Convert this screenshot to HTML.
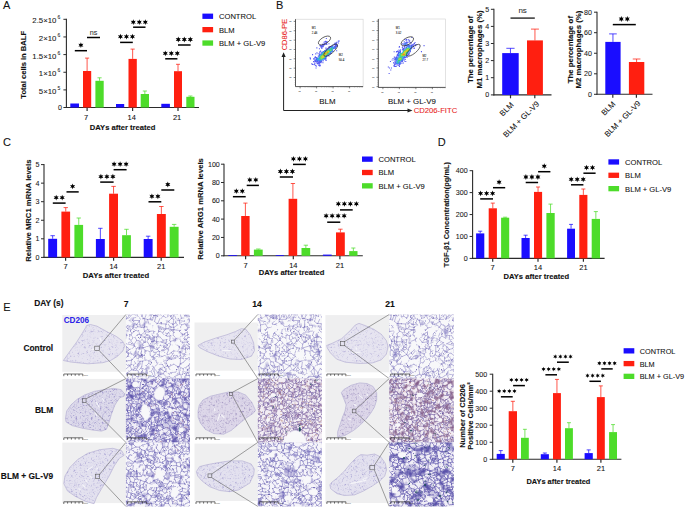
<!DOCTYPE html><html><head><meta charset="utf-8"><style>html,body{margin:0;padding:0;background:#fff;overflow:hidden}svg{display:block}</style></head><body>
<svg width="685" height="508" viewBox="0 0 685 508" font-family='"Liberation Sans", sans-serif'>
<defs><filter id="soft" x="-50%" y="-50%" width="200%" height="200%"><feGaussianBlur stdDeviation="0.5"/></filter><clipPath id="c1"><rect x="62.30" y="314.50" width="63.60" height="64.10"/></clipPath><clipPath id="c2"><rect x="125.90" y="314.50" width="64.10" height="64.10"/></clipPath><clipPath id="c3"><rect x="194.50" y="314.50" width="63.30" height="64.10"/></clipPath><clipPath id="c4"><rect x="257.80" y="314.50" width="64.20" height="64.10"/></clipPath><clipPath id="c5"><rect x="325.40" y="314.50" width="63.80" height="64.10"/></clipPath><clipPath id="c6"><rect x="389.20" y="314.50" width="64.60" height="64.10"/></clipPath><clipPath id="c7"><rect x="62.30" y="378.60" width="63.60" height="63.80"/></clipPath><clipPath id="c8"><rect x="125.90" y="378.60" width="64.10" height="63.80"/></clipPath><clipPath id="c9"><rect x="194.50" y="378.60" width="63.30" height="63.80"/></clipPath><clipPath id="c10"><rect x="257.80" y="378.60" width="64.20" height="63.80"/></clipPath><clipPath id="c11"><rect x="325.40" y="378.60" width="63.80" height="63.80"/></clipPath><clipPath id="c12"><rect x="389.20" y="378.60" width="64.60" height="63.80"/></clipPath><clipPath id="c13"><rect x="62.30" y="442.40" width="63.60" height="64.00"/></clipPath><clipPath id="c14"><rect x="125.90" y="442.40" width="64.10" height="64.00"/></clipPath><clipPath id="c15"><rect x="194.50" y="442.40" width="63.30" height="64.00"/></clipPath><clipPath id="c16"><rect x="257.80" y="442.40" width="64.20" height="64.00"/></clipPath><clipPath id="c17"><rect x="325.40" y="442.40" width="63.80" height="64.00"/></clipPath><clipPath id="c18"><rect x="389.20" y="442.40" width="64.60" height="64.00"/></clipPath><pattern id="vc" patternUnits="userSpaceOnUse" width="80" height="80"><rect width="80" height="80" fill="#f8f8fa"/><path d="M169 240l21 2M167 231l20-13M187 218l7 14M212 220l-24-5M212 220l-4 14M188 215l-1 3M177 165l2-11M177 165l29-4M179 154l14-10M193 144l15 15M206 161l2-2M172 172l27 11M204 178l-4 5M204 178l2-17M173 170l4-5M199 183l1 0M222 173l-7 8M222 173l-4-7M215 181l-11-3M208 159l2-1M204 133l-10 0M204 133l12 9M194 133l-1 11M210 158l8-11M270-2l8 23M270-2l11-1M281-3l9 3M306 13l-8-8M291 23l-13-2M-12 168l13-13M-12 168l11-26M1 155l4-10M9 146l-4-1M10 162l-1 1M306 13l5 1M298 5l7-23M311 14l0 0M311 14l9-20M169 240l-1 1M190 242l0 5M168 241l0 2M237 112l-9-1M251 97l-2 14M251 97l-18-17M228 111l-10-6M248 111l1 0M218 105l-1-3M233 80l-6 1M227 81l-11 17M217 102l-1-4M245 130l-7 9M245 130l3-19M231 139l6-27M187 95l30 7M187 95l18-10M205 85l11 13M234 151l-13-5M221 146l-3 1M232 163l8 3M240 166l3-1M231 139l-10 7M216 142l12-31M231 178l9-12M313 28l6 17M308 55l11-10M313 27l26 13M312 22l31 14M291 23l-3 9M295 48l1 0M313 28l0-1M330 50l-11-5M342 16l-31-2M10 162l15 12M9 163l-9 13M0 176l10 2M12 160l19 2M31 162l-5 11M194 133l-7-5M179 154l-4-14M187 128l0 0M187 128l-1 0M175 140l11-12M118 263l-11-8M118 263l0 15M101 271l6 4M101 271l5-15M106 256l1-1M118 278l-11-3M85 257l0 0M85 257l3 15M85 257l21-1M94 273l7-2M88 272l3 2M108 251l13-9M118 263l4-1M121 242l1 20M40 26l-8 9M40 26l-12-15M22 16l2 19M24 35l8 0M56 39l-1-9M56 39l0 0M56 39l-8 1M48 40l-16-5M55 30l-15-4M33 7l19 10M55 30l-3-13M290 0l6-17M317 140l-14-4M317 140l1-14M304 130l10-6M318 126l-4-2M270-2l-11-3M212 73l-8-15M212 73l-8 8M204 81l-7-5M197 76l2-13M199 63l5-5M221 71l-9 2M221 71l6 10M199 63l-14-3M185 60l-2 13M111 32l-4 5M111 32l14-4M139 49l-1 2M136 53l2-2M-7 178l7-2M223 293l6 5M223 293l0-7M229 285l-6 1M229 285l6 4M229 298l-1 2M216 297l6 4M228 300l7 10M303 136l-7 4M304 130l-9-1M231 181l-13 11M233 183l-9 20M218 192l-4 8M224 203l-9-3M214 200l1 0M215 181l3 11M207 199l-7-16M207 199l7 1M187 213l20-14M187 213l1 2M212 220l4-3M208 234l6 3M216 217l12 10M228 227l-14 10M317 140l-21 12M296 140l-3 8M293 148l3 4M124 167l9 1M124 167l-5 9M139 184l-6-16M139 184l-12-2M119 176l8 6M124 167l-7-12M99 163l-6 7M99 163l9-8M108 155l9 0M119 176l-4 5M209 270l-9-7M209 270l-6-14M200 263l3-7M201 253l14-8M215 245l9 11M223 258l1-2M201 253l-7-2M198 264l-4-13M190 247l3 3M214 237l1 8M193 250l1 1M238 139l1 1M234 151l5-3M239 140l0 8M251 97l5-8M233 80l10-12M256 89l-13-21M223 63l15-6M238 57l6 3M243 68l1-8M309 117l-12-1M309 117l0 1M309 118l5 6M295 129l-5-8M280 126l1 15M281 141l12 7M290 121l-6 1M251 112l28-9M251 112l9 9M260 121l20 5M284 122l-5-19M251 112l-2-1M256 89l4-3M260 86l4 0M270 88l-6-2M270 88l9 14M279 102l0 1M311 67l9 1M311 67l-3-12M277 33l2 13M277 33l-8-5M269 28l0 0M269 28l3 10M272 38l5 9M277 47l2-1M290 44l-11 2M259-5l-1 32M258 27l11 1M258 27l-3 3M255 30l3 15M258 45l14-7M55 146l13-4M73 124l6-14M79 110l21 7M78 127l2 2M103 130l-6 6M103 130l-1-13M80 129l17 7M102 117l-2 0M79 42l-23-3M52 60l4-21M52 60l12 13M67 72l-3 1M131 68l4-13M131 68l27 13M158 81l1-8M135 55l1-2M138 51l16 15M154 66l5 7M175 91l-2 0M158 82l15 9M183 73l-16-9M159 73l8-9M106 78l6-9M106 78l3 7M112 69l17 2M129 71l-1 9M128 80l-2 3M158 82l-11 11M109 87l0 5M109 87l-20 4M189 108l9 10M198 118l12-4M215 107l-5 7M187 108l0 20M187 108l2 0M187 128l11-10M178 99l9 9M218 105l-3 2M173 91l-21 15M147 93l-3 8M152 106l-8-5M121 242l2-1M119 278l10-14M119 278l-1 0M85 257l-2-17M108 251l-16-13M92 238l-6 0M74 186l0 2M74 186l2 0M76 186l16 9M94 199l-3 18M74 188l5 29M79 217l6 4M91 217l-6 4M55 303l-8 11M55 303l9 13M47 314l8 3M58 295l11 2M58 295l-3 8M53 337l2-20M63 331l8-12M68 317l3 2M45 157l10-11M45 157l22-4M68 142l2 6M67 153l3-5M45 157l0 0M76 186l5-10M67 184l-12-7M92 195l23-13M93 170l-12 5M115 181l0 1M81 176l0-1M60 208l5-6M63 224l8-4M37 226l11 7M38 217l4-6M42 211l18-3M48 233l12-2M60 231l3-7M79 217l-8 3M83 240l-8 0M86 238l-1-17M73 124l-5 1M80 129l2 12M70 148l2 0M82 141l-10 7M81 175l1-22M48 40l-14 10M43 61l-9-10M24 35l-1 1M-8 22l31 14M-7 27l26 13M19 40l4-4M-9 14l31 2M23 36l0 0M33 7l13-13M53 17l-1 0M53 17l2-20M204 58l3-6M238 57l-3-10M235 47l-10-6M210 52l12-10M112 69l-4-7M108 62l2-4M110 58l0-10M90 59l7 0M90 59l-9-18M97 59l3-6M81 41l1-1M107 37l-9 2M110 48l-10 5M103 62l-6-3M-11 118l13-13M0 102l2 3M104 301l0 0M104 301l-7 10M86 294l-6 1M80 295l6 18M86 313l11-2M94 273l7 26M107 275l-3 26M110 301l13-17M105 302l-1-1M88 272l-16 3M73 294l-1-19M73 294l7 1M71 319l5 2M69 297l4-3M76 321l10-8M216 297l-6-1M210 296l-3-6M207 290l5-7M198 264l-3 7M187 271l3 2M187 271l6-21M195 271l-5 2M209 270l2 2M195 271l16 1M229 285l0-12M221 266l-9 7M212 283l0-10M221 266l2-8M171 259l-1 2M170 261l6 7M231 205l13-13M228 227l3 0M231 205l3 7M249 205l-1-11M249 205l-5 8M244 192l0 0M234 212l10 1M333 215l-11 2M313 224l1-2M313 224l29 12M314 222l8-5M252 164l1 0M252 164l-2 1M250 165l-3 21M248 151l-5-3M243 165l7 0M239 148l4 0M244 192l3-6M264 196l-16-2M264 196l2-4M265 183l-4-3M260 161l7-1M260 161l-2-20M261 137l-3 4M271 163l21-5M296 152l0 3M296 155l-4 3M260 121l1 16M229 273l10 0M236 289l3-16M249 205l13 12M244 213l13 7M141 165l25 13M139 184l2 4M141 188l8-1M149 187l8-4M166 178l-9 5M172 172l-3 5M173 170l-16-20M141 165l3-10M118 193l13 12M131 205l9-16M130 187l10 2M109 199l2-1M111 198l7-5M115 182l3 10M118 209l13-4M127 182l3 5M150 200l-1-13M150 200l-11 8M133 207l-2-2M133 207l6 1M244 142l-1 2M244 142l4-2M243 144l7 2M248 140l3 2M251 142l-1 4M239 140l5 2M243 148l0-4M245 130l3 10M248 151l2-5M258 141l-7 1M297 97l10-7M297 97l1-12M307 90l1-3M308 87l-2-2M298 85l8 0M246 30l9 0M246 30l-3-2M243 28l-6-23M237 5l1-3M298 103l-3 5M295 108l-13-7M287 93l-5 8M309 117l1-16M297 116l-2-8M297 97l-1 2M307 90l1 9M89 90l-12-16M89 90l9-12M98 78l-2-4M106 78l-8 0M103 62l-7 12M90 59l-3 9M79 42l2-1M79 106l-15-8M61 79l3 8M61 79l3-6M89 95l-1 1M126 83l-3 15M123 98l3 4M143 102l1-1M104 114l-4-8M104 114l1 0M105 114l11-17M100 106l10-12M110 94l6 3M123 98l-7-1M117 114l9-12M117 114l-12 0M109 92l1 2M123 241l0 0M123 241l-2-5M48 256l20-4M68 252l4 8M75 240l-7 12M85 257l-13 3M72 275l-2-2M46 314l-3-9M46 314l-13 13M32 304l-5 10M58 295l-1-1M57 294l-14 10M43 304l0 1M28 294l4 10M24 199l-6-9M35 191l0-4M18 190l13-6M18 190l0 0M35 187l-4-3M8 199l10 7M18 206l5-1M23 205l1-6M42 202l-7-11M38 217l-15-12M55 177l-20 10M10 178l8 12M26 173l5 11M1 194l7 5M8 199l0 0M31 162l8-8M45 157l-6-3M83 152l8 1M91 153l2-8M82 141l3 5M82 153l1-1M97 142l0-6M97 142l-4 3M108 155l-11-13M43 61l-3 3M40 64l-12 1M28 65l-2-3M34 51l-5 4M26 62l3-7M19 40l-6 8M29 55l-16-7M-1 45l-6-17M-1 45l11 5M308 87l21 0M311 67l-3 3M320 68l12 13M308 70l-2 15M238 2l-27 0M212-3l-1 4M211 2l0-1M55 30l15-10M53 17l10-6M70 20l-7-9M82 40l1-19M83 21l0 0M68-3l3 2M63 11l8-12M86-7l-10 8M71-1l5 2M158 6l-17 11M158 6l-2-7M149-5l-20 18M129 13l1 4M130 17l8 1M138 18l3-1M165 16l17 12M182 28l10-6M192 22l2-2M194 19l0 1M158 6l7 9M141 17l18 11M159 28l6-12M156-1l2-1M185 60l-2-4M207 52l-5-6M110 15l10-9M115 3l2 1M103 18l-3-3M111 32l-8-14M83 21l17-6M105-18l10 21M117 4l5-15M2 105l8 9M10 114l-2 8M8 122l-10 4M9 146l18-8M-1 142l-2-2M27 138l-14-13M13 125l-5-3M-9 14l9-20M341 239l-27 2M338 243l-20 3M318 246l-4-5M305 231l8-7M305 231l0 4M305 235l9 6M76 321l1 1M105 302l10 21M119 305l-9-4M122 309l-5 15M224 309l-12 8M212 317l1-7M330 178l-10-2M320 176l9-13M321 194l-9 17M310 177l-14 11M312 211l-17-19M295 192l1-4M328 199l-7-5M314 222l-2-11M320 176l-7 2M305 231l-4-3M301 228l-6-35M295 193l0-1M287 167l-5 11M287 167l-14 0M282 178l-7-5M296 155l11 14M307 169l3 8M287 184l9 4M265 183l10-10M268 291l-10 24M268 291l-3-5M265 286l-14-4M251 282l-3 20M258 315l-4-1M248 302l6 12M238 290l11-9M238 290l10 12M249 281l2 1M235 310l8 7M236 289l2 1M269 209l-2 6M284 205l12 21M296 226l-21 1M264 196l5 13M295 193l-11 12M272 241l-2 1M272 241l3-14M249 233l21 9M301 228l-5-2M239 273l4-1M247 273l-4-1M232 253l9 13M110 211l4 1M110 211l-5 2M114 212l4 11M118 223l-14-2M105 213l-2 6M103 219l1 2M109 199l1 12M94 199l11 14M133 207l-5 9M102 230l2-9M121 236l-2-13M91 217l12 2M155 204l2-1M155 204l-3 10M157 203l20-2M155 219l-3-5M155 219l23-14M177 202l0-1M150 200l5 4M157 183l0 20M169 177l8 24M167 231l-9-4M158 227l-3-5M155 222l0-3M199 183l-22 19M258 45l1 3M277 47l-1 1M259 48l17 0M244 60l0 0M244 60l14-11M259 48l-1 1M286 81l11-13M286 81l1 3M293 85l6-17M293 85l-5 0M288 85l-1-1M264 86l16-14M280 72l6 9M287 93l1-8M295 48l-5 14M290 62l7 6M225 32l-12-7M225 32l5-5M230 27l-3-9M213 25l2-4M215 21l12-3M227 18l0 0M243 28l-13-1M237 5l-10 13M212 3l15 15M211 2l1 1M28 114l-5-4M28 114l-15 11M15 109l8 1M61 79l-19 7M42 99l-2-4M40 95l2-9M40 64l-1 19M42 86l-3-3M39 154l-1-1M61 124l-23 29M140 139l-4 5M140 139l4-12M132 123l-8 3M124 126l-4 9M143 125l1 2M136 144l-14 1M120 135l2 10M157 150l0-3M157 147l-17-8M144 155l-8-11M117 114l7 12M143 102l0 23M152 106l7 7M154 127l5-14M154 127l-10 0M157 147l5-10M154 127l1 1M155 128l7 9M162 137l3 0M168 243l-15 4M170 261l-14 2M156 263l-5-12M151 251l2-4M168 241l-15-2M153 247l0-8M158 227l-6 10M152 237l1 2M57 294l0-13M57 294l-16-5M41 289l8-11M57 294l0 0M69 273l-12 8M33 287l-4-11M29 276l4-10M44 261l-9 2M33 266l1-2M10 53l9 9M0 68l12 13M12 81l0 0M26 62l-7 0M28 79l-1 0M27 79l-15 2M330 114l-8-9M320 102l2 3M318 126l10-4M309 118l13-13M198 24l4 19M198 24l14 1M202 43l9-10M212 25l-1 8M194 45l-2-23M202 46l0-3M222 42l-11-9M77 2l2 7M77 2l23 4M100 6l0 0M83 21l-4-12M76 1l1 1M101 7l-1-1M159 31l-8 6M145 46l6-9M154 66l6-14M169 38l-3 15M166 53l3 3M169 56l1 0M159 31l10 7M188 46l-8-9M259 315l11 3M281 317l-11 1M281 317l0-2M268 291l8-2M276 289l5 13M319 271l0 0M319 271l34-5M318 246l8 13M149 269l-14-3M135 266l-2-2M137 253l-4 11M123 241l9-1M132 240l6 8M156 263l-4 5M138 248l13 3M129 285l7 4M150 269l-14 20M190 273l0 7M176 268l-5 14M171 282l8 6M179 288l11-8M207 290l-8 0M191 312l7-20M195 313l15-17M198 292l1-2M188 312l-6-16M179 288l1 7M319 142l-11 26M325 145l-4 10M308 168l13-13M317 140l2 2M232 253l3-3M241 266l8-9M249 257l-14-7M231 227l10 8M235 250l6-15M241 235l7-1M276 61l-10-1M276 61l4 5M280 66l-1 2M279 68l-17 3M266 60l-5 9M262 71l-1-2M258 49l8 11M280 72l-1-4M260 86l2-15M244 60l17 9M15 109l0-1M15 108l-7-18M-12 87l21 0M8 90l1-3M25 92l-15-7M22 98l-13-11M22 98l7 0M29 98l1-1M10 85l-1 2M27 79l-2 13M15 108l7-10M9 87l0 0M23 110l6-12M28 114l4 2M42 99l-10 17M57 120l0 0M57 120l-26 22M34 120l-7 18M27 138l4 4M32 116l2 4M38 153l-7-11M27 138l0 0M169 111l12 15M169 111l0 0M181 126l-10-1M165 137l6-12M178 99l-9 12M140 236l-6 2M140 236l13-14M134 238l1-8M135 230l5-8M132 240l2-2M152 237l-12-1M128 216l7 14M133 207l7 15M1 194l-9 17M2 217l-8 5M2 217l11-2M13 215l15 15M-7 224l29 12M28 230l-6 6M18 206l-5 9M37 226l-9 4M33 266l-34 5M-1 271l0 0M6 259l3-1M5 281l-5-2M28 294l-9 2M5 281l14 15M27 314l-12-10M15 304l4-8M294 276l10-16M297 250l7 10M287 253l-5 7M281 285l13-9M281 285l-3-21M319 271l-15-11M272 241l15 12M320 279l5 2M280 287l7 5M280 287l1-2M307 285l-2 3M305 288l-18 4M276 289l4-2M281 302l7-7M287 292l1 3M281 315l7-19M288 296l0-1M320 279l-2 2M327 308l-9-27M307 285l10-4M318 281l-1 0M317 281l-3 25M212 317l-1 4M184 317l1-2M188 312l-3 3M238 322l-27 0M212 323l-1-1M211 321l0 1M162 285l-1 0M152 268l8 16M161 285l-1-1M160 284l-22 8M119 305l19-13M122 309l6 2M128 311l11-18M139 293l-1-1M138 292l0 0M172 297l4-1M185 315l-11-7M176 296l-2 12M251 261l0-4M251 261l11 9M251 257l6-3M257 254l3 0M268 266l-3 4M249 257l2 0M248 234l9 20M270 242l-10 12M265 286l0-16M18 243l-20 3M18 243l3-3M21 240l0-1M21 239l-27 2M-6 241l4 5M6 259l-8-13M35 263l-14-23M-16 260l15 11M-1 45l-11 10M0 68l-9-1M303 300l-7 3M303 300l2 2M305 302l-7 23M296 303l-6 17M305 288l-2 12M288 296l8 7M314 306l-9-4M281 317l9 3M320 314l-9 20M270 318l8 23M184 317l-26 1M158 326l-2-7M158 318l-2 1M0 279l-2 2M15 304l-8 4M-2 281l9 27M159 296l-1 1M158 297l1 19M167 302l0 5M167 307l-8 9M161 285l-2 11M139 293l6 8M172 297l-5 5M158 318l1-2M149 315l-2-3M149 315l-20 18M147 312l-16 2M145 301l2 11M0 314l-9 20M259 315l-1 32" transform="scale(0.25)" stroke="#8078bf" stroke-width="2.0" fill="none" stroke-linecap="round"/><path d="M60.3 17.1h0.9v0.9h-0.9zM47.0 35.7h0.9v0.9h-0.9zM2.3 63.4h0.9v0.9h-0.9zM27.2 49.6h0.9v0.9h-0.9zM64.9 73.6h0.9v0.9h-0.9zM41.7 35.5h0.9v0.9h-0.9zM0.8 8.9h0.9v0.9h-0.9zM57.4 14.5h0.9v0.9h-0.9zM41.7 13.2h0.9v0.9h-0.9zM62.8 16.6h0.9v0.9h-0.9zM61.0 35.2h0.9v0.9h-0.9zM59.3 28.4h0.9v0.9h-0.9zM76.3 39.8h0.9v0.9h-0.9zM32.1 32.8h0.9v0.9h-0.9zM24.1 53.2h0.9v0.9h-0.9zM13.7 12.2h0.9v0.9h-0.9zM76.2 16.6h0.9v0.9h-0.9zM64.1 6.6h0.9v0.9h-0.9zM47.0 8.3h0.9v0.9h-0.9zM28.5 26.4h0.9v0.9h-0.9zM48.5 0.3h0.9v0.9h-0.9zM21.9 60.2h0.9v0.9h-0.9zM60.0 62.5h0.9v0.9h-0.9zM45.6 59.7h0.9v0.9h-0.9zM34.4 24.9h0.9v0.9h-0.9zM64.2 31.4h0.9v0.9h-0.9zM10.5 75.6h0.9v0.9h-0.9zM10.2 60.7h0.9v0.9h-0.9zM16.5 67.9h0.9v0.9h-0.9zM49.4 74.7h0.9v0.9h-0.9zM47.7 66.6h0.9v0.9h-0.9zM39.2 70.4h0.9v0.9h-0.9zM32.3 73.4h0.9v0.9h-0.9zM51.1 72.8h0.9v0.9h-0.9zM3.4 28.9h0.9v0.9h-0.9zM71.3 21.2h0.9v0.9h-0.9zM43.0 33.2h0.9v0.9h-0.9zM0.8 3.3h0.9v0.9h-0.9zM38.8 29.9h0.9v0.9h-0.9zM70.2 25.9h0.9v0.9h-0.9zM12.5 9.5h0.9v0.9h-0.9zM32.5 77.9h0.9v0.9h-0.9zM71.0 42.3h0.9v0.9h-0.9zM41.1 49.1h0.9v0.9h-0.9zM58.8 4.4h0.9v0.9h-0.9zM74.2 69.2h0.9v0.9h-0.9zM36.9 26.7h0.9v0.9h-0.9zM42.0 39.9h0.9v0.9h-0.9zM25.1 9.9h0.9v0.9h-0.9zM57.4 70.4h0.9v0.9h-0.9zM51.4 23.0h0.9v0.9h-0.9zM34.5 14.9h0.9v0.9h-0.9zM74.1 19.8h0.9v0.9h-0.9zM27.9 51.3h0.9v0.9h-0.9zM58.3 35.7h0.9v0.9h-0.9zM10.9 32.4h0.9v0.9h-0.9zM64.6 22.1h0.9v0.9h-0.9zM32.3 21.6h0.9v0.9h-0.9zM29.2 26.5h0.9v0.9h-0.9zM37.8 65.6h0.9v0.9h-0.9zM64.6 13.7h0.9v0.9h-0.9zM18.7 27.2h0.9v0.9h-0.9zM53.8 58.2h0.9v0.9h-0.9zM58.2 17.1h0.9v0.9h-0.9zM17.6 78.1h0.9v0.9h-0.9zM46.5 60.3h0.9v0.9h-0.9zM16.1 49.0h0.9v0.9h-0.9zM23.2 38.4h0.9v0.9h-0.9zM35.1 68.0h0.9v0.9h-0.9zM28.5 58.4h0.9v0.9h-0.9zM24.4 47.9h0.9v0.9h-0.9zM67.7 18.5h0.9v0.9h-0.9zM33.1 77.3h0.9v0.9h-0.9zM65.4 69.9h0.9v0.9h-0.9zM47.6 29.6h0.9v0.9h-0.9zM11.2 68.5h0.9v0.9h-0.9zM9.1 73.8h0.9v0.9h-0.9zM73.5 75.1h0.9v0.9h-0.9zM61.7 52.3h0.9v0.9h-0.9zM30.7 65.8h0.9v0.9h-0.9zM45.9 40.5h0.9v0.9h-0.9zM10.7 9.4h0.9v0.9h-0.9zM53.3 11.0h0.9v0.9h-0.9zM55.5 34.4h0.9v0.9h-0.9zM10.2 44.4h0.9v0.9h-0.9zM62.5 78.3h0.9v0.9h-0.9zM19.6 31.0h0.9v0.9h-0.9zM38.3 38.5h0.9v0.9h-0.9zM18.6 26.1h0.9v0.9h-0.9zM7.1 45.3h0.9v0.9h-0.9z" fill="#4d43a0" opacity="0.8"/></pattern><pattern id="vg" patternUnits="userSpaceOnUse" width="80" height="80"><rect width="80" height="80" fill="#f6f5fa"/><path d="M219 232l10-12M207 221l13-12M229 220l-1-10M228 210l-8-1M219 243l23-14M242 229l-4-4M238 225l-9-5M200 219l-8 14M192 233l-19-20M173 213l24-3M200 219l7 2M204 198l16 11M197 210l3-11M215 249l-23-15M212 253l-29-2M218 247l-3 2M218 247l1-4M192 233l0 1M169 242l4 3M173 245l4 0M173 213l-5-2M148 109l-7 11M148 109l9 7M141 120l17-3M157 116l1 1M165 102l-8 14M165 102l-2 0M148 101l0 8M171 110l-9 14M165 102l2 0M162 124l-4-7M171 107l-4-5M157 135l6-5M157 135l-12 4M163 130l-1-6M145 139l-14-7M141 120l-9 11M132 131l-1 1M163 130l7 0M171 110l2 2M170 130l3-18M166 209l6-9M166 209l2 2M197 196l-20-2M184 132l2-2M173 112l14 13M239 332l4-11M243 321l-4 0M239 321l-14 10M241 263l0-19M241 263l14-5M255 258l-3-12M252 246l-7-4M245 242l-4 2M237 265l4-2M218 247l3 1M245 230l-3-1M245 230l0 12M224 188l-17 7M224 188l14 1M207 195l-3 3M228 210l12-16M238 189l2 5M148 101l-4-4M132 131l-4-30M128 101l16-4M127 63l-10-6M138 53l-2-3M136 50l-21-2M115 48l2 9M147 54l-9-1M129 75l6 1M129 75l-2-12M106 74l0 0M106 74l12 10M117 57l0 1M224 188l-10-10M207 195l0-15M207 180l-8-5M177 194l1-15M195 188l-17-9M157 135l10 11M184 132l1 8M167 146l18-6M172 249l-15 13M168 272l-14-2M157 262l-3 8M172 200l-10-25M178 179l0-2M178 177l-10-2M162 175l6 0M144 69l9 4M136 77l9 1M145 78l8-5M105 19l-6-3M106 8l14 0M114 21l6-13M106 8l-3-10M121 8l-1 0M155 54l-6 0M155 54l2-16M157 38l-5-6M147 54l2 0M131 34l5 16M131 34l9-5M147 32l-7-3M187 86l-6 0M192 101l-21-7M181 86l-9 5M171 94l1-3M187 68l14 4M187 68l-2 0M201 72l-14 14M176 73l5 13M191 105l2 11M193 102l20-9M193 116l26 4M219 120l-6-27M171 107l20-2M167 102l4-8M186 130l22 4M219 120l-11 14M219 120l0 0M38 4l-19-11M99 16l0 0M90-2l9 17M99 16l0-1M215 9l10 2M215 9l5-12M229-4l10 5M225 11l14-10M215 9l-2 1M213 10l2 16M215 26l3 2M225 11l3 8M225 24l3-5M239 12l4-11M239 1l4 0M187 68l3-19M185 68l-10-18M190 49l-15 1M198-11l4 18M202 7l11 3M246 306l-18 0M243 321l0 0M239 321l-10-5M228 306l1 10M215 329l5-12M220 317l9-1M202 327l-4-18M187 332l-2-10M185 322l11-14M175 311l-4 9M182 303l9 3M185 322l-14-2M196 308l-5-2M175 311l-12-5M163 306l5-14M181 301l-13-9M172 251l11 25M168 272l5 6M173 278l10-2M236 290l3 3M239 293l12-13M248 278l3 2M237 271l-9 8M228 279l-1 2M227 281l9 9M240 298l7 5M240 298l-1-5M255 281l-4-1M255 281l-4 19M237 265l0 6M261 278l3-8M255 258l10 6M265 264l-1 6M295 293l-11-10M290 304l-13 0M277 304l-6-5M269 285l2 14M261 278l8 7M264 270l20 7M284 277l0 6M259 301l5 24M259 301l12-2M264 325l13-21M251 300l8 1M243 321l15 6M90 69l-4 0M90 69l2 4M92 73l-10 2M86 69l-6 4M82 75l-2-2M204 168l10 2M204 168l1-11M205 157l23 2M199 175l-1-2M178 177l1-2M179 175l19-2M214 178l0-8M204 168l-6 5M198 173l0 0M159 307l-7-12M168 292l-1-2M167 290l-3 0M152 295l12-5M154 270l-6 2M164 290l-16-18M152 295l-6 0M148 272l-9 0M139 272l0 0M138 279l1-7M131 132l-5 2M128 101l-5-3M126 134l-16-25M110 109l13-11M118 84l0 4M145 92l-9-15M118 88l5 10M151 163l0 2M151 165l20-5M151 160l16-8M167 152l7 5M174 157l-3 3M154 174l-3-9M154 174l8 1M145 139l6 21M167 146l0 6M147 187l7-13M147 187l-11-3M151 163l-19 1M132 164l4 20M91 32l-14-10M99 15l-22 0M77 22l0-7M78 3l6-9M76 14l1 1M19-7l-10 15M8 8l-18-11M176 73l-3-1M175 50l-3-1M173 72l-1-23M155 54l2 1M157 38l10-1M172 49l0-2M157 55l15-6M153 73l1 1M154 74l7-2M131 34l-9 0M140 29l0-6M140 23l-11-12M134-4l3 7M137 3l-8 7M122 34l-2 0M120 34l-6-13M129 10l0 1M208 139l16 10M185 140l1 4M20 93l-8-10M20 93l-6 15M12 83l-7 5M5 88l2 17M7 105l7 3M3 88l-12 15M7 105l-13 2M75 76l5-3M66 65l8-5M218 42l3-3M221 39l5 2M226 41l1 9M210 54l8 2M218 56l9-6M243 1l0 0M205 56l5-2M206 39l-2 15M205 56l-4 16M201 72l0 0M204 54l-11-7M229 300l-1 5M228 305l-17 2M216 299l-6 7M210 306l1 1M228 306l0-1M227 281l-2 2M225 283l1 14M220 317l-9-10M225 283l-8 2M217 285l-1 14M198 309l5-3M203 306l7 0M183 276l3 0M186 276l2 3M183 251l9 15M298 321l0 2M328 328l-18-11M310 317l-12 4M246 198l6 3M246 198l-4 21M242 219l7-1M238 225l4-6M240 194l6 4M245 230l6-3M251 227l-2-9M236 166l18-8M236 166l-7-7M229 159l-1-8M252 141l2 17M252 141l-22 7M228 159l1 0M204 156l1 1M224 149l4 2M230 123l-11-3M170 321l12 11M156 317l3-10M180 157l4-5M180 157l1 10M181 167l13-2M184 152l10 7M194 159l0 6M186 144l-2 8M174 157l6 0M179 175l2-8M198 173l-4-8M204 156l-10 3M166 209l-13-2M147 187l2 13M153 207l-4-7M110 234l-3 1M97 217l-1 3M97 217l7-3M104 214l7 5M79 223l-5-5M79 223l3-2M82 221l7-11M74 218l10-10M84 208l5 2M89 210l0 0M89 210l8 7M96 220l-14 1M61 213l2-1M61 213l-3 13M80 226l-22 0M80 226l-1-3M74 218l-10-6M64 212l-1 0M37 273l0 0M37 273l-4 0M33 273l-7 16M38 291l-2 1M37 273l4 10M26 289l2 4M61 320l4 11M61 320l-4-2M36 292l7 12M28 293l-12 13M16 306l3 7M19 313l19 11M12 82l4-5M12 82l-4-4M16 77l-5-13M8 78l-4-6M11 64l-7 8M65 11l-13 2M52 13l4 9M44 5l8 8M61 0l-4-2M61 0l4 11M76 14l-1 0M35 12l4-7M35 12l-5 4M39 5l-1-1M9 8l1 2M30 16l-16-2M14 14l-2-1M12 13l-2-3M165 74l2 12M162 73l-7 14M173 72l-8 2M161 72l1 1M172 91l-5-5M163 102l-5-14M148 80l4-3M148 80l2 8M150 88l2-1M145 78l3 2M145 92l5-4M137 3l4 0M148 16l-7-13M141 3l10-6M44 5l-5 0M74 42l10 6M74 42l-8 0M66 42l9 16M75 58l5-1M86 69l0-10M86 59l-6-2M90 69l7-8M86 59l4 0M90 59l7 2M106 74l-8 4M106 74l-8-13M97 61l1 0M117 58l-18 2M99 60l-1 1M31 77l-11 16M33 79l2 5M35 84l-1 10M20 93l14 1M26 74l4 3M26 74l-10 3M20 93l0 0M30 77l1 0M51 88l-3-4M51 88l-1 7M42 106l-8-12M48 84l0-6M39 77l9 1M59 83l-8 5M59 83l-8-11M48 78l3-6M201 72l10 8M213 93l1-3M243 96l-17-5M214 90l12 1M259-19l5 24M277-16l-13 21M191 306l3-22M203 306l2-17M194 284l11 5M188 279l4 3M217 285l-7-1M205 289l5-5M284 277l2-6M286 271l2 0M288 271l15 6M326 276l-12-7M314 269l16-16M306 290l16 15M302 289l4 1M310 317l12-12M315 126l10 5M239 185l33-13M254 158l13 4M272 172l-5-10M103 247l-11 2M103 247l6 10M109 257l-13 3M91 259l1-10M130 218l-9-10M121 208l-10 11M120 230l5-3M118 88l-16 7M82 75l5 9M84 208l-5-5M64 212l10-8M38 291l20 0M41 283l12-5M53 278l5 13M59 300l22-2M59 300l0-8M68 286l-9 6M43 304l16-2M59 300l0 2M58 291l1 1M10 253l0-2M10 251l11-13M21 238l8 22M15 263l8 2M23 265l6-5M-6 269l16-16M0 249l-9 3M0 249l10 2M26 271l-4 11M26 289l-3-5M22 282l1 2M26 271l-3-6M15 263l-7 12M22 282l-14-7M-6 269l12 7M8 275l-2 1M-14 290l16 15M4 284l2 4M6 288l5 16M6 276l-2 8M16 306l-5-2M2 305l-12 12M11 58l-14-3M11 58l0 1M11 59l-9 9M-4 63l6 5M4 72l-2-1M2 68l0 3M7 8l-20 5M7 8l-11 14M10 10l-8 17M-3 27l1 0M2 27l-4 0M148 16l6-1M152 32l9-7M154 15l7 10M167 37l-1-11M161 25l5 1M172 47l10-15M182 32l-14-7M166 26l2-1M193 31l-2-1M191 30l3-14M194 16l20 11M214 27l-10 5M193 47l0-16M182 32l5-2M187 30l4 0M202 7l-8 8M194 15l0 1M218 28l3 11M28 164l-13-15M28 164l3 5M7 170l2-9M7 170l2 2M31 169l-22 3M7 170l-13-1M-11 137l14 6M3 143l-9 10M30 77l11-12M39 77l8-8M41 65l6 4M51 72l1-2M67 84l-8-1M67 84l0-1M52 70l4-4M66 65l-9-1M56 66l1-2M66 42l-4-3M53 48l4 16M53 48l1-3M54 45l8-6M77 22l-15 16M56 22l0 6M90 45l2 2M90 45l0-11M92 47l11 3M91 33l-1 1M91 33l13 3M103 50l9-6M112 44l1-3M84 48l6-3M74 42l16-8M62 38l0 1M120 34l-7 7M115 48l-3-4M14 108l2 3M42 106l0 2M42 108l-17 9M16 111l9 6M15 149l0-7M3 143l11-2M28 164l5-16M31 169l3 2M110 109l-12 0M102 95l-7 8M98 109l-3-6M65 127l-4-11M76 119l-14-5M284 128l-2-6M284 128l1-1M285 127l11-9M282 122l7-15M296 118l-4-9M308 124l-23 3M308 124l0-3M308 121l-12-3M275 111l-10 3M275 111l6 11M281 122l-13-2M268 120l-3-6M281 122l1 0M283 132l-19-6M268 120l-4 6M275 111l1-10M276 101l-15 10M233 122l17 6M250 128l9-18M269 143l-14-7M282 134l-24-4M255 136l-1-4M254 132l4-2M252 141l3-5M269 157l-2 5M269 157l0-14M283 134l0-2M250 128l4 4M259 110l2 1M233 39l6-3M233 39l3 14M239 36l6 14M245 50l-9 3M227 50l6 5M236 53l-3 2M218 56l7 8M233 55l0 2M233 57l-1 4M232 61l-7 3M211 80l11-9M225 64l-3 7M226 91l9-16M222 71l13 4M243 95l-8-21M235 74l0 1M239 12l2 11M231 18l9 9M241 23l-1 4M225 24l15 7M240 27l0 4M239 36l2-4M298 1l12-4M243 1l15 6M264 5l-1 2M263 7l-5 0M241 23l14-8M258 7l-3 8M241 32l11-1M255 15l-3 16M263 7l5 4M253 32l13-12M253 32l-1-1M210 282l-7-6M210 282l3-18M203 276l-1-12M202 264l8-6M213 264l-3-6M192 282l11-6M210 284l0-2M192 266l10-2M212 253l-2 5M252 246l15-9M267 237l-6-8M252 227l9 2M265 264l3-3M282 264l4 7M282 264l-6-2M268 261l8 1M267 237l2 1M269 238l1 14M268 261l2-9M270 252l12-3M282 253l0-4M323 143l-9 10M146 295l-2 4M138 279l-12 9M126 288l-3 9M123 297l0 8M144 299l-19 6M123 305l2 0M81 267l2-2M81 267l7 11M96 260l7 13M91 259l-8 6M88 278l15-5M117 262l-8-5M139 272l-21-8M126 288l-14-7M111 272l1 9M111 289l-1-5M110 284l2-3M111 289l-3 7M110 284l-12 4M88 278l-1 5M87 283l9 5M98 288l-2 0M59 302l0 1M84 307l-25-4M57 318l3-9M60 309l-1-6M80 248l-15 4M64 249l1 3M85 241l-1-6M84 235l-2-1M83 265l-3-17M92 249l-7-8M56 231l-2 3M54 234l1 8M55 242l9 7M103 247l4-12M80 226l2 8M56 231l2-5M140 245l4 2M139 244l-1-11M144 247l4-1M148 246l7-4M155 242l-9-22M146 220l-8 13M139 272l5-25M118 261l-1 1M133 248l7-3M120 230l2 3M125 227l13 6M122 233l12 9M134 242l5 2M169 242l-14 0M147 215l-1 5M147 215l-17 3M79 203l7-10M92 199l-6-6M81 267l-12-2M65 252l2 10M69 265l-2-3M82 290l5-7M68 286l-3-14M69 265l-4 7M-10 317l18 11M19 313l-10 15M2 71l-11 5M3 88l-16-5M8 78l-17-2M6 25l-4 2M6 25l9 0M12 13l-6 12M2 27l0 0M14 14l1 11M30 16l-6 15M24 31l-3-1M0 43l-1-15M0 43l9 0M-1 28l11 11M9 43l1-4M-2 27l1 1M-3 46l3-3M18 53l-9-10M13 34l-3 5M187 30l-10-13M168 25l3-6M162 3l4 0M171 19l-5-16M40 63l0-11M40 63l-14 3M22 52l4-3M53 48l-13 4M41 65l-1-2M26 74l0-8M18 53l4-1M24 31l4 7M28 38l-2 11M38 35l8 4M38 35l3-9M46 39l-1-12M41 26l4 1M28 38l10-3M54 45l-8-6M56 28l-11-1M-5 126l10 5M4 119l2 0M-7 112l11 7M14 141l-9-10M16 111l-10 8M15 142l3-2M18 140l6-18M44 133l-14 10M44 133l5-1M49 132l3 1M47 146l5-12M47 146l-17-2M30 144l0-1M42 108l0 0M42 108l7 24M42 108l18 3M60 111l2 3M61 116l-9 17M33 148l-3-4M50 164l-1 1M50 164l-3-18M62 137l3-10M70 155l-1-14M59 153l3-15M62 138l4 0M69 141l-3-3M72 164l3-6M75 158l-5-3M52 169l-3-3M50 164l9-11M80 156l1-7M80 156l-5 2M76 119l0 0M86 127l-20 11M86 127l-6-5M76 119l4 3M308 125l0-1M308 125l7 1M324 119l-11-7M308 121l1-3M313 112l-4 6M292 109l5 1M309 118l-12-8M289 107l-3-13M301 91l-15 3M301 91l7 10M297 110l11-9M276 101l2-4M286 94l-1-1M278 97l7-4M245 50l0 0M233 57l18 4M245 50l6 11M253 32l9 7M245 50l17-11M266 20l-2 19M262 39l2 0M298 1l0 2M268 11l12 3M298 3l-18 11M301 91l6-8M307 83l-10-11M285 93l-5-11M280 82l5-15M297 72l-12-5M260 74l-2-10M260 74l7 6M267 80l13 2M272 54l-14 10M272 54l12 9M285 67l-1-4M313 112l1-5M327 105l-13 2M308 101l3 2M311 103l12-15M307 83l16 5M269 238l0 0M269 238l10-2M282 249l3-8M279 236l6 5M290 192l-19 9M290 192l-4-5M286 187l-12-6M274 181l-6 18M268 199l3 2M281 169l-9 3M293 172l3 5M296 177l-10 10M272 172l2 9M252 201l6 1M272 172l0 0M258 202l10-3M314 169l-8-10M293 172l12-13M306 159l-1 0M305 159l0 0M309 156l0-19M309 156l-2 2M307 158l-7-19M300 139l7-4M307 135l2 2M323 143l-14-6M327 170l-13-1M306 159l1-1M288 140l12-1M288 140l0 0M305 159l-17-19M308 125l-1 10M283 134l5 6M84 307l1 2M60 309l24 5M84 314l1-5M108 296l0 6M100 302l8 0M123 305l-7 4M108 302l8 7M141 323l10-6M137 323l-3-7M156 317l-5 0M144 299l1 7M116 309l-13 9M106 328l-3-10M116 309l0 0M122 237l3 6M122 237l-3 13M125 243l0 2M125 245l-6 6M119 250l0 1M122 233l0 4M134 242l-9 1M110 234l9 16M133 248l-8-3M118 261l1-10M94 203l6 0M92 199l11-11M149 200l-24 1M121 208l0-4M125 201l-4 3M105 207l15-3M103 205l9-12M112 193l8 11M121 204l-1 0M73 199l-7-8M63 212l-3-24M74 204l-1-5M60 188l6 3M83 159l3 7M72 164l2 4M86 166l-12 2M85 188l2-4M85 188l-4 0M81 188l-15-8M87 184l-2-7M85 177l-10-2M66 180l9-5M86 193l-1-5M100 185l3 3M100 185l-13-1M103 188l0 0M58 182l1 4M58 182l8-2M60 188l-1-2M104 165l1 0M104 165l-16 4M105 165l-5 20M88 169l-2-3M74 168l1 7M58 181l0 1M58 181l-6-12M58 181l-9 5M34 171l-3 15M31 186l2 2M9 172l2 17M31 186l-12 3M19 189l-8 0M10 190l1-1M53 277l1-1M53 277l-3-3M42 265l0-2M53 278l0-1M37 273l13 1M67 262l-16 1M37 273l5-8M32 245l13 3M32 245l5 14M45 248l-6 12M37 259l2 1M54 234l-5-1M23 234l0-2M23 234l9 11M49 233l-26-1M54 244l-9 4M23 234l-2 4M42 263l-3-3M-15 191l14 19M-2 214l1-4M9 191l-10 19M-1 210l0 0M-2 214l24 13M23 231l-1-4M0 249l-5-16M23 232l0-1M49 186l-8 12M59 186l-12 14M41 198l6 2M187 12l-5 0M187 12l-2-10M182 12l-12-11M185 2l-14-2M194 15l-7-3M196-12l-11 14M175-9l-4 9M94 128l-1 1M93 129l-2 13M91 142l9 12M125 135l-3 8M122 143l-17 15M98 109l-4 19M95 103l-8-3M80 122l7-22M126 134l-1 1M81 149l10-7M83 159l17-5M132 164l-3-1M104 165l1-7M111 168l18-5M86 99l-9 1M86 99l1-14M79 85l8 0M77 100l-7-2M70 98l-1-2M68 86l1 10M87 100l-1-1M87 84l0 1M75 76l4 9M67 84l1 2M60 111l10-13M50 95l19 1M238 66l14-3M252 63l1 0M253 63l-9 14M236 74l8 3M232 61l6 5M251 61l1 2M272 54l-1-10M258 64l-5-1M271 44l-7-5M260 74l-12 14M248 88l-4-11M243 95l5-4M248 91l0-3M262 90l16 7M263 100l15-3M248 91l12 0M267 80l-5 10M278 97l0 0M271 44l9-8M283 31l-3 5M310-3l18 11M291 55l11-8M294 43l-3 0M294 43l8 2M302 45l0 2M287 60l4-5M280 36l11 7M298 30l-15 1M298 30l-4 13M316 54l1-8M316 54l-1 0M306 37l11 9M306 37l-4 8M305 51l10 3M263 222l-3-12M263 222l9-1M272 221l1-1M273 220l-13-12M260 210l0-2M252 227l8-17M261 229l2-7M269 238l3-17M276 219l9 5M276 219l-3 1M258 202l2 6M271 201l5 4M276 219l0-14M285 164l-4-13M285 164l6-7M291 157l-4-11M269 157l12-6M281 169l4-5M305 159l-14-2M288 140l-1 6M99 335l-9-17M78 323l6-9M84 314l0 0M107 189l5 3M112 192l14-8M115 175l8 4M123 179l3 5M111 168l4 7M128 185l-2-1M43 218l8-3M43 218l-9-3M34 215l17-8M51 207l7 5M58 212l-7 3M45 222l6-7M61 213l-3-1M47 200l4 7M33 215l2-14M33 215l-10 9M23 224l-5-18M26 201l-8 5M18 206l0 0M37 198l-2 3M34 215l-1 0M22 227l1-3M-1 210l19-4M19 189l7 12M10 190l8 16M330 39l-11-11M319 28l-1-1M318 27l4 0M329 43l-9 0M320 43l-1-15M316 22l1 5M316 22l-9-9M317 27l-11 7M307 13l-7-6M327 8l-11 14M318 27l-1 0M327 8l-20 5M306 37l0-3M317 46l3-3M298 30l2 0M322 71l-11 5M328 78l-17-2M307 83l4-7M317 55l14 3M317 55l-1 8M316 63l6 5M322 68l9-9M311 69l5-6M311 69l0 7M322 71l0-3M306 61l-3-5M306 61l-1 4M305 65l-7-5M305 65l0 0M305 51l-2 5M315 54l-9 7M311 69l-6-4M297 72l8-7M287 60l11 0M305 184l1 5M288 271l10-9M303 277l4-7M298 262l9 8M282 264l13-8M298 262l-3-6M282 253l13 0M295 256l0-3M314 269l-4 0M310 269l-3 1M315 233l5 16M330 251l-10-2M311 252l9-3M276 205l14 2M285 224l2-1M329 191l-10 19M319 210l19-4M315 233l-3-1M312 232l-7 17M318 214l24 13M295 253l1-5M305 249l-9-1M285 241l4 1M289 242l7 6M296 248l0 0M319 210l-1 4M319 210l-14-19M318 214l-17-5M296 204l4 4M296 204l2-7M301 209l-1-1M319 210l0 0M318 214l0 0M306 189l-1 2M287 223l5 2M290 207l6-3M292 225l8-17M306 228l-7 13M299 241l-4-10M301 226l-4 1M295 231l2-4M310 229l-4-1M301 209l0 17M292 225l5 2" transform="scale(0.25)" stroke="#766eba" stroke-width="2.2" fill="none" stroke-linecap="round"/><path d="M65.2 26.2h0.9v0.9h-0.9zM11.9 59.2h0.9v0.9h-0.9zM1.0 38.6h0.9v0.9h-0.9zM6.1 7.2h0.9v0.9h-0.9zM11.1 65.1h0.9v0.9h-0.9zM70.9 75.9h0.9v0.9h-0.9zM12.8 1.6h0.9v0.9h-0.9zM75.2 11.7h0.9v0.9h-0.9zM43.8 8.1h0.9v0.9h-0.9zM47.6 21.4h0.9v0.9h-0.9zM6.9 14.7h0.9v0.9h-0.9zM56.5 58.4h0.9v0.9h-0.9zM37.3 14.9h0.9v0.9h-0.9zM48.4 70.6h0.9v0.9h-0.9zM57.1 73.4h0.9v0.9h-0.9zM78.1 10.8h0.9v0.9h-0.9zM34.6 72.4h0.9v0.9h-0.9zM43.6 19.5h0.9v0.9h-0.9zM42.9 49.2h0.9v0.9h-0.9zM66.1 72.3h0.9v0.9h-0.9zM51.9 43.6h0.9v0.9h-0.9zM17.4 22.9h0.9v0.9h-0.9zM68.8 18.8h0.9v0.9h-0.9zM45.9 49.8h0.9v0.9h-0.9zM61.7 39.7h0.9v0.9h-0.9zM3.9 6.7h0.9v0.9h-0.9zM65.5 65.6h0.9v0.9h-0.9zM6.8 35.7h0.9v0.9h-0.9zM8.1 34.2h0.9v0.9h-0.9zM35.1 28.0h0.9v0.9h-0.9zM35.9 63.3h0.9v0.9h-0.9zM1.6 66.9h0.9v0.9h-0.9zM43.1 15.2h0.9v0.9h-0.9zM39.4 48.5h0.9v0.9h-0.9zM41.3 46.6h0.9v0.9h-0.9zM42.4 25.7h0.9v0.9h-0.9zM42.3 49.9h0.9v0.9h-0.9zM50.7 14.3h0.9v0.9h-0.9zM14.8 5.9h0.9v0.9h-0.9zM29.5 49.3h0.9v0.9h-0.9zM72.4 57.1h0.9v0.9h-0.9zM33.0 66.1h0.9v0.9h-0.9zM0.2 57.4h0.9v0.9h-0.9zM60.0 17.9h0.9v0.9h-0.9zM43.3 77.1h0.9v0.9h-0.9zM0.4 3.6h0.9v0.9h-0.9zM55.6 76.7h0.9v0.9h-0.9zM67.9 27.9h0.9v0.9h-0.9zM49.4 37.8h0.9v0.9h-0.9zM63.4 35.1h0.9v0.9h-0.9zM50.4 63.5h0.9v0.9h-0.9zM67.0 38.4h0.9v0.9h-0.9zM7.3 47.6h0.9v0.9h-0.9zM74.1 52.2h0.9v0.9h-0.9zM2.1 58.9h0.9v0.9h-0.9zM70.5 14.7h0.9v0.9h-0.9zM47.6 28.2h0.9v0.9h-0.9zM67.1 2.9h0.9v0.9h-0.9zM42.3 22.9h0.9v0.9h-0.9zM79.1 1.3h0.9v0.9h-0.9zM19.9 39.1h0.9v0.9h-0.9zM9.7 33.9h0.9v0.9h-0.9zM11.0 58.7h0.9v0.9h-0.9zM73.4 7.1h0.9v0.9h-0.9zM70.7 60.2h0.9v0.9h-0.9zM25.4 58.7h0.9v0.9h-0.9zM74.4 70.7h0.9v0.9h-0.9zM34.5 43.8h0.9v0.9h-0.9zM29.0 13.9h0.9v0.9h-0.9zM33.2 33.5h0.9v0.9h-0.9zM22.3 42.6h0.9v0.9h-0.9zM59.6 19.1h0.9v0.9h-0.9zM30.8 65.6h0.9v0.9h-0.9zM61.7 59.9h0.9v0.9h-0.9zM22.2 71.2h0.9v0.9h-0.9zM24.3 29.2h0.9v0.9h-0.9zM75.3 68.7h0.9v0.9h-0.9zM47.3 61.0h0.9v0.9h-0.9zM5.6 77.9h0.9v0.9h-0.9zM19.7 5.7h0.9v0.9h-0.9zM60.8 57.6h0.9v0.9h-0.9zM10.5 37.4h0.9v0.9h-0.9zM23.6 68.0h0.9v0.9h-0.9zM49.0 28.8h0.9v0.9h-0.9zM42.4 55.6h0.9v0.9h-0.9zM0.5 70.1h0.9v0.9h-0.9zM71.9 74.8h0.9v0.9h-0.9zM3.2 24.6h0.9v0.9h-0.9zM7.6 63.3h0.9v0.9h-0.9zM10.6 18.0h0.9v0.9h-0.9zM78.3 51.9h0.9v0.9h-0.9zM6.8 69.2h0.9v0.9h-0.9zM20.2 20.5h0.9v0.9h-0.9zM29.0 5.3h0.9v0.9h-0.9zM77.0 44.5h0.9v0.9h-0.9zM51.9 15.2h0.9v0.9h-0.9zM0.6 14.5h0.9v0.9h-0.9zM23.1 23.7h0.9v0.9h-0.9zM23.2 43.1h0.9v0.9h-0.9zM4.6 60.6h0.9v0.9h-0.9zM26.0 38.4h0.9v0.9h-0.9zM63.2 15.8h0.9v0.9h-0.9zM19.1 52.7h0.9v0.9h-0.9zM26.4 1.8h0.9v0.9h-0.9zM52.7 29.7h0.9v0.9h-0.9zM9.2 11.2h0.9v0.9h-0.9zM62.7 45.7h0.9v0.9h-0.9zM47.9 30.0h0.9v0.9h-0.9zM76.9 74.6h0.9v0.9h-0.9zM71.8 14.7h0.9v0.9h-0.9z" fill="#4d43a0" opacity="0.8"/><path d="M14.8 45.9h0.9v0.9h-0.9zM62.9 40.2h0.9v0.9h-0.9zM16.9 50.1h0.9v0.9h-0.9zM48.0 27.6h0.9v0.9h-0.9zM9.7 27.5h0.9v0.9h-0.9zM13.7 21.4h0.9v0.9h-0.9zM35.6 17.9h0.9v0.9h-0.9zM18.0 42.7h0.9v0.9h-0.9zM23.0 58.8h0.9v0.9h-0.9zM71.4 49.5h0.9v0.9h-0.9zM56.8 49.4h0.9v0.9h-0.9zM34.9 35.5h0.9v0.9h-0.9zM32.8 22.8h0.9v0.9h-0.9zM14.5 47.2h0.9v0.9h-0.9zM27.8 16.3h0.9v0.9h-0.9zM50.7 35.9h0.9v0.9h-0.9zM51.2 32.0h0.9v0.9h-0.9zM74.9 73.5h0.9v0.9h-0.9zM7.1 12.2h0.9v0.9h-0.9zM38.6 50.9h0.9v0.9h-0.9z" fill="#a0708e" opacity="0.7"/></pattern><pattern id="vg2" patternUnits="userSpaceOnUse" width="80" height="80"><rect width="80" height="80" fill="#f0eef6"/><path d="M118 164l10-13M118 164l4 4M122 168l11-13M128 151l5 4M70 95l-10-3M70 95l-2 9M64 105l4-1M64 105l-8-9M56 96l4-4M48 13l17-12M48 13l16 9M73 0l-8 1M73 0l8 12M116 144l10 0M126 144l4-3M129 131l-21 0M107 132l1-1M130 141l1-4M126 144l2 7M145 156l-1 1M145 156l-2-4M144 157l-11-2M130 141l13 11M144 157l2 6M124 170l5 1M124 170l-2-2M129 171l17-8M176 291l-13-1M176 291l9-9M185 282l-25-10M163 290l-3-18M157 298l6-8M157 298l-2 0M152 268l-4 24M152 268l2-1M160 270l-6-3M160 270l0 2M155 298l-7-6M152 268l-7 2M145 270l-5 9M140 279l1 10M148 292l-7-3M120 283l17 8M120 283l20-4M137 291l4-2M81 332l-8-12M73 320l-8 1M48 333l17-12M316 88l-2 4M316 88l-13-16M314 92l-8 0M303 72l3 20M232 219l-3-20M236 219l6-13M231 199l11 1M231 199l-2 0M242 200l0 6M254 216l-4 6M254 216l-12-10M252 232l22 0M254 216l12-10M274 232l0 0M274 232l-8-26M231 199l10-20M242 200l20-13M262 187l-21-8M68 164l-7-11M68 164l-7-1M61 163l0-10M75 154l-16-6M75 154l-2 9M73 163l-3 2M59 148l0 0M68 164l2 1M102 190l18 25M120 215l-20 7M100 222l-2-3M98 219l2-29M100 190l0 0M98 219l-1 0M86 203l14-13M86 203l2 12M88 215l9 4M49 52l7 3M49 52l-2-7M56 55l2-12M47 45l11-2M42 32l5 13M42 32l17 7M59 39l0 4M59 43l-1 0M40 58l9-6M40 58l-1 0M39 58l-4 0M35 58l-1-1M34 57l3-33M40 13l-3 5M40 13l8 0M37 18l0 6M64 22l9 10M59 39l14-7M37 24l0 0M76 76l7 7M76 76l-3-1M73 75l-8 1M65 76l7 18M83 83l-6 9M72 94l5-2M95 78l-11-15M95 78l-1 5M84 63l-8 13M94 83l-11 0M154 64l0-13M154 64l-8 5M146 69l-4 1M154 51l-9-1M145 50l-4 2M128 41l13 11M128 41l-12 9M117 60l18 0M117 60l0 0M117 60l-1-10M128 41l3-8M145 50l-6-22M139 28l-8 5M84 63l0-2M71 52l2 23M84 61l-10-11M59 43l9 10M73 32l5 4M78 36l0 6M71 52l-3 1M74 50l4-8M226 224l6-5M229 199l-13-5M213 200l3-6M226 175l-4 0M226 175l9 0M222 175l-7 14M241 179l-6-4M216 194l-1-5M200 185l-15 9M200 185l3 1M189 207l14-21M184 205l1-11M129 131l2-9M110 120l-2 11M110 120l17-7M127 113l2 1M131 122l-2-8M131 137l7 0M143 152l2-9M145 143l-7-6M117 187l1 1M117 187l7-17M129 171l6 10M280 286l12-5M280 286l9 13M289 299l1-1M157 298l6 8M163 306l13-2M176 291l2 3M178 294l-2 10M189 317l-2 0M189 317l0 0M176 304l13 13M164 314l23 3M189 317l2 8M187 317l-24 13M171 235l-14 3M171 235l4 7M152 245l5-7M152 245l1 6M153 251l20-1M175 242l-2 8M226 224l0 2M213 200l-14 15M199 215l23 13M222 228l4-2M154 267l-2-12M152 255l-21-3M125 254l4 10M120 283l-1-2M120 283l0 0M171 235l0-1M157 238l-8-14M162 216l9 18M164 170l-11 20M164 170l-15-4M149 166l-6 18M153 190l-10-6M135 181l3 4M143 184l-5 1M143 225l6-1M143 225l-13-5M149 224l-3-17M130 220l16-13M74 319l-1 1M74 319l1-13M65 321l-1-15M64 306l11 0M310 205l11 10M290 212l1 2M291 214l6 7M297 221l24-6M274 232l1 2M274 232l17-18M275 234l22-6M297 221l0 7M222 175l-5-13M217 162l-7-2M200 185l-4-6M210 160l-14 19M266 206l6-18M262 187l8 0M270 187l2 1M290 212l-16-24M272 188l2 0M217 162l17-21M204 131l-1 24M226 129l2 1M203 155l7 5M228 130l6 11M117 187l-15 3M118 164l-5-2M100 190l-2-3M98 187l15-25M116 144l-5 16M111 160l2 2M88 156l3 7M91 163l8-3M82 150l-7 4M82 150l6 6M73 163l15 8M100 144l-5 5M100 144l6 14M106 158l-7 2M88 171l1 10M106 158l5 2M98 187l-9-6M107 132l0 1M99 140l8-7M64 105l-10 9M56 96l-7 3M41 104l8-5M41 104l0 0M41 104l13 10M68 104l9 10M77 114l-3 2M74 116l-17 4M54 114l3 6M61 137l9-2M61 137l-5-6M74 116l-4 19M57 120l-1 11M41 104l-1 0M56 131l-16 0M40 104l0 27M42 151l5 4M42 151l-14 10M47 155l0 5M47 160l-8 9M28 161l11 8M61 163l-6 5M55 168l-8-8M59 148l-12 7M70 165l-6 16M89 181l-24 6M65 187l-1-6M55 168l2 5M57 173l-20 3M57 173l7 8M26 191l13-6M26 191l2 6M28 197l18-6M46 191l-7-6M20 160l-2 8M20 160l8 1M21 173l-3-5M21 173l16 4M37 177l0-1M88 215l-15 4M73 219l7 11M100 222l0 8M100 230l-18 9M80 230l2 9M89 306l9-10M89 306l-8-5M98 296l-5-17M93 279l-1 0M92 279l-11 22M90 314l-1-8M90 314l-16 5M75 306l4-5M40 58l9 12M56 55l2 2M58 57l-9 13M68 53l-7 4M58 57l3 0M65 76l-1 0M61 57l3 19M25 50l0-10M25 50l-8 6M25 40l-11 3M14 43l-2 12M17 56l-5-1M34 57l-9-7M37 24l-12 16M19 61l12 1M19 61l-2-5M35 58l-4 4M-2 65l7-9M19 61l-4 19M5 56l7-1M4 31l-11-7M4 31l-1 3M3 34l-6 5M37 18l-23 2M14 20l-10 11M14 43l-11-9M5 56l-8-17M-2 65l-18 3M73 0l1-1M65 1l-1-15M74-1l1-13M40 13l-6-22M137 80l5-10M137 80l10 9M147 89l3-3M146 69l8 10M154 79l-4 7M154 64l8 6M162 70l1 4M154 79l9-5M93 16l2 6M78 36l15-11M95 22l-2 3M74-1l16-5M93 16l1-7M94 9l-4-15M114-2l0-3M114-2l-20 11M163 45l11 1M163 45l-7-12M175 25l-1 21M170 18l-14 15M163 45l-9 6M139 28l4-4M156 33l-13-9M175 25l12-2M187 22l0 1M187 22l2-14M170 18l0-1M189 8l-19 9M211 50l-10 5M211 50l1 10M201 55l-1 4M208 66l-8-5M208 66l4-1M212 65l1-2M213 63l-1-3M200 61l0-2M199 215l-6-4M199 215l-4 11M193 211l-16 11M195 226l-17 1M189 207l4 4M199 215l0 0M222 230l0-2M222 230l-16 7M196 234l10 3M196 234l-1-8M184 205l-13 2M171 207l6 15M175 242l16 2M196 234l-5 10M171 234l7-7M166 207l-4 9M166 207l2-1M168 206l3 1M149 154l17 2M149 154l3-4M152 150l14 6M200 128l-11 8M189 136l-10-3M189 110l-10 23M110 120l-10-13M127 113l-2-4M100 107l20-4M125 109l-5-6M152 122l-14-11M152 122l9 2M138 111l20-1M161 124l3-4M164 120l-6-10M131 122l8 3M129 114l7-3M136 111l2 0M139 125l13-3M148 95l5 3M153 98l5 12M186 109l-18-16M186 109l-22 11M153 98l15-5M78 95l13 15M78 95l0 19M78 114l1 0M79 114l10-2M89 112l2-2M78 94l21 9M78 94l0 1M99 103l-1 3M98 106l-7 4M70 95l2-1M77 92l1 2M77 114l1 0M93 125l14 8M93 125l-4-13M100 107l-2-1M140 127l-2 10M140 127l6 6M146 133l-8 4M139 125l1 2M138 137l0 0M118 188l7 5M125 193l-4 22M280 286l-7-7M289 299l-3 8M268 310l4-31M268 310l1 1M269 311l17-4M273 279l-1 0M308 265l-12 4M308 265l14 14M302 278l-4-4M302 278l19 3M298 274l-2-5M321 281l1-2M290 298l7-3M297 295l5-17M292 281l6-7M289 264l7 5M289 264l-15 8M273 279l1-7M321 283l17 6M160 270l13-7M153 251l-1 4M173 250l1 11M173 263l1-2M185 282l3-1M173 263l15 18M191 244l2 6M193 250l-2 9M174 261l17-2M206 237l3 11M193 250l8 1M201 251l8-3M128 242l2-3M128 242l-7-12M130 239l0-5M124 226l-3 4M125 219l-1 7M140 236l-10-2M140 236l3-11M125 219l-3-3M100 230l10 15M110 245l0 0M110 245l11-15M147 243l-7-6M147 243l-13 5M140 237l-4 5M134 248l2-6M152 245l-5-2M149 224l0 0M140 236l0 1M131 252l3-4M130 239l6 3M125 254l-2-1M123 253l5-11M166 207l-11-7M155 200l-3 1M146 207l0 0M146 207l6-6M140 323l7-9M140 323l-5-10M135 313l11-8M147 314l0-9M147 305l-1 0M137 292l-18 7M135 301l-11 5M124 306l-2 0M119 299l3 7M155 298l-8 7M137 291l0 1M146 305l-11-4M120 283l-2 13M118 296l1 3M135 313l-11-7M139 330l-21-17M118 313l4-7M114 318l0-3M114 318l-20 11M114 315l-8-3M106 312l-16 2M94 329l-4-15M118 313l-4 2M115 327l-1-9M118 296l-18 1M100 297l6 15M90 314l0 0M98 296l2 1M13 272l4 2M13 272l6-22M38 263l-3-17M19 250l16-4M17 274l13 3M321 283l-1 7M297 295l18 4M315 299l4-3M320 290l19 2M309 110l5-2M309 110l-8-3M294 101l5 4M301 107l-2-2M282 73l3 17M259 76l-5 17M257 96l-3-3M257 96l10 5M285 90l-18 11M309 124l9 5M309 124l-11 10M298 134l1 5M299 139l6 3M322 133l-7 7M315 140l-10 2M309 110l0 14M314 108l11 0M318 129l9-17M310 205l-2-5M274 188l1-1M308 200l-33-13M317 39l-7 1M317 39l8 17M310 40l-8 6M302 46l-12 17M318 65l7-9M318 65l-18 3M300 68l-10-4M290 64l0-1M323 34l-6 5M303 72l-3-4M282 73l8-9M294 101l-6-3M300 23l5 6M300 23l-7 2M305 29l5 11M302 46l-9-19M293 25l0 2M285 56l0-22M293 27l-8 7M268 43l4-18M268 43l17 13M285 34l-13-9M268 43l-10 0M258 43l-10-10M248 33l23-13M271 20l1 5M234 38l-4 5M234 38l12-6M248 33l-2-1M246 32l0 0M230 43l23 11M259 76l-6-4M253 72l0-18M235 175l10-20M270 187l-13-24M257 163l-12-8M226 175l15-30M245 155l-4-10M234 141l7 3M241 145l0-1M257 96l4 11M254 93l-6 5M244 104l4-6M244 104l7 9M226 129l3-19M228 130l26-11M244 104l-15 6M251 113l3 6M81 127l-5 9M81 127l8 1M89 128l-2 12M76 136l7 6M83 142l4-2M70 135l6 1M79 114l2 13M93 125l-4 3M99 140l-12 0M61 137l-2 11M82 150l1-8M15 80l3 6M31 62l-1 17M30 79l-9 7M21 86l-3 0M18 86l0 0M-6 108l11 0M18 86l-13 22M40 131l-5 4M42 151l-9-10M33 141l2-6M35 103l-14 17M35 135l-14-15M35 103l-14-17M7 112l11 8M18 120l3 0M64 203l-5-5M44 210l11-11M44 210l3 28M59 198l-4 1M73 219l-20 20M47 238l6 1M86 203l-22 0M65 187l-6 11M73 219l0 0M38 263l9 4M65 249l-12-10M38 242l-3 4M38 242l9-4M60 258l-13 9M38 179l1 4M38 179l-19 4M39 183l-20 1M19 183l0 1M46 191l9 8M39 185l0-2M37 177l1 2M108 252l-11 26M97 278l15 0M112 278l1-28M113 250l-2-1M93 279l4-1M119 281l-7-3M123 253l-10-3M80 244l-7 7M80 244l3 1M83 245l16 10M73 251l0 0M73 251l23 6M96 257l3-2M65 249l8 2M82 239l-2 5M110 245l-27 0M108 252l-9 3M82 275l6 1M82 275l-9-24M88 276l8-19M88 276l4 3M82 275l-2 1M79 301l-4-4M80 276l-5 21M60 258l0 23M80 276l-20 5M51 85l-6 0M51 85l7-6M58 79l-9-6M49 73l-9 3M45 85l-8-7M41 104l4-19M49 99l2-14M60 92l-2-13M64 76l-6 3M49 70l0 3M39 58l1 18M14 20l-1-1M-7 17l13-3M13 19l-7-5M13 19l-3-23M-2 129l9-17M-2 156l-12-12M-2 156l3-1M-2 157l0-1M2 133l-7 7M167 87l-13-1M167 87l-2-8M165 79l-11 7M148 95l-1-6M168 88l-1-1M150 86l4 0M111 21l-8-2M111 21l9 4M112 34l-16-12M112 34l9-7M121 27l-1-2M115 7l7 5M115 7l-12 12M122 12l1 1M123 13l-3 12M115 7l-1-9M95 22l1 0M115 49l-14-4M115 49l-3-12M112 37l-13 2M101 45l-1-2M99 39l1 4M116 50l-1-1M131 33l-10-6M112 34l0 3M93 25l6 14M78 42l6 2M97 50l0 10M90 48l2 12M84 44l6 4M117 60l-15 3M102 63l-5-3M84 61l8-1M95 78l7-15M143 24l1-7M170 17l-7-7M163 10l-1 0M162 10l-18 7M187 22l10 1M187 23l3 9M190 32l4 0M194 32l2-2M197 23l-1 7M220 29l-10 0M220 29l8 16M216 45l11 2M210 38l0-9M227 47l1-2M200 39l10-1M200 39l-7 9M193 48l8 7M211 50l5-5M213 63l16-2M229 61l-2-14M229 61l4 9M230 43l-2 2M233 70l20 2M207 76l-10 0M207 76l1-10M200 61l-3 3M197 64l0 12M188 109l-2 0M168 88l16-9M194 101l-3-17M184 79l7 5M115 93l-2 3M115 93l-1-7M113 96l-13 2M112 82l2 4M112 82l-14 4M122 93l0 0M122 93l-7 0M122 93l-2 10M120 103l-7-7M122 93l-8-7M99 103l1-5M120 103l0 0M94 83l4 3M119 75l-7 7M123 92l7 3M123 92l1-14M135 80l-4 14M131 94l-1 1M122 93l1-1M125 109l5-14M119 75l5 3M137 80l-2 0M142 99l-11-5M155 195l-2-5M155 195l0 5M138 185l-1 3M152 201l-12-5M137 188l3 8M125 193l5 0M137 188l-7 5M268 310l-14-3M254 307l-9 15M245 322l7 9M254 307l-3-8M251 299l0-1M251 298l13-15M251 299l-22 9M245 322l-10 1M231 322l-4-6M229 308l-2 8M178 294l14 9M189 317l0-1M192 303l-3 13M212 316l-8 15M212 316l-10-4M202 312l-13 4M162 318l0 2M162 318l-14-4M162 320l-11 0M148 314l3 6M164 314l-2 4M162 330l0-10M139 332l12-12M319 296l28 13M191 259l2 4M188 281l0 0M193 263l-5 18M252 232l-2 4M276 239l-1-5M276 239l-10 11M266 250l-14-4M252 246l-2-10M226 226l16 10M132 205l1-6M132 205l7 0M139 205l-1-7M133 199l5-1M122 216l10-11M130 193l3 6M146 207l-7-2M140 196l-2 2M40 333l-6-22M13 339l-3-23M27 309l-17 7M27 309l4 0M31 309l3 2M315 306l2 8M315 306l-13 7M317 314l-8 10M302 315l0-2M302 315l7 10M315 299l0 7M322 316l-5-2M286 307l1 2M287 309l15 4M288 98l-3 4M285 102l-18 0M322 133l4 1M318 156l-12-12M318 156l0 1M318 157l-8 5M306 144l-2 17M304 161l6 1M305 142l1 2M321 155l-3 1M326 173l-8-16M292 149l7-10M298 161l6 0M299 233l-2-5M299 233l15-6M314 227l8-11M321 215l1 0M322 215l0 1M302-5l7 10M309 5l-5 5M304 10l-7-3M297 7l0-1M247 27l5-16M252 11l17 4M271 20l0 0M269 15l2 5M293 25l-6-7M271 20l16-2M185 194l-4-6M168 206l5-20M181 188l-8-2M155 195l17-12M172 183l1 3M210 77l1 21M210 77l6-2M211 98l8 1M219 99l9-15M230 75l-2 9M194 101l17-3M207 76l3 1M191 84l6-8M212 65l4 10M233 70l-3 5M188 109l1 1M204 131l-4-3M257 163l5-8M244 143l-3 1M244 143l5-1M262 155l-13-13M262 155l3-3M255 140l-6 2M255 140l9 9M264 149l1 3M275 187l0 0M275 187l3-32M265 152l13 3M298 161l-15 22M290 149l-12 5M278 155l0-1M301 107l-2 4M299 105l-14 17M299 111l-12 12M287 123l-2-1M278 114l7-12M278 114l4 7M282 121l3 1M262 128l4 0M262 128l-7-8M266 128l9-13M255 120l0-1M255 119l10-6M265 113l5 0M270 113l5 2M278 114l-3 1M275 135l7-14M244 143l11-23M254 119l1 0M261 107l4 6M267 102l3 11M11 132l15 12M8 152l9 3M17 155l9-11M2 133l4 1M18 120l-7 12M33 141l-7 3M20 160l-3-5M18 168l-12 5M-2 157l8 16M0 290l1-7M0 290l19 2M1 283l17 6M27 309l-28-13M29 302l2 7M29 302l-10-10M17 274l1 15M30 277l0 1M29 302l1-24M-11 4l16 8M5 12l-3-16M6 14l-1-2M16 189l-2 1M14 190l-4-5M5 175l5 10M13 247l1 0M13 247l-18-3M14 247l-5-18M14 247l5 3M38 242l-19-19M9 229l0-7M9 222l10 1M-6 227l8-11M-23 221l24-6M2 216l0-1M1 215l1 0M9 222l-7-6M-10 205l11 10M187-3l-24 13M162 10l0-10M162-2l0 2M165 79l0-4M184 79l-2-3M182 76l-17-1M163 74l1 0M165 75l-1-1M191 63l-10 6M191 63l-12-16M174 55l3 9M174 55l0-9M177 64l4 5M179 47l-4-1M197 64l-6-1M193 48l-14-1M162 70l12-15M164 74l13-10M174 46l0 0M200 39l-6-7M190 32l-15 14M305 29l8-5M313 24l11 7M301 23l11-2M301 23l3-13M304 10l9 7M312 21l1-4M300 23l1 0M313 24l-1-3M304 10l0 0M297 7l-9 10M287 18l1-1M309 5l0-1M309 4l16 8M326 14l-13 3M288 317l-4 8M288 317l9 9M287 309l1 8M276 239l15 11M289 264l2-14M274 272l-1-2M266 250l0 5M273 270l-7-15M201 251l4 8M209 248l9 4M193 263l10 2M205 259l-2 6M202 312l5-7M207 305l11 8M227 316l-9-3M328 273l-8-11M333 247l-12 9M320 262l1-6M308 265l3-4M320 262l-9-1M55 283l3 0M55 283l-2 1M53 284l-12 21M58 283l7 14M41 305l22-2M63 303l2-6M60 281l-2 2M30 278l23 6M34 311l7-6M75 297l-10 0M64 306l-1-3M318 177l1 8M318 177l-8-2M305 180l7 11M305 180l5-5M319 185l-2 5M317 190l-5 1M330 185l-11 0M325 175l-7 2M310 162l0 13M308 200l4-9M283 183l22-3M330 198l-13-8M330 201l-8 14M329 222l-7-6M288 17l-4-12M270 11l14-6M297 6l-9-9M284 5l4-8M203 155l-2 0M196 179l-4-2M201 155l-9 22M181 188l9-12M189 136l-4 5M179 133l-3 2M185 141l-9-6M201 155l-13 1M185 141l-1 3M163 147l9-5M161 127l-4 5M169 135l3 7M157 136l0-3M157 132l0 1M153 150l10-1M153 150l4-14M163 149l0-2M161 124l0 3M176 135l-7 0M146 133l11-1M174 145l-2-3M174 145l10-1M153 150l-1 0M273 141l-2 1M273 141l1-2M274 139l-15-5M271 142l-15-3M256 139l3-5M264 149l7-7M278 154l-5-13M290 149l-10-12M280 137l-5 0M275 137l-1 2M275 135l0 2M262 128l-3 6M255 140l1-1M298 134l-17 3M298 134l-5-6M281 137l7-13M293 128l-5-4M298 134l0 0M280 137l1 0M299 111l-6 17M287 123l1 1M-1 185l-1-8M-1 185l-2 5M-2 177l-8-2M5 175l-7 2M10 185l-11 0M14 190l-4 8M10 198l-13-8M10 198l0 3M10 201l-8 14M1 281l1-2M8 273l-6 6M38 210l-9-5M38 210l-15 10M23 220l-2-16M29 205l-8-1M28 197l1 8M44 210l-6 0M19 223l4-3M10 201l11 3M309 4l8-10M234 38l-6-13M220 29l4-7M228 25l-4-3M246 32l-11-12M228 25l7-5M247 27l-11-14M252 11l-7-9M245 2l-10 1M236 13l-1-10M245 2l9-15M227-4l4 6M235 3l-4-1M206 15l2 12M206 15l0-1M206 14l15-2M210 29l14-8M210 29l-2-2M196 30l12-3M224 22l0-1M231 2l-10 10M204 11l8-15M204 11l-13-6M191 5l-2-8M206 14l-2-3M189 8l2-3M217 300l-1 1M217 300l-17-11M216 301l-9 2M207 303l-7-11M200 289l0 3M207 305l0-2M218 313l-2-12M192 303l8-11M200 287l-12-6M200 287l0 2M314 250l-4 5M314 250l1-6M312 241l2 1M312 241l-13 0M310 255l-17-6M314 242l1 2M299 241l-6 8M321 256l-7-6M311 261l-1-6M333 247l-18-3M314 227l-2 14M299 233l0 8M291 250l2-1M273 270l-13-3M266 255l-12 5M254 260l6 7M252 246l-5 7M247 253l0 4M254 260l-7-3M264 283l-18-9M260 267l-14 7M246 274l-6-1M239 289l1-16M229 308l-2-15M239 289l-12 4M247 257l-8 15M240 273l-1-1M217 300l9-7M227 293l-1 0M242 236l-9 9M247 253l-9-3M233 245l5 5M222 230l2 13M233 245l-9-2M218 252l0 0M224 243l-6 9M185 158l-4 11M181 169l-12 3M172 151l-6 5M165 170l4 2M165 170l1-14M166 156l0 0M188 156l-3 2M190 176l-9-7M174 145l-2 6M172 183l-3-11M163 149l3 7M164 170l1 0M166 156l0 0M2 316l-5-2M2 316l3 16M-1 296l-4 3M-9 261l9 1M-6 250l7 6M1 256l-1 6M-12 265l14 14M8 273l-8-11M13 247l-12 9M148-6l3 6M147-6l-7 9M151 0l-12 12M140 3l-1 7M139 10l0 2M139 12l0 0M162 0l-11 0M135-7l5 10M144 17l-5-5M118-7l21 17M123 13l16-1M211 280l8 6M219 286l19-15M213 274l9-10M222 264l4 1M238 271l-12-6M200 287l11-7M203 265l10 9M226 293l-7-7M239 272l-1-1M218 252l4 12M238 250l-12 15M1 281l-19-3" transform="scale(0.25)" stroke="#6e66b6" stroke-width="3.0" fill="none" stroke-linecap="round"/><path d="M69.6 52.1h0.9v0.9h-0.9zM76.2 66.8h0.9v0.9h-0.9zM41.3 32.4h0.9v0.9h-0.9zM53.1 31.7h0.9v0.9h-0.9zM40.9 18.0h0.9v0.9h-0.9zM44.4 42.3h0.9v0.9h-0.9zM69.6 59.4h0.9v0.9h-0.9zM13.2 62.4h0.9v0.9h-0.9zM15.9 24.7h0.9v0.9h-0.9zM71.9 47.8h0.9v0.9h-0.9zM55.3 8.7h0.9v0.9h-0.9zM77.1 9.3h0.9v0.9h-0.9zM52.3 0.3h0.9v0.9h-0.9zM21.5 39.4h0.9v0.9h-0.9zM14.0 50.1h0.9v0.9h-0.9zM61.4 66.1h0.9v0.9h-0.9zM78.8 39.9h0.9v0.9h-0.9zM20.5 31.7h0.9v0.9h-0.9zM18.7 59.6h0.9v0.9h-0.9zM1.9 71.3h0.9v0.9h-0.9zM50.5 56.4h0.9v0.9h-0.9zM34.9 34.6h0.9v0.9h-0.9zM5.4 49.9h0.9v0.9h-0.9zM25.4 27.4h0.9v0.9h-0.9zM19.5 15.2h0.9v0.9h-0.9zM31.5 21.6h0.9v0.9h-0.9zM76.6 66.0h0.9v0.9h-0.9zM29.7 13.9h0.9v0.9h-0.9zM9.6 7.7h0.9v0.9h-0.9zM51.8 20.7h0.9v0.9h-0.9zM14.7 35.8h0.9v0.9h-0.9zM47.7 18.9h0.9v0.9h-0.9zM45.3 69.1h0.9v0.9h-0.9zM79.0 59.1h0.9v0.9h-0.9zM33.4 23.1h0.9v0.9h-0.9zM10.7 34.4h0.9v0.9h-0.9zM78.8 30.8h0.9v0.9h-0.9zM73.4 57.2h0.9v0.9h-0.9zM71.1 43.7h0.9v0.9h-0.9zM6.9 26.7h0.9v0.9h-0.9zM47.3 17.9h0.9v0.9h-0.9zM43.6 34.6h0.9v0.9h-0.9zM53.6 66.2h0.9v0.9h-0.9zM32.5 9.9h0.9v0.9h-0.9zM27.8 23.2h0.9v0.9h-0.9zM7.6 38.2h0.9v0.9h-0.9zM78.8 21.8h0.9v0.9h-0.9zM79.1 58.9h0.9v0.9h-0.9zM2.2 76.0h0.9v0.9h-0.9zM32.6 14.4h0.9v0.9h-0.9zM24.7 13.1h0.9v0.9h-0.9zM8.8 38.0h0.9v0.9h-0.9zM67.4 36.0h0.9v0.9h-0.9zM37.8 60.0h0.9v0.9h-0.9zM18.5 67.6h0.9v0.9h-0.9zM25.0 42.4h0.9v0.9h-0.9zM55.4 40.2h0.9v0.9h-0.9zM55.2 13.3h0.9v0.9h-0.9zM60.5 30.3h0.9v0.9h-0.9zM78.3 69.2h0.9v0.9h-0.9zM54.0 33.2h0.9v0.9h-0.9zM16.6 42.8h0.9v0.9h-0.9zM10.5 38.7h0.9v0.9h-0.9zM5.2 14.5h0.9v0.9h-0.9zM20.9 13.3h0.9v0.9h-0.9zM46.2 63.4h0.9v0.9h-0.9zM40.2 58.7h0.9v0.9h-0.9zM36.2 39.9h0.9v0.9h-0.9zM28.5 11.0h0.9v0.9h-0.9zM53.6 13.1h0.9v0.9h-0.9zM69.5 10.0h0.9v0.9h-0.9zM36.7 25.0h0.9v0.9h-0.9zM4.7 63.6h0.9v0.9h-0.9zM17.7 30.9h0.9v0.9h-0.9zM72.5 11.0h0.9v0.9h-0.9zM20.7 15.7h0.9v0.9h-0.9zM60.3 69.1h0.9v0.9h-0.9zM52.7 68.2h0.9v0.9h-0.9zM30.3 23.8h0.9v0.9h-0.9zM40.6 24.1h0.9v0.9h-0.9zM35.4 63.9h0.9v0.9h-0.9zM76.2 53.7h0.9v0.9h-0.9zM56.4 18.0h0.9v0.9h-0.9zM15.1 4.4h0.9v0.9h-0.9zM43.2 6.4h0.9v0.9h-0.9zM17.0 1.4h0.9v0.9h-0.9zM46.4 31.3h0.9v0.9h-0.9zM19.2 68.8h0.9v0.9h-0.9zM71.1 32.3h0.9v0.9h-0.9zM45.3 16.2h0.9v0.9h-0.9zM78.9 1.1h0.9v0.9h-0.9zM36.0 71.8h0.9v0.9h-0.9zM42.7 73.2h0.9v0.9h-0.9zM59.7 35.1h0.9v0.9h-0.9zM70.8 42.4h0.9v0.9h-0.9zM4.8 55.8h0.9v0.9h-0.9zM13.0 53.1h0.9v0.9h-0.9zM34.1 6.3h0.9v0.9h-0.9zM63.5 61.5h0.9v0.9h-0.9zM32.4 49.1h0.9v0.9h-0.9zM59.0 34.6h0.9v0.9h-0.9zM60.3 28.8h0.9v0.9h-0.9zM8.1 55.9h0.9v0.9h-0.9zM0.9 50.2h0.9v0.9h-0.9zM16.5 49.7h0.9v0.9h-0.9zM41.0 45.7h0.9v0.9h-0.9zM9.5 36.5h0.9v0.9h-0.9zM70.6 40.2h0.9v0.9h-0.9zM59.9 35.8h0.9v0.9h-0.9zM18.6 9.7h0.9v0.9h-0.9zM28.4 31.9h0.9v0.9h-0.9zM35.2 57.8h0.9v0.9h-0.9zM51.7 31.7h0.9v0.9h-0.9zM49.0 18.4h0.9v0.9h-0.9zM55.0 48.8h0.9v0.9h-0.9zM36.8 68.9h0.9v0.9h-0.9zM78.2 10.3h0.9v0.9h-0.9zM35.1 51.2h0.9v0.9h-0.9zM31.1 34.6h0.9v0.9h-0.9zM58.5 61.5h0.9v0.9h-0.9z" fill="#4d43a0" opacity="0.8"/><path d="M28.0 60.2h1.3v1.3h-1.3zM32.8 24.6h1.3v1.3h-1.3zM48.8 47.5h1.3v1.3h-1.3zM42.5 34.3h1.3v1.3h-1.3zM45.7 66.4h1.3v1.3h-1.3zM2.3 32.6h1.3v1.3h-1.3zM20.3 11.9h1.3v1.3h-1.3zM60.4 25.8h1.3v1.3h-1.3zM28.1 73.8h1.3v1.3h-1.3zM75.2 10.5h1.3v1.3h-1.3zM64.0 62.1h1.3v1.3h-1.3zM24.1 64.8h1.3v1.3h-1.3zM63.3 77.2h1.3v1.3h-1.3zM53.7 75.0h1.3v1.3h-1.3zM63.0 22.3h1.3v1.3h-1.3zM52.4 21.5h1.3v1.3h-1.3zM46.9 21.0h1.3v1.3h-1.3zM8.0 68.6h1.3v1.3h-1.3zM45.3 50.9h1.3v1.3h-1.3zM23.8 74.9h1.3v1.3h-1.3zM1.3 72.3h1.3v1.3h-1.3zM25.3 47.1h1.3v1.3h-1.3zM8.7 3.1h1.3v1.3h-1.3zM16.3 11.9h1.3v1.3h-1.3zM18.2 12.2h1.3v1.3h-1.3zM77.0 42.6h1.3v1.3h-1.3zM58.0 15.5h1.3v1.3h-1.3zM69.3 34.8h1.3v1.3h-1.3zM8.5 47.9h1.3v1.3h-1.3zM43.1 38.0h1.3v1.3h-1.3zM25.4 40.4h1.3v1.3h-1.3zM41.4 25.2h1.3v1.3h-1.3zM47.1 10.7h1.3v1.3h-1.3zM46.0 11.6h1.3v1.3h-1.3zM14.9 42.3h1.3v1.3h-1.3zM16.2 10.5h1.3v1.3h-1.3zM29.1 45.4h1.3v1.3h-1.3zM18.4 24.9h1.3v1.3h-1.3zM62.6 36.4h1.3v1.3h-1.3zM34.9 39.6h1.3v1.3h-1.3zM78.0 42.1h1.3v1.3h-1.3zM24.5 0.4h1.3v1.3h-1.3zM27.5 29.0h1.3v1.3h-1.3zM14.5 55.0h1.3v1.3h-1.3zM32.3 4.5h1.3v1.3h-1.3z" fill="#1d4d58" opacity="0.9"/></pattern><pattern id="vb" patternUnits="userSpaceOnUse" width="80" height="80"><rect width="80" height="80" fill="#f0eef7"/><path d="M65 176l5-26M65 176l-1-1M58 156l11-6M69 150l1 0M257 305l-12-12M257 305l8-10M265 295l-20-2M67 294l-8 2M67 294l6 2M59 301l0-5M59 301l8 14M67 315l4-3M213 90l10 0M230 91l-3 6M230 91l-7-1M322 2l-17 12M322 2l6-1M313 22l-8-8M209 85l4 5M223 90l-5-9M69 178l2-3M71 175l7-22M71 175l20-14M91 161l0-7M91 154l-4-1M151 130l4 1M151 130l-10-9M156 113l-1 17M155 131l0-1M151 130l-11 4M140 134l-10-8M141 121l-11-2M130 126l0-7M134 141l-6-9M52 172l-3-8M52 172l12 3M49 164l6-9M89 260l-3 12M89 260l-3-7M86 253l-3-1M72 275l-3-5M72 275l8 3M69 270l2-9M69 270l-17-1M60 253l-12 5M48 258l0 5M48 263l3 5M52 269l-1-1M59 301l-11 11M59 296l-1 0M48 312l-1-1M149 257l-1 8M149 257l9 0M158 257l-1 3M148 265l-6-3M148 265l0 0M141 254l1 8M141 254l8 3M180 228l-13 11M180 228l-14-8M167 239l-4-5M163 234l3-14M45 253l3 5M60 253l-1-6M59 247l-8-4M47 200l9-3M47 200l-3-1M45 189l12 5M64 182l-21 4M61 189l-4 5M34 210l2-7M36 203l-4-11M32 192l-18 8M21 210l-7-10M14 200l0 0M43 222l-9-12M43 222l9-1M44 199l-8 4M52 221l1-2M42 185l1 1M16 180l13 2M29 182l4 4M13 189l1 11M14 200l0 0M61 253l8-7M59 247l2-7M61 240l8 6M80 250l3 2M90 244l-11-12M90 244l-1-8M89 236l-10-8M79 232l-1-2M78 230l1-2M92 248l-6 5M92 248l-2-4M80 250l-1-18M73 233l-3 2M73 233l5-3M70 235l3 11M239 314l17 11M239 314l0-1M239 313l18-6M257 307l8 11M265 318l-8 7M236 297l-12 10M236 297l3-1M239 296l0 17M224 307l12 9M236 316l3-2M281 267l-8 1M285 269l-12 18M273 287l0-19M259 264l3-3M259 264l6 11M265 275l1-2M264 259l-2 2M264 259l7 9M266 273l5-5M274 250l-8 2M266 252l-2 7M273 268l-2 0M251 273l-10 3M251 273l12 9M264 283l-20 9M241 276l-3 8M238 284l3 8M241 292l3 0M254 266l-3 7M243 251l-4 22M239 273l2 3M254 266l5-2M265 275l-2 7M273 287l-1 2M272 289l-8-6M272 289l0 1M272 289l0 0M245 293l-1-1M265 318l0 0M265 318l10 14M117 306l-1 1M123 324l-9-9M116 307l-2 8M174 298l9 0M181 291l2 7M181 291l-13-10M163 289l5-8M171 318l13-19M174 298l-12 3M167 317l-2-2M162 301l3 14M269-5l14 4M283-1l5-7M289 5l11-6M289 5l9 12M300-1l4 15M298 17l3-1M290 19l-10-7M290 19l4 1M280 12l4-8M284 4l5 1M206 252l-1 1M206 252l-3-4M188 255l5 5M188 255l3-8M203 248l-12-1M191 223l-4 20M191 223l2 0M201 227l-7-3M201 227l2 21M191 247l-4-4M193 223l1 1M243 251l-2-10M266 252l-17-13M249 239l-2 0M241 241l6-2M185 106l6 6M185 106l6-5M192 101l3 9M192 101l-1 0M195 110l-4 2M177 107l8-1M177 108l11 7M188 115l1 0M189 115l2-3M183 95l-6 6M183 95l8 6M177 101l0 6M181 125l-3 3M181 125l3-8M178 128l-6-6M184 117l-12-1M172 116l0 6M188 115l-4 2M190 121l-9 4M172 114l-1 0M172 114l5-6M171 114l1 2M274 231l7-9M280 245l7 1M287 246l4-3M291 243l1-6M274 250l6-5M269 230l-20 9M269 230l5 1M269 210l-5 7M269 230l-5-13M275 211l8 5M283 216l-2 6M296 213l4 5M296 213l-2 0M300 218l3 4M294 213l-11 3M303 222l-11 15M280 12l-2 1M279 23l-1-10M283-1l1 5M265-2l10 14M278 13l-3-1M244 59l2 5M244 59l17-4M267 64l-14 7M267 64l0-2M246 64l7 7M267 62l-1-2M185 82l14 8M185 82l-2 5M183 92l0-5M199 90l-1 6M198 96l0 0M192 101l6-5M209 85l-1 0M211 108l1-2M211 108l-13-12M300-1l1-5M322 2l-9-5M305 14l-1 0M27 91l13 10M27 91l10-12M37 79l8 7M45 86l4 8M91 131l-4 1M91 131l11 13M99 149l3-5M87 153l-4-14M87 132l-4 7M152 67l-10-16M152 67l-2 4M142 51l-4-2M138 49l-12 16M126 65l7 9M150 71l-17 3M91 131l3-6M111 138l-1-5M110 133l-16-8M110 133l3-12M95 115l7 0M113 121l-11-6M49 164l-11-4M37 158l1-3M38 155l12-5M10 119l-15 4M17 135l-15 11M2 146l-5-8M13 108l-3 11M13 108l-3-7M4 100l-13 1M92 248l2-1M94 247l2-17M89 236l1-3M90 233l6-3M154 232l-16-4M154 232l-9 14M145 246l-7 2M138 248l-2-19M138 248l0 0M121 248l7 3M121 248l1-20M122 228l2-2M73 296l7-2M71 312l6-1M77 311l9-8M80 294l6 9M67 294l0-10M72 275l-5 9M80 278l4 8M80 294l4-8M101 275l-5 12M84 286l12 1M89 260l6 3M101 275l1-1M95 263l7 11M50 291l2 0M50 291l-2-1M48 290l4-19M52 291l6-8M58 281l-6-10M48 299l1 5M48 299l2-8M38 283l6 7M44 290l4 0M67 284l-9-1M128 251l1 19M142 262l-9 10M133 272l-4-2M172 176l13 12M172 176l-4 2M168 178l-2 3M166 181l4 11M170 192l15-4M195 173l2 6M186 188l11-9M186 188l-1 0M175 171l1-1M175 171l-3 5M158 169l10 9M151 169l-5 13M152 185l-6-3M152 185l14-4M163 234l-8-2M166 220l-1-4M165 216l-11 2M-3 211l8 5M-2 222l8-1M5 216l1 5M6 209l-9-1M6 209l8-9M14 225l-8-4M14 225l7-15M15 231l0-3M15 231l9 5M15 228l24-1M24 236l12-1M39 227l0 3M39 230l-1 4M38 234l-2 1M12 236l-9 7M12 236l3-5M14 225l1 3M3 243l-11-11M27 249l-15-13M27 249l3-6M30 243l-6-7M43 222l-4 5M30 243l6-8M45 253l-18-2M27 251l0-2M32 142l-9-2M32 142l4 4M23 140l1 10M37 158l-10 0M32 175l13 2M33 173l5-4M38 169l8 6M46 175l-1 2M29 182l3-7M42 185l3-8M16 180l9-15M25 165l8 8M52 172l-6 3M38 160l0 9M67 178l-3 4M59 215l-2-15M57 200l11 0M70 211l1-8M70 211l0 2M71 203l-3-3M53 219l4-2M57 217l2-2M56 197l1 3M61 189l7 11M82 202l-12 9M69 178l10 7M79 185l-4 12M60 238l1-3M60 238l-9 4M61 235l-7-9M54 226l-3 14M51 240l0 2M61 240l-1-2M70 235l-9 0M51 243l0-1M52 221l2 5M57 217l16 16M39 230l12 10M195 323l12-3M195 323l-3-14M192 309l0-1M192 308l18 2M207 320l4-6M211 314l-1-4M236 297l-14 1M224 307l-5-3M219 304l3-6M219 284l19 0M219 284l0 0M222 298l-3-14M230 337l4-18M230 337l-18-22M212 315l22 4M236 316l-2 3M212 333l-5-13M211 314l1 1M287 287l1-1M297 296l-6-8M297 296l-2 1M295 297l-7 3M288 286l3 2M312 257l-11-13M301 244l-10-1M287 246l5 12M272 289l15-2M287 269l5 4M276 299l-7 16M283 303l5 9M269 315l14 4M288 312l-5 7M272 290l4 9M288 300l-5 3M265 318l4-3M297 312l-9 0M297 312l-2-15M284 324l-1-5M67 315l-17 0M50 315l-1 7M48 312l2 3M209 252l0 1M209 252l-3 0M200 266l5-13M200 266l4 3M209 253l1 15M210 268l-6 1M180 228l10-5M167 239l1 3M190 223l1 0M187 243l-11 3M168 242l8 4M155 232l-1 0M145 246l16 4M168 242l-7 8M161 250l0 4M200 266l-3 1M193 260l0 2M197 267l-4-5M195 278l-2-1M195 278l8-5M197 267l-4 10M158 327l6-6M164 321l3 22M77 311l12 8M89 319l-1 9M168 279l-13 2M150 273l-3 4M148 265l2 8M158 267l-1-7M158 267l-2 4M140 279l-7-7M140 279l5-1M145 278l2-1M163 289l-3 2M162 301l0 0M162 301l-2-10M145 278l10 13M155 281l3 10M155 291l3 0M168 279l0 2M168 279l0 0M160 291l-2 0M165 315l-5-1M150 314l10 0M137 325l1-16M162 301l-13 1M126 309l12-1M256 5l1 0M256 5l-17-11M257 5l8-7M99-9l9 9M108 0l6-5M114-5l9 9M89-1l-12-8M89-1l6-10M68 3l-13 10M55 13l-6-11M50-5l-1 7M88 8l1-9M40-10l-18 12M36 7l-13-4M22 2l1 1M186 188l0 0M197 179l3 1M200 180l-4 14M186 188l10 6M280 194l5-4M273 191l0-7M273 184l10-3M285 190l0-5M285 185l-2-4M264 217l-8 3M247 239l1-9M269 210l-6-10M263 200l-13 6M256 220l-6-14M244 190l2 15M244 190l13-1M257 189l6 10M250 206l-4-1M228 193l7-10M228 193l2 6M235 183l9 7M246 205l-5 3M230 199l11 9M212 194l16-1M212 194l-2 4M210 198l12 14M230 199l-8 13M230 91l2-1M227 97l3 9M232 90l7 17M230 106l9 1M195 110l14 3M197 127l12-14M211 108l0 4M230 106l-10 14M211 112l9 8M211 112l-2 1M239 107l5 4M244 111l0 2M244 113l-21 11M220 120l3 4M237 157l-4-12M237 157l-17-2M220 155l4-10M155 131l1 6M138 143l2 6M151 147l-11 2M151 147l2-4M174 138l4-1M174 138l-17-8M157 130l0 0M157 130l21 6M178 136l0 1M156 113l15 1M155 130l2 0M178 128l1 6M187 154l4 0M187 154l-9-7M188 135l-9-1M192 153l-1 1M186 155l-8 13M186 155l-10 2M176 157l2 11M195 173l1-8M176 170l2-2M187 154l-1 1M151 162l2-12M151 162l12-1M153 150l13 7M163 161l3-3M166 158l0-1M158 169l5-8M151 169l-2-4M149 165l2-3M175 171l-9-13M168 155l8 2M134 141l-11 2M140 149l-3 5M137 154l-13-8M123 143l1 3M290 199l-10-4M290 199l2 7M292 206l-12-6M280 195l0 5M292 193l-2 6M292 193l-7-3M280 194l0 1M294 213l-2-7M275 211l5-11M263 199l10-8M320 264l3 3M318 281l6-7M313 285l4-4M313 285l4 8M318 281l3 3M277 153l12-15M300 124l7-2M312 123l-5-1M312 123l-5 12M302 136l-2-1M292 139l8-4M292 139l4 12M296 151l9-10M317 138l-10-3M317 138l-2-15M312 123l2 0M315 123l-1 0M218 68l-5-6M220 56l16 1M220 56l-6 4M224 70l10-6M213 62l1-2M234 64l2-7M232 84l-14-3M232 84l-8-14M208 85l-6-10M209 61l4 1M209 61l-4 3M205 64l-3 11M318 49l-4 10M318 49l-1-13M314 59l-22-20M316 35l-10 0M306 35l-14 4M338 62l-24 3M314 65l0-6M325 48l-7 1M298 63l-8-25M305 68l9-3M290 38l2 1M313 22l3 13M301 16l5 19M290 38l0 0M268 18l2 5M259 16l-7 9M270 28l0-5M270 28l-17 0M279 23l0 1M279 24l-9-1M275 12l-7 6M257 5l2 11M231 18l21 7M231 18l25-13M231 18l-1 0M230 18l-1 0M229 18l5 14M253 30l-1 3M253 30l0-2M252 33l-11 8M241 41l-7-9M249 103l-1-9M232 84l2 2M238 71l-4-7M240 78l-6 8M234 86l0 1M259 88l4-1M259 88l4 18M263 106l2 1M263 87l2 1M265 88l4 18M284 72l-4 1M280 73l8 14M298 72l5-3M303 69l-2 20M301 89l-13-1M288 87l0 1M287 52l-8 8M287 52l3 8M279 60l8 1M290 60l-3 1M284 72l3-11M267 64l3 5M270 69l5 3M280 73l-5-1M303 69l2-1M298 63l-8-3M288 39l-1 1M288 39l-3-2M287 40l-14 10M273 50l-6-12M271 33l-4 4M267 37l0 1M290 38l-2 1M287 52l0-12M279 24l6 13M266 60l7-10M270 28l1 5M261 55l-4-6M257 49l0-3M257 46l10-8M253 30l14 7M194 62l-20-1M194 62l2 1M174 61l8 16M182 77l2 2M184 79l3-1M205 64l-9-1M202 75l-15 3M185 82l-1-3M229 18l-3 5M228 44l6-12M228 44l-1 0M226 23l1 21M14 200l-13-2M-13 168l15-16M-9 147l11 0M2 147l0 5M2 146l0 1M13 108l24 5M18 135l20-13M18 135l-1 0M37 113l1 9M27 91l-4 0M10 101l8-7M23 91l-5 3M40 101l-2 9M37 113l1-3M150 100l12-1M162 99l6-3M166 85l-14-7M168 96l1-4M172 114l-10-15M153 109l-3-9M177 101l-9-5M183 87l-14 5M182 77l-16 8M130 119l-2-2M128 117l6-8M134 109l13-11M52 144l-8-15M52 144l-2 3M50 147l-7-5M43 142l0-11M43 131l1-2M36 146l7-4M50 150l0-3M32 142l11-11M18 135l5 5M38 122l6 6M44 128l0 1M23 91l0-14M18 94l-4-13M14 81l9-4M8 101l-3-24M5 77l5 1M14 81l-4-3M102 274l8-1M110 273l-6-12M104 261l0 0M104 261l-3-15M114 273l1-18M104 261l11-6M112 234l1 14M112 234l5-5M122 228l-5 1M113 248l4 1M114 273l2 2M129 270l-13 5M117 249l-2 6M109 235l-4 11M109 235l-6-8M103 227l-1-1M103 246l2 0M112 234l-3 1M117 229l-14-2M101 246l2 0M108 294l-12 15M108 294l-10-5M98 289l-7 16M91 305l4 4M95 309l1 0M86 303l5 2M89 319l6-10M48 263l-21 8M27 271l3 8M38 283l-8-4M30 279l0 0M3 267l1 7M17 271l-5 8M12 279l-3 0M4 274l5 5M97 174l-6-13M79 185l1 0M96 180l-16 5M82 202l5 1M87 203l0-4M80 185l7 14M165 215l20 2M180 203l5 14M169 201l-3 2M190 223l-5-6M185 198l1-10M185 198l-5 5M152 185l3 15M155 200l11 3M3 243l0 1M3 244l-9 12M25 162l1-2M25 162l-16 3M26 160l-15-6M9 165l-5-12M4 153l7 1M25 165l0-3M27 158l-1 2M16 180l-7-6M9 174l0-9M24 150l-13 4M2 152l2 1M214 306l-4-20M214 306l-3 3M208 305l3 4M208 305l0-19M219 304l-5 2M219 284l-5-1M214 283l-4 3M210 310l1-1M196 294l-9 6M196 294l12 11M187 300l5 8M196 294l5-7M201 287l7-1M201 287l-6-9M214 283l-1-4M213 279l-10-6M304 294l-7 2M304 294l2-8M306 286l-1-1M291 288l7-4M298 284l7 1M306 286l7-1M308 275l-4 5M305 285l-1-5M307 271l-9 5M307 271l-2-5M305 266l-12 7M298 276l-4-2M293 273l1 1M308 275l-1-4M304 280l-6-4M312 257l2-1M320 264l-1-2M308 260l-3 6M319 262l-5-6M292 273l1 0M298 284l-4-10M289 325l11-6M304 334l-4-15M224 264l-13 5M224 264l2 1M224 269l2-4M224 269l-12 3M212 272l-1-3M226 265l0 0M209 253l15 11M210 268l1 1M209 252l0 0M234 247l-8 18M219 284l5-15M239 273l-13-8M213 279l-1-7M241 241l0 0M188 255l0 0M176 246l2 7M188 255l-10-2M181 291l7-14M168 279l1-1M169 278l19-1M193 262l-9 5M184 267l4 10M187 300l-3-1M188 277l0 0M195 323l-15-1M175 322l5 0M192 309l-12 13M108 320l-9-9M108 320l-2 11M99 311l1 20M116 307l-17 4M114 315l-6 5M99 311l0 0M138 49l-5-5M123 63l-4-21M119 42l1 0M230 17l-18-22M230 17l4-18M234-1l-22-4M230 18l-1 0M230 17l-1 1M234-1l2-3M99-9l1 20M108 0l-2 11M106 11l-6 0M71 28l20 0M71 28l6-17M88 8l5 3M93 11l-2 17M93 11l7 0M71 28l-1 2M83 45l-13-15M83 45l16-8M91 28l8 9M123 4l1 3M106 11l6 5M124 7l-12 9M99 37l11 3M110 40l0 0M110 40l3-23M113 17l-1-1M120 42l10-20M113 17l17 5M15-3l7 5M15-3l-7 4M-7-3l9 5M8 1l-6 1M323 244l-9 12M319 262l9-2M201 163l5-13M201 163l18 0M206 150l13 6M200 180l6 2M196 165l5-2M206 182l13-16M219 166l0-3M222 212l0 4M241 208l-1 1M222 216l18-7M248 230l-7-15M241 215l-1-6M191 200l6-5M197 195l11 4M200 206l8-6M208 199l0 1M185 198l6 2M196 194l1 1M193 223l7-17M212 194l-4-10M210 198l-2 1M206 182l2 2M194 224l15-14M209 210l0-2M209 208l-1-8M209 208l12 11M280 127l1 1M280 127l-8 2M272 129l-5 12M275 155l-8-7M275 155l2-2M267 141l0 7M213 247l-2-21M220 225l-3 0M211 226l6-1M209 252l4-5M241 241l-14-9M201 227l10-1M241 215l-18 13M221 219l-1 6M209 210l8 15M296 213l8-10M300 218l17-8M317 208l0 2M317 208l-1-4M304 203l12 1M254 136l-1 0M254 136l13-11M267 125l-6-4M249 103l14 3M250 120l-6-7M265 107l-4 14M250 120l-5 7M245 140l8-4M245 140l0 0M245 140l0-13M267 141l-13-5M210 136l-13-8M210 136l-8 11M201 147l-8-14M193 133l4-5M197 127l0 1M220 133l-10 3M220 133l3-8M223 125l0-1M220 133l4 12M220 155l-1 1M206 150l-4-3M192 153l9-6M188 135l5-2M164 147l1-6M170 152l-3-11M167 141l-2 0M156 137l9 4M153 143l11 4M168 155l0-1M151 147l2 3M178 147l-8 5M174 138l-7 3M317 138l5 8M315 123l15-4M294 107l-4 13M294 107l5-4M299 103l7-1M295 121l-5-1M295 121l9-11M304 110l2-8M300 124l-5-3M307 122l-3-12M311 101l-2-1M309 100l-3 2M281 124l6-3M281 124l-8-18M273 106l6-5M280 127l1-3M292 139l-3-1M290 120l-3 1M269 106l4 0M294 107l-11-3M325 77l-10-8M324 100l-10-24M314 76l1-7M314 65l1 4M311 101l13-1M308 96l1 4M308 96l6-20M301 89l7 7M236 49l0 7M250 49l-10-4M228 44l8 5M241 41l-1 4M220 56l3-11M236 57l0-1M223 45l4-1M244 59l-2-1M257 49l-7 0M252 73l-6 3M252 73l7 15M246 76l8 14M259 88l-5 2M253 71l-1 2M240 78l6-2M270 69l-7 18M259 88l0 0M248 94l6-4M286 93l0-3M286 93l-7 6M286 90l-9-5M279 99l-10-10M269 89l8-4M288 88l-2 2M299 103l-13-10M279 101l0-2M275 72l2 13M265 88l4 1M209 61l-6-10M194 62l-1-11M203 51l-10 0M214 60l-1-18M203 51l0-3M213 42l-10 6M223 45l-7-6M226 23l-10 8M216 31l-1 3M216 39l-1-5M-3 193l2-6M-1 187l-2-10M13 189l-14-2M1 198l-4-5M9 174l-12 3M69 150l-2-10M62 139l5 1M83 139l-14-2M128 117l-2-1M111 138l2 1M113 121l5-3M118 118l7-1M126 116l-1 1M134 109l-7-10M122 98l5 1M122 98l-2 2M126 116l-6-16M109 105l7 8M109 105l1-5M116 113l-2-10M110 100l4 1M114 101l0 2M118 118l-2-5M125 117l-11-14M97 59l5-1M97 59l-15-13M82 46l1-1M110 40l-8 17M102 58l0-1M4 100l-10-24M5 77l-10-8M149 165l-12-5M137 154l-1 3M137 160l-1-3M136 157l-16 1M97 174l18-10M99 149l16 14M115 164l0-1M113 139l6 20M115 163l4-4M119 159l1-1M146 182l-4 0M155 200l-4 4M151 204l-11-9M140 195l1-12M142 182l-1 1M137 160l-1 2M142 182l-6-20M133 200l5-3M133 200l1 3M138 197l3 10M48 299l-8 8M47 311l-7-1M40 307l0 3M23 323l-1-1M40 310l-18 12M4 287l-7 7M4 287l2 3M6 290l-9 8M140 279l-4 11M155 291l-15 9M136 290l1 2M137 292l3 8M149 302l-9-2M140 300l0 0M117 306l-3-8M138 308l2-7M114 298l26 3M140 301l0-1M116 275l0 3M116 278l12 9M96 180l9 9M87 199l19-6M105 189l1 4M115 164l7 11M122 175l1 0M123 224l2-15M115 217l1-7M116 210l9-1M123 224l1 2M129 209l3 3M129 209l-4-1M130 216l2-4M125 209l0-1M0 264l-1-2M-1 262l-5-6M8 260l8-5M8 260l14 8M16 255l7 2M23 257l1 11M24 268l-2 0M-1 262l9-2M0 264l3 3M27 251l-4 6M27 271l-3-3M305 334l17-12M322 322l6-1M181 265l0 1M181 266l-11 8M176 260l-8 1M167 266l3 8M188 255l-7 10M178 253l-2 7M184 267l-3-1M169 278l1-4M161 254l7 7M158 267l9-1M82 46l-2 4M80 50l7 15M75 80l-10-1M75 80l6-13M65 79l9-14M74 65l7 2M91 79l-5-12M80 85l-5-5M81 67l5 0M91 79l1 1M92 80l13-11M105 69l-3-11M15 43l10 8M25 51l7-5M13 36l6-2M19 34l13 2M32 46l0-10M24 17l-4 3M24 17l10 11M20 20l-1 14M67 62l-6 15M67 62l-18-1M49 62l0-1M49 62l5 10M54 72l7 5M64 80l1-1M64 80l-3-3M71 61l3 4M71 61l-4 1M49 94l11 0M60 94l4-14M36 74l4-6M36 74l-11-1M40 68l-17-14M25 73l-4-4M21 69l-3-7M18 62l3-5M21 57l2-3M49 62l-9 6M23 77l2-4M25 51l-2 3M48 52l1 9M10 78l11-9M-6 65l24-3M-6 59l4-10M-2 49l7-1M5 48l16 9M15 43l-10 5M150 5l-10 2M138-11l-1 16M140 7l-3-2M158 7l-2 17M155 25l1-1M155 25l-11-1M140 7l4 17M158 7l6-6M23 3l1 14M8 1l-4 16M20 20l-10 6M4 17l6 9M10 26l-2 6M-2 49l-1-13M2 2l-17 12M317 208l9 1M317 211l8 5M334 200l-13-2M270 180l-13 6M268 173l-14 5M257 186l-3-8M257 189l0-3M285 173l-1 6M269 168l-1 5M219 166l8 5M237 157l2 2M239 159l-12 12M235 183l0-2M254 178l-7-6M247 172l-12 9M208 184l26-5M235 181l-1-2M284 179l13 3M297 182l-2 5M292 193l4-3M304 203l1-8M305 195l-9-5M296 190l-1-3M285 173l2-1M274 164l2-8M287 172l6-15M297 182l6-8M287 172l16 2M225 126l12 8M237 134l5-7M245 127l-3 0M326 290l-9 8M324 287l-7 7M317 298l0-4M317 299l1 2M317 299l0-1M304 294l2 2M317 293l0 1M306 296l11 3M203 48l-2-6M201 42l1-5M142 51l14-14M133 44l11-20M155 25l1 6M144 24l0 0M156 37l0-6M164 1l3 22M175 2l2 11M177 13l-10 10M156 24l11 0M229 18l-17-5M212 13l-5-13M207 0l4-6M79 95l-5 3M79 95l13 4M74 98l10 17M92 99l1 2M93 101l0 12M97 86l-5-6M97 86l-5 13M109 99l-16 2M109 99l2-14M109 99l1 1M95 115l-2-2M62 139l-1-2M52 127l9 10M150 71l2 7M147 98l-13-5M134 93l-5-15M112 78l-3-5M112 78l8-14M109 73l7-10M120 64l-4-1M111 85l3-3M114 82l-2-4M105 69l4 4M123 63l-3 1M114 82l4 1M129 78l-11 5M102 57l14 6M150 216l-9 7M141 223l-2-4M139 219l-2-7M148 208l-7 0M141 208l-4 4M154 218l-4-2M138 228l3-5M124 226l0 0M130 216l9 3M140 195l-2 2M141 207l0 1M129 209l5-6M29 294l-2 3M29 294l12-1M27 297l12 8M41 293l-2 12M30 279l-10 7M30 279l-1 15M20 286l3 13M44 290l-3 3M40 307l-1-2M23 299l-9 9M22 322l-7-5M15 317l-2-7M14 308l-1 2M1 284l-3-3M3 284l1 2M4 286l0 1M4 274l-6 7M12 299l-4-8M12 299l4-14M8 291l5-6M13 285l1-1M16 285l-2-1M6 290l2 1M14 308l-2-9M20 286l-4-1M4 286l9-1M12 279l2 5M15 317l-7 4M8 321l-4 16M2 322l-17 12M2 322l-9-5M8 321l-6 1M113 289l12-1M125 288l-8 8M111 294l3 3M114 297l3-1M116 278l-3 11M128 287l-3 1M137 292l-20 4M114 298l0-1M123 199l-9-2M123 199l4-2M114 197l15-16M127 197l6-14M133 183l-4-2M116 210l-8-13M125 208l-2-9M108 197l0 0M108 197l6 0M106 193l2 4M141 183l-8 0M96 230l1-3M102 226l0 0M115 217l-4 1M111 218l-9 7M102 226l0-1M89 209l4 0M89 209l-11 8M93 209l1 6M78 217l2 6M80 223l4 1M84 224l6 0M87 203l2 6M70 213l8 4M97 227l-7-3M101 220l-7-5M90 233l-6-9M313 317l0-11M313 317l-12-3M304 310l-3 4M301 314l0 0M322 322l-9-5M300 319l1-5M306 296l-2 14M297 312l4 2M64 48l16 2M64 48l7 12M71 60l9-10M71 61l0-1M58 42l-10 10M58 42l6 6M80 50l0 0M36 7l7 7M34 28l3 0M37 28l6-14M55 13l0 1M63 31l-3 4M63 31l-8-16M60 35l-23-7M70 30l-7 1M55 14l0 1M37 28l0 0M128 8l3 14M128 8l3-1M131 7l5 16M131 22l5 1M124 7l4 1M130 22l1 0M137 5l-6 2M326 221l-8 1M323 243l-11-11M318 222l-8 5M312 232l-2-5M317 211l1 11M301 244l11-12M303 222l7 5M251 163l-1 0M251 163l9-12M250 163l-5-4M245 159l-1-16M260 151l-15-9M244 143l1-1M269 168l-18-5M247 172l3-9M275 155l1 1M267 148l-7 3M233 145l11-2M317 193l2-6M307 193l1-20M319 187l-2-10M321 198l-4-5M333 189l-14-2M303 174l4-2M307 172l1 1M307 168l-11-12M307 168l15-16M311 147l-14 6M311 147l11 0M297 153l-1 3M322 147l0 5M307 172l0-4M293 157l3-1M296 151l1 2M305 141l6 6M322 146l0 1M317 177l12-3M177 13l9 5M186 18l-8 10M167 24l5 6M172 30l6-2M180 2l15 1M180 2l12-13M192-11l3 14M195 3l0 0M175 2l5 0M207 0l-12 3M60 94l1 2M61 96l8 3M74 98l-3 1M71 99l-2 0M38 110l12 2M50 112l8 9M50 112l8-4M132 93l-10-2M132 93l2 0M134 93l-15-7M122 91l-3-5M122 98l0-7M127 99l5-6M134 93l0 0M104 209l-3 9M104 209l-1-4M101 218l-7-10M103 205l-9 3M111 218l-7-9M101 220l0-2M93 209l1-1M212 13l-7 3M195 3l0 7M195 10l10 6M186 18l2 1M195 10l-7 9M216 31l-4-3M212 28l-7-10M193 51l0 0M201 42l-12 0M193 51l-4-9M174 61l0 0M193 51l-19 10M171 38l-8 6M171 38l2-2M173 36l7 6M163 44l4 16M167 60l6 0M156 37l7 7M156 31l15 7M172 30l1 6M189 35l-2 5M187 40l-7 2M189 42l-2-2M67 112l7 1M67 112l-4 6M63 120l0 0M63 118l0 2M75 124l-2 1M75 124l4-6M71 99l3 14M69 99l-2 13M58 108l5 10M61 137l2-17M58 121l5-1M69 137l4-12M87 132l-12-8M84 115l-5 3M192 25l9-2M192 25l-1 7M191 32l7 2M198 34l5-6M201 23l2 4M203 28l0-1M188 19l4 6M205 18l-4 5M189 35l2-3M202 37l-4-3M206 35l-3-7M212 28l-9-1" transform="scale(0.25)" stroke="#756dbb" stroke-width="2.6" fill="none" stroke-linecap="round"/><path d="M19.3 21.9h0.9v0.9h-0.9zM28.8 38.2h0.9v0.9h-0.9zM73.0 45.2h0.9v0.9h-0.9zM41.6 73.2h0.9v0.9h-0.9zM47.2 35.7h0.9v0.9h-0.9zM22.0 11.9h0.9v0.9h-0.9zM17.2 40.6h0.9v0.9h-0.9zM40.5 14.5h0.9v0.9h-0.9zM30.6 65.8h0.9v0.9h-0.9zM66.1 61.4h0.9v0.9h-0.9zM9.4 49.8h0.9v0.9h-0.9zM69.4 71.6h0.9v0.9h-0.9zM34.8 68.2h0.9v0.9h-0.9zM22.5 24.0h0.9v0.9h-0.9zM43.7 69.3h0.9v0.9h-0.9zM62.3 25.6h0.9v0.9h-0.9zM41.8 73.0h0.9v0.9h-0.9zM37.6 11.9h0.9v0.9h-0.9zM10.8 49.9h0.9v0.9h-0.9zM39.4 46.8h0.9v0.9h-0.9zM26.0 30.6h0.9v0.9h-0.9zM37.5 68.1h0.9v0.9h-0.9zM4.5 40.2h0.9v0.9h-0.9zM55.0 69.1h0.9v0.9h-0.9zM28.9 13.3h0.9v0.9h-0.9zM59.8 74.2h0.9v0.9h-0.9zM47.8 16.5h0.9v0.9h-0.9zM78.6 61.6h0.9v0.9h-0.9zM71.1 39.2h0.9v0.9h-0.9zM64.3 56.9h0.9v0.9h-0.9zM33.8 25.2h0.9v0.9h-0.9zM26.5 29.3h0.9v0.9h-0.9zM59.1 23.8h0.9v0.9h-0.9zM56.0 48.6h0.9v0.9h-0.9zM63.0 64.0h0.9v0.9h-0.9zM13.5 12.4h0.9v0.9h-0.9zM10.0 27.0h0.9v0.9h-0.9zM41.8 14.4h0.9v0.9h-0.9zM4.4 63.9h0.9v0.9h-0.9zM27.9 54.6h0.9v0.9h-0.9zM52.7 23.7h0.9v0.9h-0.9zM20.6 37.9h0.9v0.9h-0.9zM1.0 24.2h0.9v0.9h-0.9zM30.6 38.8h0.9v0.9h-0.9zM7.3 57.9h0.9v0.9h-0.9zM70.7 78.5h0.9v0.9h-0.9zM42.6 14.0h0.9v0.9h-0.9zM60.8 31.9h0.9v0.9h-0.9zM58.2 12.2h0.9v0.9h-0.9zM50.7 11.9h0.9v0.9h-0.9zM61.5 58.2h0.9v0.9h-0.9zM23.1 53.0h0.9v0.9h-0.9zM67.7 5.2h0.9v0.9h-0.9zM44.7 45.2h0.9v0.9h-0.9zM78.1 35.4h0.9v0.9h-0.9zM10.6 71.1h0.9v0.9h-0.9zM26.4 47.5h0.9v0.9h-0.9zM74.0 25.7h0.9v0.9h-0.9zM63.3 64.3h0.9v0.9h-0.9zM72.7 11.9h0.9v0.9h-0.9zM54.0 22.6h0.9v0.9h-0.9zM52.7 66.3h0.9v0.9h-0.9zM28.4 0.6h0.9v0.9h-0.9zM15.9 26.0h0.9v0.9h-0.9zM74.0 23.8h0.9v0.9h-0.9zM28.9 14.8h0.9v0.9h-0.9zM61.9 67.5h0.9v0.9h-0.9zM29.5 35.1h0.9v0.9h-0.9zM23.6 36.7h0.9v0.9h-0.9zM21.7 3.4h0.9v0.9h-0.9zM46.4 22.4h0.9v0.9h-0.9zM13.9 44.2h0.9v0.9h-0.9zM26.4 3.5h0.9v0.9h-0.9zM67.0 48.9h0.9v0.9h-0.9zM30.3 41.0h0.9v0.9h-0.9zM10.2 62.6h0.9v0.9h-0.9zM21.9 4.8h0.9v0.9h-0.9zM8.5 20.5h0.9v0.9h-0.9zM1.0 63.1h0.9v0.9h-0.9zM7.0 11.9h0.9v0.9h-0.9zM57.0 56.0h0.9v0.9h-0.9zM50.1 56.1h0.9v0.9h-0.9zM54.2 68.4h0.9v0.9h-0.9zM52.6 24.1h0.9v0.9h-0.9zM24.9 4.0h0.9v0.9h-0.9zM32.7 20.2h0.9v0.9h-0.9zM39.1 43.1h0.9v0.9h-0.9zM2.0 24.6h0.9v0.9h-0.9zM59.1 53.1h0.9v0.9h-0.9zM14.9 63.9h0.9v0.9h-0.9zM75.6 30.3h0.9v0.9h-0.9zM15.4 32.6h0.9v0.9h-0.9zM7.9 78.7h0.9v0.9h-0.9zM53.0 30.9h0.9v0.9h-0.9zM60.6 61.0h0.9v0.9h-0.9zM48.9 68.5h0.9v0.9h-0.9zM47.3 36.4h0.9v0.9h-0.9zM67.3 14.3h0.9v0.9h-0.9zM63.9 43.7h0.9v0.9h-0.9zM62.3 4.8h0.9v0.9h-0.9zM16.0 37.5h0.9v0.9h-0.9zM29.5 23.8h0.9v0.9h-0.9zM56.0 50.6h0.9v0.9h-0.9zM3.3 27.3h0.9v0.9h-0.9zM48.1 72.1h0.9v0.9h-0.9zM15.4 24.4h0.9v0.9h-0.9zM67.4 44.8h0.9v0.9h-0.9zM53.1 58.4h0.9v0.9h-0.9zM62.9 31.2h0.9v0.9h-0.9zM41.4 25.2h0.9v0.9h-0.9zM2.0 54.3h0.9v0.9h-0.9zM19.2 59.1h0.9v0.9h-0.9zM49.9 31.1h0.9v0.9h-0.9zM16.0 8.6h0.9v0.9h-0.9zM15.0 3.3h0.9v0.9h-0.9zM47.3 57.7h0.9v0.9h-0.9zM72.1 75.9h0.9v0.9h-0.9zM47.0 11.1h0.9v0.9h-0.9zM67.5 40.6h0.9v0.9h-0.9zM30.9 48.0h0.9v0.9h-0.9z" fill="#4d43a0" opacity="0.8"/><path d="M56.0 33.5h1.0v1.0h-1.0zM74.8 4.6h1.0v1.0h-1.0zM62.7 71.0h1.0v1.0h-1.0zM63.9 16.9h1.0v1.0h-1.0zM11.9 76.8h1.0v1.0h-1.0zM50.7 4.5h1.0v1.0h-1.0zM3.7 46.4h1.0v1.0h-1.0zM28.2 29.6h1.0v1.0h-1.0zM18.1 14.9h1.0v1.0h-1.0zM45.1 76.5h1.0v1.0h-1.0zM8.7 44.6h1.0v1.0h-1.0zM23.1 75.7h1.0v1.0h-1.0zM76.2 77.8h1.0v1.0h-1.0zM12.6 19.8h1.0v1.0h-1.0zM25.8 27.4h1.0v1.0h-1.0zM40.4 55.8h1.0v1.0h-1.0zM43.5 70.1h1.0v1.0h-1.0zM55.7 28.0h1.0v1.0h-1.0zM32.8 76.1h1.0v1.0h-1.0zM76.2 63.3h1.0v1.0h-1.0zM39.4 11.5h1.0v1.0h-1.0zM60.0 53.8h1.0v1.0h-1.0zM8.7 62.7h1.0v1.0h-1.0zM65.2 13.8h1.0v1.0h-1.0zM77.0 61.2h1.0v1.0h-1.0zM38.6 7.7h1.0v1.0h-1.0zM43.4 33.4h1.0v1.0h-1.0zM29.3 70.2h1.0v1.0h-1.0zM60.8 14.4h1.0v1.0h-1.0zM7.1 27.2h1.0v1.0h-1.0zM63.2 4.7h1.0v1.0h-1.0zM16.4 13.6h1.0v1.0h-1.0zM52.4 20.8h1.0v1.0h-1.0zM39.2 24.5h1.0v1.0h-1.0zM23.4 37.0h1.0v1.0h-1.0zM10.8 72.8h1.0v1.0h-1.0zM27.5 41.9h1.0v1.0h-1.0zM19.6 22.9h1.0v1.0h-1.0zM12.7 17.7h1.0v1.0h-1.0zM32.4 70.9h1.0v1.0h-1.0zM21.2 5.5h1.0v1.0h-1.0zM6.4 45.6h1.0v1.0h-1.0zM44.4 75.8h1.0v1.0h-1.0zM24.7 75.1h1.0v1.0h-1.0zM11.4 75.0h1.0v1.0h-1.0zM15.5 8.4h1.0v1.0h-1.0zM71.4 63.4h1.0v1.0h-1.0zM44.2 5.8h1.0v1.0h-1.0zM21.4 63.9h1.0v1.0h-1.0zM11.8 74.0h1.0v1.0h-1.0zM18.0 1.5h1.0v1.0h-1.0zM0.2 68.7h1.0v1.0h-1.0zM75.1 32.9h1.0v1.0h-1.0zM9.5 18.2h1.0v1.0h-1.0zM73.2 59.7h1.0v1.0h-1.0zM40.5 63.0h1.0v1.0h-1.0zM9.1 3.6h1.0v1.0h-1.0zM34.8 72.0h1.0v1.0h-1.0zM56.2 53.1h1.0v1.0h-1.0zM27.2 50.5h1.0v1.0h-1.0zM12.0 37.6h1.0v1.0h-1.0zM0.1 40.7h1.0v1.0h-1.0zM25.1 26.8h1.0v1.0h-1.0zM31.5 7.7h1.0v1.0h-1.0zM66.3 44.7h1.0v1.0h-1.0zM66.1 2.2h1.0v1.0h-1.0zM32.4 51.1h1.0v1.0h-1.0zM67.4 5.7h1.0v1.0h-1.0zM2.9 50.6h1.0v1.0h-1.0zM18.4 35.6h1.0v1.0h-1.0zM56.8 73.1h1.0v1.0h-1.0zM71.0 5.8h1.0v1.0h-1.0zM38.8 6.5h1.0v1.0h-1.0zM36.1 38.2h1.0v1.0h-1.0zM26.0 14.8h1.0v1.0h-1.0zM37.1 13.8h1.0v1.0h-1.0zM38.6 58.0h1.0v1.0h-1.0zM76.7 18.5h1.0v1.0h-1.0zM17.8 33.8h1.0v1.0h-1.0zM13.0 12.0h1.0v1.0h-1.0zM23.1 62.2h1.0v1.0h-1.0zM21.8 19.7h1.0v1.0h-1.0zM78.8 68.6h1.0v1.0h-1.0zM50.7 53.4h1.0v1.0h-1.0zM43.3 38.7h1.0v1.0h-1.0zM23.7 21.6h1.0v1.0h-1.0zM77.9 70.7h1.0v1.0h-1.0zM77.3 14.1h1.0v1.0h-1.0zM59.8 0.6h1.0v1.0h-1.0zM18.2 65.4h1.0v1.0h-1.0z" fill="#9a6a90" opacity="0.8"/></pattern><pattern id="vm2" patternUnits="userSpaceOnUse" width="80" height="80"><rect width="80" height="80" fill="#f3eef4"/><path d="M281 253l3 14M281 253l10 3M291 256l1 7M284 267l8-4M142 102l9-2M142 102l-2 15M151 100l4 18M140 117l14 4M155 118l-1 3M151 100l7-4M155 118l9-9M158 96l6 13M154 121l4 7M158 128l6 1M164 129l4-18M164 109l4 2M304 286l-2-1M304 286l-11 11M302 285l-9 5M297 278l5 7M297 278l-8 4M293 290l-4-8M164 129l7 3M175 111l-7 0M171 132l8-17M140 117l-4 3M158 128l-7 9M151 137l-15-17M63 19l3-14M49 1l-5 9M66 5l-1-4M54 24l-10-14M63 0l2 1M24 75l4 4M24 75l3-11M33 66l-6-2M33 66l2 12M35 78l-7 1M36 67l6 11M42 78l-7 0M27 60l-7-2M27 60l0 4M24 75l-9 1M284 267l-5 7M294 267l-2-4M294 267l-14 9M280 276l-1-2M210 50l-4-3M210 50l-2 5M206 47l-10 1M193 52l3-4M208 55l-8 8M202-10l3 10M205 0l8 7M222-12l-1 13M213 7l3 0M194 3l-8-5M296 20l6 0M296 20l-4 21M302 20l0 19M302 39l-10 2M317 104l8 9M317 104l-7-6M310 98l-7 19M303 117l15 6M325 113l-7 10M296 20l-9-7M287 13l-2 1M290 44l2-3M281 42l-4 3M276 26l-3 0M273 26l-9 7M270 43l-6-10M261 55l12 2M261 55l0 9M273 57l1 3M257 50l14-6M257 50l4 5M277 45l-4 12M257 97l-9-11M257 97l-3 7M254 104l-3 1M248 74l-2 3M248 74l9-1M269 92l1-4M269 92l-12 5M257 73l11 5M246 77l0 7M270 88l-2-10M246 84l2 2M216 8l19 14M216 8l0 17M235 22l-11 4M216 25l8 1M205 320l8 7M205 320l-3-10M221 321l1-13M194 323l-8-5M202 310l-2-2M186 318l14-10M208 290l-8 16M208 290l19 7M200 308l0-2M65 321l-2-1M65 321l1 4M49 321l-5 9M63 19l3 4M54 24l-3 3M66 23l1 19M53 39l-2-12M150 137l-8 3M150 137l7 11M157 148l-10 4M142 140l5 12M134 121l-1 2M134 121l-7-11M127 110l-11 5M114 122l2-7M150 137l1 0M136 120l-2 1M134 140l8 0M134 140l-1-17M142 102l-8-5M134 97l-9 4M77 36l-3-11M77 36l8-1M85 35l0-10M74 25l11 0M66 23l8 2M67 42l3 1M70 43l7-7M82 12l-16-7M87 22l-2 3M93 5l2 16M93 5l-1 0M82 12l10-7M87 22l7 0M95 21l-1 1M158 96l3-4M134 94l5-7M161 92l-6-8M139 87l16-3M93 5l6 0M97 18l3-13M95 21l1 0M99 5l1 0M97 18l7-11M100 5l4 2M92 5l-6-11M65 1l11-5M101-4l-2 9M175 111l2-12M171 89l-10 3M171 89l2 2M177 99l-4-8M193 109l-7 7M193 109l-4-7M177 99l12 3M190 66l-11-2M190 67l-2 14M188 81l-2 1M28 80l0-1M28 80l-5 11M23 91l-9-2M15 76l-5 5M14 89l-4-8M23 91l1 2M16 104l-3-6M16 104l2 0M14 89l-1 9M24 93l-6 11M24 93l7 2M18 104l7 0M25 104l7-6M32 98l-1-3M28 80l5 11M33 91l-2 4M48 97l2-9M48 97l-10 5M38 102l-6-4M77 181l7-6M77 181l-6-1M80 163l-2-3M64 164l0 9M64 173l7 7M77 184l9 11M77 184l-6 13M86 195l-7 10M71 197l8 8M77 181l0 3M71 180l-12 8M71 197l-7 3M64 200l-5-12M50 214l2-14M50 214l11-11M61 203l-9-3M64 173l-10 1M54 174l3 14M59 188l-2 0M25 104l8 11M33 115l-1 1M32 116l-16-11M221 321l16 4M232 295l10 10M232 295l-5 2M242 305l-2 13M240 318l-3 7M283 313l-9 1M283 313l5-11M288 302l-13-6M275 296l-6 6M274 314l-5-12M288 325l-5-12M274 314l-4 11M287 235l1-4M287 235l-9 15M273 247l5 3M173 30l-10 15M173 30l6 4M179 34l-6 16M173 50l-1 1M163 45l9 6M172 25l-12 1M172 25l1 5M163 45l-2 0M180 48l13 4M196 48l-3-9M188 40l5-1M179 34l4-2M188 40l-5-8M169-3l10 2M169-3l9 19M179-1l6 14M178 16l7-3M213 7l-12 8M194 3l3 12M201 15l-4 0M216 7l0 1M216 25l0 0M216 25l-11-2M201 15l4 8M283-7l5 12M287 13l0-1M274-6l-4 11M288 5l-1 7M324 5l-14-10M324 5l-13 6M311 11l-4-11M307 0l0-5M309 20l2-9M309 20l15 2M287 12l20-12M309 96l-10-4M309 96l6-4M299 91l9-18M313 74l5 13M315 92l3-5M317 104l14-7M310 98l-1-2M331 97l-16-5M270 88l24-2M294 86l5 5M273 98l16 4M254 104l4 4M258 108l13 1M273 98l-2 11M300 119l3-2M292 120l-5-2M289 102l-2 16M310 56l-9 4M310 56l3 1M301 60l7 13M314 73l-1-16M318 87l10-5M314 73l6-2M328 82l-8-11M313 57l8 1M321 58l1 3M320 71l2-10M309 20l2 12M322 38l-4 0M318 38l-7-6M302 39l1 0M49 1l-4-2M45-1l-5-8M63 0l-1-21M264 21l5-16M264 21l-4-1M258 18l8-14M258 18l2 2M266 4l3 1M270 5l-1 0M273 26l-9-5M290 44l6 15M296 59l0 1M274 60l0 1M274 61l22-1M239 22l1 2M233 41l6-9M233 41l-7 1M240 24l-1 8M224 43l-5-1M224 43l2 11M219 42l-7 7M212 49l11 9M223 58l3-4M233 41l11 14M226 42l-2 1M243 58l-17-4M223 60l19 4M223 60l0-2M243 58l0 6M243 64l-1 0M217 38l-3-5M217 38l-13 3M214 33l-12 1M204 41l-2-7M216 25l-2 8M219 42l-2-4M210 50l2-1M206 47l-2-6M200 34l0 0M200 34l2 0M205 23l-5 11M138 288l3-6M138 288l13 10M151 287l0 12M151 299l0-1M132 291l-1 4M132 291l6-3M131 295l0 1M151 298l-20-2M73 246l19-8M73 246l-3 13M70 259l10 2M80 261l14-13M92 238l2 5M94 248l0-5M188 263l-17-1M188 263l3 11M171 262l-2 5M169 267l10 9M191 274l9 5M192 288l8-8M192 288l-19-2M179 276l-6 10M253 281l6 24M253 281l3 1M256 282l11 20M259 305l8-3M269 282l6 2M275 284l0 12M269 302l-2 0M191 301l-3 1M191 301l-1-10M190 291l-2 1M182 301l6 1M186 318l-2 0M200 306l-9-5M168 301l2-6M168 301l14 0M169 317l10 2M179 319l5-1M164 316l-1-7M178 192l-10-2M178 192l1-1M179 191l0-16M179 175l-7-2M168 190l4-17M287 176l0-14M287 176l17-3M287 162l9-2M304 173l-8-13M269 148l5-10M271 151l11 3M274 138l22 2M282 154l15-4M297 150l2-4M299 146l1-4M296 140l4 2M292 120l4 20M282 120l5-2M282 120l-8 18M287 162l-5-8M296 160l1-10M306 173l6-14M306 173l-2 0M312 159l-13-13M309 137l6-1M309 137l-9 5M315 136l2 21M312 159l5-2M300 119l9 18M164 191l0-24M172 173l-3-3M169 170l-5-3M191 138l-2 22M191 138l-16-1M172 142l3-5M173 154l14 6M189 160l-2 0M158 148l3 18M158 148l14-6M161 166l2 0M163 166l10-12M171 132l4 5M157 148l1 0M169 170l18-10M179 191l11-4M179 175l7-2M182 207l18-7M200 200l0-11M190 187l10 2M243 104l-2 0M236 96l0 0M241 104l-5-8M241 104l-5 6M236 110l-16-4M218 103l-1 0M220 106l-3-3M186 116l8 17M191 138l2-1M193 109l14 1M194 133l14-11M203 146l-4-5M203 146l7 4M210 150l4-12M232 295l2-6M242 305l14 2M256 307l3-2M253 281l-1 0M200 279l11-12M234 289l-6-22M211 267l17 0M162 267l-9 4M162 267l-6-15M156 252l-6 11M153 271l-3-4M150 267l0-4M171 262l2-14M168 246l-13-3M155 243l1 9M169 267l-3 1M166 268l-4-1M151 241l-12 9M151 241l2 0M139 250l11 13M137 252l2-2M137 252l7 13M144 265l6 2M125 255l-4-7M125 255l-1 2M121 248l-27-5M94 248l3 6M124 257l-2 2M122 259l-5 1M142 277l10-3M152 274l2 4M151 287l3-3M154 302l2 2M156 304l2-18M154 284l4 2M90 308l-1 2M89 310l-3 4M76 316l4-18M76 316l10-2M81 298l-1 0M65 321l11-5M63 298l17 0M63 298l-1 1M62 299l1 21M92 325l-6-11M33 330l9-10M42 320l-17 4M49 321l-4-2M45 319l-3 1M45 319l-5-8M22 323l6-13M40 311l-12-1M22 323l-11-5M4 325l7-7M14 304l-4 13M14 304l13 4M28 310l-1-2M10 317l1 1M38 23l-14 16M42 26l-5 13M37 39l-5 5M24 39l8 5M51 27l-9-1M37 21l1-5M37 21l1 2M53 39l-16 0M127 169l-11 4M116 173l-2-2M126 159l-18-8M108 151l6 20M126 159l5-9M131 143l0 7M108 151l-1-2M107 149l2-6M109 143l4-4M104 151l3-2M104 151l-3 0M101 151l-7-12M94 139l8 0M109 143l-7-4M134 140l-3 3M114 122l-3 2M113 139l-2-15M56 46l0 1M32 44l3 7M56 47l-21 4M27 60l8-9M20 58l-8-7M12 51l10-12M22 39l2 0M35 51l0 0M103 84l-2 2M101 86l-17-8M99 65l-13 6M80 84l0-2M80 84l-9 9M71 93l-5-8M66 85l5-9M80 82l-9-6M118 82l3-1M116 82l-3-8M113 74l7-12M121 81l3-4M124 77l-4-15M134 94l-13-13M139 87l-1-14M124 77l14-4M104 7l2 1M102-5l8 7M106 8l4-6M110 2l6-5M163 4l0-6M163 4l-6 15M157 19l-18-2M137 11l2 6M137 11l8-8M163 4l10 17M178 16l-5 5M223 60l-1 1M227 69l-5-8M208 55l9 8M227 69l-1 3M217 63l-3 8M196 91l-1-2M196 91l-5 6M195 89l-12 3M191 97l-8-5M205 98l-9-7M189 102l2-5M173 91l10 1M33 115l1 0M38 102l-1 9M37 111l-3 4M80 84l15 17M84 78l-4 4M95 101l4-6M103 84l13-2M118 82l-1 15M99 95l18 2M117 97l3 4M116 115l1-10M117 105l3-4M89 196l-3-1M89 196l6 0M84 175l2 0M97 181l-2 15M97 181l-3-2M80 163l15-7M95 156l-1 10M86 175l8-9M53 148l2 4M53 148l23-1M55 152l23 3M78 155l3-7M81 148l-5-1M64 164l-9-11M55 153l0-1M95 156l1-3M82 147l-1 1M109 181l-5 0M109 181l-7 20M104 181l-3 20M102 201l-1 0M97 181l7 0M95 196l6 5M45 204l7-4M45 204l-11-6M52 200l-3-6M49 194l-15 4M11 97l2 1M11 97l-14 7M16 105l-5 7M-3 104l8 9M11 112l-6 1M32 117l-5 4M32 117l6 7M27 121l7 7M38 124l0 4M34 128l4 0M32 116l0 1M24 123l3-2M24 123l-6-4M18 119l-7-7M34 115l16 9M50 124l-12 0M35 144l-11-4M35 144l-1-16M23 135l1 5M65 209l-2-6M65 209l-13 9M50 214l-1 1M63 203l-2 0M52 218l-3-3M45 204l2 11M52 200l0 0M49 215l-2 0M64 263l-7-20M64 263l6-4M57 243l4-4M42 0l-17 4M42 0l-9 10M33 10l-8-6M45-1l-3 1M22 3l3 1M22 3l0 0M22 3l6-13M-7 57l8 1M1 58l1 3M2 61l-2 10M0 71l-6 2M-2 38l4 0M8 52l-7 6M12 69l-10-8M12 51l-4 1M8 82l2-1M8 82l-8-11M22 3l-3 15M37 21l-15 1M169 317l9 19M164 316l-1 2M163 324l0-6M179 319l6 14M248 320l2 10M248 320l9-5M250 330l10-9M240 318l8 2M266 324l-6-3M307 299l0 15M307 299l-14-1M288 302l5-4M288 302l8 11M296 313l11 1M289 282l-10-2M288 302l0 0M279 280l-4 4M311 331l-4-11M324 325l-14-10M307 320l0-5M307 315l3 0M330 317l-10-6M287 332l20-12M307 314l0 1M279 280l1-4M279 274l-5-12M269 282l-4-16M274 262l-9 4M281 253l-2-1M274 262l1-2M320 311l0-14M307 299l4-4M320 297l-9-2M304 286l6 3M311 295l-1-6M200 34l-5 3M193 39l0 0M70 43l2 2M85 35l5 5M72 45l12 3M84 48l5-6M89 42l1-2M96 21l3 0M109 15l1-1M173 23l12 6M173 23l9-2M182 21l4 6M186 27l-1 1M185 29l0-1M172 25l1-2M160 26l-2-2M158 24l-1-5M173 21l0 2M183 32l2-3M185 13l1 0M186 13l-4 8M186 27l0 0M186 27l9 10M193 39l-8-11M184-2l-5 1M193 16l3 0M193 16l-5 10M196 16l1 14M188 26l9 4M186 13l7 3M197 15l-1 1M186 27l2-1M200 34l-3-4M266 4l-6-3M279 118l-7-8M279 118l-18 3M272 110l-11 8M261 121l0-3M271 109l1 1M282 120l-3-2M259 124l15 14M259 124l2-3M258 108l3 10M249 125l10-1M328 52l-7 6M311 51l-6-10M311 51l5-10M316 41l-11 0M310 56l1-5M296 59l5 1M303 39l2 2M318 38l-2 3M272 74l19 4M272 74l1-2M273 72l21-7M291 78l3-13M268 78l4-4M294 86l-3-8M257 73l4-9M296 60l-2 5M264 33l-2 0M260 20l-4 7M256 27l6 6M270 43l-12-5M262 33l-4 5M188 263l1-5M173 248l1 0M182 207l-1 3M162 192l2-1M162 192l9 22M171 214l3 1M181 210l-7 5M115 180l12 12M126 193l-9 2M109 181l5-3M109 181l3 18M117 195l-5 4M102 201l8-1M102 201l0 0M110 200l2-1M148 193l-13-8M148 193l3 0M153 192l0-23M153 192l-2 1M135 185l-2-13M133 172l11-4M144 168l6 0M153 169l-3-1M162 192l-9 0M161 166l-8 3M127 169l6 3M127 192l8-7M147 153l3 15M152 201l-4 5M152 201l1 2M153 203l-4 12M148 206l1 9M171 214l-10-1M161 213l-8-10M151 193l1 8M155 219l6-6M155 219l-6-1M149 218l-7 0M141 211l1 7M305 195l-10 19M305 195l-22-4M295 214l-15-8M283 191l-3 15M278 227l-6-15M289 231l-1 0M289 231l6-7M295 214l1 2M272 212l1-1M273 211l1-2M296 216l-1 8M280 206l-6 3M328 141l-12-5M316 136l3-8M324 157l-7 0M315 136l1 0M203 146l-2 9M189 160l1 1M190 161l11-6M190 161l2 6M207 181l-8-11M192 167l7 3M272 157l-12 18M272 157l-1-6M269 148l-15 1M254 149l-6 14M260 175l-3 0M257 175l-4-2M253 173l-5-10M223 90l-3-6M223 90l7-1M230 89l2-8M220 83l0 1M220 83l8-4M232 81l-4-2M218 103l5-13M211 104l6-1M211 104l2-20M213 84l7 0M236 96l-6-7M246 77l-14 4M226 72l2 7M219 72l1 11M248 74l-5-10M305 195l1 0M306 195l10 5M320 216l-1 1M304 229l15-12M304 229l-9-5M319 217l0 0M304 230l5 6M309 236l5-6M316 223l-2 7M304 229l0 1M319 234l-5-4M319 234l6-5M322 217l-2-1M291 256l1-1M287 235l8 11M279 252l-1-2M292 255l3-9M298 239l-2 6M298 239l-9-8M295 246l1-1M211 267l-5-16M228 267l1-2M229 265l-5-21M189 258l13-10M183 244l-6 4M183 244l18 3M202 248l-1-1M270 232l-3 0M272 212l-12 6M260 218l7 14M125 255l12-3M121 248l0-6M151 241l-6-6M153 241l2-2M140 221l2 9M92 235l1-4M93 231l-19-14M66 225l0 6M66 225l8-8M74 217l0 0M92 238l0-3M107 225l14 17M107 225l-7 0M100 225l-7 6M65 237l1-6M61 239l-8-6M65 209l9 8M52 218l4 4M56 222l0 0M79 205l1 4M64 200l-1 3M80 209l-6 8M99 209l1 15M99 209l-10-2M102 201l-3 8M113 221l-6 4M113 221l2-16M100 225l0-1M89 196l0 11M80 209l3 0M138 274l-1-2M138 274l-5 4M133 278l-4 0M137 272l-12-12M144 265l-7 7M142 277l-4-3M152 274l1-3M132 291l-3-3M129 288l4-10M124 257l1 3M80 261l7 8M97 257l-10 12M63 298l3-10M72 280l9 1M81 281l2 4M81 298l2-7M83 291l0-6M160 286l1-6M160 286l10 5M170 291l1-3M171 288l-6-9M165 279l-4 1M154 278l7 2M158 286l2 0M170 295l0-4M173 286l-2 2M166 268l-1 11M89 310l12 6M101 316l-2 9M64 263l0 1M64 264l8 16M81 281l7-5M87 269l2 5M88 276l1-2M114 311l3-6M114 311l-5-4M109 307l2-10M117 305l-4-8M113 297l-2 0M101 306l4-13M101 306l3 4M104 310l5-3M105 293l6 4M43 301l-2 6M43 301l-13-5M30 296l-1 5M51 295l-8 6M51 295l11 4M40 311l1-4M27 308l2-7M16 280l8 8M16 280l-6-7M10 273l-1-2M42 279l-16 9M42 279l2-8M26 288l-2 0M44 271l0-4M44 267l-4-5M5 298l8 3M5 298l11-18M1 297l4 1M1 297l9-24M51 295l-9-16M30 296l-4-8M14 304l-1-3M64 264l-20 3M57 243l-14 3M39 256l4-10M0 311l0-14M0 297l-9-2M4 325l-14-10M10 317l-10-6M1 297l-1 0M7 269l-10 4M7 269l2 2M132 150l9 3M132 150l9 10M131 150l1 0M147 153l-6 0M144 168l-3-8M102 139l-7-8M111 124l-14-6M95 131l2-13M94 139l-3-1M95 131l-4 7M96 153l5-2M82 147l1-5M91 138l-8 4M65 137l11 10M65 137l14-3M79 134l4 8M48 68l3-6M48 68l-7-6M41 62l-4-8M56 47l1 9M57 56l-6 6M35 51l2 3M36 67l5-5M69 73l-2-5M67 68l-19 8M60 82l-10 3M50 85l-3-6M47 79l1-3M66 85l-6-3M71 76l-2-3M57 56l11 8M68 64l-1 4M48 68l0 8M71 93l-2 4M69 97l-19-9M50 87l0-2M42 78l5 1M70 63l3 0M70 63l2-17M86 71l-3-3M83 68l-10-5M68 64l2-1M72 45l0 1M84 53l-6 5M84 53l2 1M86 54l-3 14M84 48l0 5M145 71l-5-1M152 55l2 8M152 55l-14 2M140 70l-4-11M138 57l-2 2M128-10l-5 8M123-2l-7-1M137 11l-10-2M127 9l-4-11M137-8l8 11M127 9l-2 2M125 11l-5 4M120 15l-10-1M207 73l1 0M208 73l2 8M210 81l-4 3M198 78l-4 7M194 85l1 2M200 63l7 10M214 71l-6 2M190 67l8 11M213 84l-3-3M205 98l1-14M211 104l0 0M195 89l0-2M188 81l6 4M171 89l2-4M186 82l-13 3M48 97l3 6M37 111l7 0M104 157l7 13M103 166l1 2M111 170l-7-2M104 151l0 6M114 171l-3-1M94 166l9 0M94 179l10-11M4 157l1 2M5 159l14 4M14 147l6 11M19 162l0 1M-5 177l13-8M-3 157l7 0M8 169l-3-10M35 154l3-8M35 154l-15 4M38 146l-3-2M33 214l11 2M33 214l-2-12M44 216l3-1M33 198l-2 4M17 210l-3-13M33 214l-5 7M28 221l-1 0M21 216l6 5M28 202l3 0M9 212l8-1M9 212l3-16M14 197l-2-1M-4 200l14-8M-5 177l15 11M10 188l0 3M5 113l-7 10M-2 123l-15-6M17 227l-9-5M17 227l3 0M8 222l13-6M27 221l-2 2M20 227l5-4M7 269l0-13M26 249l-18 5M7 256l1-2M28 221l8 10M25 223l4 11M36 231l-7 3M-10-5l14 10M4 5l7-7M4 5l0 0M11-2l-1-1M-9 11l13-6M22 3l-11-5M19 18l-11 0M8 18l-4-13M-11 20l15 2M8 18l-4 4M5 27l15 5M21 36l-1-4M2 38l2-2M22 39l-1-3M4 22l1 5M22 22l-2 10M275 260l-15-4M265 266l-2 0M263 266l-3-10M325 298l-4-1M321 297l9-24M320 297l1 0M327 269l-10 4M145 71l8 8M154 63l4 2M158 65l1 2M159 67l-6 12M155 84l-1-4M140 70l-2 3M153 79l1 1M173 76l5-12M173 76l-8-4M165 72l-1-1M164 71l8-16M178 64l-6-10M172 54l0 1M173 85l0-9M179 64l-1 0M154 80l11-8M172 51l0 3M161 45l-2 0M159 45l-7 10M86 54l14 7M89 42l5 7M94 49l6 12M99 65l2-3M100 61l1 1M113 74l-9-12M104 62l-3 0M101 62l0 0M104 62l13-4M117 58l-11-13M101 62l2-15M106 45l-3 2M94 49l6-4M103 47l-3-2M90 40l6-2M100 45l-4-7M94 22l3 14M97 36l-1 2M106 29l-4 6M106 29l3 0M109 29l7 1M102 35l2 2M104 37l11-2M99 21l7 8M97 36l5-1M109 15l0 14M120 28l-4 2M120 28l0-13M106 45l2-2M108 43l-4-6M248 12l2-2M248 12l-6 2M250 10l-2-10M242 14l-5-9M237 5l3-7M240-2l8 2M258 18l-10-6M260 1l-10 9M239 22l3-8M240 24l12 4M256 27l-4 1M257-5l-9 5M221 1l16 4M242-15l-2 13M316 200l14-8M308 176l7 1M308 176l-2 19M315 177l15 11M315 177l13-8M244 36l9 1M244 36l5 15M253 37l3 3M256 40l-2 9M254 49l-5 2M239 32l5 4M252 28l1 9M244 55l5-4M258 38l-2 2M257 50l-3-1M128 309l0 1M128 309l1-7M129 302l1-2M130 300l15 4M145 304l-8 8M116 317l-2-6M116 317l7 1M123 318l5-8M117 305l11 4M114 297l-1 0M114 297l15 5M145 323l-8-11M123 318l4 11M131 295l-13-2M131 296l-1 4M118 293l-4 4M174 221l0 0M174 221l1 6M174 221l15 9M175 227l3 8M178 235l6-1M184 234l5-4M155 239l19-18M174 215l0 6M168 246l7-19M174 248l4-13M185 241l-1-7M185 241l-2 3M210 150l3 3M201 155l6 4M213 153l-6 6M207 159l0 3M214 184l-7-3M214 184l5-1M219 183l5-14M207 181l5-7M212 174l12-5M272 157l4 13M260 175l16-5M287 176l-3 2M283 191l-2-6M281 185l3-7M284 178l-8-8M229 164l-14-12M229 164l2-14M231 150l-15 1M215 152l1-1M208 122l8 6M208 122l17-6M216 128l7-3M223 125l2-2M226 122l-1-5M225 116l0 1M208 122l0 0M214 138l4-2M218 136l-2-8M220 106l5 10M236 112l-11 5M236 112l2 9M238 121l-12 1M236 110l0 2M231 150l0-1M231 149l-11-5M218 136l1 1M223 125l10 12M213 153l0 0M213 153l2-1M220 144l-1-7M185 241l9-6M189 230l3 0M194 235l-2-5M201 247l0-6M194 235l7 6M261 245l-17-16M244 229l2-2M273 247l-11 0M267 232l-5 3M260 218l-13 1M247 219l-1 8M130 228l-3 3M130 228l3-7M127 231l-7-10M133 221l-4-4M120 221l4-4M126 234l1-3M142 230l-12-2M140 221l-7 0M113 221l7 0M115 205l7 1M122 206l2 11M128 198l-2 6M128 198l10 3M126 204l6 5M138 201l-1 7M137 208l-5 1M126 193l2 5M122 206l4-2M148 193l-10 8M129 217l3-8M141 211l-4-3M129 278l-7 2M122 280l2 5M118 293l2-4M120 289l4-4M104 313l12 4M102 315l8 7M116 317l-6 5M116 317l0 0M90 308l11-2M101 316l1-1M90 288l2 5M90 288l4-2M94 286l8 6M102 292l-6 3M96 295l-4-2M83 291l9 2M83 285l7 3M88 276l6 10M89 303l7-8M105 293l-1-1M104 292l-2 0M97 257l6 11M89 274l8 0M104 268l-1 0M96 117l-15 8M94 105l0 0M94 105l-24-1M70 104l0 0M80 126l1-1M80 126l-1 8M97 118l-1-1M117 105l-23 0M95 101l-1 4M69 97l1 7M120 62l-1-4M136 59l-13-2M123 57l-4 1M117 58l2 0M108 43l6 0M119 58l-5-15M119 58l0 0M115 35l0 7M114 43l1-1M132 33l7-2M132 33l-2 0M130 33l-3 7M127 40l0 4M127 44l12 3M141 32l-2-1M141 32l2 5M143 37l-4 10M139 17l0 14M125 11l7 22M120 28l10 5M115 42l12-2M123 57l4-13M138 57l1-10M158 24l-17 8M159 45l-16-8M-7 74l5 13M-5 92l3-5M8 82l-10 5M11 97l-16-5M51 103l7 6M70 104l-1 1M-16 229l15-12M9 212l-7 5M8 222l-3-1M5 221l-3-4M12 196l-2-4M2 217l-2-1M0 216l-1 1M-1 217l0 0M10 188l2-3M8 169l4 2M12 185l0-14M19 163l-4 7M-1 128l-3 8M10 129l1 2M11 131l-3 10M8 141l-12-5M18 119l-8 10M23 135l-12-4M14 146l-6-5M1 254l-13-12M1 254l-11 1M7 256l-6-2M51 225l-4 9M51 225l-10 5M40 233l2 3M56 222l-5 3M53 233l-6 1M44 216l-3 14M36 231l4 2M43 246l-1-10M42 236l0 0M28 234l2 5M28 234l-6 0M42 236l-12 3M29 234l-1 0M20 227l2 7M26 249l-1-3M252 281l1-11M263 266l-7 3M253 270l3-1M262 247l-4 4M258 251l0 1M294 267l6 4M297 278l3-7M300 271l0 0M319 234l0 5M309 236l0 4M319 239l-10 1M298 239l10 3M308 242l1-2M212 165l3-5M212 165l1 1M213 166l5-1M215 160l3 5M213 153l2 7M207 162l5 3M207 181l0 0M224 169l3-3M227 166l-9-1M229 164l-2 2M260 175l5 4M276 185l-11-6M219 183l5 1M231 165l-1 12M224 184l6-7M214 184l5 19M219 203l2-2M221 201l9-11M224 184l6 6M228 126l10 12M228 126l13-2M243 138l-3 1M225 123l3 3M233 137l5 1M238 121l3 3M254 149l-11-11M248 163l-15 2M231 165l2 0M231 149l9-10M249 125l-4 3M181 210l11 9M192 230l1-4M192 219l1 7M224 244l1-2M225 242l-10-9M201 241l3-4M215 233l-11 4M118 276l1 1M118 276l-6 2M119 277l-4 9M112 278l-6 6M106 286l0-2M122 259l-4 17M104 268l8 10M120 289l-5-3M97 274l9 10M80 126l-9-2M69 105l0 17M71 124l-2-2M5 229l-6 5M5 229l4 10M-1 234l0 5M9 239l0 1M9 240l-2 3M-6 230l5 4M5 221l0 8M17 227l-8 12M-11 240l10-1M8 254l-1-11M21 238l-12 2M33 198l0-2M10 191l19 0M29 191l4 5M12 185l13-5M29 191l-4-11M55 153l-7 14M54 174l-4-1M50 173l-2-6M52 189l-1 2M46 178l-4 1M49 194l2-3M33 196l3-7M36 189l4-3M57 188l-5 1M239 236l5-7M239 236l3 7M258 251l-3 0M242 243l13 8M317 273l0 0M300 271l17 1M317 273l0-1M300 271l5-14M317 272l-12-15M305 247l-2 7M308 242l13 12M321 254l-11 1M310 255l-6 0M292 255l11-1M296 245l9 2M308 242l0 0M327 256l-6-2M317 273l-7-18M305 257l-1-2M262 189l-4 3M262 195l7-2M262 195l-5-1M269 193l5-7M276 185l-2 1M265 179l-3 10M257 175l1 17M269 202l0-9M269 202l-7-7M273 211l-21-14M274 209l-5-7M237 182l-6 8M237 182l5-1M245 182l-3-1M245 182l1 18M246 200l-1 0M230 177l7 5M230 190l1 0M233 165l9 16M253 173l-8 9M252 197l-6 3M245 202l-24-1M245 202l0-2M247 219l-2-5M245 202l0 12M192 219l11-5M193 226l9-1M202 225l1-11M204 237l0-10M202 225l2 2M63 136l-13 7M63 136l1-3M64 133l-3-11M50 143l0-7M50 136l1-12M51 124l2-4M61 122l-7-3M50 143l3 5M65 137l-2-1M69 122l-8 0M50 143l-12 3M38 128l12 8M44 111l9 9M58 109l-4 10M15 170l9 5M25 180l0 0M24 175l1 5M19 162l8 4M24 175l3-9M252 270l0-14M252 270l-17-7M252 256l-14 2M235 263l3-5M253 270l-1 0M255 251l-3 5M242 243l-4 15M239 236l-5 0M234 236l-9 6M215 227l-6-2M215 227l6-7M209 225l-2-14M221 220l1-5M216 207l-8 1M208 208l-1 3M215 233l0-6M204 227l5-2M234 236l-13-16M203 214l4-3M245 214l-23 1M219 203l-3 4M36 189l-4-10M25 180l6-2M32 179l-1-1M27 166l5-1M31 178l1-13M35 154l0 9M40 178l-1-12M40 178l-6 0M34 178l4-12M39 166l-1 0M48 167l-9-1M42 179l-2-1M35 163l3 3" transform="scale(0.25)" stroke="#7e6aa8" stroke-width="2.6" fill="none" stroke-linecap="round"/><path d="M58.4 28.2h0.9v0.9h-0.9zM10.0 60.7h0.9v0.9h-0.9zM4.1 9.7h0.9v0.9h-0.9zM59.0 60.1h0.9v0.9h-0.9zM42.7 24.4h0.9v0.9h-0.9zM47.6 48.8h0.9v0.9h-0.9zM26.8 36.2h0.9v0.9h-0.9zM37.0 36.5h0.9v0.9h-0.9zM74.2 24.6h0.9v0.9h-0.9zM46.4 35.0h0.9v0.9h-0.9zM65.0 43.0h0.9v0.9h-0.9zM51.7 37.1h0.9v0.9h-0.9zM57.5 63.2h0.9v0.9h-0.9zM19.1 17.9h0.9v0.9h-0.9zM37.8 46.7h0.9v0.9h-0.9zM65.0 50.2h0.9v0.9h-0.9zM59.2 7.5h0.9v0.9h-0.9zM59.7 54.6h0.9v0.9h-0.9zM36.4 53.7h0.9v0.9h-0.9zM56.7 50.5h0.9v0.9h-0.9zM4.2 12.5h0.9v0.9h-0.9zM12.0 28.2h0.9v0.9h-0.9zM51.2 42.1h0.9v0.9h-0.9zM21.2 50.5h0.9v0.9h-0.9zM34.8 2.0h0.9v0.9h-0.9zM60.4 24.3h0.9v0.9h-0.9zM44.6 50.9h0.9v0.9h-0.9zM47.8 45.4h0.9v0.9h-0.9zM42.7 65.3h0.9v0.9h-0.9zM14.8 21.8h0.9v0.9h-0.9zM69.2 9.7h0.9v0.9h-0.9zM30.3 51.9h0.9v0.9h-0.9zM15.9 30.0h0.9v0.9h-0.9zM69.8 24.1h0.9v0.9h-0.9zM42.0 13.0h0.9v0.9h-0.9zM30.3 22.0h0.9v0.9h-0.9zM56.7 16.9h0.9v0.9h-0.9zM31.7 62.8h0.9v0.9h-0.9zM18.0 42.6h0.9v0.9h-0.9zM40.3 13.0h0.9v0.9h-0.9zM39.4 78.2h0.9v0.9h-0.9zM15.2 58.6h0.9v0.9h-0.9zM59.0 14.0h0.9v0.9h-0.9zM72.8 66.8h0.9v0.9h-0.9zM74.5 75.5h0.9v0.9h-0.9zM78.0 73.5h0.9v0.9h-0.9zM22.7 18.0h0.9v0.9h-0.9zM76.0 60.6h0.9v0.9h-0.9zM51.1 5.3h0.9v0.9h-0.9zM51.6 77.3h0.9v0.9h-0.9zM53.9 28.4h0.9v0.9h-0.9zM3.3 64.5h0.9v0.9h-0.9zM33.4 67.7h0.9v0.9h-0.9zM41.9 38.4h0.9v0.9h-0.9zM62.1 37.1h0.9v0.9h-0.9zM61.4 70.7h0.9v0.9h-0.9zM37.1 74.6h0.9v0.9h-0.9zM57.3 62.2h0.9v0.9h-0.9zM23.7 6.9h0.9v0.9h-0.9zM61.1 40.7h0.9v0.9h-0.9zM61.4 57.9h0.9v0.9h-0.9zM53.0 3.7h0.9v0.9h-0.9zM19.2 45.5h0.9v0.9h-0.9zM65.7 71.1h0.9v0.9h-0.9zM11.9 40.6h0.9v0.9h-0.9zM17.7 26.0h0.9v0.9h-0.9zM30.7 67.5h0.9v0.9h-0.9zM28.7 14.3h0.9v0.9h-0.9zM78.1 30.9h0.9v0.9h-0.9zM16.1 19.7h0.9v0.9h-0.9zM8.3 7.6h0.9v0.9h-0.9zM60.8 11.0h0.9v0.9h-0.9zM42.8 40.2h0.9v0.9h-0.9zM73.0 45.0h0.9v0.9h-0.9zM62.4 8.4h0.9v0.9h-0.9zM76.9 34.7h0.9v0.9h-0.9zM73.8 71.7h0.9v0.9h-0.9zM3.5 10.2h0.9v0.9h-0.9zM21.9 17.7h0.9v0.9h-0.9zM33.1 32.8h0.9v0.9h-0.9z" fill="#4d43a0" opacity="0.8"/><path d="M64.5 40.8h1.0v1.0h-1.0zM2.9 42.6h1.0v1.0h-1.0zM32.2 22.4h1.0v1.0h-1.0zM5.5 40.0h1.0v1.0h-1.0zM39.4 76.3h1.0v1.0h-1.0zM46.4 64.1h1.0v1.0h-1.0zM37.3 68.3h1.0v1.0h-1.0zM30.6 22.8h1.0v1.0h-1.0zM46.2 35.9h1.0v1.0h-1.0zM68.8 8.2h1.0v1.0h-1.0zM13.4 14.7h1.0v1.0h-1.0zM65.0 18.3h1.0v1.0h-1.0zM56.4 23.2h1.0v1.0h-1.0zM55.6 62.3h1.0v1.0h-1.0zM67.3 12.5h1.0v1.0h-1.0zM17.3 68.6h1.0v1.0h-1.0zM7.3 56.3h1.0v1.0h-1.0zM10.7 55.3h1.0v1.0h-1.0zM63.0 62.0h1.0v1.0h-1.0zM27.0 65.5h1.0v1.0h-1.0zM76.0 44.4h1.0v1.0h-1.0zM13.9 52.0h1.0v1.0h-1.0zM44.5 31.3h1.0v1.0h-1.0zM47.5 28.7h1.0v1.0h-1.0zM24.3 31.3h1.0v1.0h-1.0zM21.9 20.6h1.0v1.0h-1.0zM35.9 52.1h1.0v1.0h-1.0zM5.5 9.6h1.0v1.0h-1.0zM9.0 43.2h1.0v1.0h-1.0zM39.9 9.7h1.0v1.0h-1.0zM76.6 24.9h1.0v1.0h-1.0zM21.4 9.2h1.0v1.0h-1.0zM49.2 61.8h1.0v1.0h-1.0zM62.9 44.0h1.0v1.0h-1.0zM75.0 78.8h1.0v1.0h-1.0zM30.9 74.3h1.0v1.0h-1.0zM48.5 24.5h1.0v1.0h-1.0zM55.2 14.9h1.0v1.0h-1.0zM68.2 61.7h1.0v1.0h-1.0zM77.1 7.4h1.0v1.0h-1.0zM10.5 33.4h1.0v1.0h-1.0zM74.1 48.2h1.0v1.0h-1.0zM28.2 19.3h1.0v1.0h-1.0zM74.4 58.4h1.0v1.0h-1.0zM11.7 68.0h1.0v1.0h-1.0zM59.8 67.3h1.0v1.0h-1.0zM1.9 54.1h1.0v1.0h-1.0zM76.8 33.7h1.0v1.0h-1.0zM19.2 30.1h1.0v1.0h-1.0zM61.9 3.9h1.0v1.0h-1.0zM35.3 7.0h1.0v1.0h-1.0zM32.7 33.2h1.0v1.0h-1.0zM20.3 5.4h1.0v1.0h-1.0zM34.6 51.5h1.0v1.0h-1.0zM9.2 51.3h1.0v1.0h-1.0zM19.4 36.4h1.0v1.0h-1.0zM77.0 45.0h1.0v1.0h-1.0zM3.1 70.8h1.0v1.0h-1.0zM2.9 22.6h1.0v1.0h-1.0zM47.9 28.9h1.0v1.0h-1.0zM57.1 49.2h1.0v1.0h-1.0zM25.2 67.9h1.0v1.0h-1.0zM2.6 1.3h1.0v1.0h-1.0zM70.8 17.0h1.0v1.0h-1.0zM70.3 22.0h1.0v1.0h-1.0zM48.1 48.7h1.0v1.0h-1.0zM61.8 55.1h1.0v1.0h-1.0zM67.9 39.9h1.0v1.0h-1.0zM45.7 71.1h1.0v1.0h-1.0zM64.7 24.2h1.0v1.0h-1.0zM46.0 8.3h1.0v1.0h-1.0zM45.6 21.4h1.0v1.0h-1.0zM26.6 59.4h1.0v1.0h-1.0zM9.9 61.4h1.0v1.0h-1.0zM53.3 15.3h1.0v1.0h-1.0zM56.1 3.8h1.0v1.0h-1.0zM77.0 17.2h1.0v1.0h-1.0zM30.7 19.3h1.0v1.0h-1.0zM67.9 77.6h1.0v1.0h-1.0zM68.9 31.3h1.0v1.0h-1.0zM75.8 63.0h1.0v1.0h-1.0zM42.0 50.6h1.0v1.0h-1.0zM3.5 71.3h1.0v1.0h-1.0zM25.5 67.9h1.0v1.0h-1.0zM67.9 36.7h1.0v1.0h-1.0zM72.6 33.6h1.0v1.0h-1.0zM21.6 52.0h1.0v1.0h-1.0zM37.0 0.2h1.0v1.0h-1.0zM57.0 61.8h1.0v1.0h-1.0zM51.9 74.5h1.0v1.0h-1.0zM78.2 2.4h1.0v1.0h-1.0zM32.2 42.0h1.0v1.0h-1.0zM43.3 49.2h1.0v1.0h-1.0zM13.4 41.3h1.0v1.0h-1.0zM16.4 61.5h1.0v1.0h-1.0zM50.7 70.5h1.0v1.0h-1.0zM40.3 27.1h1.0v1.0h-1.0zM26.0 32.9h1.0v1.0h-1.0zM60.9 15.7h1.0v1.0h-1.0zM12.5 9.5h1.0v1.0h-1.0zM9.0 62.0h1.0v1.0h-1.0zM59.1 13.6h1.0v1.0h-1.0zM57.8 73.1h1.0v1.0h-1.0zM52.0 20.0h1.0v1.0h-1.0zM60.7 59.3h1.0v1.0h-1.0zM55.1 77.6h1.0v1.0h-1.0zM11.0 11.2h1.0v1.0h-1.0zM28.6 71.4h1.0v1.0h-1.0zM19.2 25.8h1.0v1.0h-1.0zM62.7 18.4h1.0v1.0h-1.0zM37.6 6.8h1.0v1.0h-1.0zM32.1 49.8h1.0v1.0h-1.0zM8.1 70.1h1.0v1.0h-1.0zM72.2 42.5h1.0v1.0h-1.0zM34.7 36.5h1.0v1.0h-1.0zM43.1 68.6h1.0v1.0h-1.0zM72.9 38.5h1.0v1.0h-1.0zM39.4 4.5h1.0v1.0h-1.0zM11.1 17.3h1.0v1.0h-1.0zM13.6 58.6h1.0v1.0h-1.0zM32.2 0.1h1.0v1.0h-1.0zM77.6 5.7h1.0v1.0h-1.0zM54.5 75.0h1.0v1.0h-1.0zM41.8 23.9h1.0v1.0h-1.0zM14.1 68.3h1.0v1.0h-1.0zM29.2 27.9h1.0v1.0h-1.0zM35.2 32.7h1.0v1.0h-1.0zM24.3 2.2h1.0v1.0h-1.0zM52.8 51.3h1.0v1.0h-1.0zM39.4 43.3h1.0v1.0h-1.0zM23.6 78.5h1.0v1.0h-1.0zM19.0 53.9h1.0v1.0h-1.0zM60.2 33.5h1.0v1.0h-1.0zM25.0 35.2h1.0v1.0h-1.0zM14.9 58.3h1.0v1.0h-1.0zM66.4 47.3h1.0v1.0h-1.0zM60.5 5.6h1.0v1.0h-1.0zM51.0 56.8h1.0v1.0h-1.0zM47.2 31.2h1.0v1.0h-1.0zM74.5 32.5h1.0v1.0h-1.0zM34.1 51.0h1.0v1.0h-1.0zM74.8 20.1h1.0v1.0h-1.0zM66.7 50.4h1.0v1.0h-1.0zM68.8 77.1h1.0v1.0h-1.0zM78.5 5.8h1.0v1.0h-1.0zM8.2 33.8h1.0v1.0h-1.0zM7.5 74.5h1.0v1.0h-1.0zM69.8 78.7h1.0v1.0h-1.0zM50.5 57.1h1.0v1.0h-1.0zM68.2 36.7h1.0v1.0h-1.0zM44.7 43.6h1.0v1.0h-1.0zM58.4 32.8h1.0v1.0h-1.0zM12.8 56.8h1.0v1.0h-1.0zM29.9 64.3h1.0v1.0h-1.0zM15.4 4.3h1.0v1.0h-1.0zM61.5 76.0h1.0v1.0h-1.0zM26.9 24.4h1.0v1.0h-1.0zM34.3 64.2h1.0v1.0h-1.0zM50.5 54.5h1.0v1.0h-1.0zM22.3 53.1h1.0v1.0h-1.0zM31.1 56.8h1.0v1.0h-1.0zM45.1 17.7h1.0v1.0h-1.0zM0.9 78.1h1.0v1.0h-1.0zM52.4 16.7h1.0v1.0h-1.0zM26.4 21.7h1.0v1.0h-1.0zM72.9 34.9h1.0v1.0h-1.0zM78.9 53.1h1.0v1.0h-1.0zM50.1 57.6h1.0v1.0h-1.0zM72.4 7.4h1.0v1.0h-1.0zM64.1 15.3h1.0v1.0h-1.0zM11.2 8.4h1.0v1.0h-1.0zM40.6 75.1h1.0v1.0h-1.0zM63.9 33.2h1.0v1.0h-1.0zM0.7 71.4h1.0v1.0h-1.0zM63.1 2.7h1.0v1.0h-1.0zM35.2 34.2h1.0v1.0h-1.0zM43.7 51.1h1.0v1.0h-1.0zM38.4 26.9h1.0v1.0h-1.0zM3.6 23.3h1.0v1.0h-1.0zM39.1 42.3h1.0v1.0h-1.0zM25.8 28.6h1.0v1.0h-1.0zM43.0 73.7h1.0v1.0h-1.0zM24.2 64.4h1.0v1.0h-1.0zM77.2 58.4h1.0v1.0h-1.0zM7.4 58.2h1.0v1.0h-1.0zM70.1 38.7h1.0v1.0h-1.0zM29.6 51.3h1.0v1.0h-1.0zM63.5 56.4h1.0v1.0h-1.0zM28.5 75.4h1.0v1.0h-1.0zM50.1 33.1h1.0v1.0h-1.0zM6.9 78.8h1.0v1.0h-1.0zM66.0 55.9h1.0v1.0h-1.0zM34.7 43.6h1.0v1.0h-1.0zM35.6 7.9h1.0v1.0h-1.0zM12.6 25.8h1.0v1.0h-1.0zM39.6 36.1h1.0v1.0h-1.0zM16.2 22.1h1.0v1.0h-1.0zM3.5 44.0h1.0v1.0h-1.0zM44.8 20.6h1.0v1.0h-1.0zM51.6 7.0h1.0v1.0h-1.0zM11.4 24.1h1.0v1.0h-1.0zM10.1 62.2h1.0v1.0h-1.0zM40.8 22.2h1.0v1.0h-1.0zM43.8 33.2h1.0v1.0h-1.0zM60.0 5.6h1.0v1.0h-1.0zM78.2 47.7h1.0v1.0h-1.0zM9.6 56.3h1.0v1.0h-1.0zM61.1 7.5h1.0v1.0h-1.0zM77.8 2.3h1.0v1.0h-1.0zM16.7 44.3h1.0v1.0h-1.0zM78.6 56.5h1.0v1.0h-1.0zM20.6 39.5h1.0v1.0h-1.0zM35.4 37.0h1.0v1.0h-1.0zM51.6 60.9h1.0v1.0h-1.0zM4.9 63.9h1.0v1.0h-1.0zM11.1 43.6h1.0v1.0h-1.0zM40.1 39.6h1.0v1.0h-1.0zM27.9 39.2h1.0v1.0h-1.0zM54.8 27.9h1.0v1.0h-1.0zM11.0 76.4h1.0v1.0h-1.0zM55.7 10.2h1.0v1.0h-1.0zM36.1 78.8h1.0v1.0h-1.0zM41.1 59.7h1.0v1.0h-1.0zM24.4 6.7h1.0v1.0h-1.0zM65.6 67.3h1.0v1.0h-1.0zM27.0 12.2h1.0v1.0h-1.0zM5.5 54.4h1.0v1.0h-1.0zM27.4 35.6h1.0v1.0h-1.0zM34.7 62.5h1.0v1.0h-1.0zM28.0 49.9h1.0v1.0h-1.0zM69.8 30.2h1.0v1.0h-1.0zM4.7 40.1h1.0v1.0h-1.0zM71.0 70.9h1.0v1.0h-1.0zM53.7 45.1h1.0v1.0h-1.0zM36.8 75.9h1.0v1.0h-1.0zM60.3 52.8h1.0v1.0h-1.0zM24.9 36.1h1.0v1.0h-1.0zM39.3 16.6h1.0v1.0h-1.0zM20.5 60.0h1.0v1.0h-1.0zM6.2 28.2h1.0v1.0h-1.0zM55.5 41.4h1.0v1.0h-1.0zM26.8 1.3h1.0v1.0h-1.0zM70.2 36.5h1.0v1.0h-1.0zM61.7 16.5h1.0v1.0h-1.0zM71.3 46.3h1.0v1.0h-1.0zM25.8 7.8h1.0v1.0h-1.0zM58.4 47.2h1.0v1.0h-1.0zM60.7 17.6h1.0v1.0h-1.0zM41.0 51.6h1.0v1.0h-1.0zM66.6 48.8h1.0v1.0h-1.0zM5.8 58.7h1.0v1.0h-1.0zM50.4 9.7h1.0v1.0h-1.0zM65.3 18.6h1.0v1.0h-1.0zM14.1 77.5h1.0v1.0h-1.0zM78.6 78.0h1.0v1.0h-1.0zM31.9 9.6h1.0v1.0h-1.0zM76.0 22.2h1.0v1.0h-1.0zM0.4 63.3h1.0v1.0h-1.0zM51.5 38.8h1.0v1.0h-1.0zM37.6 3.5h1.0v1.0h-1.0zM70.6 9.0h1.0v1.0h-1.0zM26.5 1.9h1.0v1.0h-1.0zM14.2 63.8h1.0v1.0h-1.0zM1.2 51.1h1.0v1.0h-1.0zM14.4 3.7h1.0v1.0h-1.0zM70.9 59.5h1.0v1.0h-1.0zM75.5 33.8h1.0v1.0h-1.0zM55.9 57.5h1.0v1.0h-1.0zM64.2 56.3h1.0v1.0h-1.0zM51.2 34.4h1.0v1.0h-1.0zM72.1 64.1h1.0v1.0h-1.0zM61.2 54.9h1.0v1.0h-1.0zM41.4 18.6h1.0v1.0h-1.0zM52.4 72.3h1.0v1.0h-1.0zM48.4 57.8h1.0v1.0h-1.0zM33.1 72.3h1.0v1.0h-1.0zM10.1 65.3h1.0v1.0h-1.0zM34.3 65.8h1.0v1.0h-1.0zM12.9 38.5h1.0v1.0h-1.0zM25.9 34.0h1.0v1.0h-1.0z" fill="#9a5a60" opacity="0.6"/><path d="M64.2 11.3h1.2v1.2h-1.2zM29.4 67.1h1.2v1.2h-1.2zM5.9 7.2h1.2v1.2h-1.2zM63.0 37.4h1.2v1.2h-1.2zM58.1 60.2h1.2v1.2h-1.2zM18.5 42.3h1.2v1.2h-1.2zM34.5 33.1h1.2v1.2h-1.2zM49.4 20.6h1.2v1.2h-1.2zM41.4 45.3h1.2v1.2h-1.2zM12.8 74.9h1.2v1.2h-1.2zM71.8 69.3h1.2v1.2h-1.2zM27.3 63.4h1.2v1.2h-1.2zM4.2 21.9h1.2v1.2h-1.2zM10.7 30.1h1.2v1.2h-1.2zM57.6 2.5h1.2v1.2h-1.2zM69.9 51.5h1.2v1.2h-1.2z" fill="#1d4d58" opacity="0.8"/></pattern><pattern id="vm" patternUnits="userSpaceOnUse" width="80" height="80"><rect width="80" height="80" fill="#f3eef4"/><path d="M-3 283l1 0M-3 283l2 14M-1 297l7-15M-2 283l8-1M-1 301l1 1M-1 301l0-4M0 302l16-7M6 282l6-2M16 295l-4-15M211 53l0 0M208 63l-4-8M199 49l2-3M199 49l5 6M202 46l-1 0M202 46l9 7M304 176l-14-9M304 176l1 4M305 180l-6 4M299 184l-10-14M289 170l1-3M305 167l-16-9M290 167l-1-9M305 167l9-10M314 157l3 2M305 180l13 1M322 178l-4 3M332 25l-17-3M333 22l-17-9M315 22l1-9M272 26l18 9M290 35l-1 3M272 26l0 13M289 38l-1 1M288 39l-10 7M272 39l5 7M278 46l-1 0M201 70l-4-1M201 70l5-1M196 52l1 17M196 52l3-3M208 63l0 1M192 33l7 7M192 33l13-6M199 40l10-6M205 27l4 7M329 57l-8 9M325 70l-4-4M317 159l15-7M265 98l6 6M265 98l10-9M271 104l7-11M41 313l10 9M41 313l-1 2M40 315l-5 16M187 324l-11-9M176 315l-4 9M110 251l6-5M110 251l6 6M116 257l5-2M115 259l1-2M115 259l-7-1M124 251l-3 4M124 251l-7-14M121 255l0 0M117 237l0 0M117 237l-1 9M115 259l-2 6M113 265l16-1M64 323l1-21M41 313l0 0M60 301l5 1M60 301l-2 0M58 301l-17 12M-1 301l-16-10M225 3l-19 2M225 3l-8-13M209-9l-5 11M134 96l9-10M134 96l-4-4M143 86l-4-4M131 82l3-2M139 82l-5-2M263 98l2 0M263 98l-4-7M263 85l12 4M263 85l-3 4M275 89l0 0M259 91l1-2M245 75l2-2M245 75l0 3M247 73l16 3M263 85l0-9M260 89l-15-11M318 203l5 5M318 182l7 12M318 182l-5 12M318 202l-5-8M318 202l0 1M318 182l0-1M318 202l-14 7M313 194l-11 4M299 184l-4 6M302 198l-7-8M302 219l2-10M302 219l21-2M161 101l0-1M161 101l10 14M187 108l-6 6M187 108l-12-14M175 94l-6-3M171 115l10-1M152 89l-1 5M152 89l6-6M151 94l10 6M168 135l13-21M183 136l-2-22M296 23l19 8M296 23l0 0M296 23l19 1M315 24l1 5M315 31l1-2M295 28l14 11M309 39l6-1M272 26l1-5M273 21l1-1M274 20l22 2M296 22l0 1M297 15l-1 7M297 15l11-5M314 10l2 3M315 38l6 6M325 44l-4 0M274 20l0-8M297 15l-11-12M286 3l-12 9M305-4l3 14M286 3l0-6M273 21l-9-1M264 20l-5-8M259 12l9-4M259 12l-3-1M256 11l3-14M268 8l-4-13M309 39l-4 5M305 44l-5 1M258 43l7-5M258 43l-5 1M253 44l-3-17M260 30l-9-3M251 27l-1 0M272 26l-12 4M272 39l-7-1M264 20l-13 7M248 14l2-18M248 14l-6 7M238 20l-3-2M235 18l-3-12M235-1l6-4M256 11l-8 3M250 27l-8-6M225 3l7 3M209 17l7 3M221 20l-5 0M221 20l14-2M206 13l0-8M229-13l6 12M253 57l12 5M253 57l15-8M268 49l3 0M247 73l4-16M270 69l-5-7M251 56l0 1M250 49l1 7M250 49l3-5M258 43l10 6M277 46l-6 3M213 35l5 6M213 35l3-11M218 41l2 2M202 46l16-5M201 46l-2-6M216 20l0 4M221 20l-1 16M-2 283l5-16M3 267l-8-1M314 10l8-9M322 1l1-6M85 305l-12-1M85 305l-2-9M154 322l-4-7M187 324l5-4M176 315l-1-4M191 316l1 4M175 311l6-5M149 311l1 4M149 311l13 1M162 312l4 9M162 312l6-2M166 321l4 5M72 326l9-6M65 302l0 0M65 302l7 2M72 304l11 13M81 320l2-3M85 305l5 3M73 304l-1 0M108 250l-2-1M117 237l-8 4M106 249l3-8M108 258l-10 4M96 258l0 3M96 258l8-8M104 250l2-1M113 265l-4 6M98 262l11 9M105 279l9 7M105 279l2-5M114 286l4-11M118 275l-9-4M107 274l2-3M161 101l-7 5M171 115l-3 1M168 116l-14-10M151 94l-6 10M154 106l-9-2M135 99l6 7M135 99l-1-3M143 86l9 3M141 106l4-2M131 82l-9-2M130 92l-5 1M116 90l-2-8M122 80l-8 2M137 65l-3 15M137 65l-14 6M122 80l1-9M-15 316l14-10M-15 305l14-1M-1 306l0-2M0 302l-1 2M41 274l-16 5M41 274l-22-13M25 279l-10-8M19 261l-5 7M47 273l2-2M47 273l-4 2M49 271l-3-9M43 275l-2-1M19 258l0 3M19 258l5-6M16 295l11-11M27 284l-2-5M3 267l11 1M93 326l10-11M81 320l12 6M187 65l4 5M187 65l-20 3M191 70l-4 5M187 75l-7 2M180 77l-13-8M167 69l0-1M184 33l-1 17M184 33l7 19M183 50l5 3M196 52l-5 0M197 69l-6 1M187 65l-2-4M185 61l3-8M192 33l-4-2M197 18l-9 13M129 52l-3-9M129 52l11 7M149 38l-7 21M146 36l-16-2M126 43l4-9M140 59l2 0M137 65l3-6M111 63l18-11M314 157l-4-7M289 158l-1-2M289 156l-1 0M187 75l10 24M180 77l-5 17M187 108l3 0M190 108l7-9M201 70l-3 28M197 99l1-1M210 76l3 15M210 76l-3-6M213 91l-2 1M211 92l-7 5M206 69l1 1M263 98l-9 14M272 112l-1-8M272 112l-8 3M264 115l-10-3M286 316l9-4M287 295l-3 9M287 295l11 10M287 291l2-1M287 291l0 4M303 291l-4 13M303 291l-1-2M289 290l13-1M299 304l-1 1M302 249l0-9M302 249l-10 13M302 240l-9 1M285 257l8-16M285 257l2 6M292 262l-5 1M323 267l-5 16M326 282l-8 1M319 297l0 4M319 297l7-15M336 295l-16 7M320 302l-1-1M319 297l-2-14M317 283l1 0M287 291l-7-1M280 290l-12 2M268 292l0 0M268 292l0 5M284 304l-15-4M269 300l-1-3M315 238l2 1M315 238l8-10M302 249l12 7M314 256l3-4M306 235l-5-15M302 219l-1 1M331 253l-14-1M132 194l-5-3M132 194l4-10M127 191l8-8M123 191l4 0M123 191l10 15M133 206l1 0M134 206l-2-12M207 300l-19-6M207 300l-1 7M206 307l-11-2M195 305l-9-10M186 295l2-1M210 292l-3 8M210 292l-15-8M195 284l-7 10M191 316l4-11M181 306l3-11M192 320l12 2M206 307l3 4M204 322l5-11M179 211l1 14M179 211l-4-10M167 213l6-13M173 200l2 1M181 227l-1-2M181 227l8-14M189 213l-2-5M182 233l-23-6M182 233l-1-6M160 215l-1 12M160 215l7-2M167 196l-13 5M167 196l6 4M160 215l-9-10M154 201l-3 4M147 309l0 0M147 309l16-17M147 309l-4-17M163 292l-2-2M161 290l-12-4M143 292l6-6M149 311l-2-2M168 310l0-17M124 251l7-4M131 247l7 3M138 250l2 6M129 264l4 3M140 256l-7 11M118 275l3 0M109 271l0 0M133 268l0-1M196 210l-7 3M196 210l6 4M185 237l16-10M201 227l1-13M210 199l0 0M210 199l-18 0M196 210l-4-11M211 202l-1-3M168 293l6-3M174 290l1 0M167 196l0-6M167 190l13-2M175 201l5-2M180 188l0 11M187 208l1-9M180 199l8 0M192 199l-2-1M190 198l-2 1M125 164l1-2M125 164l9 8M126 162l12 0M137 171l1-9M308 51l-10 3M308 51l5 4M314 60l-1-5M314 60l-15 0M299 60l-3-4M298 54l-2 2M296 56l0 0M305 44l3 7M300 45l-2 9M321 44l-8 11M317 66l4 0M300 68l1 1M300 68l-1-8M317 66l-4 4M301 69l12 1M300 68l-8 1M285 59l7 10M285 59l11-3M288 39l8 17M278 46l5 13M285 59l-2 0M245 75l-12-2M251 57l-20 2M231 59l2 14M208 64l15-8M207 70l13-1M220 69l3-13M210 76l17 0M220 69l7 7M225 87l19-2M233 73l-5 3M225 87l-2 3M223 90l-10 1M232 37l16 12M232 37l-9 8M248 49l-22 4M223 45l1 4M224 49l1 4M225 53l1 0M250 49l-2 0M238 20l-6 17M220 43l3 2M231 59l-5-6M211 53l13-4M223 56l2-3M272 69l10-9M282 60l6 18M279 78l8 1M287 79l1-1M270 69l2 0M275 89l4-11M283 59l-1 1M289 78l-1 0M109 125l3 1M112 126l0 1M116 135l-20 5M97 129l-1 11M123 191l-8-4M132 180l3 3M132 180l-17 3M115 183l0 4M125 164l-12 3M120 143l9 6M115 146l-6 15M126 162l3-13M109 161l4 6M321 136l1-4M272 112l6 1M278 93l8 3M310 150l1-1M311 149l4-9M329 124l-9-14M324 102l-4 8M104 250l-9-12M109 241l-13-6M96 235l-1 3M95 238l0 0M96 258l-3-13M93 245l2-6M95 239l0-1M114 302l-3-6M114 302l-5 8M111 296l-10-10M96 307l9 4M96 307l-4-19M101 286l-7 1M109 310l-4 1M94 287l-2 1M114 287l0-1M114 287l-3 9M90 308l6-1M103 315l2-4M93 276l14-2M93 276l1 11M126 282l6 7M126 282l-4-3M122 279l0 6M122 285l3 10M125 295l7-6M137 288l-5 1M137 288l0-8M137 280l-11 2M137 280l0-7M121 275l1 4M137 273l-4-5M114 287l8-2M122 299l3-4M122 299l-8 3M122 299l15 9M137 308l9 1M137 288l6 4M118 235l0 0M118 235l7 1M118 235l-3-12M125 236l12-7M115 221l0 2M137 229l2-5M139 221l0 3M96 232l0 3M96 232l1 0M117 237l1-2M97 232l21 3M131 247l-6-11M97 232l18-9M142 243l-5-14M139 210l0 11M155 229l-16-5M93 276l-3-5M96 261l-3 1M93 262l-2 4M3 315l14 1M3 315l-4-9M16 295l9 7M25 302l-8 14M123 124l-11 3M123 124l2 2M125 126l-6 12M115 146l-19-6M96 140l0 0M138 162l4-6M140 147l2 9M104 38l-5 7M104 38l22 5M99 45l-2 12M111 63l-6 1M97 57l8 7M114 82l-7-4M105 64l2 14M322 321l-8 9M323 315l-1 6M175 52l10 9M175 52l-2 0M173 52l-2 10M185 61l-14 1M185 61l0 0M183 50l-8 2M147 61l-5 19M147 61l3 1M158 73l1-2M167 40l0 4M167 40l-10-5M157 35l-8 3M167 44l6 8M167 69l-8 2M158 83l0-10M169 16l8 16M178 13l7 8M177 32l7 0M167 40l10-8M163 16l-7 4M163 16l5 0M168 16l1 0M157 35l-1-15M185 8l-7 5M187 11l-2 10M184 33l0-1M197 18l-10-7M188 31l-2 0M204 2l-12-2M191-4l1 4M2 1l1-6M17-4l2 4M11 8l6-5M19 0l-2 3M14 20l6-6M17 3l3 11M2 1l-8 9M14 20l-1 2M13 22l-17-9M1 66l8-9M1 66l4 4M11 69l8-11M19 58l-10-1M20 69l-9 0M20 69l6-4M24 57l-5 1M258 209l9-1M258 209l-1-2M257 207l18-16M267 208l10-9M277 199l0-7M277 192l-2-1M263 221l4-13M254 226l0 0M254 226l4-17M289 170l-16 18M295 190l-18 2M273 188l2 3M263 164l8-20M263 164l23-7M286 157l-15-13M273 188l-8-5M288 156l-2 1M263 164l0 0M289 156l-1-5M305 305l-1 10M305 305l14-1M319 306l-14 10M319 306l0-2M305 316l-1-1M295 312l9 3M299 304l6 1M303 291l16 10M320 302l-1 2M323 315l-4-9M308 330l-3-14M314 282l1-16M314 282l-10 2M304 284l0-1M304 283l1-16M305 267l9-2M314 265l1 1M323 267l-8-1M302 289l2-5M287 270l17 13M292 262l13 5M287 263l-2 3M287 270l-2-4M285 266l0 0M314 256l0 9M301 220l-7-1M277 199l1 3M294 219l-16-17M280 241l-13-6M261 251l-2-8M259 243l2-8M261 235l6 0M285 257l-5-8M293 241l-10-3M283 238l-3 3M285 266l-22-3M260 258l3 5M260 258l1-7M254 226l7 9M246 246l13-3M238 223l0 1M278 280l-5 2M278 280l5-11M273 282l2-8M283 269l-8 5M280 290l-2-10M268 292l-1-5M267 287l6-5M285 266l-2 3M267 287l-4-8M263 279l-3-3M286 316l0 1M269 300l-2 13M267 313l19 4M286 317l0 6M268 297l-12 8M268 328l-4-13M264 315l1-1M139 185l-1 13M138 198l10-11M147 185l1 2M134 172l-2 8M136 184l3 1M137 171l11-1M149 183l-1-13M149 183l-2 2M134 206l2 1M136 207l2-9M136 207l3 3M154 201l-6-14M149 183l17-1M154 235l-8 7M146 242l14 10M162 252l-2 0M155 229l-1 6M142 243l4-1M140 256l11 2M151 258l9-6M170 264l5-11M170 264l2 10M172 274l7 4M175 253l5-3M180 250l7 22M187 272l-8 6M168 279l6 11M168 279l4-5M175 290l4-12M195 284l1-6M196 278l-9-6M185 244l28 17M185 244l-2 3M183 247l24 24M213 261l-3 9M210 270l-3 1M185 237l0 5M185 242l0 2M162 252l13 1M180 250l3-3M196 278l11-7M154 271l-6 4M159 273l1 3M149 286l11-8M149 286l-1-11M160 276l0 2M137 273l11 2M151 258l3 13M170 264l-11 9M168 279l-8-3M161 290l-1-12M149 286l0 0M211 204l5 6M208 228l8-18M211 202l27 4M238 206l-2 16M236 222l-2 1M216 210l18 13M256 277l-14-7M256 277l4-1M260 258l-12 2M242 270l3-8M248 260l-3 2M246 246l-3 4M248 260l-5-10M238 224l-1 24M243 250l-6-2M190 183l-2 2M188 185l3 9M191 194l16-12M207 182l0 0M205 172l-17 0M205 172l2 10M188 172l2 11M180 188l1-3M181 185l7 0M190 198l1-4M211 186l-1 13M211 186l-4-4M207 168l-18-12M207 168l1-1M208 167l-10-15M189 156l1-4M188 172l-6-4M181 185l-8-9M166 182l3-5M173 147l1 11M173 147l11-7M184 140l3 1M189 156l-7 9M187 141l3 11M205 172l2-4M182 165l0 3M109-10l9 9M118-1l2 1M137-12l-17 12M145 32l7-14M145 32l-5-12M152 18l-2-1M143 16l0 0M156 20l-4-2M146 36l-1-4M130 34l-1-9M129 25l11-5M163 16l-5-10M158 6l-4-4M154 2l-4 15M150-5l4 7M57 50l8 0M57 50l-4-7M65 50l-1-13M64 37l-5-3M59 34l-6 9M109 125l1-10M112 126l11-11M123 115l-13 0M90 115l0 7M90 122l-15 6M72 106l1-2M72 106l1 21M75 128l-1-1M73 127l1 0M133 206l-20 1M115 187l-5 12M110 199l3 8M115 221l-3-11M112 210l1-3M97 158l-3 7M94 165l6 9M113 167l-1 10M100 174l12 3M115 183l-3-5M112 178l0-1M19 258l-8-5M11 253l-14-1M49 271l4-1M53 270l13-10M46 262l2-6M66 260l1-8M67 252l-8-5M48 256l11-9M3 315l-1 6M2 321l-8 9M309 99l10-1M309 99l-5-9M330 81l-12 5M324 102l-5-4M313 70l-1 10M312 80l0 2M322 132l-13-15M320 110l-11 6M309 117l0-1M315 140l-16-13M309 117l-10 10M291 133l2-5M293 128l6-1M298 90l-6-12M300 90l-1-11M292 78l6 0M298 78l1 1M312 80l-13-1M301 69l-3 9M289 78l3 0M74 275l1-5M74 275l-5 6M62 275l6 6M62 275l11-8M75 270l0-2M73 267l2 0M53 285l-6-12M53 285l3 3M53 270l9 5M66 260l7 7M56 288l4 13M65 302l8-13M73 289l-4-8M93 262l-11-8M82 254l-7 13M91 266l-16 2M78 277l6-1M78 277l4 12M83 288l0 1M83 288l1-12M84 276l0 0M83 289l-1 0M74 275l4 2M75 270l9 6M73 289l9 0M83 296l0-7M92 288l-9 0M90 271l-6 5M67 252l7-3M82 254l-2-2M74 249l6 3M95 238l-10 1M95 239l-11 7M84 246l1-7M93 245l-12 6M81 251l-1 1M29 302l3 3M29 302l7-15M35 307l11-12M35 307l-3-2M46 294l-9-7M37 287l-1 0M17 316l2 4M25 322l7-17M25 322l-6-2M27 284l9 3M58 301l-12-6M41 313l-6-6M27 324l13-9M53 285l-7 9M43 275l-6 12M123 124l2-3M123 115l0 0M123 115l2 1M125 121l0-5M168 116l-6 5M141 106l0 1M162 121l-2 0M96 108l-1-2M72 101l1 3M72 101l5-2M68 98l1-21M68 98l7-15M75 83l-6-6M146 309l-5 6M122 323l-2-3M115 326l3-7M118 319l2 1M141 315l-19 8M138 322l-13 4M137 308l-17 12M109 310l9 9M168 16l2-10M170 6l-4-5M166 1l-4-9M103-5l-10 11M93 6l-12-6M81 0l2-3M25 46l0 8M25 46l4-6M25 54l19 1M29 40l13 3M44 55l0-11M44 44l-2-1M50 64l7-14M50 64l-2 0M48 64l-4-9M53 43l-9 1M-5 38l6 6M13 25l-7 18M1 44l4 0M6 43l-1 1M-5 22l17 3M13 22l1 2M14 24l-1 1M24 57l1-3M9 57l-4-13M25 46l-19-3M-3 66l4 0M1 44l-8 11M280 115l-8 18M266 131l6 2M280 115l7 3M291 133l-18 2M287 118l6 10M272 133l1 2M288 151l-16-11M273 135l-1 5M271 144l0-3M271 141l1-1M228 164l-2 0M228 164l13-5M230 156l11-1M241 155l1 0M241 159l1-4M244 167l-16-3M244 167l2-1M241 159l5 7M283 238l1-4M267 235l7-7M294 219l-6 4M284 234l4-11M199 244l11-1M199 244l16 8M185 242l14 2M213 261l5-6M210 243l13 0M214 229l10 1M223 243l1-13M218 255l5-3M223 252l0-9M210 243l0 0M208 228l6 1M238 279l-14 8M238 279l1-3M239 276l-21 0M224 287l-4 0M220 287l-2-10M218 277l0-1M247 290l9-13M247 290l-8-11M239 279l-1 0M242 270l-2 1M240 271l-1 5M240 271l-9-4M231 267l-13 9M210 292l9-3M210 270l8 7M219 289l1-2M234 250l7 10M234 250l-9 3M241 260l-15-6M237 248l-3 2M223 252l2 1M231 267l-5-13M205 149l-7-12M205 149l13 2M218 151l1-5M201 135l-3 2M201 135l16 9M217 144l2 2M198 152l7-3M187 141l11-4M220 158l-2-7M184 140l-1-4M190 108l6 5M204 124l-8-11M204 124l-3 11M169 177l-9-10M174 158l-10 3M160 167l4-6M160 167l-10 0M142 156l8 9M150 167l0-2M32-15l-7 17M19 0l6 2M125 6l-3-3M125 6l13-4M122 3l19-8M125 7l0-1M120 0l2 3M104 38l0-7M129 25l-1-1M104 31l24-7M125 9l0-2M128 24l0 0M96 22l12-12M96 22l-3-2M93 20l0 0M93 20l12-13M79 34l0-3M86 21l7-1M86 21l-5 6M104 31l-2-3M102 28l-6-6M86 21l-14-15M93 6l0 14M81 0l-9 6M114 15l1-9M114 15l-1 3M113 18l-1 0M112 18l-3-7M115 6l-6 5M118-1l-3 7M125 9l-11 6M128 24l-15-6M102 28l10-10M108 10l1 1M81 27l-17-7M79 31l-17-2M62 29l2-9M79 34l-3 5M76 39l-12-2M59 34l0-2M62 29l-3 3M72 6l-6-1M66 5l-2 11M64 16l0 4M140 108l-1 5M140 108l-16-1M123 115l-1-5M124 107l-2 3M135 99l-11 4M124 107l0-4M125 93l-3 8M116 90l-2 5M114 95l4 6M118 101l4 0M124 103l-2-2M43 138l-6-6M43 138l16-5M37 132l6-12M43 120l11-1M54 119l2 1M56 120l6 5M59 133l3-8M72 106l-16 14M73 127l-11-2M97 129l-7-7M96 140l-3 4M84 142l9 2M68 152l3 0M68 152l-7-5M71 133l-9 10M71 133l3 15M74 148l-3 4M61 147l1-4M74 127l-3 6M84 142l-10 6M50 148l-2 0M50 148l11-1M48 148l-5-10M50 148l9 22M68 152l-5 16M63 168l-4 2M32 133l5-1M32 133l-2 0M30 133l-9-8M43 119l-19-8M43 119l0 1M21 125l3-14M10 81l-5-11M10 81l-12 5M26 65l6 4M48 64l-11 5M37 69l-5 0M43 119l-1-12M42 107l3-3M54 119l4-17M45 104l13-2M68 98l-5-1M58 102l5-5M11 253l-6-12M28 239l-4 13M28 239l-9-6M19 233l-4 1M15 234l-10 7M31 238l18-2M31 238l9 5M40 243l13-1M49 236l4 6M28 239l3-1M48 256l-8-13M58 244l-5-2M12 152l-15 7M16 154l-1 19M303 108l-7 0M296 108l-9-12M287 96l3-3M309 99l-5 5M298 90l-3 2M287 118l9-10M286 96l1 0M287 79l3 14M19 320l-2 3M72 235l2 12M72 235l11 2M74 247l9-9M83 237l0 1M83 225l-11 9M83 225l0 12M72 234l0 1M74 249l0-2M85 239l-2-1M96 232l-3-6M83 225l2-2M93 226l-8-3M139 113l1 7M160 121l-15 6M145 127l-5-7M125 121l8 4M140 120l-7 5M125 126l5 3M133 125l-3 4M147 142l15-14M147 142l11 5M158 147l5-2M163 145l3-9M166 136l-4-8M140 147l5-5M145 142l2 0M150 165l8-18M164 161l-6-14M168 135l-2 1M162 121l0 7M80 82l5-7M80 82l4 11M85 75l10 10M95 85l-7 8M84 93l4 0M68 98l0 0M77 99l7-6M75 83l5-1M92 97l-4-4M97 84l4 10M95 106l-3-9M64 75l3 1M64 75l-7-6M67 76l17-9M73 55l4 0M77 55l9 5M86 60l-2 7M69 77l-2-1M62 95l1 2M62 95l2-20M85 75l-1-8M57 69l-7-5M57 69l0 0M65 50l8 5M76 39l1 16M97 57l-11 3M107 78l-3 2M172 4l4-9M172 4l13 3M176-5l11 9M185 7l2-3M185 8l0-1M192 0l-5 4M216 185l18 9M216 185l12-11M240 185l3 7M243 192l-1 3M242 195l0 0M210 199l24-5M220 158l4 2M226 164l2 10M244 167l-4 18M265 183l-22 9M263 164l-4-2M246 166l13-4M238 206l4-11M257 207l-15-12M204 124l4 1M217 144l-4-16M219 146l8-8M213 128l7-2M227 138l-7-12M230 156l10-13M227 138l5-2M232 136l8 6M240 143l0-1M276 225l2-2M276 225l-8-5M268 220l6-5M288 223l-10 0M263 221l5-1M209 311l8-1M225 323l-8-13M219 289l3 17M256 331l3-14M248 334l2-18M259 317l-9-1M264 315l-5 2M232 293l0 7M232 293l3 0M232 300l16-5M248 293l0 1M239 279l-4 14M247 290l1 3M268 292l-20 2M27 4l2 6M27 4l13-9M40-5l-5 16M29 10l4 2M33 12l2-1M21 13l-1 1M21 13l8-3M41-7l10 9M64 3l-12 0M64 3l1-21M52 3l-1-1M36 11l-1 0M36 11l15-9M66 5l-2-2M47 14l-1 1M46 15l-10-4M45 22l3 3M34 22l-2 1M47 29l2-2M47 29l-20 3M32 23l-5 8M27 31l0 1M46 15l-1 7M21 13l11 10M59 32l-10-5M29 40l-2-8M14 24l13 7M52 16l6 2M52 16l1 5M53 21l5-3M47 14l5 2M64 16l-6 2M48 25l5-4M96 108l5-1M109 113l-8-6M101 94l5 4M104 80l2 18M114 95l-6 3M20 139l-9 3M20 139l2 11M11 142l1 10M16 154l5 0M22 150l-1 4M94 154l-11 4M71 152l2 1M83 158l-10-5M63 168l14 2M73 153l4 17M100 174l-7 3M112 178l-13 4M93 177l6 5M9 124l-7 8M9 124l-9-14M2 132l-13-15M0 110l-11 6M10 123l11 2M10 123l-1 1M1 136l1-4M-1 98l-10 1M4 102l-5-4M4 102l-4 8M45 97l-12-7M43 85l-10 5M43 85l7 0M50 85l1 3M62 95l-11-7M57 69l-7 16M32 90l-4-7M31 92l-17 0M28 83l-12-2M32 69l-4 14M33 90l-1 0M42 107l-11-7M31 100l0-7M31 93l0-1M10 81l3 1M58 244l4-14M72 234l-9-4M62 230l1 0M112 210l-6 3M93 226l8-10M106 213l-5 3M-5 238l8-10M-18 219l21-2M3 217l0 11M15 234l-12-6M15 199l12 5M15 199l-5 16M10 215l2 1M19 233l-4-14M7 215l3 0M7 215l-4 2M15 219l-3-3M-2 182l0-1M-2 182l-5 12M-2 181l-13-1M145 141l0-11M145 141l-15-9M145 130l-15 0M130 132l0-2M145 142l0-1M145 127l0 3M120 141l10-9M241 155l0-10M240 143l1 1M241 145l0-1M242 155l13 3M241 145l14 13M257 159l-2-1M222 306l7 1M235 319l-6-12M232 300l0 4M232 304l-3 3M116 107l0-1M116 107l-3 2M116 106l-7-7M122 110l-6-3M109 113l4-4M108 98l1 1M30 157l0-13M30 157l1 2M37 157l-6 2M37 157l-6-18M31 139l-1 5M21 154l9 3M32 133l-1 6M48 148l-5 8M43 156l-6 1M81 168l-2 3M81 168l13-3M79 171l3 10M94 165l-4 12M90 177l-8 4M83 158l-2 10M77 170l2 1M94 165l0 0M110 199l-9-2M99 182l-6 9M101 197l-8-6M23 109l-9 0M23 109l2-4M25 105l-7-7M14 109l-8-7M13 94l5 4M24 111l-1-2M31 100l-6 5M4 102l2 0M31 238l9-17M49 236l3-10M52 226l-12-5M62 230l-6-4M15 219l24-4M85 223l-7-11M78 212l-8 8M56 226l3-10M70 220l-11-4M9 196l-6 12M3 208l-5-5M-2 182l7 12M7 215l-4-7M5 174l-3 4M2 178l-4 3M211 92l13 18M224 110l1-1M229 97l-4 12M249 136l1-1M250 135l7 1M257 136l2 6M259 142l-3 9M256 151l-4-5M240 142l9-6M266 131l-2 0M264 131l-7 5M257 159l-1-8M250 316l-9-1M250 316l2-13M243 303l5-5M252 303l-4-5M250 316l0 0M235 319l6-4M256 305l-4-2M232 304l11-1M248 295l0 3M59 170l-1 2M43 156l3 9M46 165l12 7M2 178l12 15M9 196l3 0M14 193l-2 3M15 199l0 0M15 199l-3-3M26 176l0 1M26 176l-3 0M26 177l7 12M16 190l6 4M33 189l-11 5M31 159l-5 17M46 165l-9 8M37 173l-11 4M15 173l8 3M14 193l2-3M15 199l7-5M82 181l-1 3M87 209l7-2M84 208l16-10M94 207l6-9M106 213l-12-6M101 216l-14-7M78 212l0-3M78 209l6-1M101 197l-1 1M78 209l-2-3M83 189l-7 17M232 136l3-9M220 126l0-1M220 125l9-1M229 124l6 3M204 97l16 13M196 113l19 0M220 110l-5 3M208 125l7-6M220 125l1-6M221 119l-6 0M215 113l0 6M233 98l4 15M233 98l12-2M246 97l-1-1M246 97l5 16M251 113l-5 5M237 113l8 6M246 118l-1 1M245 119l0 0M229 97l4 1M225 109l12 4M244 85l1 11M259 91l-13 6M254 112l-3 1M264 131l-18-13M250 135l-5-16M58 204l3-2M58 204l-18 3M61 202l-1-19M36 193l20-13M36 193l2 11M60 183l-3-3M38 204l2 3M57 180l-1 0M59 216l-1-12M76 206l-15-4M39 215l1-8M81 184l-21-1M37 173l19 7M33 189l3 4M27 204l11 0M58 172l-1 8M229 124l-3-6M221 119l2-4M226 118l-3-3M224 110l-1 1M231 117l-2 1M231 117l12 3M229 118l10 5M243 120l-4 3M223 111l8 6M245 119l-2 1M235 127l4-4" transform="scale(0.25)" stroke="#8470aa" stroke-width="2.6" fill="none" stroke-linecap="round"/><path d="M45.3 16.8h0.9v0.9h-0.9zM76.2 40.3h0.9v0.9h-0.9zM45.5 58.4h0.9v0.9h-0.9zM17.2 64.4h0.9v0.9h-0.9zM22.0 11.8h0.9v0.9h-0.9zM64.6 24.9h0.9v0.9h-0.9zM3.8 45.5h0.9v0.9h-0.9zM76.7 67.2h0.9v0.9h-0.9zM45.0 22.5h0.9v0.9h-0.9zM46.2 18.4h0.9v0.9h-0.9zM15.7 49.6h0.9v0.9h-0.9zM34.1 13.4h0.9v0.9h-0.9zM1.6 77.0h0.9v0.9h-0.9zM19.8 56.0h0.9v0.9h-0.9zM74.6 63.4h0.9v0.9h-0.9zM77.0 78.8h0.9v0.9h-0.9zM20.8 16.1h0.9v0.9h-0.9zM63.0 50.1h0.9v0.9h-0.9zM50.1 48.5h0.9v0.9h-0.9zM28.1 24.1h0.9v0.9h-0.9zM62.5 52.3h0.9v0.9h-0.9zM14.0 78.0h0.9v0.9h-0.9zM17.9 4.3h0.9v0.9h-0.9zM71.6 74.5h0.9v0.9h-0.9zM12.8 46.2h0.9v0.9h-0.9zM29.4 33.2h0.9v0.9h-0.9zM38.0 73.4h0.9v0.9h-0.9zM72.6 73.0h0.9v0.9h-0.9zM72.0 8.5h0.9v0.9h-0.9zM51.5 76.2h0.9v0.9h-0.9zM49.6 2.7h0.9v0.9h-0.9zM46.8 46.6h0.9v0.9h-0.9zM55.9 76.4h0.9v0.9h-0.9zM75.0 52.7h0.9v0.9h-0.9zM76.6 33.2h0.9v0.9h-0.9zM62.9 27.0h0.9v0.9h-0.9zM70.7 50.9h0.9v0.9h-0.9zM29.7 22.7h0.9v0.9h-0.9zM53.1 41.1h0.9v0.9h-0.9zM33.7 21.3h0.9v0.9h-0.9zM12.3 6.8h0.9v0.9h-0.9zM9.0 36.4h0.9v0.9h-0.9zM9.4 61.7h0.9v0.9h-0.9zM77.0 63.5h0.9v0.9h-0.9zM57.5 74.2h0.9v0.9h-0.9zM5.6 61.2h0.9v0.9h-0.9zM44.9 16.8h0.9v0.9h-0.9zM51.6 25.2h0.9v0.9h-0.9zM67.2 18.6h0.9v0.9h-0.9zM55.3 55.0h0.9v0.9h-0.9zM74.1 17.7h0.9v0.9h-0.9zM21.8 25.3h0.9v0.9h-0.9zM3.3 50.6h0.9v0.9h-0.9zM69.5 63.2h0.9v0.9h-0.9zM56.9 38.2h0.9v0.9h-0.9zM37.1 32.7h0.9v0.9h-0.9zM20.6 58.2h0.9v0.9h-0.9zM21.5 53.6h0.9v0.9h-0.9zM52.8 44.7h0.9v0.9h-0.9zM54.7 77.1h0.9v0.9h-0.9zM65.6 33.2h0.9v0.9h-0.9zM42.9 14.8h0.9v0.9h-0.9zM78.5 4.4h0.9v0.9h-0.9zM59.5 30.3h0.9v0.9h-0.9zM7.8 64.2h0.9v0.9h-0.9zM78.5 69.4h0.9v0.9h-0.9zM69.8 71.1h0.9v0.9h-0.9zM58.1 73.7h0.9v0.9h-0.9zM44.4 27.6h0.9v0.9h-0.9zM56.5 56.3h0.9v0.9h-0.9zM64.3 62.2h0.9v0.9h-0.9zM55.2 40.8h0.9v0.9h-0.9zM75.7 40.1h0.9v0.9h-0.9zM54.3 36.8h0.9v0.9h-0.9zM49.2 70.4h0.9v0.9h-0.9zM30.0 33.0h0.9v0.9h-0.9zM32.6 76.5h0.9v0.9h-0.9zM30.7 54.0h0.9v0.9h-0.9zM57.8 13.8h0.9v0.9h-0.9zM22.2 5.3h0.9v0.9h-0.9z" fill="#4d43a0" opacity="0.8"/><path d="M26.1 24.9h1.0v1.0h-1.0zM53.7 57.9h1.0v1.0h-1.0zM24.7 56.2h1.0v1.0h-1.0zM70.1 20.8h1.0v1.0h-1.0zM11.0 77.8h1.0v1.0h-1.0zM5.9 36.6h1.0v1.0h-1.0zM74.9 52.3h1.0v1.0h-1.0zM66.7 35.7h1.0v1.0h-1.0zM52.1 55.1h1.0v1.0h-1.0zM0.8 63.4h1.0v1.0h-1.0zM13.7 60.1h1.0v1.0h-1.0zM41.5 37.5h1.0v1.0h-1.0zM68.3 42.8h1.0v1.0h-1.0zM52.2 47.2h1.0v1.0h-1.0zM75.4 77.2h1.0v1.0h-1.0zM43.7 74.0h1.0v1.0h-1.0zM16.3 35.7h1.0v1.0h-1.0zM2.5 61.5h1.0v1.0h-1.0zM36.2 4.0h1.0v1.0h-1.0zM51.1 21.1h1.0v1.0h-1.0zM67.2 65.2h1.0v1.0h-1.0zM33.7 6.8h1.0v1.0h-1.0zM41.8 76.7h1.0v1.0h-1.0zM28.0 59.8h1.0v1.0h-1.0zM61.7 19.7h1.0v1.0h-1.0zM56.2 57.6h1.0v1.0h-1.0zM68.8 76.3h1.0v1.0h-1.0zM75.7 46.9h1.0v1.0h-1.0zM78.7 21.9h1.0v1.0h-1.0zM52.5 56.7h1.0v1.0h-1.0zM40.4 14.1h1.0v1.0h-1.0zM24.5 66.5h1.0v1.0h-1.0zM56.0 4.5h1.0v1.0h-1.0zM29.2 67.3h1.0v1.0h-1.0zM38.9 71.9h1.0v1.0h-1.0zM32.1 28.4h1.0v1.0h-1.0zM45.2 26.0h1.0v1.0h-1.0zM46.0 35.1h1.0v1.0h-1.0zM19.2 65.1h1.0v1.0h-1.0zM71.7 38.0h1.0v1.0h-1.0zM30.3 53.6h1.0v1.0h-1.0zM22.4 75.4h1.0v1.0h-1.0zM75.3 26.9h1.0v1.0h-1.0zM31.0 72.4h1.0v1.0h-1.0zM62.7 25.9h1.0v1.0h-1.0zM40.3 38.3h1.0v1.0h-1.0zM58.1 58.4h1.0v1.0h-1.0zM23.1 27.0h1.0v1.0h-1.0zM11.5 68.5h1.0v1.0h-1.0zM0.6 24.0h1.0v1.0h-1.0zM1.3 36.7h1.0v1.0h-1.0zM29.1 13.2h1.0v1.0h-1.0zM16.5 52.2h1.0v1.0h-1.0zM3.6 21.3h1.0v1.0h-1.0zM18.3 2.0h1.0v1.0h-1.0zM37.2 5.7h1.0v1.0h-1.0zM69.2 0.4h1.0v1.0h-1.0zM31.7 4.7h1.0v1.0h-1.0zM26.4 67.6h1.0v1.0h-1.0zM56.9 45.8h1.0v1.0h-1.0zM16.8 71.8h1.0v1.0h-1.0zM76.5 4.8h1.0v1.0h-1.0zM41.4 39.8h1.0v1.0h-1.0zM24.1 1.6h1.0v1.0h-1.0zM44.1 28.1h1.0v1.0h-1.0zM32.8 17.5h1.0v1.0h-1.0zM59.2 76.3h1.0v1.0h-1.0zM52.2 78.8h1.0v1.0h-1.0zM68.5 4.0h1.0v1.0h-1.0zM64.3 24.1h1.0v1.0h-1.0zM66.3 50.9h1.0v1.0h-1.0zM58.8 41.8h1.0v1.0h-1.0zM26.1 50.6h1.0v1.0h-1.0zM28.5 16.8h1.0v1.0h-1.0zM22.2 77.7h1.0v1.0h-1.0zM60.2 49.6h1.0v1.0h-1.0zM56.8 14.2h1.0v1.0h-1.0zM6.3 72.0h1.0v1.0h-1.0zM66.1 2.9h1.0v1.0h-1.0zM53.2 45.4h1.0v1.0h-1.0zM56.5 32.9h1.0v1.0h-1.0zM70.4 4.2h1.0v1.0h-1.0zM69.7 64.6h1.0v1.0h-1.0zM21.8 5.3h1.0v1.0h-1.0zM8.4 78.2h1.0v1.0h-1.0zM50.2 37.7h1.0v1.0h-1.0zM37.1 33.2h1.0v1.0h-1.0zM60.0 24.0h1.0v1.0h-1.0zM49.2 34.8h1.0v1.0h-1.0zM74.0 10.2h1.0v1.0h-1.0zM58.9 43.1h1.0v1.0h-1.0zM35.5 65.3h1.0v1.0h-1.0zM30.8 1.2h1.0v1.0h-1.0zM68.2 40.0h1.0v1.0h-1.0zM23.4 69.7h1.0v1.0h-1.0zM42.2 20.4h1.0v1.0h-1.0zM37.6 49.7h1.0v1.0h-1.0zM13.7 42.8h1.0v1.0h-1.0zM42.7 26.6h1.0v1.0h-1.0zM9.5 66.3h1.0v1.0h-1.0zM51.3 26.0h1.0v1.0h-1.0zM9.7 48.2h1.0v1.0h-1.0zM18.2 74.2h1.0v1.0h-1.0zM66.3 63.4h1.0v1.0h-1.0zM20.5 51.7h1.0v1.0h-1.0zM14.0 65.0h1.0v1.0h-1.0zM1.2 5.4h1.0v1.0h-1.0zM60.6 46.5h1.0v1.0h-1.0zM41.1 20.3h1.0v1.0h-1.0zM27.9 17.8h1.0v1.0h-1.0zM23.2 76.9h1.0v1.0h-1.0zM35.2 62.4h1.0v1.0h-1.0zM67.5 19.7h1.0v1.0h-1.0zM13.3 17.6h1.0v1.0h-1.0zM22.1 27.7h1.0v1.0h-1.0zM6.6 35.0h1.0v1.0h-1.0zM40.4 10.9h1.0v1.0h-1.0zM3.4 14.5h1.0v1.0h-1.0zM47.7 36.7h1.0v1.0h-1.0zM74.1 68.9h1.0v1.0h-1.0zM40.4 19.6h1.0v1.0h-1.0zM30.7 73.9h1.0v1.0h-1.0zM25.3 67.1h1.0v1.0h-1.0zM33.9 37.6h1.0v1.0h-1.0zM40.4 73.0h1.0v1.0h-1.0zM2.6 37.4h1.0v1.0h-1.0zM52.8 68.8h1.0v1.0h-1.0zM37.4 69.6h1.0v1.0h-1.0zM37.3 59.7h1.0v1.0h-1.0zM47.5 45.6h1.0v1.0h-1.0zM20.0 11.9h1.0v1.0h-1.0zM76.4 34.3h1.0v1.0h-1.0zM37.7 71.3h1.0v1.0h-1.0zM71.6 22.2h1.0v1.0h-1.0zM29.1 20.8h1.0v1.0h-1.0zM61.3 7.8h1.0v1.0h-1.0zM41.0 69.9h1.0v1.0h-1.0zM75.7 34.6h1.0v1.0h-1.0zM61.6 26.5h1.0v1.0h-1.0zM1.4 24.5h1.0v1.0h-1.0zM5.8 61.7h1.0v1.0h-1.0zM62.7 1.1h1.0v1.0h-1.0zM45.9 4.0h1.0v1.0h-1.0zM32.0 60.1h1.0v1.0h-1.0zM41.3 62.0h1.0v1.0h-1.0zM41.1 2.6h1.0v1.0h-1.0zM69.8 20.6h1.0v1.0h-1.0zM77.1 29.7h1.0v1.0h-1.0zM40.8 77.9h1.0v1.0h-1.0zM3.3 18.8h1.0v1.0h-1.0zM45.8 22.1h1.0v1.0h-1.0zM40.2 37.1h1.0v1.0h-1.0zM56.3 63.2h1.0v1.0h-1.0zM45.8 74.8h1.0v1.0h-1.0zM28.5 63.3h1.0v1.0h-1.0zM40.9 14.0h1.0v1.0h-1.0zM75.2 29.7h1.0v1.0h-1.0zM61.9 26.3h1.0v1.0h-1.0zM32.6 53.6h1.0v1.0h-1.0zM54.4 49.1h1.0v1.0h-1.0zM28.7 27.2h1.0v1.0h-1.0zM1.3 20.7h1.0v1.0h-1.0zM13.0 78.4h1.0v1.0h-1.0zM39.6 72.3h1.0v1.0h-1.0zM49.2 78.4h1.0v1.0h-1.0zM14.4 21.5h1.0v1.0h-1.0zM27.9 62.3h1.0v1.0h-1.0zM12.9 38.6h1.0v1.0h-1.0zM56.6 32.5h1.0v1.0h-1.0zM28.0 75.6h1.0v1.0h-1.0zM18.5 10.7h1.0v1.0h-1.0zM76.1 53.3h1.0v1.0h-1.0zM67.4 22.6h1.0v1.0h-1.0zM71.8 35.7h1.0v1.0h-1.0zM60.7 20.3h1.0v1.0h-1.0zM32.5 30.7h1.0v1.0h-1.0zM14.5 49.3h1.0v1.0h-1.0zM33.1 22.7h1.0v1.0h-1.0zM6.1 56.4h1.0v1.0h-1.0zM58.3 21.8h1.0v1.0h-1.0zM30.2 58.5h1.0v1.0h-1.0zM10.7 78.6h1.0v1.0h-1.0zM7.7 18.9h1.0v1.0h-1.0zM23.3 52.8h1.0v1.0h-1.0zM15.9 3.8h1.0v1.0h-1.0zM7.8 48.9h1.0v1.0h-1.0zM4.8 56.9h1.0v1.0h-1.0zM26.3 28.2h1.0v1.0h-1.0zM55.9 6.7h1.0v1.0h-1.0zM48.5 66.9h1.0v1.0h-1.0zM58.2 38.6h1.0v1.0h-1.0zM59.3 45.0h1.0v1.0h-1.0zM75.0 59.4h1.0v1.0h-1.0zM73.1 57.6h1.0v1.0h-1.0zM31.8 15.3h1.0v1.0h-1.0zM52.5 75.8h1.0v1.0h-1.0zM46.4 47.5h1.0v1.0h-1.0zM2.6 31.3h1.0v1.0h-1.0zM47.0 26.4h1.0v1.0h-1.0zM73.2 6.6h1.0v1.0h-1.0zM51.8 4.0h1.0v1.0h-1.0zM42.6 8.3h1.0v1.0h-1.0zM64.9 65.8h1.0v1.0h-1.0zM78.5 17.8h1.0v1.0h-1.0zM23.5 41.4h1.0v1.0h-1.0zM8.1 10.2h1.0v1.0h-1.0zM1.6 49.5h1.0v1.0h-1.0zM72.1 77.5h1.0v1.0h-1.0zM54.4 2.4h1.0v1.0h-1.0zM48.7 67.8h1.0v1.0h-1.0zM62.3 64.7h1.0v1.0h-1.0zM52.1 70.7h1.0v1.0h-1.0zM28.5 34.5h1.0v1.0h-1.0zM71.8 32.6h1.0v1.0h-1.0zM23.6 73.8h1.0v1.0h-1.0zM62.3 7.1h1.0v1.0h-1.0zM65.6 24.9h1.0v1.0h-1.0zM14.7 44.9h1.0v1.0h-1.0zM13.4 3.3h1.0v1.0h-1.0zM69.3 69.5h1.0v1.0h-1.0zM76.4 40.9h1.0v1.0h-1.0zM51.8 44.6h1.0v1.0h-1.0zM7.0 12.9h1.0v1.0h-1.0zM52.7 40.5h1.0v1.0h-1.0zM30.7 40.1h1.0v1.0h-1.0zM23.8 17.2h1.0v1.0h-1.0zM42.5 33.7h1.0v1.0h-1.0zM67.0 61.1h1.0v1.0h-1.0zM58.1 36.3h1.0v1.0h-1.0zM33.4 64.5h1.0v1.0h-1.0zM25.9 41.6h1.0v1.0h-1.0zM61.7 46.4h1.0v1.0h-1.0zM67.4 66.4h1.0v1.0h-1.0zM60.2 7.1h1.0v1.0h-1.0zM34.9 21.8h1.0v1.0h-1.0zM19.1 8.3h1.0v1.0h-1.0zM5.9 51.4h1.0v1.0h-1.0zM11.7 75.1h1.0v1.0h-1.0zM75.2 61.4h1.0v1.0h-1.0zM58.9 32.4h1.0v1.0h-1.0z" fill="#a8705e" opacity="0.6"/><path d="M75.5 59.5h1.2v1.2h-1.2zM46.0 31.3h1.2v1.2h-1.2zM6.0 54.8h1.2v1.2h-1.2zM32.6 7.0h1.2v1.2h-1.2zM60.5 5.2h1.2v1.2h-1.2zM27.9 56.4h1.2v1.2h-1.2zM34.9 75.9h1.2v1.2h-1.2zM49.1 6.1h1.2v1.2h-1.2zM15.5 7.9h1.2v1.2h-1.2zM54.1 50.3h1.2v1.2h-1.2zM39.3 47.2h1.2v1.2h-1.2zM47.6 58.1h1.2v1.2h-1.2zM48.1 58.9h1.2v1.2h-1.2zM70.1 63.7h1.2v1.2h-1.2zM14.7 50.8h1.2v1.2h-1.2zM14.6 51.9h1.2v1.2h-1.2z" fill="#1d4d58" opacity="0.8"/></pattern><pattern id="lc" patternUnits="userSpaceOnUse" width="24" height="24"><rect width="24" height="24" fill="#e6e4f0"/><path d="M1.1 6.8h0.6v0.6h-0.6zM16.9 0.5h0.6v0.6h-0.6zM4.8 1.2h0.6v0.6h-0.6zM7.1 15.5h0.6v0.6h-0.6zM7.2 13.7h0.6v0.6h-0.6zM1.6 20.3h0.6v0.6h-0.6zM3.1 4.2h0.6v0.6h-0.6zM11.6 20.2h0.6v0.6h-0.6zM17.8 22.7h0.6v0.6h-0.6zM17.8 9.0h0.6v0.6h-0.6zM9.6 16.7h0.6v0.6h-0.6zM6.3 20.0h0.6v0.6h-0.6zM21.4 17.8h0.6v0.6h-0.6zM12.1 3.9h0.6v0.6h-0.6zM7.0 6.6h0.6v0.6h-0.6zM7.7 10.8h0.6v0.6h-0.6zM12.7 5.1h0.6v0.6h-0.6zM18.7 17.0h0.6v0.6h-0.6zM19.9 6.3h0.6v0.6h-0.6zM14.4 15.3h0.6v0.6h-0.6zM9.1 9.6h0.6v0.6h-0.6zM19.0 14.0h0.6v0.6h-0.6zM21.0 11.5h0.6v0.6h-0.6zM19.4 20.1h0.6v0.6h-0.6zM18.4 20.8h0.6v0.6h-0.6zM16.4 10.6h0.6v0.6h-0.6zM7.2 19.2h0.6v0.6h-0.6zM3.3 9.4h0.6v0.6h-0.6zM5.4 13.8h0.6v0.6h-0.6zM20.7 7.7h0.6v0.6h-0.6zM18.8 18.7h0.6v0.6h-0.6zM15.6 5.7h0.6v0.6h-0.6zM19.2 10.9h0.6v0.6h-0.6zM17.3 10.8h0.6v0.6h-0.6zM20.2 16.4h0.6v0.6h-0.6zM3.9 4.2h0.6v0.6h-0.6zM19.9 8.5h0.6v0.6h-0.6zM8.9 1.0h0.6v0.6h-0.6zM14.8 18.8h0.6v0.6h-0.6zM21.0 4.6h0.6v0.6h-0.6zM20.1 4.1h0.6v0.6h-0.6zM8.7 8.9h0.6v0.6h-0.6zM13.4 12.0h0.6v0.6h-0.6zM12.4 12.2h0.6v0.6h-0.6zM21.8 5.8h0.6v0.6h-0.6zM4.9 19.1h0.6v0.6h-0.6zM7.1 15.8h0.6v0.6h-0.6zM21.6 1.6h0.6v0.6h-0.6zM18.3 0.8h0.6v0.6h-0.6zM11.9 10.3h0.6v0.6h-0.6zM16.2 18.2h0.6v0.6h-0.6zM1.1 1.7h0.6v0.6h-0.6zM14.2 16.7h0.6v0.6h-0.6zM3.5 14.4h0.6v0.6h-0.6zM3.5 10.8h0.6v0.6h-0.6zM22.9 19.7h0.6v0.6h-0.6zM16.2 10.8h0.6v0.6h-0.6zM21.5 17.1h0.6v0.6h-0.6zM0.0 15.7h0.6v0.6h-0.6zM13.5 11.2h0.6v0.6h-0.6zM10.2 8.5h0.6v0.6h-0.6zM6.6 18.1h0.6v0.6h-0.6zM16.8 3.8h0.6v0.6h-0.6zM17.8 18.4h0.6v0.6h-0.6zM17.3 5.4h0.6v0.6h-0.6zM7.7 6.5h0.6v0.6h-0.6zM21.0 21.6h0.6v0.6h-0.6zM14.5 3.3h0.6v0.6h-0.6zM3.2 8.6h0.6v0.6h-0.6zM2.7 12.0h0.6v0.6h-0.6zM6.1 2.6h0.6v0.6h-0.6zM4.4 7.6h0.6v0.6h-0.6zM15.6 7.3h0.6v0.6h-0.6zM12.3 7.8h0.6v0.6h-0.6zM2.1 2.1h0.6v0.6h-0.6zM5.9 5.1h0.6v0.6h-0.6zM1.5 18.2h0.6v0.6h-0.6zM11.6 6.4h0.6v0.6h-0.6zM19.0 7.9h0.6v0.6h-0.6zM4.6 8.0h0.6v0.6h-0.6zM15.7 6.6h0.6v0.6h-0.6zM6.2 20.6h0.6v0.6h-0.6zM12.6 17.4h0.6v0.6h-0.6zM21.0 6.4h0.6v0.6h-0.6zM12.5 3.1h0.6v0.6h-0.6zM22.5 19.0h0.6v0.6h-0.6zM15.2 4.7h0.6v0.6h-0.6zM22.7 0.8h0.6v0.6h-0.6zM9.9 22.1h0.6v0.6h-0.6zM7.5 18.2h0.6v0.6h-0.6z" fill="#9890cc" opacity="0.35"/></pattern><pattern id="lb" patternUnits="userSpaceOnUse" width="24" height="24"><rect width="24" height="24" fill="#dddaeb"/><path d="M4.9 11.3h0.6v0.6h-0.6zM9.8 20.1h0.6v0.6h-0.6zM4.0 7.9h0.6v0.6h-0.6zM6.3 16.2h0.6v0.6h-0.6zM5.2 19.0h0.6v0.6h-0.6zM0.2 13.1h0.6v0.6h-0.6zM19.0 17.4h0.6v0.6h-0.6zM4.4 0.1h0.6v0.6h-0.6zM18.1 22.4h0.6v0.6h-0.6zM16.4 7.0h0.6v0.6h-0.6zM18.0 16.1h0.6v0.6h-0.6zM9.1 14.4h0.6v0.6h-0.6zM10.0 13.7h0.6v0.6h-0.6zM16.4 2.6h0.6v0.6h-0.6zM21.6 23.1h0.6v0.6h-0.6zM15.9 18.6h0.6v0.6h-0.6zM0.7 4.2h0.6v0.6h-0.6zM20.5 17.4h0.6v0.6h-0.6zM11.9 3.0h0.6v0.6h-0.6zM11.3 12.1h0.6v0.6h-0.6zM7.3 1.1h0.6v0.6h-0.6zM10.2 2.2h0.6v0.6h-0.6zM1.1 16.0h0.6v0.6h-0.6zM19.9 2.9h0.6v0.6h-0.6zM3.0 11.1h0.6v0.6h-0.6zM4.6 18.3h0.6v0.6h-0.6zM14.2 10.4h0.6v0.6h-0.6zM23.0 16.6h0.6v0.6h-0.6zM5.1 3.9h0.6v0.6h-0.6zM12.6 7.3h0.6v0.6h-0.6zM21.3 2.0h0.6v0.6h-0.6zM7.3 5.1h0.6v0.6h-0.6zM17.2 19.4h0.6v0.6h-0.6zM17.4 4.2h0.6v0.6h-0.6zM20.1 0.1h0.6v0.6h-0.6zM8.4 22.3h0.6v0.6h-0.6zM22.0 0.5h0.6v0.6h-0.6zM15.7 3.8h0.6v0.6h-0.6zM13.3 5.7h0.6v0.6h-0.6zM3.7 11.8h0.6v0.6h-0.6zM13.4 11.0h0.6v0.6h-0.6zM11.9 7.6h0.6v0.6h-0.6zM20.7 5.9h0.6v0.6h-0.6zM20.2 14.9h0.6v0.6h-0.6zM16.3 0.7h0.6v0.6h-0.6zM15.4 23.4h0.6v0.6h-0.6zM11.9 21.8h0.6v0.6h-0.6zM10.3 4.7h0.6v0.6h-0.6zM18.8 18.9h0.6v0.6h-0.6zM1.4 18.5h0.6v0.6h-0.6zM10.5 19.9h0.6v0.6h-0.6zM8.5 4.7h0.6v0.6h-0.6zM20.4 14.1h0.6v0.6h-0.6zM19.5 0.7h0.6v0.6h-0.6zM16.5 17.9h0.6v0.6h-0.6zM9.3 4.5h0.6v0.6h-0.6zM4.0 20.8h0.6v0.6h-0.6zM17.1 20.8h0.6v0.6h-0.6zM6.2 15.5h0.6v0.6h-0.6zM10.2 12.0h0.6v0.6h-0.6zM13.2 0.8h0.6v0.6h-0.6zM20.4 8.2h0.6v0.6h-0.6zM12.6 0.2h0.6v0.6h-0.6zM1.1 21.8h0.6v0.6h-0.6zM5.0 17.0h0.6v0.6h-0.6zM9.3 17.2h0.6v0.6h-0.6zM15.2 21.6h0.6v0.6h-0.6zM14.4 0.9h0.6v0.6h-0.6zM2.7 17.7h0.6v0.6h-0.6zM10.6 14.1h0.6v0.6h-0.6zM20.2 11.7h0.6v0.6h-0.6zM19.1 15.2h0.6v0.6h-0.6zM10.7 5.4h0.6v0.6h-0.6zM19.6 11.9h0.6v0.6h-0.6zM0.6 3.6h0.6v0.6h-0.6zM21.3 0.8h0.6v0.6h-0.6zM11.0 1.8h0.6v0.6h-0.6zM12.6 16.3h0.6v0.6h-0.6zM1.2 22.0h0.6v0.6h-0.6zM10.1 22.7h0.6v0.6h-0.6zM8.8 13.5h0.6v0.6h-0.6zM6.5 4.2h0.6v0.6h-0.6zM12.0 23.3h0.6v0.6h-0.6zM11.9 8.0h0.6v0.6h-0.6zM4.4 1.0h0.6v0.6h-0.6zM13.0 11.3h0.6v0.6h-0.6zM20.1 9.5h0.6v0.6h-0.6zM6.1 23.4h0.6v0.6h-0.6zM18.7 1.5h0.6v0.6h-0.6zM7.4 1.9h0.6v0.6h-0.6zM17.4 5.9h0.6v0.6h-0.6zM8.2 15.4h0.6v0.6h-0.6zM19.5 16.9h0.6v0.6h-0.6zM9.5 18.2h0.6v0.6h-0.6zM9.1 15.5h0.6v0.6h-0.6zM4.3 19.8h0.6v0.6h-0.6zM19.5 10.9h0.6v0.6h-0.6zM5.3 0.1h0.6v0.6h-0.6zM12.6 11.9h0.6v0.6h-0.6zM1.1 13.3h0.6v0.6h-0.6zM23.0 18.9h0.6v0.6h-0.6zM13.8 18.5h0.6v0.6h-0.6zM18.2 10.5h0.6v0.6h-0.6zM9.3 14.7h0.6v0.6h-0.6zM2.3 4.5h0.6v0.6h-0.6zM2.0 23.3h0.6v0.6h-0.6zM18.9 10.6h0.6v0.6h-0.6zM4.2 0.1h0.6v0.6h-0.6zM15.9 10.4h0.6v0.6h-0.6zM22.4 12.5h0.6v0.6h-0.6zM3.1 14.9h0.6v0.6h-0.6zM0.8 11.9h0.6v0.6h-0.6zM19.3 10.2h0.6v0.6h-0.6zM11.0 21.5h0.6v0.6h-0.6zM16.9 13.1h0.6v0.6h-0.6zM1.7 17.4h0.6v0.6h-0.6zM8.0 20.1h0.6v0.6h-0.6zM14.4 10.3h0.6v0.6h-0.6zM14.6 3.1h0.6v0.6h-0.6zM9.0 22.0h0.6v0.6h-0.6zM12.6 12.6h0.6v0.6h-0.6zM5.6 14.3h0.6v0.6h-0.6zM4.5 22.4h0.6v0.6h-0.6zM6.3 13.6h0.6v0.6h-0.6zM18.1 16.3h0.6v0.6h-0.6zM17.9 13.8h0.6v0.6h-0.6zM2.8 15.7h0.6v0.6h-0.6zM22.3 3.9h0.6v0.6h-0.6zM19.2 9.8h0.6v0.6h-0.6zM12.3 8.0h0.6v0.6h-0.6zM13.4 10.8h0.6v0.6h-0.6zM10.3 10.8h0.6v0.6h-0.6zM17.0 17.5h0.6v0.6h-0.6zM8.6 2.5h0.6v0.6h-0.6zM10.3 5.5h0.6v0.6h-0.6zM13.9 21.7h0.6v0.6h-0.6zM2.3 1.8h0.6v0.6h-0.6zM2.0 9.1h0.6v0.6h-0.6zM1.7 2.0h0.6v0.6h-0.6zM15.2 13.7h0.6v0.6h-0.6zM8.7 14.9h0.6v0.6h-0.6zM2.2 14.0h0.6v0.6h-0.6zM22.9 20.2h0.6v0.6h-0.6zM20.7 5.8h0.6v0.6h-0.6zM23.4 9.6h0.6v0.6h-0.6zM3.3 2.0h0.6v0.6h-0.6zM11.9 13.2h0.6v0.6h-0.6zM0.8 14.0h0.6v0.6h-0.6zM2.0 4.2h0.6v0.6h-0.6zM6.7 13.9h0.6v0.6h-0.6zM17.6 16.5h0.6v0.6h-0.6zM15.7 9.7h0.6v0.6h-0.6zM11.1 13.9h0.6v0.6h-0.6zM8.2 20.1h0.6v0.6h-0.6zM18.8 7.2h0.6v0.6h-0.6zM4.6 14.4h0.6v0.6h-0.6zM3.9 22.5h0.6v0.6h-0.6zM23.2 0.8h0.6v0.6h-0.6zM2.0 19.8h0.6v0.6h-0.6zM1.1 2.1h0.6v0.6h-0.6zM13.1 5.2h0.6v0.6h-0.6zM8.4 8.0h0.6v0.6h-0.6zM1.5 7.3h0.6v0.6h-0.6zM15.0 12.5h0.6v0.6h-0.6zM15.0 9.3h0.6v0.6h-0.6zM12.6 4.3h0.6v0.6h-0.6zM13.1 12.3h0.6v0.6h-0.6zM13.6 10.1h0.6v0.6h-0.6zM22.8 0.3h0.6v0.6h-0.6zM23.2 12.2h0.6v0.6h-0.6z" fill="#8f84c2" opacity="0.4"/></pattern><pattern id="lm" patternUnits="userSpaceOnUse" width="24" height="24"><rect width="24" height="24" fill="#ddd7e9"/><path d="M20.4 13.6h0.6v0.6h-0.6zM6.5 4.4h0.6v0.6h-0.6zM9.6 2.7h0.6v0.6h-0.6zM16.0 10.2h0.6v0.6h-0.6zM13.0 8.6h0.6v0.6h-0.6zM9.4 2.6h0.6v0.6h-0.6zM10.5 13.7h0.6v0.6h-0.6zM3.8 12.2h0.6v0.6h-0.6zM7.6 16.4h0.6v0.6h-0.6zM8.6 19.6h0.6v0.6h-0.6zM11.3 12.1h0.6v0.6h-0.6zM9.0 23.3h0.6v0.6h-0.6zM12.0 13.1h0.6v0.6h-0.6zM0.8 16.8h0.6v0.6h-0.6zM9.9 10.2h0.6v0.6h-0.6zM6.6 21.1h0.6v0.6h-0.6zM15.7 10.7h0.6v0.6h-0.6zM6.8 12.3h0.6v0.6h-0.6zM13.1 17.4h0.6v0.6h-0.6zM19.4 19.3h0.6v0.6h-0.6zM1.8 15.1h0.6v0.6h-0.6zM7.2 12.3h0.6v0.6h-0.6zM22.4 20.7h0.6v0.6h-0.6zM6.9 12.0h0.6v0.6h-0.6zM2.1 15.0h0.6v0.6h-0.6zM3.1 17.9h0.6v0.6h-0.6zM1.8 7.7h0.6v0.6h-0.6zM15.9 11.9h0.6v0.6h-0.6zM15.3 14.1h0.6v0.6h-0.6zM16.8 9.7h0.6v0.6h-0.6zM9.3 19.3h0.6v0.6h-0.6zM16.7 2.3h0.6v0.6h-0.6zM19.7 10.3h0.6v0.6h-0.6zM8.8 21.4h0.6v0.6h-0.6zM12.8 5.9h0.6v0.6h-0.6zM0.6 4.8h0.6v0.6h-0.6zM13.8 3.8h0.6v0.6h-0.6zM19.6 18.1h0.6v0.6h-0.6zM4.0 17.9h0.6v0.6h-0.6zM7.8 11.1h0.6v0.6h-0.6zM5.0 21.3h0.6v0.6h-0.6zM17.8 15.8h0.6v0.6h-0.6zM0.5 15.5h0.6v0.6h-0.6zM2.2 19.4h0.6v0.6h-0.6zM2.6 13.3h0.6v0.6h-0.6zM4.1 18.5h0.6v0.6h-0.6zM0.8 18.6h0.6v0.6h-0.6zM16.1 11.5h0.6v0.6h-0.6zM2.1 21.9h0.6v0.6h-0.6zM2.0 11.0h0.6v0.6h-0.6zM18.9 2.0h0.6v0.6h-0.6zM5.7 20.9h0.6v0.6h-0.6zM11.2 4.5h0.6v0.6h-0.6zM5.9 17.8h0.6v0.6h-0.6zM22.4 17.8h0.6v0.6h-0.6zM7.5 18.5h0.6v0.6h-0.6zM11.5 6.9h0.6v0.6h-0.6zM14.1 5.2h0.6v0.6h-0.6zM9.0 0.2h0.6v0.6h-0.6zM8.4 4.6h0.6v0.6h-0.6zM9.6 2.6h0.6v0.6h-0.6zM2.0 17.5h0.6v0.6h-0.6zM4.3 0.4h0.6v0.6h-0.6zM21.4 21.7h0.6v0.6h-0.6zM13.6 7.3h0.6v0.6h-0.6zM23.4 3.5h0.6v0.6h-0.6zM23.3 2.9h0.6v0.6h-0.6zM8.2 12.4h0.6v0.6h-0.6zM7.6 18.9h0.6v0.6h-0.6zM22.5 12.6h0.6v0.6h-0.6zM11.7 18.7h0.6v0.6h-0.6zM18.7 2.8h0.6v0.6h-0.6zM5.8 14.7h0.6v0.6h-0.6zM8.8 1.5h0.6v0.6h-0.6zM8.7 1.7h0.6v0.6h-0.6zM1.0 6.9h0.6v0.6h-0.6zM17.7 22.3h0.6v0.6h-0.6zM13.8 23.1h0.6v0.6h-0.6zM4.6 1.0h0.6v0.6h-0.6zM9.0 18.3h0.6v0.6h-0.6zM17.9 20.2h0.6v0.6h-0.6zM12.6 12.3h0.6v0.6h-0.6zM19.1 3.0h0.6v0.6h-0.6zM16.9 1.6h0.6v0.6h-0.6zM0.4 12.8h0.6v0.6h-0.6zM2.2 4.0h0.6v0.6h-0.6zM7.8 2.7h0.6v0.6h-0.6zM13.2 9.6h0.6v0.6h-0.6zM6.7 9.3h0.6v0.6h-0.6zM10.0 20.7h0.6v0.6h-0.6zM10.2 14.4h0.6v0.6h-0.6zM1.3 21.7h0.6v0.6h-0.6zM17.7 22.8h0.6v0.6h-0.6zM5.9 22.7h0.6v0.6h-0.6zM3.3 16.7h0.6v0.6h-0.6zM1.6 14.2h0.6v0.6h-0.6zM1.4 8.5h0.6v0.6h-0.6zM6.0 0.6h0.6v0.6h-0.6zM17.1 10.6h0.6v0.6h-0.6zM20.2 12.4h0.6v0.6h-0.6zM19.9 7.5h0.6v0.6h-0.6zM7.5 6.1h0.6v0.6h-0.6zM9.9 20.9h0.6v0.6h-0.6zM11.2 8.2h0.6v0.6h-0.6zM16.0 3.8h0.6v0.6h-0.6zM22.2 11.0h0.6v0.6h-0.6zM19.2 1.7h0.6v0.6h-0.6zM2.5 11.9h0.6v0.6h-0.6zM10.1 9.2h0.6v0.6h-0.6zM10.9 11.4h0.6v0.6h-0.6zM7.4 12.6h0.6v0.6h-0.6zM17.8 20.3h0.6v0.6h-0.6zM18.7 0.7h0.6v0.6h-0.6zM12.3 15.7h0.6v0.6h-0.6zM8.8 1.8h0.6v0.6h-0.6zM15.7 13.8h0.6v0.6h-0.6zM17.2 8.6h0.6v0.6h-0.6zM0.2 6.8h0.6v0.6h-0.6zM9.4 14.7h0.6v0.6h-0.6zM10.5 10.6h0.6v0.6h-0.6zM0.5 22.5h0.6v0.6h-0.6zM16.1 10.8h0.6v0.6h-0.6zM6.0 9.9h0.6v0.6h-0.6zM9.8 12.9h0.6v0.6h-0.6zM15.4 6.5h0.6v0.6h-0.6zM5.8 15.2h0.6v0.6h-0.6zM0.8 20.6h0.6v0.6h-0.6zM9.4 19.2h0.6v0.6h-0.6zM17.3 17.5h0.6v0.6h-0.6zM1.4 22.6h0.6v0.6h-0.6zM15.2 15.9h0.6v0.6h-0.6zM8.3 3.9h0.6v0.6h-0.6zM1.0 12.8h0.6v0.6h-0.6zM23.3 12.0h0.6v0.6h-0.6zM15.1 13.5h0.6v0.6h-0.6zM22.0 13.6h0.6v0.6h-0.6zM11.3 9.5h0.6v0.6h-0.6zM3.2 3.7h0.6v0.6h-0.6zM19.4 4.2h0.6v0.6h-0.6zM5.7 4.8h0.6v0.6h-0.6zM18.7 10.9h0.6v0.6h-0.6zM0.5 6.4h0.6v0.6h-0.6zM3.0 14.0h0.6v0.6h-0.6zM9.8 6.2h0.6v0.6h-0.6zM3.7 9.9h0.6v0.6h-0.6zM20.4 10.5h0.6v0.6h-0.6zM17.9 14.2h0.6v0.6h-0.6zM17.8 10.6h0.6v0.6h-0.6zM16.8 17.7h0.6v0.6h-0.6zM4.2 7.2h0.6v0.6h-0.6z" fill="#9584bc" opacity="0.4"/></pattern><pattern id="lg" patternUnits="userSpaceOnUse" width="24" height="24"><rect width="24" height="24" fill="#e3e1ef"/><path d="M12.1 22.2h0.6v0.6h-0.6zM17.9 6.6h0.6v0.6h-0.6zM5.2 16.1h0.6v0.6h-0.6zM3.9 9.2h0.6v0.6h-0.6zM14.5 9.6h0.6v0.6h-0.6zM0.1 20.7h0.6v0.6h-0.6zM20.7 7.0h0.6v0.6h-0.6zM13.8 22.9h0.6v0.6h-0.6zM19.8 1.5h0.6v0.6h-0.6zM6.9 6.7h0.6v0.6h-0.6zM19.2 14.7h0.6v0.6h-0.6zM2.6 0.0h0.6v0.6h-0.6zM22.0 3.3h0.6v0.6h-0.6zM9.9 8.1h0.6v0.6h-0.6zM20.4 10.0h0.6v0.6h-0.6zM19.4 16.8h0.6v0.6h-0.6zM2.8 14.0h0.6v0.6h-0.6zM3.0 1.8h0.6v0.6h-0.6zM19.5 10.9h0.6v0.6h-0.6zM3.8 12.8h0.6v0.6h-0.6zM13.8 18.1h0.6v0.6h-0.6zM15.3 13.1h0.6v0.6h-0.6zM4.2 5.6h0.6v0.6h-0.6zM11.8 9.3h0.6v0.6h-0.6zM11.3 22.4h0.6v0.6h-0.6zM21.1 11.8h0.6v0.6h-0.6zM19.2 19.4h0.6v0.6h-0.6zM5.4 1.8h0.6v0.6h-0.6zM10.9 20.6h0.6v0.6h-0.6zM3.5 5.4h0.6v0.6h-0.6zM21.5 3.0h0.6v0.6h-0.6zM21.4 5.5h0.6v0.6h-0.6zM14.4 22.3h0.6v0.6h-0.6zM6.0 10.5h0.6v0.6h-0.6zM22.8 5.6h0.6v0.6h-0.6zM4.6 16.1h0.6v0.6h-0.6zM19.8 10.6h0.6v0.6h-0.6zM2.4 14.6h0.6v0.6h-0.6zM2.0 1.2h0.6v0.6h-0.6zM8.1 21.2h0.6v0.6h-0.6zM18.7 9.0h0.6v0.6h-0.6zM2.2 3.0h0.6v0.6h-0.6zM12.5 11.9h0.6v0.6h-0.6zM11.8 3.0h0.6v0.6h-0.6zM18.5 13.9h0.6v0.6h-0.6zM17.7 10.7h0.6v0.6h-0.6zM1.7 14.1h0.6v0.6h-0.6zM10.2 0.2h0.6v0.6h-0.6zM1.1 9.8h0.6v0.6h-0.6zM20.6 10.1h0.6v0.6h-0.6zM15.1 13.3h0.6v0.6h-0.6zM5.6 6.9h0.6v0.6h-0.6zM0.1 3.0h0.6v0.6h-0.6zM12.4 15.2h0.6v0.6h-0.6zM3.4 16.2h0.6v0.6h-0.6zM14.2 22.5h0.6v0.6h-0.6zM19.7 12.1h0.6v0.6h-0.6zM14.1 2.0h0.6v0.6h-0.6zM22.3 20.9h0.6v0.6h-0.6zM13.1 6.6h0.6v0.6h-0.6zM15.0 9.8h0.6v0.6h-0.6zM14.7 9.3h0.6v0.6h-0.6zM7.1 9.3h0.6v0.6h-0.6zM19.9 19.6h0.6v0.6h-0.6zM6.7 7.9h0.6v0.6h-0.6zM11.3 9.0h0.6v0.6h-0.6zM7.7 12.4h0.6v0.6h-0.6zM2.3 0.5h0.6v0.6h-0.6zM4.4 22.5h0.6v0.6h-0.6zM17.8 12.2h0.6v0.6h-0.6zM2.9 23.4h0.6v0.6h-0.6zM20.8 22.5h0.6v0.6h-0.6zM13.2 7.0h0.6v0.6h-0.6zM4.3 18.3h0.6v0.6h-0.6zM3.6 14.1h0.6v0.6h-0.6zM17.3 13.3h0.6v0.6h-0.6zM18.6 21.7h0.6v0.6h-0.6zM1.9 2.7h0.6v0.6h-0.6zM2.7 6.7h0.6v0.6h-0.6zM12.9 10.4h0.6v0.6h-0.6zM10.5 16.1h0.6v0.6h-0.6zM3.5 2.8h0.6v0.6h-0.6zM3.3 19.8h0.6v0.6h-0.6zM8.7 14.3h0.6v0.6h-0.6zM21.3 4.3h0.6v0.6h-0.6zM1.2 6.2h0.6v0.6h-0.6zM8.9 12.5h0.6v0.6h-0.6zM4.8 17.7h0.6v0.6h-0.6zM14.4 18.2h0.6v0.6h-0.6zM4.5 5.8h0.6v0.6h-0.6zM15.0 9.4h0.6v0.6h-0.6zM22.5 17.9h0.6v0.6h-0.6zM4.0 2.8h0.6v0.6h-0.6zM7.7 18.7h0.6v0.6h-0.6zM14.2 5.1h0.6v0.6h-0.6zM0.7 12.0h0.6v0.6h-0.6zM22.0 13.5h0.6v0.6h-0.6zM22.3 11.2h0.6v0.6h-0.6zM23.2 11.5h0.6v0.6h-0.6zM19.4 6.5h0.6v0.6h-0.6zM1.6 16.9h0.6v0.6h-0.6zM2.8 18.9h0.6v0.6h-0.6zM21.9 8.0h0.6v0.6h-0.6zM7.3 14.0h0.6v0.6h-0.6zM16.3 1.1h0.6v0.6h-0.6zM14.7 4.1h0.6v0.6h-0.6zM1.9 7.3h0.6v0.6h-0.6zM9.7 9.2h0.6v0.6h-0.6zM16.9 12.0h0.6v0.6h-0.6zM8.0 11.0h0.6v0.6h-0.6zM12.8 19.5h0.6v0.6h-0.6zM8.1 18.3h0.6v0.6h-0.6zM15.2 20.4h0.6v0.6h-0.6zM9.6 4.3h0.6v0.6h-0.6zM2.2 13.0h0.6v0.6h-0.6zM22.9 6.9h0.6v0.6h-0.6zM9.2 19.2h0.6v0.6h-0.6zM9.2 20.8h0.6v0.6h-0.6zM0.7 21.1h0.6v0.6h-0.6zM6.8 22.9h0.6v0.6h-0.6zM18.1 19.0h0.6v0.6h-0.6zM11.1 7.1h0.6v0.6h-0.6zM7.6 20.7h0.6v0.6h-0.6zM10.1 0.1h0.6v0.6h-0.6zM14.5 14.9h0.6v0.6h-0.6zM14.1 2.0h0.6v0.6h-0.6zM4.4 18.1h0.6v0.6h-0.6zM13.8 16.1h0.6v0.6h-0.6zM1.7 13.1h0.6v0.6h-0.6zM6.1 5.2h0.6v0.6h-0.6z" fill="#948cca" opacity="0.38"/></pattern><filter id="z00" x="0" y="0" width="1" height="1" color-interpolation-filters="sRGB"><feTurbulence type="fractalNoise" baseFrequency="0.3" numOctaves="2" seed="5" result="t"/><feDisplacementMap in="SourceGraphic" in2="t" scale="2.6" xChannelSelector="R" yChannelSelector="G"/><feGaussianBlur stdDeviation="0.35"/></filter><filter id="z01" x="0" y="0" width="1" height="1" color-interpolation-filters="sRGB"><feTurbulence type="fractalNoise" baseFrequency="0.3" numOctaves="2" seed="8" result="t"/><feDisplacementMap in="SourceGraphic" in2="t" scale="2.6" xChannelSelector="R" yChannelSelector="G"/><feGaussianBlur stdDeviation="0.35"/></filter><filter id="z02" x="0" y="0" width="1" height="1" color-interpolation-filters="sRGB"><feTurbulence type="fractalNoise" baseFrequency="0.3" numOctaves="2" seed="11" result="t"/><feDisplacementMap in="SourceGraphic" in2="t" scale="2.6" xChannelSelector="R" yChannelSelector="G"/><feGaussianBlur stdDeviation="0.35"/></filter><filter id="z10" x="0" y="0" width="1" height="1" color-interpolation-filters="sRGB"><feTurbulence type="fractalNoise" baseFrequency="0.3" numOctaves="2" seed="12" result="t"/><feDisplacementMap in="SourceGraphic" in2="t" scale="2.6" xChannelSelector="R" yChannelSelector="G"/><feGaussianBlur stdDeviation="0.35"/></filter><filter id="z11" x="0" y="0" width="1" height="1" color-interpolation-filters="sRGB"><feTurbulence type="fractalNoise" baseFrequency="0.3" numOctaves="2" seed="15" result="t"/><feDisplacementMap in="SourceGraphic" in2="t" scale="2.6" xChannelSelector="R" yChannelSelector="G"/><feGaussianBlur stdDeviation="0.35"/></filter><filter id="z12" x="0" y="0" width="1" height="1" color-interpolation-filters="sRGB"><feTurbulence type="fractalNoise" baseFrequency="0.3" numOctaves="2" seed="18" result="t"/><feDisplacementMap in="SourceGraphic" in2="t" scale="2.6" xChannelSelector="R" yChannelSelector="G"/><feGaussianBlur stdDeviation="0.35"/></filter><filter id="z20" x="0" y="0" width="1" height="1" color-interpolation-filters="sRGB"><feTurbulence type="fractalNoise" baseFrequency="0.3" numOctaves="2" seed="19" result="t"/><feDisplacementMap in="SourceGraphic" in2="t" scale="2.6" xChannelSelector="R" yChannelSelector="G"/><feGaussianBlur stdDeviation="0.35"/></filter><filter id="z21" x="0" y="0" width="1" height="1" color-interpolation-filters="sRGB"><feTurbulence type="fractalNoise" baseFrequency="0.3" numOctaves="2" seed="22" result="t"/><feDisplacementMap in="SourceGraphic" in2="t" scale="2.6" xChannelSelector="R" yChannelSelector="G"/><feGaussianBlur stdDeviation="0.35"/></filter><filter id="z22" x="0" y="0" width="1" height="1" color-interpolation-filters="sRGB"><feTurbulence type="fractalNoise" baseFrequency="0.3" numOctaves="2" seed="25" result="t"/><feDisplacementMap in="SourceGraphic" in2="t" scale="2.6" xChannelSelector="R" yChannelSelector="G"/><feGaussianBlur stdDeviation="0.35"/></filter><filter id="bl10" x="0" y="0" width="1" height="1" color-interpolation-filters="sRGB"><feTurbulence type="fractalNoise" baseFrequency="0.18" numOctaves="2" seed="61"/><feColorMatrix type="matrix" values="0 0 0 0 0.373 0 0 0 0 0.337 0 0 0 0 0.678 3.2 0 0 0 -1.6"/></filter><filter id="bl11" x="0" y="0" width="1" height="1" color-interpolation-filters="sRGB"><feTurbulence type="fractalNoise" baseFrequency="0.22" numOctaves="2" seed="62"/><feColorMatrix type="matrix" values="0 0 0 0 0.525 0 0 0 0 0.392 0 0 0 0 0.612 2.6 0 0 0 -1.4"/></filter><filter id="bl12" x="0" y="0" width="1" height="1" color-interpolation-filters="sRGB"><feTurbulence type="fractalNoise" baseFrequency="0.2" numOctaves="2" seed="63"/><feColorMatrix type="matrix" values="0 0 0 0 0.525 0 0 0 0 0.376 0 0 0 0 0.541 3.0 0 0 0 -1.45"/></filter><filter id="bl22" x="0" y="0" width="1" height="1" color-interpolation-filters="sRGB"><feTurbulence type="fractalNoise" baseFrequency="0.13" numOctaves="2" seed="64"/><feColorMatrix type="matrix" values="0 0 0 0 0.353 0 0 0 0 0.322 0 0 0 0 0.667 3.6 0 0 0 -1.8"/></filter><filter id="bl20" x="0" y="0" width="1" height="1" color-interpolation-filters="sRGB"><feTurbulence type="fractalNoise" baseFrequency="0.14" numOctaves="2" seed="65"/><feColorMatrix type="matrix" values="0 0 0 0 0.416 0 0 0 0 0.384 0 0 0 0 0.714 3.0 0 0 0 -1.75"/></filter><filter id="bl00" x="0" y="0" width="1" height="1" color-interpolation-filters="sRGB"><feTurbulence type="fractalNoise" baseFrequency="0.14" numOctaves="2" seed="66"/><feColorMatrix type="matrix" values="0 0 0 0 0.439 0 0 0 0 0.408 0 0 0 0 0.722 2.6 0 0 0 -1.6"/></filter><filter id="bl01" x="0" y="0" width="1" height="1" color-interpolation-filters="sRGB"><feTurbulence type="fractalNoise" baseFrequency="0.14" numOctaves="2" seed="67"/><feColorMatrix type="matrix" values="0 0 0 0 0.439 0 0 0 0 0.408 0 0 0 0 0.722 2.6 0 0 0 -1.6"/></filter><filter id="bl02" x="0" y="0" width="1" height="1" color-interpolation-filters="sRGB"><feTurbulence type="fractalNoise" baseFrequency="0.14" numOctaves="2" seed="68"/><feColorMatrix type="matrix" values="0 0 0 0 0.439 0 0 0 0 0.408 0 0 0 0 0.722 2.6 0 0 0 -1.6"/></filter><filter id="bl21" x="0" y="0" width="1" height="1" color-interpolation-filters="sRGB"><feTurbulence type="fractalNoise" baseFrequency="0.14" numOctaves="2" seed="69"/><feColorMatrix type="matrix" values="0 0 0 0 0.416 0 0 0 0 0.384 0 0 0 0 0.714 3.0 0 0 0 -1.75"/></filter><filter id="ltexlc" color-interpolation-filters="sRGB"><feTurbulence type="fractalNoise" baseFrequency="0.45" numOctaves="2" seed="71"/><feColorMatrix type="matrix" values="0 0 0 0 0.541 0 0 0 0 0.510 0 0 0 0 0.769 2.0 0 0 0 -1.22"/><feComposite in2="SourceAlpha" operator="in"/></filter><filter id="ltexlb" color-interpolation-filters="sRGB"><feTurbulence type="fractalNoise" baseFrequency="0.45" numOctaves="2" seed="72"/><feColorMatrix type="matrix" values="0 0 0 0 0.490 0 0 0 0 0.447 0 0 0 0 0.737 2.4 0 0 0 -1.35"/><feComposite in2="SourceAlpha" operator="in"/></filter><filter id="ltexlm" color-interpolation-filters="sRGB"><feTurbulence type="fractalNoise" baseFrequency="0.45" numOctaves="2" seed="73"/><feColorMatrix type="matrix" values="0 0 0 0 0.533 0 0 0 0 0.471 0 0 0 0 0.690 2.3 0 0 0 -1.32"/><feComposite in2="SourceAlpha" operator="in"/></filter><filter id="ltexlg" color-interpolation-filters="sRGB"><feTurbulence type="fractalNoise" baseFrequency="0.45" numOctaves="2" seed="74"/><feColorMatrix type="matrix" values="0 0 0 0 0.522 0 0 0 0 0.490 0 0 0 0 0.761 2.2 0 0 0 -1.3"/><feComposite in2="SourceAlpha" operator="in"/></filter></defs>
<rect x="0.00" y="0.00" width="685.00" height="508.00" fill="#ffffff"/>
<rect x="62.30" y="315.00" width="63.60" height="56.80" fill="#efeff0"/>
<g clip-path="url(#c1)">
<path d="M86.4,325.7 90.3,324.5 97.0,326.2 107.1,331.8 116.1,336.3 122.3,340.8 124.9,345.3 122.9,350.9 117.2,356.5 110.5,360.5 102.6,362.7 88.0,363.8 71.2,362.1 63.4,360.5 70.1,351.0 76.8,341.9 82.4,333.0 85.8,327.3Z" fill="url(#lc)" stroke="#b9b4d6" stroke-width="0.75" stroke-linejoin="round"/>
<path d="M86.4,325.7 90.3,324.5 97.0,326.2 107.1,331.8 116.1,336.3 122.3,340.8 124.9,345.3 122.9,350.9 117.2,356.5 110.5,360.5 102.6,362.7 88.0,363.8 71.2,362.1 63.4,360.5 70.1,351.0 76.8,341.9 82.4,333.0 85.8,327.3Z" fill="#000" filter="url(#ltexlc)"/>
<line x1="92" y1="349.5" x2="95" y2="349" stroke="#f7f7fa" stroke-width="1.1" stroke-linecap="round" opacity="0.9"/>
<line x1="100" y1="338" x2="101" y2="341" stroke="#f7f7fa" stroke-width="1.1" stroke-linecap="round" opacity="0.9"/>
</g>
<path d="M63.8 376.2V374.0H82.8V376.2M67.6 374.0V375.8M71.4 374.0V375.8M75.2 374.0V375.8M79.0 374.0V375.8" stroke="#333" stroke-width="0.7" fill="none"/><text x="83.4" y="376.4" font-size="2" fill="#555">1mm</text>
<g clip-path="url(#c2)"><rect x="122.90" y="311.50" width="70.10" height="70.10" fill="url(#vc)" filter="url(#z00)"/>
<rect x="125.90" y="314.50" width="64.10" height="64.10" filter="url(#bl00)"/>
<ellipse cx="160.0" cy="360.0" rx="3.5" ry="2.8" transform="rotate(0 160.0 360.0)" fill="#f8f8fa" filter="url(#soft)"/>
<ellipse cx="150.0" cy="327.0" rx="2.8" ry="2.8" transform="rotate(0 150.0 327.0)" fill="#f8f8fa" filter="url(#soft)"/>
</g>
<path d="M127.4 376.2V374.0H146.4V376.2M131.2 374.0V375.8M135.0 374.0V375.8M138.8 374.0V375.8M142.6 374.0V375.8" stroke="#333" stroke-width="0.7" fill="none"/><text x="147.0" y="376.4" font-size="2" fill="#555">1mm</text>
<rect x="94.75" y="346.15" width="4.50" height="4.50" fill="none" stroke="#555" stroke-width="0.6"/>
<line x1="99.25" y1="346.15" x2="125.90" y2="314.50" stroke="#555" stroke-width="0.55"/>
<line x1="99.25" y1="350.65" x2="125.90" y2="378.60" stroke="#555" stroke-width="0.55"/>
<rect x="194.50" y="322.50" width="63.30" height="48.20" fill="#efeff0"/>
<g clip-path="url(#c3)">
<path d="M198.0,345.5 204.2,342.1 215.4,338.2 226.7,334.8 235.6,331.5 241.3,328.7 245.7,329.2 250.2,334.8 253.6,342.7 254.5,350.5 251.4,356.2 241.3,359.5 230.0,359.0 218.8,356.2 207.6,351.7 199.7,347.7Z" fill="url(#lc)" stroke="#b9b4d6" stroke-width="0.75" stroke-linejoin="round"/>
<path d="M198.0,345.5 204.2,342.1 215.4,338.2 226.7,334.8 235.6,331.5 241.3,328.7 245.7,329.2 250.2,334.8 253.6,342.7 254.5,350.5 251.4,356.2 241.3,359.5 230.0,359.0 218.8,356.2 207.6,351.7 199.7,347.7Z" fill="#000" filter="url(#ltexlc)"/>
<line x1="222.7" y1="350.5" x2="230.6" y2="350.5" stroke="#f7f7fa" stroke-width="1.1" stroke-linecap="round" opacity="0.9"/>
</g>
<path d="M196.0 376.2V374.0H215.0V376.2M199.8 374.0V375.8M203.6 374.0V375.8M207.4 374.0V375.8M211.2 374.0V375.8" stroke="#333" stroke-width="0.7" fill="none"/><text x="215.6" y="376.4" font-size="2" fill="#555">1mm</text>
<g clip-path="url(#c4)"><rect x="254.80" y="311.50" width="70.20" height="70.10" fill="url(#vc)" filter="url(#z01)"/>
<rect x="257.80" y="314.50" width="64.20" height="64.10" filter="url(#bl01)"/>
<ellipse cx="300.0" cy="355.0" rx="4.5" ry="3.5" transform="rotate(0 300.0 355.0)" fill="#f8f8fa" filter="url(#soft)"/>
<ellipse cx="280.0" cy="327.0" rx="3.5" ry="2.8" transform="rotate(0 280.0 327.0)" fill="#f8f8fa" filter="url(#soft)"/>
</g>
<path d="M259.3 376.2V374.0H278.3V376.2M263.1 374.0V375.8M266.9 374.0V375.8M270.7 374.0V375.8M274.5 374.0V375.8" stroke="#333" stroke-width="0.7" fill="none"/><text x="278.9" y="376.4" font-size="2" fill="#555">1mm</text>
<rect x="231.30" y="340.10" width="3.00" height="3.00" fill="none" stroke="#555" stroke-width="0.6"/>
<line x1="234.30" y1="340.10" x2="257.80" y2="314.50" stroke="#555" stroke-width="0.55"/>
<line x1="234.30" y1="343.10" x2="257.80" y2="378.60" stroke="#555" stroke-width="0.55"/>
<rect x="325.40" y="315.10" width="63.80" height="57.20" fill="#efeff0"/>
<g clip-path="url(#c5)">
<path d="M326.7,345.5 332.9,343.0 341.6,338.7 350.3,330.6 355.3,325.0 359.0,323.4 365.2,325.6 373.9,329.4 381.3,334.3 386.3,340.5 388.1,346.7 386.3,354.2 381.3,359.8 372.6,362.9 360.2,363.5 345.3,362.2 336.6,359.1 330.4,352.9 327.3,348.0Z" fill="url(#lc)" stroke="#b9b4d6" stroke-width="0.75" stroke-linejoin="round"/>
<path d="M326.7,345.5 332.9,343.0 341.6,338.7 350.3,330.6 355.3,325.0 359.0,323.4 365.2,325.6 373.9,329.4 381.3,334.3 386.3,340.5 388.1,346.7 386.3,354.2 381.3,359.8 372.6,362.9 360.2,363.5 345.3,362.2 336.6,359.1 330.4,352.9 327.3,348.0Z" fill="#000" filter="url(#ltexlc)"/>
<line x1="355.9" y1="347.4" x2="356.5" y2="349.2" stroke="#f7f7fa" stroke-width="1.1" stroke-linecap="round" opacity="0.9"/>
<line x1="352.8" y1="353" x2="360.2" y2="352.3" stroke="#f7f7fa" stroke-width="1.1" stroke-linecap="round" opacity="0.9"/>
</g>
<path d="M326.9 376.2V374.0H345.9V376.2M330.7 374.0V375.8M334.5 374.0V375.8M338.3 374.0V375.8M342.1 374.0V375.8" stroke="#333" stroke-width="0.7" fill="none"/><text x="346.5" y="376.4" font-size="2" fill="#555">1mm</text>
<g clip-path="url(#c6)"><rect x="386.20" y="311.50" width="70.60" height="70.10" fill="url(#vc)" filter="url(#z02)"/>
<rect x="389.20" y="314.50" width="64.60" height="64.10" filter="url(#bl02)"/>
<ellipse cx="420.0" cy="330.0" rx="4.5" ry="3.5" transform="rotate(0 420.0 330.0)" fill="#f8f8fa" filter="url(#soft)"/>
<ellipse cx="435.0" cy="365.0" rx="5.5" ry="3.5" transform="rotate(0 435.0 365.0)" fill="#f8f8fa" filter="url(#soft)"/>
<ellipse cx="405.0" cy="360.0" rx="3.5" ry="3" transform="rotate(0 405.0 360.0)" fill="#f8f8fa" filter="url(#soft)"/>
</g>
<path d="M390.7 376.2V374.0H409.7V376.2M394.5 374.0V375.8M398.3 374.0V375.8M402.1 374.0V375.8M405.9 374.0V375.8" stroke="#333" stroke-width="0.7" fill="none"/><text x="410.3" y="376.4" font-size="2" fill="#555">1mm</text>
<rect x="340.45" y="341.45" width="4.30" height="4.30" fill="none" stroke="#555" stroke-width="0.6"/>
<line x1="344.75" y1="341.45" x2="389.20" y2="314.50" stroke="#555" stroke-width="0.55"/>
<line x1="344.75" y1="345.75" x2="389.20" y2="378.60" stroke="#555" stroke-width="0.55"/>
<rect x="62.30" y="378.90" width="63.60" height="58.80" fill="#efeff0"/>
<g clip-path="url(#c7)">
<path d="M65.5,418.3 66.7,411.0 71.0,404.9 77.1,399.4 84.4,395.1 94.2,391.4 104.0,389.6 113.7,388.4 121.0,389.6 124.7,393.9 124.1,396.3 119.8,397.5 114.9,404.9 111.3,414.6 108.8,423.2 106.4,429.3 101.5,431.1 91.7,429.9 82.0,428.1 72.2,425.6 66.1,422.0Z" fill="url(#lb)" stroke="#b9b4d6" stroke-width="0.75" stroke-linejoin="round"/>
<path d="M65.5,418.3 66.7,411.0 71.0,404.9 77.1,399.4 84.4,395.1 94.2,391.4 104.0,389.6 113.7,388.4 121.0,389.6 124.7,393.9 124.1,396.3 119.8,397.5 114.9,404.9 111.3,414.6 108.8,423.2 106.4,429.3 101.5,431.1 91.7,429.9 82.0,428.1 72.2,425.6 66.1,422.0Z" fill="#000" filter="url(#ltexlb)"/>
<line x1="96.6" y1="402.4" x2="99" y2="407.3" stroke="#f7f7fa" stroke-width="1.1" stroke-linecap="round" opacity="0.9"/>
<line x1="95" y1="412" x2="97" y2="416" stroke="#f7f7fa" stroke-width="1.1" stroke-linecap="round" opacity="0.9"/>
<line x1="102" y1="398" x2="104" y2="401" stroke="#f7f7fa" stroke-width="1.1" stroke-linecap="round" opacity="0.9"/>
</g>
<path d="M63.8 440.0V437.8H82.8V440.0M67.6 437.8V439.6M71.4 437.8V439.6M75.2 437.8V439.6M79.0 437.8V439.6" stroke="#333" stroke-width="0.7" fill="none"/><text x="83.4" y="440.2" font-size="2" fill="#555">1mm</text>
<g clip-path="url(#c8)"><rect x="122.90" y="375.60" width="70.10" height="69.80" fill="url(#vb)" filter="url(#z10)"/>
<rect x="125.90" y="378.60" width="64.10" height="63.80" filter="url(#bl10)"/>
<ellipse cx="159.5" cy="393.4" rx="5.2" ry="6.8" transform="rotate(20 159.5 393.4)" fill="#f8f8fa" filter="url(#soft)"/>
<ellipse cx="145.4" cy="412.1" rx="4.2" ry="8.0" transform="rotate(-10 145.4 412.1)" fill="#f8f8fa" filter="url(#soft)"/>
<ellipse cx="135.4" cy="384.5" rx="3.2" ry="2.8" transform="rotate(0 135.4 384.5)" fill="#f8f8fa" filter="url(#soft)"/>
<ellipse cx="181.0" cy="430.0" rx="2.6" ry="2.2" transform="rotate(0 181.0 430.0)" fill="#f8f8fa" filter="url(#soft)"/>
<ellipse cx="170.0" cy="410.0" rx="2" ry="2" transform="rotate(0 170.0 410.0)" fill="#f8f8fa" filter="url(#soft)"/>
<ellipse cx="170" cy="425" rx="7" ry="6" fill="#5f57ad" opacity="0.2" filter="url(#soft)"/>
<ellipse cx="140" cy="395" rx="6" ry="5" fill="#5f57ad" opacity="0.2" filter="url(#soft)"/>
</g>
<path d="M127.4 440.0V437.8H146.4V440.0M131.2 437.8V439.6M135.0 437.8V439.6M138.8 437.8V439.6M142.6 437.8V439.6" stroke="#333" stroke-width="0.7" fill="none"/><text x="147.0" y="440.2" font-size="2" fill="#555">1mm</text>
<rect x="82.35" y="398.75" width="3.70" height="3.70" fill="none" stroke="#555" stroke-width="0.6"/>
<line x1="86.05" y1="398.75" x2="125.90" y2="378.60" stroke="#555" stroke-width="0.55"/>
<line x1="86.05" y1="402.45" x2="125.90" y2="442.40" stroke="#555" stroke-width="0.55"/>
<rect x="194.50" y="379.10" width="63.30" height="58.50" fill="#efeff0"/>
<g clip-path="url(#c9)">
<path d="M198.1,411.0 199.3,404.9 203.0,400.0 210.3,396.3 220.1,393.9 228.6,392.0 238.4,392.0 245.7,395.1 251.8,402.4 255.5,410.4 253.1,413.4 245.7,418.3 238.4,424.4 231.1,430.5 223.7,434.2 214.0,433.6 205.4,429.3 200.5,423.2 198.1,417.1Z" fill="url(#lm)" stroke="#b9b4d6" stroke-width="0.75" stroke-linejoin="round"/>
<path d="M198.1,411.0 199.3,404.9 203.0,400.0 210.3,396.3 220.1,393.9 228.6,392.0 238.4,392.0 245.7,395.1 251.8,402.4 255.5,410.4 253.1,413.4 245.7,418.3 238.4,424.4 231.1,430.5 223.7,434.2 214.0,433.6 205.4,429.3 200.5,423.2 198.1,417.1Z" fill="#000" filter="url(#ltexlm)"/>
<line x1="220.1" y1="413.4" x2="217.6" y2="420.7" stroke="#f7f7fa" stroke-width="1.1" stroke-linecap="round" opacity="0.9"/>
<line x1="221.5" y1="415" x2="224" y2="417.5" stroke="#f7f7fa" stroke-width="1.1" stroke-linecap="round" opacity="0.9"/>
<line x1="214" y1="408" x2="215" y2="411" stroke="#f7f7fa" stroke-width="1.1" stroke-linecap="round" opacity="0.9"/>
</g>
<path d="M196.0 440.0V437.8H215.0V440.0M199.8 437.8V439.6M203.6 437.8V439.6M207.4 437.8V439.6M211.2 437.8V439.6" stroke="#333" stroke-width="0.7" fill="none"/><text x="215.6" y="440.2" font-size="2" fill="#555">1mm</text>
<g clip-path="url(#c10)"><rect x="254.80" y="375.60" width="70.20" height="69.80" fill="url(#vm)" filter="url(#z11)"/>
<rect x="257.80" y="378.60" width="64.20" height="63.80" filter="url(#bl11)"/>
<ellipse cx="295.0" cy="446.0" rx="12" ry="15.5" transform="rotate(5 295.0 446.0)" fill="#f8f8fa" filter="url(#soft)"/>
<ellipse cx="273.0" cy="395.0" rx="2.5" ry="2" transform="rotate(0 273.0 395.0)" fill="#f8f8fa" filter="url(#soft)"/>
<ellipse cx="305.0" cy="410.0" rx="2" ry="2" transform="rotate(0 305.0 410.0)" fill="#f8f8fa" filter="url(#soft)"/>
<ellipse cx="268.0" cy="420.0" rx="2" ry="2" transform="rotate(0 268.0 420.0)" fill="#f8f8fa" filter="url(#soft)"/>
<ellipse cx="299.8" cy="429.3" rx="1.0" ry="2.4" fill="#1d4d58" opacity="0.95" filter="url(#soft)"/>
<ellipse cx="299.8" cy="425.5" rx="0.8" ry="0.8" fill="#1d4d58" opacity="0.9" filter="url(#soft)"/>
</g>
<path d="M259.3 440.0V437.8H278.3V440.0M263.1 437.8V439.6M266.9 437.8V439.6M270.7 437.8V439.6M274.5 437.8V439.6" stroke="#333" stroke-width="0.7" fill="none"/><text x="278.9" y="440.2" font-size="2" fill="#555">1mm</text>
<rect x="229.30" y="392.40" width="3.00" height="3.00" fill="none" stroke="#555" stroke-width="0.6"/>
<line x1="232.30" y1="392.40" x2="257.80" y2="378.60" stroke="#555" stroke-width="0.55"/>
<line x1="232.30" y1="395.40" x2="257.80" y2="442.40" stroke="#555" stroke-width="0.55"/>
<rect x="325.40" y="378.20" width="63.80" height="59.80" fill="#efeff0"/>
<g clip-path="url(#c11)">
<path d="M359.6,382.9 367.0,383.5 373.1,386.5 376.7,392.7 376.7,400.0 374.3,407.3 370.6,413.4 365.7,419.5 359.6,425.6 353.5,430.5 345.0,435.4 337.7,437.2 337.7,431.7 340.1,424.4 342.5,417.1 345.0,411.0 346.2,404.9 343.8,398.8 341.3,392.7 343.8,389.6 351.1,385.3Z" fill="url(#lm)" stroke="#b9b4d6" stroke-width="0.75" stroke-linejoin="round"/>
<path d="M359.6,382.9 367.0,383.5 373.1,386.5 376.7,392.7 376.7,400.0 374.3,407.3 370.6,413.4 365.7,419.5 359.6,425.6 353.5,430.5 345.0,435.4 337.7,437.2 337.7,431.7 340.1,424.4 342.5,417.1 345.0,411.0 346.2,404.9 343.8,398.8 341.3,392.7 343.8,389.6 351.1,385.3Z" fill="#000" filter="url(#ltexlm)"/>
<line x1="359.6" y1="395.7" x2="362.7" y2="398.1" stroke="#f7f7fa" stroke-width="1.1" stroke-linecap="round" opacity="0.9"/>
<line x1="354.1" y1="404.3" x2="356" y2="405.5" stroke="#f7f7fa" stroke-width="1.1" stroke-linecap="round" opacity="0.9"/>
<line x1="366.9" y1="394" x2="367.5" y2="395.8" stroke="#f7f7fa" stroke-width="1.1" stroke-linecap="round" opacity="0.9"/>
<line x1="348.6" y1="419" x2="350.5" y2="419.6" stroke="#f7f7fa" stroke-width="1.1" stroke-linecap="round" opacity="0.9"/>
</g>
<path d="M326.9 440.0V437.8H345.9V440.0M330.7 437.8V439.6M334.5 437.8V439.6M338.3 437.8V439.6M342.1 437.8V439.6" stroke="#333" stroke-width="0.7" fill="none"/><text x="346.5" y="440.2" font-size="2" fill="#555">1mm</text>
<g clip-path="url(#c12)"><rect x="386.20" y="375.60" width="70.60" height="69.80" fill="url(#vm2)" filter="url(#z12)"/>
<rect x="389.20" y="378.60" width="64.60" height="63.80" filter="url(#bl12)"/>
<ellipse cx="420.0" cy="395.0" rx="3" ry="2.2" transform="rotate(0 420.0 395.0)" fill="#f8f8fa" filter="url(#soft)"/>
<ellipse cx="398.0" cy="425.0" rx="2.6" ry="2" transform="rotate(0 398.0 425.0)" fill="#f8f8fa" filter="url(#soft)"/>
<ellipse cx="440.0" cy="420.0" rx="2.5" ry="2" transform="rotate(0 440.0 420.0)" fill="#f8f8fa" filter="url(#soft)"/>
</g>
<path d="M390.7 440.0V437.8H409.7V440.0M394.5 437.8V439.6M398.3 437.8V439.6M402.1 437.8V439.6M405.9 437.8V439.6" stroke="#333" stroke-width="0.7" fill="none"/><text x="410.3" y="440.2" font-size="2" fill="#555">1mm</text>
<rect x="352.25" y="409.15" width="3.70" height="3.70" fill="none" stroke="#555" stroke-width="0.6"/>
<line x1="355.95" y1="409.15" x2="389.20" y2="378.60" stroke="#555" stroke-width="0.55"/>
<line x1="355.95" y1="412.85" x2="389.20" y2="442.40" stroke="#555" stroke-width="0.55"/>
<rect x="62.30" y="442.60" width="63.60" height="60.50" fill="#efeff0"/>
<g clip-path="url(#c13)">
<path d="M63.8,483.6 65.0,476.0 70.1,467.2 77.6,459.6 87.7,453.3 100.3,449.6 112.9,448.3 121.7,450.8 124.2,455.2 119.2,458.4 114.2,465.9 109.1,476.0 101.6,488.6 96.5,497.4 94.0,503.7 85.2,501.2 75.1,496.2 67.6,491.1Z" fill="url(#lg)" stroke="#b9b4d6" stroke-width="0.75" stroke-linejoin="round"/>
<path d="M63.8,483.6 65.0,476.0 70.1,467.2 77.6,459.6 87.7,453.3 100.3,449.6 112.9,448.3 121.7,450.8 124.2,455.2 119.2,458.4 114.2,465.9 109.1,476.0 101.6,488.6 96.5,497.4 94.0,503.7 85.2,501.2 75.1,496.2 67.6,491.1Z" fill="#000" filter="url(#ltexlg)"/>
<line x1="87.1" y1="470.3" x2="92.7" y2="466.6" stroke="#f7f7fa" stroke-width="1.1" stroke-linecap="round" opacity="0.9"/>
<line x1="96.5" y1="469" x2="97.8" y2="468.4" stroke="#f7f7fa" stroke-width="1.1" stroke-linecap="round" opacity="0.9"/>
<line x1="82.7" y1="484.8" x2="85.2" y2="487.3" stroke="#f7f7fa" stroke-width="1.1" stroke-linecap="round" opacity="0.9"/>
<line x1="85.8" y1="479.8" x2="87" y2="482.3" stroke="#f7f7fa" stroke-width="1.1" stroke-linecap="round" opacity="0.9"/>
<line x1="90.2" y1="476" x2="91.5" y2="477.9" stroke="#f7f7fa" stroke-width="1.1" stroke-linecap="round" opacity="0.9"/>
<line x1="78.9" y1="488.6" x2="80.2" y2="489.9" stroke="#f7f7fa" stroke-width="1.1" stroke-linecap="round" opacity="0.9"/>
</g>
<path d="M63.8 504.0V501.8H82.8V504.0M67.6 501.8V503.6M71.4 501.8V503.6M75.2 501.8V503.6M79.0 501.8V503.6" stroke="#333" stroke-width="0.7" fill="none"/><text x="83.4" y="504.2" font-size="2" fill="#555">1mm</text>
<g clip-path="url(#c14)"><rect x="122.90" y="439.40" width="70.10" height="70.00" fill="url(#vg)" filter="url(#z20)"/>
<rect x="125.90" y="442.40" width="64.10" height="64.00" filter="url(#bl20)"/>
<ellipse cx="159.5" cy="474.0" rx="3.8" ry="5.5" transform="rotate(-20 159.5 474.0)" fill="#f8f8fa" filter="url(#soft)"/>
<ellipse cx="174.9" cy="492.2" rx="3.8" ry="5.5" transform="rotate(10 174.9 492.2)" fill="#f8f8fa" filter="url(#soft)"/>
<ellipse cx="140.0" cy="470.0" rx="2.5" ry="2.5" transform="rotate(0 140.0 470.0)" fill="#f8f8fa" filter="url(#soft)"/>
<ellipse cx="176.0" cy="458.0" rx="2.6" ry="2.2" transform="rotate(0 176.0 458.0)" fill="#f8f8fa" filter="url(#soft)"/>
</g>
<path d="M127.4 504.0V501.8H146.4V504.0M131.2 501.8V503.6M135.0 501.8V503.6M138.8 501.8V503.6M142.6 501.8V503.6" stroke="#333" stroke-width="0.7" fill="none"/><text x="147.0" y="504.2" font-size="2" fill="#555">1mm</text>
<rect x="95.30" y="474.20" width="4.40" height="4.40" fill="none" stroke="#555" stroke-width="0.6"/>
<line x1="99.70" y1="474.20" x2="125.90" y2="442.40" stroke="#555" stroke-width="0.55"/>
<line x1="99.70" y1="478.60" x2="125.90" y2="506.40" stroke="#555" stroke-width="0.55"/>
<rect x="194.50" y="443.60" width="63.30" height="57.40" fill="#efeff0"/>
<g clip-path="url(#c15)">
<path d="M196.4,471.6 199.6,466.6 207.1,464.7 217.2,462.8 229.8,460.9 242.4,460.9 251.2,464.0 254.3,469.1 253.7,474.7 251.2,479.8 250.0,482.9 244.9,486.1 238.6,489.9 229.8,491.7 219.7,490.5 209.6,486.7 202.1,481.0 197.7,476.0Z" fill="url(#lg)" stroke="#b9b4d6" stroke-width="0.75" stroke-linejoin="round"/>
<path d="M196.4,471.6 199.6,466.6 207.1,464.7 217.2,462.8 229.8,460.9 242.4,460.9 251.2,464.0 254.3,469.1 253.7,474.7 251.2,479.8 250.0,482.9 244.9,486.1 238.6,489.9 229.8,491.7 219.7,490.5 209.6,486.7 202.1,481.0 197.7,476.0Z" fill="#000" filter="url(#ltexlg)"/>
<line x1="217" y1="468" x2="218" y2="467.5" stroke="#f7f7fa" stroke-width="1.1" stroke-linecap="round" opacity="0.9"/>
</g>
<path d="M196.0 504.0V501.8H215.0V504.0M199.8 501.8V503.6M203.6 501.8V503.6M207.4 501.8V503.6M211.2 501.8V503.6" stroke="#333" stroke-width="0.7" fill="none"/><text x="215.6" y="504.2" font-size="2" fill="#555">1mm</text>
<g clip-path="url(#c16)"><rect x="254.80" y="439.40" width="70.20" height="70.00" fill="url(#vg)" filter="url(#z21)"/>
<rect x="257.80" y="442.40" width="64.20" height="64.00" filter="url(#bl21)"/>
<ellipse cx="307.0" cy="480.0" rx="5" ry="3.5" transform="rotate(-40 307.0 480.0)" fill="#f8f8fa" filter="url(#soft)"/>
<ellipse cx="272.0" cy="455.0" rx="2.6" ry="2.6" transform="rotate(0 272.0 455.0)" fill="#f8f8fa" filter="url(#soft)"/>
<ellipse cx="288.0" cy="498.0" rx="3.5" ry="2.5" transform="rotate(0 288.0 498.0)" fill="#f8f8fa" filter="url(#soft)"/>
<ellipse cx="314.0" cy="492.0" rx="3.5" ry="3.5" transform="rotate(0 314.0 492.0)" fill="#f8f8fa" filter="url(#soft)"/>
<ellipse cx="290" cy="472" rx="6" ry="5" fill="#7a70bc" opacity="0.35" filter="url(#soft)"/>
<ellipse cx="287" cy="470" rx="3" ry="3" fill="#6a60b4" opacity="0.3" filter="url(#soft)"/>
</g>
<path d="M259.3 504.0V501.8H278.3V504.0M263.1 501.8V503.6M266.9 501.8V503.6M270.7 501.8V503.6M274.5 501.8V503.6" stroke="#333" stroke-width="0.7" fill="none"/><text x="278.9" y="504.2" font-size="2" fill="#555">1mm</text>
<rect x="208.00" y="473.90" width="3.80" height="3.80" fill="none" stroke="#555" stroke-width="0.6"/>
<line x1="211.80" y1="473.90" x2="257.80" y2="442.40" stroke="#555" stroke-width="0.55"/>
<line x1="211.80" y1="477.70" x2="257.80" y2="506.40" stroke="#555" stroke-width="0.55"/>
<rect x="325.40" y="443.00" width="63.80" height="60.00" fill="#efeff0"/>
<g clip-path="url(#c17)">
<path d="M329.9,484.8 330.6,488.6 336.9,493.6 344.4,495.5 354.5,494.9 363.3,491.1 372.1,486.1 379.7,481.0 384.7,476.0 386.6,469.7 385.3,463.4 380.9,457.1 374.6,454.0 367.1,455.2 360.8,454.6 357.0,457.1 350.7,463.4 344.4,471.0 338.1,477.3 331.8,482.3Z" fill="url(#lg)" stroke="#b9b4d6" stroke-width="0.75" stroke-linejoin="round"/>
<path d="M329.9,484.8 330.6,488.6 336.9,493.6 344.4,495.5 354.5,494.9 363.3,491.1 372.1,486.1 379.7,481.0 384.7,476.0 386.6,469.7 385.3,463.4 380.9,457.1 374.6,454.0 367.1,455.2 360.8,454.6 357.0,457.1 350.7,463.4 344.4,471.0 338.1,477.3 331.8,482.3Z" fill="#000" filter="url(#ltexlg)"/>
<line x1="350.7" y1="483.6" x2="365.8" y2="480.4" stroke="#f7f7fa" stroke-width="1.1" stroke-linecap="round" opacity="0.9"/>
<line x1="363" y1="479.5" x2="367" y2="477.8" stroke="#f7f7fa" stroke-width="1.1" stroke-linecap="round" opacity="0.9"/>
</g>
<path d="M326.9 504.0V501.8H345.9V504.0M330.7 501.8V503.6M334.5 501.8V503.6M338.3 501.8V503.6M342.1 501.8V503.6" stroke="#333" stroke-width="0.7" fill="none"/><text x="346.5" y="504.2" font-size="2" fill="#555">1mm</text>
<g clip-path="url(#c18)"><rect x="386.20" y="439.40" width="70.60" height="70.00" fill="url(#vg2)" filter="url(#z22)"/>
<rect x="389.20" y="442.40" width="64.60" height="64.00" filter="url(#bl22)"/>
<ellipse cx="402.0" cy="455.0" rx="4" ry="3" transform="rotate(0 402.0 455.0)" fill="#f8f8fa" filter="url(#soft)"/>
<ellipse cx="395.0" cy="490.0" rx="3" ry="3" transform="rotate(0 395.0 490.0)" fill="#f8f8fa" filter="url(#soft)"/>
<ellipse cx="430.0" cy="500.0" rx="3" ry="2.5" transform="rotate(0 430.0 500.0)" fill="#f8f8fa" filter="url(#soft)"/>
<ellipse cx="412" cy="470" rx="8" ry="6" fill="#5f57ad" opacity="0.25" filter="url(#soft)"/>
<ellipse cx="430" cy="490" rx="7" ry="6" fill="#5f57ad" opacity="0.25" filter="url(#soft)"/>
<ellipse cx="404" cy="458" rx="1" ry="1" fill="#1d4d58" opacity="0.9" filter="url(#soft)"/>
<ellipse cx="425" cy="485" rx="1" ry="1.2" fill="#1d4d58" opacity="0.9" filter="url(#soft)"/>
<ellipse cx="440" cy="496" rx="1.2" ry="1" fill="#1d4d58" opacity="0.9" filter="url(#soft)"/>
<ellipse cx="418" cy="500" rx="1" ry="1" fill="#1d4d58" opacity="0.9" filter="url(#soft)"/>
</g>
<path d="M390.7 504.0V501.8H409.7V504.0M394.5 501.8V503.6M398.3 501.8V503.6M402.1 501.8V503.6M405.9 501.8V503.6" stroke="#333" stroke-width="0.7" fill="none"/><text x="410.3" y="504.2" font-size="2" fill="#555">1mm</text>
<rect x="369.90" y="465.40" width="4.40" height="4.40" fill="none" stroke="#555" stroke-width="0.6"/>
<line x1="374.30" y1="465.40" x2="389.20" y2="442.40" stroke="#555" stroke-width="0.55"/>
<line x1="374.30" y1="469.80" x2="389.20" y2="506.40" stroke="#555" stroke-width="0.55"/>
<text x="63.7" y="322.6" font-size="8.2" font-weight="bold" fill="#2b22e8">CD206</text>
<text x="3.00" y="9.00" font-size="11" text-anchor="start" fill="#111" stroke="#111" stroke-width="0.08">A</text>
<line x1="66.40" y1="18.80" x2="66.40" y2="108.00" stroke="#2b2b2b" stroke-width="1.1"/>
<line x1="63.40" y1="19.30" x2="66.40" y2="19.30" stroke="#2b2b2b" stroke-width="1.0"/>
<text x="56.40" y="23.20" font-size="7.8" text-anchor="end" fill="#1a1a1a" stroke="#1a1a1a" stroke-width="0.08">2.5×10</text>
<text x="57.60" y="19.30" font-size="5.0" text-anchor="start" fill="#1a1a1a" stroke="#1a1a1a" stroke-width="0.05">6</text>
<line x1="63.40" y1="36.95" x2="66.40" y2="36.95" stroke="#2b2b2b" stroke-width="1.0"/>
<text x="56.40" y="40.85" font-size="7.8" text-anchor="end" fill="#1a1a1a" stroke="#1a1a1a" stroke-width="0.08">2×10</text>
<text x="57.60" y="36.95" font-size="5.0" text-anchor="start" fill="#1a1a1a" stroke="#1a1a1a" stroke-width="0.05">6</text>
<line x1="63.40" y1="54.60" x2="66.40" y2="54.60" stroke="#2b2b2b" stroke-width="1.0"/>
<text x="56.40" y="58.50" font-size="7.8" text-anchor="end" fill="#1a1a1a" stroke="#1a1a1a" stroke-width="0.08">1.5×10</text>
<text x="57.60" y="54.60" font-size="5.0" text-anchor="start" fill="#1a1a1a" stroke="#1a1a1a" stroke-width="0.05">6</text>
<line x1="63.40" y1="72.25" x2="66.40" y2="72.25" stroke="#2b2b2b" stroke-width="1.0"/>
<text x="56.40" y="76.15" font-size="7.8" text-anchor="end" fill="#1a1a1a" stroke="#1a1a1a" stroke-width="0.08">1×10</text>
<text x="57.60" y="72.25" font-size="5.0" text-anchor="start" fill="#1a1a1a" stroke="#1a1a1a" stroke-width="0.05">6</text>
<line x1="63.40" y1="89.90" x2="66.40" y2="89.90" stroke="#2b2b2b" stroke-width="1.0"/>
<text x="56.40" y="93.80" font-size="7.8" text-anchor="end" fill="#1a1a1a" stroke="#1a1a1a" stroke-width="0.08">5×10</text>
<text x="57.60" y="89.90" font-size="5.0" text-anchor="start" fill="#1a1a1a" stroke="#1a1a1a" stroke-width="0.05">5</text>
<line x1="63.40" y1="107.50" x2="66.40" y2="107.50" stroke="#2b2b2b" stroke-width="1.0"/>
<text x="61.90" y="110.00" font-size="7.1" text-anchor="end" fill="#1a1a1a" stroke="#1a1a1a" stroke-width="0.08">0</text>
<line x1="65.90" y1="107.50" x2="199.00" y2="107.50" stroke="#2b2b2b" stroke-width="1.1"/>
<line x1="87.10" y1="107.50" x2="87.10" y2="110.90" stroke="#2b2b2b" stroke-width="1.2"/>
<text x="86.20" y="119.80" font-size="7.5" text-anchor="middle" fill="#111" stroke="#111" stroke-width="0.08">7</text>
<line x1="132.60" y1="107.50" x2="132.60" y2="110.90" stroke="#2b2b2b" stroke-width="1.2"/>
<text x="131.70" y="119.80" font-size="7.5" text-anchor="middle" fill="#111" stroke="#111" stroke-width="0.08">14</text>
<line x1="178.00" y1="107.50" x2="178.00" y2="110.90" stroke="#2b2b2b" stroke-width="1.2"/>
<text x="177.10" y="119.80" font-size="7.5" text-anchor="middle" fill="#111" stroke="#111" stroke-width="0.08">21</text>
<text x="26.00" y="64.80" font-size="7.6" font-weight="bold" text-anchor="middle" fill="#111" stroke="#111" stroke-width="0.12" transform="rotate(-90 26.00 64.80)">Total cells in BALF</text>
<text x="122.60" y="130.20" font-size="7.6" font-weight="bold" text-anchor="middle" fill="#111" stroke="#111" stroke-width="0.12">DAYs after treated</text>
<rect x="70.30" y="103.50" width="8.70" height="4.00" fill="#1a0dff"/>
<rect x="83.00" y="71.00" width="8.20" height="36.50" fill="#ff1f10"/>
<line x1="87.10" y1="71.00" x2="87.10" y2="58.10" stroke="#ff1f10" stroke-width="1.0" opacity="0.75"/>
<line x1="85.05" y1="58.10" x2="89.15" y2="58.10" stroke="#ff1f10" stroke-width="1.0" opacity="0.75"/>
<rect x="95.40" y="80.80" width="8.30" height="26.70" fill="#4ddc2a"/>
<line x1="99.55" y1="80.80" x2="99.55" y2="77.80" stroke="#4ddc2a" stroke-width="1.0" opacity="0.75"/>
<line x1="97.48" y1="77.80" x2="101.63" y2="77.80" stroke="#4ddc2a" stroke-width="1.0" opacity="0.75"/>
<rect x="116.00" y="104.00" width="8.20" height="3.50" fill="#1a0dff"/>
<rect x="128.50" y="58.90" width="8.30" height="48.60" fill="#ff1f10"/>
<line x1="132.65" y1="58.90" x2="132.65" y2="49.10" stroke="#ff1f10" stroke-width="1.0" opacity="0.75"/>
<line x1="130.57" y1="49.10" x2="134.73" y2="49.10" stroke="#ff1f10" stroke-width="1.0" opacity="0.75"/>
<rect x="140.70" y="94.00" width="8.30" height="13.50" fill="#4ddc2a"/>
<line x1="144.85" y1="94.00" x2="144.85" y2="91.00" stroke="#4ddc2a" stroke-width="1.0" opacity="0.75"/>
<line x1="142.77" y1="91.00" x2="146.93" y2="91.00" stroke="#4ddc2a" stroke-width="1.0" opacity="0.75"/>
<rect x="161.30" y="103.80" width="8.60" height="3.70" fill="#1a0dff"/>
<rect x="174.00" y="71.20" width="8.00" height="36.30" fill="#ff1f10"/>
<line x1="178.00" y1="71.20" x2="178.00" y2="64.30" stroke="#ff1f10" stroke-width="1.0" opacity="0.75"/>
<line x1="176.00" y1="64.30" x2="180.00" y2="64.30" stroke="#ff1f10" stroke-width="1.0" opacity="0.75"/>
<rect x="186.30" y="96.80" width="8.20" height="10.70" fill="#4ddc2a"/>
<line x1="190.40" y1="96.80" x2="190.40" y2="96.00" stroke="#4ddc2a" stroke-width="1.0" opacity="0.75"/>
<line x1="188.35" y1="96.00" x2="192.45" y2="96.00" stroke="#4ddc2a" stroke-width="1.0" opacity="0.75"/>
<line x1="74.80" y1="50.70" x2="87.00" y2="50.70" stroke="#000" stroke-width="1.5"/>
<polygon points="80.90,42.29 81.58,44.03 83.42,43.74 82.25,45.20 83.42,46.66 81.58,46.37 80.90,48.11 80.22,46.37 78.38,46.66 79.55,45.20 78.38,43.74 80.22,44.03" fill="#000"/>
<line x1="87.00" y1="37.50" x2="100.00" y2="37.50" stroke="#000" stroke-width="1.5"/>
<text x="93.50" y="34.90" font-size="7.2" text-anchor="middle" fill="#333" stroke="#333" stroke-width="0.08">ns</text>
<line x1="120.10" y1="42.40" x2="132.80" y2="42.40" stroke="#000" stroke-width="1.5"/>
<polygon points="120.45,33.79 121.13,35.53 122.97,35.24 121.80,36.70 122.97,38.16 121.13,37.87 120.45,39.61 119.77,37.87 117.93,38.16 119.10,36.70 117.93,35.24 119.77,35.53" fill="#000"/>
<polygon points="126.45,33.79 127.13,35.53 128.97,35.24 127.80,36.70 128.97,38.16 127.13,37.87 126.45,39.61 125.77,37.87 123.93,38.16 125.10,36.70 123.93,35.24 125.77,35.53" fill="#000"/>
<polygon points="132.45,33.79 133.13,35.53 134.97,35.24 133.80,36.70 134.97,38.16 133.13,37.87 132.45,39.61 131.77,37.87 129.93,38.16 131.10,36.70 129.93,35.24 131.77,35.53" fill="#000"/>
<line x1="133.10" y1="27.20" x2="145.50" y2="27.20" stroke="#000" stroke-width="1.5"/>
<polygon points="133.30,19.29 133.98,21.03 135.82,20.74 134.65,22.20 135.82,23.66 133.98,23.37 133.30,25.11 132.62,23.37 130.78,23.66 131.95,22.20 130.78,20.74 132.62,21.03" fill="#000"/>
<polygon points="139.30,19.29 139.98,21.03 141.82,20.74 140.65,22.20 141.82,23.66 139.98,23.37 139.30,25.11 138.62,23.37 136.78,23.66 137.95,22.20 136.78,20.74 138.62,21.03" fill="#000"/>
<polygon points="145.30,19.29 145.98,21.03 147.82,20.74 146.65,22.20 147.82,23.66 145.98,23.37 145.30,25.11 144.62,23.37 142.78,23.66 143.95,22.20 142.78,20.74 144.62,21.03" fill="#000"/>
<line x1="165.20" y1="58.80" x2="177.40" y2="58.80" stroke="#000" stroke-width="1.5"/>
<polygon points="165.30,50.39 165.98,52.13 167.82,51.84 166.65,53.30 167.82,54.76 165.98,54.47 165.30,56.21 164.62,54.47 162.78,54.76 163.95,53.30 162.78,51.84 164.62,52.13" fill="#000"/>
<polygon points="171.30,50.39 171.98,52.13 173.82,51.84 172.65,53.30 173.82,54.76 171.98,54.47 171.30,56.21 170.62,54.47 168.78,54.76 169.95,53.30 168.78,51.84 170.62,52.13" fill="#000"/>
<polygon points="177.30,50.39 177.98,52.13 179.82,51.84 178.65,53.30 179.82,54.76 177.98,54.47 177.30,56.21 176.62,54.47 174.78,54.76 175.95,53.30 174.78,51.84 176.62,52.13" fill="#000"/>
<line x1="178.00" y1="45.00" x2="190.60" y2="45.00" stroke="#000" stroke-width="1.5"/>
<polygon points="178.30,36.59 178.98,38.33 180.82,38.04 179.65,39.50 180.82,40.96 178.98,40.67 178.30,42.41 177.62,40.67 175.78,40.96 176.95,39.50 175.78,38.04 177.62,38.33" fill="#000"/>
<polygon points="184.30,36.59 184.98,38.33 186.82,38.04 185.65,39.50 186.82,40.96 184.98,40.67 184.30,42.41 183.62,40.67 181.78,40.96 182.95,39.50 181.78,38.04 183.62,38.33" fill="#000"/>
<polygon points="190.30,36.59 190.98,38.33 192.82,38.04 191.65,39.50 192.82,40.96 190.98,40.67 190.30,42.41 189.62,40.67 187.78,40.96 188.95,39.50 187.78,38.04 189.62,38.33" fill="#000"/>
<rect x="202.40" y="13.60" width="10.70" height="5.30" fill="#1a0dff"/>
<text x="219.00" y="19.20" font-size="7.6" text-anchor="start" fill="#111" stroke="#111" stroke-width="0.08">CONTROL</text>
<rect x="202.40" y="27.00" width="10.70" height="5.30" fill="#ff1f10"/>
<text x="219.00" y="32.60" font-size="7.6" text-anchor="start" fill="#111" stroke="#111" stroke-width="0.08">BLM</text>
<rect x="202.40" y="40.40" width="10.70" height="5.30" fill="#4ddc2a"/>
<text x="219.00" y="46.00" font-size="7.6" text-anchor="start" fill="#111" stroke="#111" stroke-width="0.08">BLM + GL-V9</text>
<text x="275.90" y="9.00" font-size="11" text-anchor="start" fill="#111" stroke="#111" stroke-width="0.08">B</text>
<rect x="295.50" y="19.20" width="67.60" height="67.40" fill="#fff" stroke="#cfcfcf" stroke-width="0.6"/>
<line x1="295.50" y1="19.20" x2="295.50" y2="86.60" stroke="#333" stroke-width="0.8"/>
<line x1="295.50" y1="86.60" x2="363.10" y2="86.60" stroke="#333" stroke-width="0.8"/>
<line x1="293.70" y1="21.40" x2="295.50" y2="21.40" stroke="#333" stroke-width="0.6"/>
<text x="289.30" y="22.30" font-size="1.9" text-anchor="start" fill="#555" stroke="#555" stroke-width="0.05">10</text>
<line x1="294.60" y1="24.20" x2="295.50" y2="24.20" stroke="#666" stroke-width="0.35"/>
<line x1="294.60" y1="26.54" x2="295.50" y2="26.54" stroke="#666" stroke-width="0.35"/>
<line x1="294.60" y1="28.41" x2="295.50" y2="28.41" stroke="#666" stroke-width="0.35"/>
<line x1="293.70" y1="30.75" x2="295.50" y2="30.75" stroke="#333" stroke-width="0.6"/>
<text x="289.30" y="31.65" font-size="1.9" text-anchor="start" fill="#555" stroke="#555" stroke-width="0.05">10</text>
<line x1="294.60" y1="33.55" x2="295.50" y2="33.55" stroke="#666" stroke-width="0.35"/>
<line x1="294.60" y1="35.89" x2="295.50" y2="35.89" stroke="#666" stroke-width="0.35"/>
<line x1="294.60" y1="37.76" x2="295.50" y2="37.76" stroke="#666" stroke-width="0.35"/>
<line x1="293.70" y1="40.10" x2="295.50" y2="40.10" stroke="#333" stroke-width="0.6"/>
<text x="289.30" y="41.00" font-size="1.9" text-anchor="start" fill="#555" stroke="#555" stroke-width="0.05">10</text>
<line x1="294.60" y1="42.90" x2="295.50" y2="42.90" stroke="#666" stroke-width="0.35"/>
<line x1="294.60" y1="45.24" x2="295.50" y2="45.24" stroke="#666" stroke-width="0.35"/>
<line x1="294.60" y1="47.11" x2="295.50" y2="47.11" stroke="#666" stroke-width="0.35"/>
<line x1="293.70" y1="49.45" x2="295.50" y2="49.45" stroke="#333" stroke-width="0.6"/>
<text x="289.30" y="50.35" font-size="1.9" text-anchor="start" fill="#555" stroke="#555" stroke-width="0.05">10</text>
<line x1="294.60" y1="52.25" x2="295.50" y2="52.25" stroke="#666" stroke-width="0.35"/>
<line x1="294.60" y1="54.59" x2="295.50" y2="54.59" stroke="#666" stroke-width="0.35"/>
<line x1="294.60" y1="56.46" x2="295.50" y2="56.46" stroke="#666" stroke-width="0.35"/>
<line x1="293.70" y1="58.80" x2="295.50" y2="58.80" stroke="#333" stroke-width="0.6"/>
<text x="289.30" y="59.70" font-size="1.9" text-anchor="start" fill="#555" stroke="#555" stroke-width="0.05">10</text>
<line x1="294.60" y1="61.60" x2="295.50" y2="61.60" stroke="#666" stroke-width="0.35"/>
<line x1="294.60" y1="63.94" x2="295.50" y2="63.94" stroke="#666" stroke-width="0.35"/>
<line x1="294.60" y1="65.81" x2="295.50" y2="65.81" stroke="#666" stroke-width="0.35"/>
<line x1="293.70" y1="68.15" x2="295.50" y2="68.15" stroke="#333" stroke-width="0.6"/>
<text x="289.30" y="69.05" font-size="1.9" text-anchor="start" fill="#555" stroke="#555" stroke-width="0.05">10</text>
<line x1="294.60" y1="70.96" x2="295.50" y2="70.96" stroke="#666" stroke-width="0.35"/>
<line x1="294.60" y1="73.29" x2="295.50" y2="73.29" stroke="#666" stroke-width="0.35"/>
<line x1="294.60" y1="75.16" x2="295.50" y2="75.16" stroke="#666" stroke-width="0.35"/>
<line x1="293.70" y1="77.50" x2="295.50" y2="77.50" stroke="#333" stroke-width="0.6"/>
<text x="289.30" y="78.40" font-size="1.9" text-anchor="start" fill="#555" stroke="#555" stroke-width="0.05">10</text>
<line x1="294.60" y1="80.31" x2="295.50" y2="80.31" stroke="#666" stroke-width="0.35"/>
<line x1="294.60" y1="82.64" x2="295.50" y2="82.64" stroke="#666" stroke-width="0.35"/>
<line x1="294.60" y1="84.51" x2="295.50" y2="84.51" stroke="#666" stroke-width="0.35"/>
<line x1="300.10" y1="86.60" x2="300.10" y2="88.40" stroke="#333" stroke-width="0.6"/>
<text x="298.50" y="91.80" font-size="1.9" text-anchor="start" fill="#555" stroke="#555" stroke-width="0.05">10</text>
<line x1="305.05" y1="86.60" x2="305.05" y2="87.50" stroke="#666" stroke-width="0.35"/>
<line x1="308.02" y1="86.60" x2="308.02" y2="87.50" stroke="#666" stroke-width="0.35"/>
<line x1="310.00" y1="86.60" x2="310.00" y2="87.50" stroke="#666" stroke-width="0.35"/>
<line x1="311.65" y1="86.60" x2="311.65" y2="87.50" stroke="#666" stroke-width="0.35"/>
<line x1="312.97" y1="86.60" x2="312.97" y2="87.50" stroke="#666" stroke-width="0.35"/>
<line x1="314.12" y1="86.60" x2="314.12" y2="87.50" stroke="#666" stroke-width="0.35"/>
<line x1="314.95" y1="86.60" x2="314.95" y2="87.50" stroke="#666" stroke-width="0.35"/>
<line x1="315.78" y1="86.60" x2="315.78" y2="87.50" stroke="#666" stroke-width="0.35"/>
<line x1="316.60" y1="86.60" x2="316.60" y2="88.40" stroke="#333" stroke-width="0.6"/>
<text x="315.00" y="91.80" font-size="1.9" text-anchor="start" fill="#555" stroke="#555" stroke-width="0.05">10</text>
<line x1="321.55" y1="86.60" x2="321.55" y2="87.50" stroke="#666" stroke-width="0.35"/>
<line x1="324.52" y1="86.60" x2="324.52" y2="87.50" stroke="#666" stroke-width="0.35"/>
<line x1="326.50" y1="86.60" x2="326.50" y2="87.50" stroke="#666" stroke-width="0.35"/>
<line x1="328.15" y1="86.60" x2="328.15" y2="87.50" stroke="#666" stroke-width="0.35"/>
<line x1="329.47" y1="86.60" x2="329.47" y2="87.50" stroke="#666" stroke-width="0.35"/>
<line x1="330.62" y1="86.60" x2="330.62" y2="87.50" stroke="#666" stroke-width="0.35"/>
<line x1="331.45" y1="86.60" x2="331.45" y2="87.50" stroke="#666" stroke-width="0.35"/>
<line x1="332.28" y1="86.60" x2="332.28" y2="87.50" stroke="#666" stroke-width="0.35"/>
<line x1="333.10" y1="86.60" x2="333.10" y2="88.40" stroke="#333" stroke-width="0.6"/>
<text x="331.50" y="91.80" font-size="1.9" text-anchor="start" fill="#555" stroke="#555" stroke-width="0.05">10</text>
<line x1="338.05" y1="86.60" x2="338.05" y2="87.50" stroke="#666" stroke-width="0.35"/>
<line x1="341.02" y1="86.60" x2="341.02" y2="87.50" stroke="#666" stroke-width="0.35"/>
<line x1="343.00" y1="86.60" x2="343.00" y2="87.50" stroke="#666" stroke-width="0.35"/>
<line x1="344.65" y1="86.60" x2="344.65" y2="87.50" stroke="#666" stroke-width="0.35"/>
<line x1="345.97" y1="86.60" x2="345.97" y2="87.50" stroke="#666" stroke-width="0.35"/>
<line x1="347.12" y1="86.60" x2="347.12" y2="87.50" stroke="#666" stroke-width="0.35"/>
<line x1="347.95" y1="86.60" x2="347.95" y2="87.50" stroke="#666" stroke-width="0.35"/>
<line x1="348.78" y1="86.60" x2="348.78" y2="87.50" stroke="#666" stroke-width="0.35"/>
<line x1="349.60" y1="86.60" x2="349.60" y2="88.40" stroke="#333" stroke-width="0.6"/>
<text x="348.00" y="91.80" font-size="1.9" text-anchor="start" fill="#555" stroke="#555" stroke-width="0.05">10</text>
<line x1="354.55" y1="86.60" x2="354.55" y2="87.50" stroke="#666" stroke-width="0.35"/>
<line x1="357.52" y1="86.60" x2="357.52" y2="87.50" stroke="#666" stroke-width="0.35"/>
<line x1="359.50" y1="86.60" x2="359.50" y2="87.50" stroke="#666" stroke-width="0.35"/>
<line x1="361.15" y1="86.60" x2="361.15" y2="87.50" stroke="#666" stroke-width="0.35"/>
<line x1="362.47" y1="86.60" x2="362.47" y2="87.50" stroke="#666" stroke-width="0.35"/>
<path d="M315.5 67.4h1.1v1.1h-1.1zM312.0 54.1h1.1v1.1h-1.1zM336.1 50.2h1.1v1.1h-1.1zM316.3 47.3h1.1v1.1h-1.1zM337.9 42.5h1.1v1.1h-1.1zM318.9 48.2h1.1v1.1h-1.1zM325.8 37.9h1.1v1.1h-1.1zM328.4 43.2h1.1v1.1h-1.1zM322.4 62.2h1.1v1.1h-1.1zM336.3 41.8h1.1v1.1h-1.1zM309.6 57.3h1.1v1.1h-1.1zM317.6 53.2h1.1v1.1h-1.1zM320.0 50.6h1.1v1.1h-1.1zM315.7 65.6h1.1v1.1h-1.1zM315.2 53.3h1.1v1.1h-1.1zM309.9 58.3h1.1v1.1h-1.1zM321.3 47.9h1.1v1.1h-1.1zM325.4 47.6h1.1v1.1h-1.1zM315.1 64.8h1.1v1.1h-1.1zM311.2 63.2h1.1v1.1h-1.1zM338.1 40.7h1.1v1.1h-1.1zM319.3 52.6h1.1v1.1h-1.1zM338.6 40.5h1.1v1.1h-1.1zM325.6 59.9h1.1v1.1h-1.1zM311.8 63.8h1.1v1.1h-1.1zM325.3 59.6h1.1v1.1h-1.1zM319.3 51.3h1.1v1.1h-1.1zM313.0 58.2h1.1v1.1h-1.1zM337.8 40.6h1.1v1.1h-1.1zM316.4 52.2h1.1v1.1h-1.1zM313.1 61.1h1.1v1.1h-1.1zM313.0 60.9h1.1v1.1h-1.1zM323.5 41.7h1.1v1.1h-1.1zM314.3 62.9h1.1v1.1h-1.1zM325.7 43.5h1.1v1.1h-1.1zM313.8 64.1h1.1v1.1h-1.1zM319.5 45.1h1.1v1.1h-1.1zM332.4 44.8h1.1v1.1h-1.1zM324.4 41.2h1.1v1.1h-1.1zM326.2 43.9h1.1v1.1h-1.1zM326.5 40.9h1.1v1.1h-1.1zM322.8 60.2h1.1v1.1h-1.1zM312.3 64.0h1.1v1.1h-1.1zM319.1 65.3h1.1v1.1h-1.1zM319.7 65.1h1.1v1.1h-1.1zM319.3 64.2h1.1v1.1h-1.1zM328.5 55.5h1.1v1.1h-1.1zM314.8 56.2h1.1v1.1h-1.1zM325.1 40.8h1.1v1.1h-1.1zM326.3 41.5h1.1v1.1h-1.1zM314.4 57.3h1.1v1.1h-1.1zM313.5 58.6h1.1v1.1h-1.1zM326.1 42.6h1.1v1.1h-1.1zM315.2 61.2h1.1v1.1h-1.1zM318.3 64.9h1.1v1.1h-1.1zM324.8 43.7h1.1v1.1h-1.1zM325.2 41.6h1.1v1.1h-1.1zM315.0 56.7h1.1v1.1h-1.1zM328.5 46.3h1.1v1.1h-1.1zM314.3 59.9h1.1v1.1h-1.1zM335.8 42.6h1.1v1.1h-1.1zM316.2 62.5h1.1v1.1h-1.1zM317.0 62.9h1.1v1.1h-1.1zM328.6 46.4h1.1v1.1h-1.1zM314.1 61.5h1.1v1.1h-1.1zM334.7 48.0h1.1v1.1h-1.1zM325.7 48.8h1.1v1.1h-1.1zM336.9 45.2h1.1v1.1h-1.1zM317.6 63.6h1.1v1.1h-1.1zM321.1 47.2h1.1v1.1h-1.1zM322.0 43.7h1.1v1.1h-1.1zM321.8 43.7h1.1v1.1h-1.1zM324.0 44.1h1.1v1.1h-1.1zM333.9 43.4h1.1v1.1h-1.1zM314.2 57.3h1.1v1.1h-1.1zM320.3 62.2h1.1v1.1h-1.1zM323.7 43.1h1.1v1.1h-1.1zM322.7 46.0h1.1v1.1h-1.1zM336.8 45.7h1.1v1.1h-1.1zM320.6 45.0h1.1v1.1h-1.1zM320.3 46.5h1.1v1.1h-1.1zM322.2 46.5h1.1v1.1h-1.1zM330.0 53.2h1.1v1.1h-1.1zM334.6 42.6h1.1v1.1h-1.1zM314.7 60.8h1.1v1.1h-1.1zM333.8 43.7h1.1v1.1h-1.1zM318.8 63.2h1.1v1.1h-1.1zM316.6 62.5h1.1v1.1h-1.1zM322.3 44.3h1.1v1.1h-1.1zM319.3 62.1h1.1v1.1h-1.1zM320.3 46.0h1.1v1.1h-1.1zM318.9 54.1h1.1v1.1h-1.1zM322.4 43.8h1.1v1.1h-1.1zM314.6 59.6h1.1v1.1h-1.1zM336.2 43.7h1.1v1.1h-1.1zM319.1 62.1h1.1v1.1h-1.1zM318.6 61.9h1.1v1.1h-1.1zM317.4 62.7h1.1v1.1h-1.1zM336.3 44.5h1.1v1.1h-1.1zM334.1 44.1h1.1v1.1h-1.1zM315.3 57.2h1.1v1.1h-1.1zM317.8 55.6h1.1v1.1h-1.1zM320.9 45.5h1.1v1.1h-1.1zM334.0 44.0h1.1v1.1h-1.1zM321.1 45.5h1.1v1.1h-1.1zM325.6 57.3h1.1v1.1h-1.1zM335.9 44.8h1.1v1.1h-1.1zM332.5 50.8h1.1v1.1h-1.1zM334.3 43.8h1.1v1.1h-1.1zM321.1 61.3h1.1v1.1h-1.1zM320.7 46.1h1.1v1.1h-1.1zM323.1 44.2h1.1v1.1h-1.1zM328.7 46.8h1.1v1.1h-1.1zM324.3 49.9h1.1v1.1h-1.1zM325.2 58.4h1.1v1.1h-1.1zM316.3 57.0h1.1v1.1h-1.1zM324.6 49.9h1.1v1.1h-1.1zM321.6 51.4h1.1v1.1h-1.1zM322.2 45.6h1.1v1.1h-1.1zM325.3 57.4h1.1v1.1h-1.1zM330.4 52.7h1.1v1.1h-1.1zM335.8 44.8h1.1v1.1h-1.1zM322.7 44.6h1.1v1.1h-1.1zM335.2 46.2h1.1v1.1h-1.1zM335.5 46.5h1.1v1.1h-1.1zM335.4 46.5h1.1v1.1h-1.1zM322.4 45.6h1.1v1.1h-1.1zM319.4 53.7h1.1v1.1h-1.1zM334.8 43.4h1.1v1.1h-1.1zM319.9 61.8h1.1v1.1h-1.1zM317.1 61.2h1.1v1.1h-1.1zM329.6 46.0h1.1v1.1h-1.1zM327.5 48.3h1.1v1.1h-1.1zM317.7 61.4h1.1v1.1h-1.1zM318.2 62.3h1.1v1.1h-1.1zM323.1 44.6h1.1v1.1h-1.1zM315.3 59.6h1.1v1.1h-1.1zM316.1 61.2h1.1v1.1h-1.1zM321.1 45.8h1.1v1.1h-1.1zM327.8 47.6h1.1v1.1h-1.1zM334.1 46.0h1.1v1.1h-1.1zM324.5 58.2h1.1v1.1h-1.1zM332.2 50.8h1.1v1.1h-1.1zM335.5 44.0h1.1v1.1h-1.1zM335.9 45.3h1.1v1.1h-1.1zM327.8 48.4h1.1v1.1h-1.1zM334.8 46.8h1.1v1.1h-1.1zM334.9 44.6h1.1v1.1h-1.1zM326.9 48.6h1.1v1.1h-1.1zM334.5 46.4h1.1v1.1h-1.1zM330.7 46.0h1.1v1.1h-1.1zM323.0 50.9h1.1v1.1h-1.1zM325.9 56.0h1.1v1.1h-1.1zM334.5 47.1h1.1v1.1h-1.1zM327.2 48.7h1.1v1.1h-1.1zM325.9 49.4h1.1v1.1h-1.1zM318.6 61.1h1.1v1.1h-1.1zM331.7 45.7h1.1v1.1h-1.1zM324.6 57.8h1.1v1.1h-1.1zM319.6 61.3h1.1v1.1h-1.1zM333.3 48.1h1.1v1.1h-1.1zM327.2 55.2h1.1v1.1h-1.1zM315.5 60.2h1.1v1.1h-1.1zM327.5 54.8h1.1v1.1h-1.1zM326.8 55.0h1.1v1.1h-1.1zM334.9 45.1h1.1v1.1h-1.1zM329.2 47.2h1.1v1.1h-1.1zM318.5 55.7h1.1v1.1h-1.1zM316.3 57.8h1.1v1.1h-1.1zM315.8 59.0h1.1v1.1h-1.1zM319.4 60.5h1.1v1.1h-1.1zM330.9 46.0h1.1v1.1h-1.1zM330.2 52.5h1.1v1.1h-1.1zM329.9 52.7h1.1v1.1h-1.1zM323.6 58.6h1.1v1.1h-1.1zM320.7 60.8h1.1v1.1h-1.1zM321.2 60.2h1.1v1.1h-1.1zM321.3 52.2h1.1v1.1h-1.1zM318.5 55.5h1.1v1.1h-1.1zM316.8 60.3h1.1v1.1h-1.1zM317.1 60.6h1.1v1.1h-1.1zM317.1 60.4h1.1v1.1h-1.1z" fill="#3b3ff0" opacity="0.85"/>
<path d="M325.0 57.2h1.1v1.1h-1.1zM334.3 47.2h1.1v1.1h-1.1zM315.8 58.4h1.1v1.1h-1.1zM317.2 60.2h1.1v1.1h-1.1zM321.4 52.3h1.1v1.1h-1.1zM315.8 58.7h1.1v1.1h-1.1zM324.8 57.3h1.1v1.1h-1.1zM320.1 60.5h1.1v1.1h-1.1zM325.7 49.6h1.1v1.1h-1.1zM333.5 46.4h1.1v1.1h-1.1zM333.6 47.4h1.1v1.1h-1.1zM324.0 50.6h1.1v1.1h-1.1zM331.3 46.2h1.1v1.1h-1.1zM333.4 46.6h1.1v1.1h-1.1zM322.2 51.8h1.1v1.1h-1.1zM331.9 46.2h1.1v1.1h-1.1zM332.2 46.2h1.1v1.1h-1.1zM318.8 55.2h1.1v1.1h-1.1zM332.8 47.7h1.1v1.1h-1.1zM321.6 59.4h1.1v1.1h-1.1zM332.9 47.9h1.1v1.1h-1.1zM329.4 48.1h1.1v1.1h-1.1zM330.9 51.5h1.1v1.1h-1.1zM324.0 58.0h1.1v1.1h-1.1zM330.2 46.9h1.1v1.1h-1.1zM328.3 54.0h1.1v1.1h-1.1zM330.5 51.6h1.1v1.1h-1.1zM319.9 60.3h1.1v1.1h-1.1zM316.0 59.5h1.1v1.1h-1.1zM323.0 58.4h1.1v1.1h-1.1zM332.9 47.7h1.1v1.1h-1.1zM316.1 58.5h1.1v1.1h-1.1zM321.0 53.3h1.1v1.1h-1.1zM321.8 52.3h1.1v1.1h-1.1zM323.6 58.1h1.1v1.1h-1.1zM329.0 53.3h1.1v1.1h-1.1zM317.8 59.7h1.1v1.1h-1.1zM333.2 47.0h1.1v1.1h-1.1zM332.9 47.6h1.1v1.1h-1.1zM316.5 58.0h1.1v1.1h-1.1zM323.9 50.9h1.1v1.1h-1.1zM322.7 58.4h1.1v1.1h-1.1zM320.0 60.2h1.1v1.1h-1.1zM322.4 51.7h1.1v1.1h-1.1zM328.4 53.7h1.1v1.1h-1.1zM321.6 59.4h1.1v1.1h-1.1zM327.5 54.3h1.1v1.1h-1.1zM316.3 59.7h1.1v1.1h-1.1zM325.6 55.4h1.1v1.1h-1.1zM319.3 60.0h1.1v1.1h-1.1zM316.9 57.8h1.1v1.1h-1.1zM316.5 58.4h1.1v1.1h-1.1zM317.4 59.6h1.1v1.1h-1.1zM318.7 59.8h1.1v1.1h-1.1zM321.1 53.2h1.1v1.1h-1.1zM329.7 52.1h1.1v1.1h-1.1zM327.6 54.2h1.1v1.1h-1.1zM331.5 46.4h1.1v1.1h-1.1zM321.3 59.5h1.1v1.1h-1.1zM331.2 46.4h1.1v1.1h-1.1zM331.6 50.4h1.1v1.1h-1.1zM319.1 55.0h1.1v1.1h-1.1zM318.5 56.8h1.1v1.1h-1.1zM318.1 60.0h1.1v1.1h-1.1zM320.6 59.7h1.1v1.1h-1.1zM326.0 55.1h1.1v1.1h-1.1zM321.4 52.9h1.1v1.1h-1.1zM324.3 50.7h1.1v1.1h-1.1zM320.7 54.0h1.1v1.1h-1.1zM328.7 53.1h1.1v1.1h-1.1zM325.9 55.1h1.1v1.1h-1.1zM323.2 51.5h1.1v1.1h-1.1zM330.6 46.7h1.1v1.1h-1.1zM319.7 59.7h1.1v1.1h-1.1zM331.0 51.0h1.1v1.1h-1.1zM328.8 48.3h1.1v1.1h-1.1zM320.1 54.3h1.1v1.1h-1.1zM330.2 51.3h1.1v1.1h-1.1zM330.8 50.9h1.1v1.1h-1.1zM326.7 54.4h1.1v1.1h-1.1zM332.6 47.3h1.1v1.1h-1.1zM319.2 55.1h1.1v1.1h-1.1zM317.7 58.0h1.1v1.1h-1.1zM322.4 52.3h1.1v1.1h-1.1zM318.7 56.8h1.1v1.1h-1.1zM324.7 50.8h1.1v1.1h-1.1zM320.7 59.6h1.1v1.1h-1.1zM331.9 49.6h1.1v1.1h-1.1zM330.9 47.0h1.1v1.1h-1.1zM331.4 50.0h1.1v1.1h-1.1zM331.6 49.3h1.1v1.1h-1.1zM330.0 51.3h1.1v1.1h-1.1zM327.4 49.1h1.1v1.1h-1.1zM330.0 51.4h1.1v1.1h-1.1zM324.2 57.5h1.1v1.1h-1.1zM331.2 50.6h1.1v1.1h-1.1zM317.4 57.9h1.1v1.1h-1.1zM328.8 48.4h1.1v1.1h-1.1zM318.8 56.9h1.1v1.1h-1.1zM325.2 50.6h1.1v1.1h-1.1zM330.7 47.1h1.1v1.1h-1.1zM317.0 58.2h1.1v1.1h-1.1zM316.7 59.3h1.1v1.1h-1.1zM331.8 49.4h1.1v1.1h-1.1zM322.3 58.6h1.1v1.1h-1.1zM326.3 54.6h1.1v1.1h-1.1zM330.8 47.0h1.1v1.1h-1.1zM321.0 53.5h1.1v1.1h-1.1zM318.3 58.8h1.1v1.1h-1.1zM321.1 53.9h1.1v1.1h-1.1zM323.9 51.5h1.1v1.1h-1.1zM331.6 48.9h1.1v1.1h-1.1zM331.1 47.6h1.1v1.1h-1.1zM324.5 56.4h1.1v1.1h-1.1zM329.7 51.1h1.1v1.1h-1.1zM331.0 47.6h1.1v1.1h-1.1zM329.9 51.0h1.1v1.1h-1.1zM331.4 49.3h1.1v1.1h-1.1zM317.4 59.3h1.1v1.1h-1.1zM322.5 58.3h1.1v1.1h-1.1zM331.6 49.5h1.1v1.1h-1.1z" fill="#2f6ff0" opacity="0.85"/>
<path d="M317.6 58.8h1.1v1.1h-1.1zM324.2 51.3h1.1v1.1h-1.1zM322.5 52.5h1.1v1.1h-1.1zM328.5 52.5h1.1v1.1h-1.1zM318.5 57.3h1.1v1.1h-1.1zM322.9 58.0h1.1v1.1h-1.1zM318.1 58.9h1.1v1.1h-1.1zM331.5 48.8h1.1v1.1h-1.1zM328.2 52.6h1.1v1.1h-1.1zM318.5 58.0h1.1v1.1h-1.1zM320.4 59.5h1.1v1.1h-1.1zM331.9 48.4h1.1v1.1h-1.1zM329.6 48.9h1.1v1.1h-1.1zM329.3 49.0h1.1v1.1h-1.1zM318.4 57.8h1.1v1.1h-1.1zM331.0 50.6h1.1v1.1h-1.1zM328.8 52.6h1.1v1.1h-1.1zM319.4 56.0h1.1v1.1h-1.1zM331.0 50.6h1.1v1.1h-1.1zM319.1 56.6h1.1v1.1h-1.1zM321.6 58.8h1.1v1.1h-1.1zM318.5 57.9h1.1v1.1h-1.1zM320.1 55.1h1.1v1.1h-1.1zM332.2 47.4h1.1v1.1h-1.1zM319.4 59.3h1.1v1.1h-1.1zM321.2 54.6h1.1v1.1h-1.1zM328.6 49.1h1.1v1.1h-1.1zM319.1 56.5h1.1v1.1h-1.1zM331.9 47.6h1.1v1.1h-1.1zM322.2 53.1h1.1v1.1h-1.1zM331.2 49.5h1.1v1.1h-1.1zM329.3 51.3h1.1v1.1h-1.1zM329.4 49.1h1.1v1.1h-1.1zM321.3 54.5h1.1v1.1h-1.1zM320.0 59.0h1.1v1.1h-1.1zM320.5 54.6h1.1v1.1h-1.1zM318.3 58.9h1.1v1.1h-1.1zM318.0 58.0h1.1v1.1h-1.1zM326.6 54.2h1.1v1.1h-1.1zM328.0 52.9h1.1v1.1h-1.1zM317.0 59.0h1.1v1.1h-1.1zM318.0 58.2h1.1v1.1h-1.1zM317.2 59.1h1.1v1.1h-1.1zM328.1 52.5h1.1v1.1h-1.1zM318.4 58.8h1.1v1.1h-1.1zM322.6 53.0h1.1v1.1h-1.1zM332.0 47.0h1.1v1.1h-1.1zM329.6 50.8h1.1v1.1h-1.1zM324.8 55.4h1.1v1.1h-1.1zM320.4 55.2h1.1v1.1h-1.1zM332.1 47.0h1.1v1.1h-1.1zM329.3 49.3h1.1v1.1h-1.1zM320.2 54.9h1.1v1.1h-1.1zM328.4 52.2h1.1v1.1h-1.1zM324.8 51.4h1.1v1.1h-1.1zM320.2 55.2h1.1v1.1h-1.1zM325.1 54.6h1.1v1.1h-1.1zM322.3 58.0h1.1v1.1h-1.1zM329.1 49.2h1.1v1.1h-1.1zM330.1 48.2h1.1v1.1h-1.1zM319.2 58.4h1.1v1.1h-1.1zM321.5 58.7h1.1v1.1h-1.1zM331.7 48.4h1.1v1.1h-1.1zM321.0 58.6h1.1v1.1h-1.1zM322.5 58.1h1.1v1.1h-1.1zM324.8 55.6h1.1v1.1h-1.1zM323.3 57.6h1.1v1.1h-1.1zM319.7 55.7h1.1v1.1h-1.1zM322.4 53.1h1.1v1.1h-1.1zM329.5 49.7h1.1v1.1h-1.1zM330.2 49.0h1.1v1.1h-1.1zM329.7 49.5h1.1v1.1h-1.1zM331.0 49.3h1.1v1.1h-1.1zM319.1 58.9h1.1v1.1h-1.1zM322.4 53.5h1.1v1.1h-1.1zM322.8 52.8h1.1v1.1h-1.1zM320.7 55.1h1.1v1.1h-1.1zM327.7 52.9h1.1v1.1h-1.1zM331.6 47.9h1.1v1.1h-1.1zM326.4 54.1h1.1v1.1h-1.1zM321.5 54.5h1.1v1.1h-1.1zM328.8 49.6h1.1v1.1h-1.1zM329.1 49.4h1.1v1.1h-1.1zM323.8 51.9h1.1v1.1h-1.1zM331.6 48.1h1.1v1.1h-1.1zM324.7 55.5h1.1v1.1h-1.1zM319.4 56.2h1.1v1.1h-1.1zM331.7 48.1h1.1v1.1h-1.1zM319.4 58.5h1.1v1.1h-1.1zM328.2 52.2h1.1v1.1h-1.1zM319.4 58.7h1.1v1.1h-1.1zM328.1 52.2h1.1v1.1h-1.1zM328.6 49.7h1.1v1.1h-1.1zM330.5 48.7h1.1v1.1h-1.1zM322.1 54.6h1.1v1.1h-1.1zM327.1 49.8h1.1v1.1h-1.1zM325.9 50.9h1.1v1.1h-1.1z" fill="#26b3e0" opacity="0.85"/>
<path d="M330.2 48.5h1.1v1.1h-1.1zM327.7 52.6h1.1v1.1h-1.1zM322.6 54.8h1.1v1.1h-1.1zM330.3 48.2h1.1v1.1h-1.1zM327.7 52.6h1.1v1.1h-1.1zM322.3 53.8h1.1v1.1h-1.1zM320.3 58.6h1.1v1.1h-1.1zM320.9 55.1h1.1v1.1h-1.1zM329.0 51.0h1.1v1.1h-1.1zM321.0 55.1h1.1v1.1h-1.1zM320.3 58.6h1.1v1.1h-1.1zM331.3 48.0h1.1v1.1h-1.1zM326.1 51.0h1.1v1.1h-1.1zM327.4 52.9h1.1v1.1h-1.1zM326.8 53.9h1.1v1.1h-1.1zM319.0 57.9h1.1v1.1h-1.1zM320.2 56.0h1.1v1.1h-1.1zM330.6 49.5h1.1v1.1h-1.1zM323.6 52.1h1.1v1.1h-1.1zM323.7 52.0h1.1v1.1h-1.1zM327.8 49.6h1.1v1.1h-1.1zM321.8 54.8h1.1v1.1h-1.1zM326.4 50.7h1.1v1.1h-1.1zM328.2 49.4h1.1v1.1h-1.1zM319.8 58.2h1.1v1.1h-1.1zM320.3 58.7h1.1v1.1h-1.1zM322.3 53.8h1.1v1.1h-1.1zM322.0 54.3h1.1v1.1h-1.1zM322.8 57.5h1.1v1.1h-1.1zM320.2 56.0h1.1v1.1h-1.1zM330.8 49.0h1.1v1.1h-1.1zM319.4 57.5h1.1v1.1h-1.1zM320.2 55.9h1.1v1.1h-1.1zM327.2 50.4h1.1v1.1h-1.1zM326.1 50.9h1.1v1.1h-1.1zM327.8 52.0h1.1v1.1h-1.1zM324.0 53.8h1.1v1.1h-1.1zM326.6 50.4h1.1v1.1h-1.1zM326.9 50.4h1.1v1.1h-1.1zM323.7 55.9h1.1v1.1h-1.1zM329.2 50.1h1.1v1.1h-1.1zM323.9 55.8h1.1v1.1h-1.1zM320.2 58.0h1.1v1.1h-1.1zM324.3 55.5h1.1v1.1h-1.1zM325.4 51.4h1.1v1.1h-1.1zM326.7 53.3h1.1v1.1h-1.1zM326.9 51.0h1.1v1.1h-1.1zM326.4 53.3h1.1v1.1h-1.1zM320.5 56.1h1.1v1.1h-1.1zM320.9 56.7h1.1v1.1h-1.1zM320.4 57.8h1.1v1.1h-1.1zM329.1 50.2h1.1v1.1h-1.1zM329.5 50.4h1.1v1.1h-1.1zM326.4 51.0h1.1v1.1h-1.1zM326.3 52.9h1.1v1.1h-1.1zM321.8 55.4h1.1v1.1h-1.1zM325.8 54.1h1.1v1.1h-1.1zM326.0 53.1h1.1v1.1h-1.1zM327.1 50.5h1.1v1.1h-1.1zM323.5 55.6h1.1v1.1h-1.1zM324.4 51.9h1.1v1.1h-1.1zM320.7 58.0h1.1v1.1h-1.1zM324.5 54.2h1.1v1.1h-1.1zM326.7 51.2h1.1v1.1h-1.1zM326.5 53.2h1.1v1.1h-1.1zM329.1 50.4h1.1v1.1h-1.1zM323.9 56.1h1.1v1.1h-1.1zM325.7 51.4h1.1v1.1h-1.1zM323.6 53.7h1.1v1.1h-1.1zM326.9 50.9h1.1v1.1h-1.1zM327.2 50.4h1.1v1.1h-1.1zM327.0 53.3h1.1v1.1h-1.1zM320.9 56.9h1.1v1.1h-1.1zM327.3 53.1h1.1v1.1h-1.1zM320.5 57.6h1.1v1.1h-1.1zM327.8 50.0h1.1v1.1h-1.1zM324.9 51.8h1.1v1.1h-1.1zM322.9 57.3h1.1v1.1h-1.1zM323.8 56.2h1.1v1.1h-1.1zM323.1 53.9h1.1v1.1h-1.1zM320.6 57.6h1.1v1.1h-1.1zM319.5 57.8h1.1v1.1h-1.1zM319.9 56.3h1.1v1.1h-1.1zM323.2 52.7h1.1v1.1h-1.1zM323.7 56.7h1.1v1.1h-1.1zM323.4 52.7h1.1v1.1h-1.1zM324.1 55.6h1.1v1.1h-1.1zM327.7 50.0h1.1v1.1h-1.1zM323.5 52.9h1.1v1.1h-1.1zM324.7 54.4h1.1v1.1h-1.1zM328.4 50.2h1.1v1.1h-1.1zM323.1 54.0h1.1v1.1h-1.1zM319.6 57.8h1.1v1.1h-1.1zM321.9 57.7h1.1v1.1h-1.1zM327.0 50.6h1.1v1.1h-1.1zM323.7 52.7h1.1v1.1h-1.1zM328.6 50.8h1.1v1.1h-1.1zM323.4 55.7h1.1v1.1h-1.1zM325.8 51.5h1.1v1.1h-1.1zM324.6 52.2h1.1v1.1h-1.1zM320.3 56.9h1.1v1.1h-1.1zM326.7 51.1h1.1v1.1h-1.1zM323.5 55.7h1.1v1.1h-1.1zM320.2 57.0h1.1v1.1h-1.1zM324.4 54.3h1.1v1.1h-1.1zM324.7 54.3h1.1v1.1h-1.1zM325.8 52.7h1.1v1.1h-1.1zM326.2 52.8h1.1v1.1h-1.1zM330.3 49.7h1.1v1.1h-1.1z" fill="#3fd06a" opacity="0.85"/>
<path d="M326.6 50.9h1.1v1.1h-1.1zM323.4 56.9h1.1v1.1h-1.1zM320.7 57.3h1.1v1.1h-1.1zM323.4 56.4h1.1v1.1h-1.1zM321.4 57.4h1.1v1.1h-1.1zM325.6 52.1h1.1v1.1h-1.1zM321.3 58.0h1.1v1.1h-1.1zM321.1 57.6h1.1v1.1h-1.1zM320.8 57.0h1.1v1.1h-1.1zM320.6 56.2h1.1v1.1h-1.1zM328.6 51.1h1.1v1.1h-1.1zM325.4 51.7h1.1v1.1h-1.1zM325.8 53.0h1.1v1.1h-1.1zM323.7 56.1h1.1v1.1h-1.1zM330.4 49.9h1.1v1.1h-1.1zM327.5 50.6h1.1v1.1h-1.1zM324.7 54.2h1.1v1.1h-1.1zM325.6 52.4h1.1v1.1h-1.1zM321.0 55.8h1.1v1.1h-1.1zM325.4 52.7h1.1v1.1h-1.1zM327.4 52.0h1.1v1.1h-1.1zM320.9 58.1h1.1v1.1h-1.1zM323.7 53.6h1.1v1.1h-1.1zM324.2 53.6h1.1v1.1h-1.1zM321.2 57.5h1.1v1.1h-1.1zM327.6 50.5h1.1v1.1h-1.1zM325.5 52.3h1.1v1.1h-1.1zM322.0 57.0h1.1v1.1h-1.1zM323.3 56.0h1.1v1.1h-1.1zM322.6 56.3h1.1v1.1h-1.1zM324.9 54.3h1.1v1.1h-1.1zM324.5 54.1h1.1v1.1h-1.1zM324.6 52.3h1.1v1.1h-1.1zM327.7 51.7h1.1v1.1h-1.1zM322.2 57.1h1.1v1.1h-1.1zM328.0 50.3h1.1v1.1h-1.1zM328.4 51.0h1.1v1.1h-1.1zM324.6 53.9h1.1v1.1h-1.1zM325.7 53.5h1.1v1.1h-1.1zM328.0 50.6h1.1v1.1h-1.1zM323.4 56.2h1.1v1.1h-1.1zM321.4 56.6h1.1v1.1h-1.1zM323.2 55.5h1.1v1.1h-1.1zM323.1 56.4h1.1v1.1h-1.1zM320.9 56.6h1.1v1.1h-1.1zM322.5 56.7h1.1v1.1h-1.1zM322.4 56.1h1.1v1.1h-1.1zM322.3 55.6h1.1v1.1h-1.1zM322.8 55.7h1.1v1.1h-1.1zM324.6 52.3h1.1v1.1h-1.1zM321.9 57.1h1.1v1.1h-1.1zM320.8 56.6h1.1v1.1h-1.1zM322.6 55.5h1.1v1.1h-1.1zM322.9 56.7h1.1v1.1h-1.1zM323.8 53.3h1.1v1.1h-1.1zM328.1 51.5h1.1v1.1h-1.1zM322.9 55.2h1.1v1.1h-1.1zM321.4 55.4h1.1v1.1h-1.1zM323.4 53.9h1.1v1.1h-1.1zM322.9 56.0h1.1v1.1h-1.1zM320.6 56.6h1.1v1.1h-1.1zM322.7 55.4h1.1v1.1h-1.1zM325.1 52.5h1.1v1.1h-1.1zM327.6 51.2h1.1v1.1h-1.1zM328.1 51.3h1.1v1.1h-1.1zM323.6 55.0h1.1v1.1h-1.1zM325.3 53.8h1.1v1.1h-1.1zM321.5 57.3h1.1v1.1h-1.1zM324.9 53.7h1.1v1.1h-1.1zM323.9 54.8h1.1v1.1h-1.1zM324.2 53.4h1.1v1.1h-1.1zM327.2 51.2h1.1v1.1h-1.1zM325.7 53.0h1.1v1.1h-1.1zM325.4 53.5h1.1v1.1h-1.1zM321.6 56.3h1.1v1.1h-1.1z" fill="#9ee03a" opacity="0.85"/>
<path d="M322.4 55.2h1.1v1.1h-1.1zM321.8 56.4h1.1v1.1h-1.1zM322.1 56.5h1.1v1.1h-1.1zM326.4 52.0h1.1v1.1h-1.1zM327.8 50.9h1.1v1.1h-1.1zM324.2 53.1h1.1v1.1h-1.1zM322.5 56.6h1.1v1.1h-1.1zM325.5 52.9h1.1v1.1h-1.1zM325.2 53.7h1.1v1.1h-1.1zM325.5 53.6h1.1v1.1h-1.1zM327.3 51.5h1.1v1.1h-1.1zM323.4 54.2h1.1v1.1h-1.1zM323.3 55.0h1.1v1.1h-1.1zM322.6 55.3h1.1v1.1h-1.1zM324.2 53.1h1.1v1.1h-1.1zM324.5 52.9h1.1v1.1h-1.1zM322.3 56.7h1.1v1.1h-1.1z" fill="#f2c21c" opacity="0.85"/>
<path d="M324.4 52.8h1.1v1.1h-1.1zM324.6 53.0h1.1v1.1h-1.1zM326.8 52.1h1.1v1.1h-1.1zM326.8 51.8h1.1v1.1h-1.1z" fill="#f07a1a" opacity="0.85"/>
<ellipse cx="324.50" cy="40.50" rx="6.8" ry="3.3" transform="rotate(-30 324.50 40.50)" fill="none" stroke="#333" stroke-width="0.7"/>
<ellipse cx="330.70" cy="50.20" rx="8.7" ry="3.1" transform="rotate(-41 330.70 50.20)" fill="none" stroke="#333" stroke-width="0.7"/>
<text x="311.80" y="29.30" font-size="2.8" text-anchor="start" fill="#111" stroke="#111" stroke-width="0.05">M1</text>
<text x="311.80" y="33.90" font-size="2.8" text-anchor="start" fill="#111" stroke="#111" stroke-width="0.05">2.46</text>
<text x="338.80" y="56.20" font-size="2.8" text-anchor="start" fill="#111" stroke="#111" stroke-width="0.05">M2</text>
<text x="338.80" y="60.80" font-size="2.8" text-anchor="start" fill="#111" stroke="#111" stroke-width="0.05">50.4</text>
<rect x="378.30" y="19.00" width="67.30" height="68.40" fill="#fff" stroke="#cfcfcf" stroke-width="0.6"/>
<line x1="378.30" y1="19.00" x2="378.30" y2="87.40" stroke="#333" stroke-width="0.8"/>
<line x1="378.30" y1="87.40" x2="445.60" y2="87.40" stroke="#333" stroke-width="0.8"/>
<line x1="376.50" y1="21.20" x2="378.30" y2="21.20" stroke="#333" stroke-width="0.6"/>
<text x="372.10" y="22.10" font-size="1.9" text-anchor="start" fill="#555" stroke="#555" stroke-width="0.05">10</text>
<line x1="377.40" y1="24.00" x2="378.30" y2="24.00" stroke="#666" stroke-width="0.35"/>
<line x1="377.40" y1="26.34" x2="378.30" y2="26.34" stroke="#666" stroke-width="0.35"/>
<line x1="377.40" y1="28.21" x2="378.30" y2="28.21" stroke="#666" stroke-width="0.35"/>
<line x1="376.50" y1="30.55" x2="378.30" y2="30.55" stroke="#333" stroke-width="0.6"/>
<text x="372.10" y="31.45" font-size="1.9" text-anchor="start" fill="#555" stroke="#555" stroke-width="0.05">10</text>
<line x1="377.40" y1="33.35" x2="378.30" y2="33.35" stroke="#666" stroke-width="0.35"/>
<line x1="377.40" y1="35.69" x2="378.30" y2="35.69" stroke="#666" stroke-width="0.35"/>
<line x1="377.40" y1="37.56" x2="378.30" y2="37.56" stroke="#666" stroke-width="0.35"/>
<line x1="376.50" y1="39.90" x2="378.30" y2="39.90" stroke="#333" stroke-width="0.6"/>
<text x="372.10" y="40.80" font-size="1.9" text-anchor="start" fill="#555" stroke="#555" stroke-width="0.05">10</text>
<line x1="377.40" y1="42.70" x2="378.30" y2="42.70" stroke="#666" stroke-width="0.35"/>
<line x1="377.40" y1="45.04" x2="378.30" y2="45.04" stroke="#666" stroke-width="0.35"/>
<line x1="377.40" y1="46.91" x2="378.30" y2="46.91" stroke="#666" stroke-width="0.35"/>
<line x1="376.50" y1="49.25" x2="378.30" y2="49.25" stroke="#333" stroke-width="0.6"/>
<text x="372.10" y="50.15" font-size="1.9" text-anchor="start" fill="#555" stroke="#555" stroke-width="0.05">10</text>
<line x1="377.40" y1="52.05" x2="378.30" y2="52.05" stroke="#666" stroke-width="0.35"/>
<line x1="377.40" y1="54.39" x2="378.30" y2="54.39" stroke="#666" stroke-width="0.35"/>
<line x1="377.40" y1="56.26" x2="378.30" y2="56.26" stroke="#666" stroke-width="0.35"/>
<line x1="376.50" y1="58.60" x2="378.30" y2="58.60" stroke="#333" stroke-width="0.6"/>
<text x="372.10" y="59.50" font-size="1.9" text-anchor="start" fill="#555" stroke="#555" stroke-width="0.05">10</text>
<line x1="377.40" y1="61.40" x2="378.30" y2="61.40" stroke="#666" stroke-width="0.35"/>
<line x1="377.40" y1="63.74" x2="378.30" y2="63.74" stroke="#666" stroke-width="0.35"/>
<line x1="377.40" y1="65.61" x2="378.30" y2="65.61" stroke="#666" stroke-width="0.35"/>
<line x1="376.50" y1="67.95" x2="378.30" y2="67.95" stroke="#333" stroke-width="0.6"/>
<text x="372.10" y="68.85" font-size="1.9" text-anchor="start" fill="#555" stroke="#555" stroke-width="0.05">10</text>
<line x1="377.40" y1="70.75" x2="378.30" y2="70.75" stroke="#666" stroke-width="0.35"/>
<line x1="377.40" y1="73.09" x2="378.30" y2="73.09" stroke="#666" stroke-width="0.35"/>
<line x1="377.40" y1="74.96" x2="378.30" y2="74.96" stroke="#666" stroke-width="0.35"/>
<line x1="376.50" y1="77.30" x2="378.30" y2="77.30" stroke="#333" stroke-width="0.6"/>
<text x="372.10" y="78.20" font-size="1.9" text-anchor="start" fill="#555" stroke="#555" stroke-width="0.05">10</text>
<line x1="377.40" y1="80.10" x2="378.30" y2="80.10" stroke="#666" stroke-width="0.35"/>
<line x1="377.40" y1="82.44" x2="378.30" y2="82.44" stroke="#666" stroke-width="0.35"/>
<line x1="377.40" y1="84.31" x2="378.30" y2="84.31" stroke="#666" stroke-width="0.35"/>
<line x1="376.50" y1="86.65" x2="378.30" y2="86.65" stroke="#333" stroke-width="0.6"/>
<text x="372.10" y="87.55" font-size="1.9" text-anchor="start" fill="#555" stroke="#555" stroke-width="0.05">10</text>
<line x1="382.90" y1="87.40" x2="382.90" y2="89.20" stroke="#333" stroke-width="0.6"/>
<text x="381.30" y="92.60" font-size="1.9" text-anchor="start" fill="#555" stroke="#555" stroke-width="0.05">10</text>
<line x1="387.85" y1="87.40" x2="387.85" y2="88.30" stroke="#666" stroke-width="0.35"/>
<line x1="390.82" y1="87.40" x2="390.82" y2="88.30" stroke="#666" stroke-width="0.35"/>
<line x1="392.80" y1="87.40" x2="392.80" y2="88.30" stroke="#666" stroke-width="0.35"/>
<line x1="394.45" y1="87.40" x2="394.45" y2="88.30" stroke="#666" stroke-width="0.35"/>
<line x1="395.77" y1="87.40" x2="395.77" y2="88.30" stroke="#666" stroke-width="0.35"/>
<line x1="396.93" y1="87.40" x2="396.93" y2="88.30" stroke="#666" stroke-width="0.35"/>
<line x1="397.75" y1="87.40" x2="397.75" y2="88.30" stroke="#666" stroke-width="0.35"/>
<line x1="398.58" y1="87.40" x2="398.58" y2="88.30" stroke="#666" stroke-width="0.35"/>
<line x1="399.40" y1="87.40" x2="399.40" y2="89.20" stroke="#333" stroke-width="0.6"/>
<text x="397.80" y="92.60" font-size="1.9" text-anchor="start" fill="#555" stroke="#555" stroke-width="0.05">10</text>
<line x1="404.35" y1="87.40" x2="404.35" y2="88.30" stroke="#666" stroke-width="0.35"/>
<line x1="407.32" y1="87.40" x2="407.32" y2="88.30" stroke="#666" stroke-width="0.35"/>
<line x1="409.30" y1="87.40" x2="409.30" y2="88.30" stroke="#666" stroke-width="0.35"/>
<line x1="410.95" y1="87.40" x2="410.95" y2="88.30" stroke="#666" stroke-width="0.35"/>
<line x1="412.27" y1="87.40" x2="412.27" y2="88.30" stroke="#666" stroke-width="0.35"/>
<line x1="413.43" y1="87.40" x2="413.43" y2="88.30" stroke="#666" stroke-width="0.35"/>
<line x1="414.25" y1="87.40" x2="414.25" y2="88.30" stroke="#666" stroke-width="0.35"/>
<line x1="415.08" y1="87.40" x2="415.08" y2="88.30" stroke="#666" stroke-width="0.35"/>
<line x1="415.90" y1="87.40" x2="415.90" y2="89.20" stroke="#333" stroke-width="0.6"/>
<text x="414.30" y="92.60" font-size="1.9" text-anchor="start" fill="#555" stroke="#555" stroke-width="0.05">10</text>
<line x1="420.85" y1="87.40" x2="420.85" y2="88.30" stroke="#666" stroke-width="0.35"/>
<line x1="423.82" y1="87.40" x2="423.82" y2="88.30" stroke="#666" stroke-width="0.35"/>
<line x1="425.80" y1="87.40" x2="425.80" y2="88.30" stroke="#666" stroke-width="0.35"/>
<line x1="427.45" y1="87.40" x2="427.45" y2="88.30" stroke="#666" stroke-width="0.35"/>
<line x1="428.77" y1="87.40" x2="428.77" y2="88.30" stroke="#666" stroke-width="0.35"/>
<line x1="429.93" y1="87.40" x2="429.93" y2="88.30" stroke="#666" stroke-width="0.35"/>
<line x1="430.75" y1="87.40" x2="430.75" y2="88.30" stroke="#666" stroke-width="0.35"/>
<line x1="431.58" y1="87.40" x2="431.58" y2="88.30" stroke="#666" stroke-width="0.35"/>
<line x1="432.40" y1="87.40" x2="432.40" y2="89.20" stroke="#333" stroke-width="0.6"/>
<text x="430.80" y="92.60" font-size="1.9" text-anchor="start" fill="#555" stroke="#555" stroke-width="0.05">10</text>
<line x1="437.35" y1="87.40" x2="437.35" y2="88.30" stroke="#666" stroke-width="0.35"/>
<line x1="440.32" y1="87.40" x2="440.32" y2="88.30" stroke="#666" stroke-width="0.35"/>
<line x1="442.30" y1="87.40" x2="442.30" y2="88.30" stroke="#666" stroke-width="0.35"/>
<line x1="443.95" y1="87.40" x2="443.95" y2="88.30" stroke="#666" stroke-width="0.35"/>
<line x1="445.27" y1="87.40" x2="445.27" y2="88.30" stroke="#666" stroke-width="0.35"/>
<path d="M389.9 60.9h1.1v1.1h-1.1zM390.2 69.5h1.1v1.1h-1.1zM390.9 67.4h1.1v1.1h-1.1zM393.6 51.2h1.1v1.1h-1.1zM420.9 51.1h1.1v1.1h-1.1zM388.6 73.0h1.1v1.1h-1.1zM392.5 58.0h1.1v1.1h-1.1zM411.3 37.0h1.1v1.1h-1.1zM423.5 45.1h1.1v1.1h-1.1zM391.6 59.4h1.1v1.1h-1.1zM416.0 44.2h1.1v1.1h-1.1zM410.8 42.5h1.1v1.1h-1.1zM404.7 58.8h1.1v1.1h-1.1zM398.9 46.1h1.1v1.1h-1.1zM403.9 60.4h1.1v1.1h-1.1zM407.7 39.3h1.1v1.1h-1.1zM405.2 60.9h1.1v1.1h-1.1zM387.8 66.5h1.1v1.1h-1.1zM398.4 49.5h1.1v1.1h-1.1zM413.5 47.9h1.1v1.1h-1.1zM398.7 46.7h1.1v1.1h-1.1zM398.9 66.0h1.1v1.1h-1.1zM388.9 67.5h1.1v1.1h-1.1zM414.7 45.2h1.1v1.1h-1.1zM393.4 59.4h1.1v1.1h-1.1zM393.8 56.6h1.1v1.1h-1.1zM413.8 47.6h1.1v1.1h-1.1zM402.8 62.5h1.1v1.1h-1.1zM400.1 49.3h1.1v1.1h-1.1zM402.1 45.5h1.1v1.1h-1.1zM414.5 41.9h1.1v1.1h-1.1zM409.1 40.3h1.1v1.1h-1.1zM395.6 65.8h1.1v1.1h-1.1zM406.0 38.9h1.1v1.1h-1.1zM401.3 62.6h1.1v1.1h-1.1zM393.2 62.1h1.1v1.1h-1.1zM408.3 39.4h1.1v1.1h-1.1zM404.3 39.0h1.1v1.1h-1.1zM410.1 42.0h1.1v1.1h-1.1zM401.8 47.0h1.1v1.1h-1.1zM402.5 43.3h1.1v1.1h-1.1zM401.4 43.5h1.1v1.1h-1.1zM403.7 41.3h1.1v1.1h-1.1zM406.5 57.0h1.1v1.1h-1.1zM396.0 51.0h1.1v1.1h-1.1zM414.9 44.3h1.1v1.1h-1.1zM395.9 51.5h1.1v1.1h-1.1zM408.6 41.6h1.1v1.1h-1.1zM397.9 64.7h1.1v1.1h-1.1zM413.8 42.9h1.1v1.1h-1.1zM405.6 39.7h1.1v1.1h-1.1zM394.6 66.0h1.1v1.1h-1.1zM393.3 65.3h1.1v1.1h-1.1zM393.4 62.7h1.1v1.1h-1.1zM405.6 39.9h1.1v1.1h-1.1zM413.3 43.5h1.1v1.1h-1.1zM412.9 46.1h1.1v1.1h-1.1zM413.9 43.2h1.1v1.1h-1.1zM399.5 50.0h1.1v1.1h-1.1zM394.1 65.8h1.1v1.1h-1.1zM394.5 60.8h1.1v1.1h-1.1zM398.9 64.6h1.1v1.1h-1.1zM408.4 54.4h1.1v1.1h-1.1zM396.7 64.3h1.1v1.1h-1.1zM407.2 41.7h1.1v1.1h-1.1zM397.2 50.6h1.1v1.1h-1.1zM408.3 54.7h1.1v1.1h-1.1zM403.6 47.5h1.1v1.1h-1.1zM404.1 46.3h1.1v1.1h-1.1zM412.6 44.5h1.1v1.1h-1.1zM397.1 50.8h1.1v1.1h-1.1zM406.5 55.1h1.1v1.1h-1.1zM393.9 64.3h1.1v1.1h-1.1zM396.6 54.8h1.1v1.1h-1.1zM402.1 49.1h1.1v1.1h-1.1zM406.6 41.7h1.1v1.1h-1.1zM405.9 41.6h1.1v1.1h-1.1zM408.8 52.6h1.1v1.1h-1.1zM403.2 48.2h1.1v1.1h-1.1zM412.2 43.9h1.1v1.1h-1.1zM407.5 44.3h1.1v1.1h-1.1zM395.0 60.5h1.1v1.1h-1.1zM408.3 53.8h1.1v1.1h-1.1zM405.0 56.9h1.1v1.1h-1.1zM412.7 45.2h1.1v1.1h-1.1zM394.4 58.8h1.1v1.1h-1.1zM394.2 63.5h1.1v1.1h-1.1zM402.4 48.0h1.1v1.1h-1.1zM405.6 47.1h1.1v1.1h-1.1zM399.9 50.9h1.1v1.1h-1.1zM395.3 63.1h1.1v1.1h-1.1zM408.0 53.9h1.1v1.1h-1.1zM396.9 54.1h1.1v1.1h-1.1zM411.1 47.5h1.1v1.1h-1.1zM394.9 63.7h1.1v1.1h-1.1zM408.2 53.2h1.1v1.1h-1.1zM395.9 56.3h1.1v1.1h-1.1zM394.8 61.9h1.1v1.1h-1.1zM408.6 44.4h1.1v1.1h-1.1zM399.4 63.8h1.1v1.1h-1.1zM394.4 57.7h1.1v1.1h-1.1zM403.7 58.4h1.1v1.1h-1.1zM401.7 61.0h1.1v1.1h-1.1zM410.8 44.5h1.1v1.1h-1.1zM395.3 63.7h1.1v1.1h-1.1zM402.9 43.7h1.1v1.1h-1.1zM406.8 54.6h1.1v1.1h-1.1zM401.8 60.9h1.1v1.1h-1.1zM395.8 56.6h1.1v1.1h-1.1zM410.4 44.6h1.1v1.1h-1.1zM402.8 49.2h1.1v1.1h-1.1zM397.1 53.8h1.1v1.1h-1.1zM401.1 60.9h1.1v1.1h-1.1zM406.1 55.6h1.1v1.1h-1.1zM409.9 50.7h1.1v1.1h-1.1zM408.2 52.5h1.1v1.1h-1.1zM404.2 45.4h1.1v1.1h-1.1zM406.5 42.6h1.1v1.1h-1.1zM406.3 45.5h1.1v1.1h-1.1zM403.9 56.8h1.1v1.1h-1.1zM399.7 62.2h1.1v1.1h-1.1zM411.1 47.1h1.1v1.1h-1.1zM394.7 58.3h1.1v1.1h-1.1zM398.0 52.4h1.1v1.1h-1.1zM409.5 51.0h1.1v1.1h-1.1zM405.9 55.9h1.1v1.1h-1.1zM397.1 55.3h1.1v1.1h-1.1zM409.4 51.5h1.1v1.1h-1.1zM395.6 60.1h1.1v1.1h-1.1zM395.4 56.9h1.1v1.1h-1.1zM404.4 48.4h1.1v1.1h-1.1zM406.1 46.8h1.1v1.1h-1.1zM410.8 47.0h1.1v1.1h-1.1zM406.7 44.3h1.1v1.1h-1.1zM396.6 56.8h1.1v1.1h-1.1zM397.9 51.8h1.1v1.1h-1.1zM403.3 57.2h1.1v1.1h-1.1zM395.3 59.0h1.1v1.1h-1.1zM397.7 52.4h1.1v1.1h-1.1zM398.1 51.3h1.1v1.1h-1.1zM397.9 52.8h1.1v1.1h-1.1zM399.0 51.6h1.1v1.1h-1.1zM403.2 48.7h1.1v1.1h-1.1zM395.7 60.2h1.1v1.1h-1.1zM398.7 51.3h1.1v1.1h-1.1zM411.1 46.9h1.1v1.1h-1.1zM401.9 60.3h1.1v1.1h-1.1zM396.0 57.3h1.1v1.1h-1.1zM402.4 59.7h1.1v1.1h-1.1zM401.9 60.2h1.1v1.1h-1.1zM395.0 57.9h1.1v1.1h-1.1zM411.0 45.6h1.1v1.1h-1.1zM395.1 57.8h1.1v1.1h-1.1zM411.1 48.2h1.1v1.1h-1.1zM411.8 45.3h1.1v1.1h-1.1zM404.4 45.1h1.1v1.1h-1.1zM399.8 62.5h1.1v1.1h-1.1zM397.7 55.0h1.1v1.1h-1.1zM395.4 62.4h1.1v1.1h-1.1zM411.1 46.2h1.1v1.1h-1.1zM399.5 63.1h1.1v1.1h-1.1zM398.6 63.8h1.1v1.1h-1.1zM405.1 42.3h1.1v1.1h-1.1zM406.4 45.1h1.1v1.1h-1.1zM411.6 45.4h1.1v1.1h-1.1zM411.1 45.6h1.1v1.1h-1.1zM404.3 45.0h1.1v1.1h-1.1zM409.1 45.3h1.1v1.1h-1.1zM405.5 42.7h1.1v1.1h-1.1zM405.8 45.2h1.1v1.1h-1.1zM409.8 50.2h1.1v1.1h-1.1z" fill="#3b3ff0" opacity="0.85"/>
<path d="M400.0 51.8h1.1v1.1h-1.1zM410.3 45.6h1.1v1.1h-1.1zM407.1 45.9h1.1v1.1h-1.1zM399.7 61.0h1.1v1.1h-1.1zM402.9 57.7h1.1v1.1h-1.1zM407.9 44.8h1.1v1.1h-1.1zM411.5 45.7h1.1v1.1h-1.1zM402.5 58.9h1.1v1.1h-1.1zM399.6 62.6h1.1v1.1h-1.1zM408.6 45.5h1.1v1.1h-1.1zM398.1 55.5h1.1v1.1h-1.1zM402.9 57.2h1.1v1.1h-1.1zM410.7 47.5h1.1v1.1h-1.1zM398.1 53.5h1.1v1.1h-1.1zM404.8 44.9h1.1v1.1h-1.1zM410.3 46.4h1.1v1.1h-1.1zM398.1 54.0h1.1v1.1h-1.1zM395.8 57.5h1.1v1.1h-1.1zM404.6 43.2h1.1v1.1h-1.1zM410.0 48.6h1.1v1.1h-1.1zM401.8 59.7h1.1v1.1h-1.1zM402.7 50.1h1.1v1.1h-1.1zM405.4 47.8h1.1v1.1h-1.1zM405.6 55.1h1.1v1.1h-1.1zM404.2 42.8h1.1v1.1h-1.1zM398.9 52.1h1.1v1.1h-1.1zM409.6 50.2h1.1v1.1h-1.1zM404.1 42.8h1.1v1.1h-1.1zM405.8 44.4h1.1v1.1h-1.1zM408.8 45.8h1.1v1.1h-1.1zM402.2 58.2h1.1v1.1h-1.1zM396.0 62.6h1.1v1.1h-1.1zM398.3 56.4h1.1v1.1h-1.1zM396.2 62.8h1.1v1.1h-1.1zM408.8 46.0h1.1v1.1h-1.1zM409.6 50.1h1.1v1.1h-1.1zM407.6 45.3h1.1v1.1h-1.1zM406.1 54.6h1.1v1.1h-1.1zM402.0 58.6h1.1v1.1h-1.1zM395.8 57.9h1.1v1.1h-1.1zM409.7 48.2h1.1v1.1h-1.1zM402.3 57.9h1.1v1.1h-1.1zM399.1 62.2h1.1v1.1h-1.1zM398.1 62.9h1.1v1.1h-1.1zM404.1 43.8h1.1v1.1h-1.1zM404.7 43.5h1.1v1.1h-1.1zM409.6 48.2h1.1v1.1h-1.1zM409.1 46.6h1.1v1.1h-1.1zM396.1 60.5h1.1v1.1h-1.1zM399.2 52.1h1.1v1.1h-1.1zM398.9 52.3h1.1v1.1h-1.1zM409.7 48.3h1.1v1.1h-1.1zM409.6 50.1h1.1v1.1h-1.1zM405.3 43.3h1.1v1.1h-1.1zM405.2 43.2h1.1v1.1h-1.1zM407.6 45.5h1.1v1.1h-1.1zM399.2 61.2h1.1v1.1h-1.1zM404.8 44.3h1.1v1.1h-1.1zM398.5 62.8h1.1v1.1h-1.1zM398.2 62.9h1.1v1.1h-1.1zM408.0 46.3h1.1v1.1h-1.1zM397.9 62.8h1.1v1.1h-1.1zM404.9 55.5h1.1v1.1h-1.1zM407.8 46.1h1.1v1.1h-1.1zM406.5 53.4h1.1v1.1h-1.1zM401.1 59.8h1.1v1.1h-1.1zM397.6 57.5h1.1v1.1h-1.1zM396.5 61.8h1.1v1.1h-1.1zM404.1 44.2h1.1v1.1h-1.1zM405.4 43.4h1.1v1.1h-1.1zM400.7 59.8h1.1v1.1h-1.1zM396.5 61.8h1.1v1.1h-1.1zM397.8 62.7h1.1v1.1h-1.1zM404.1 55.8h1.1v1.1h-1.1zM398.5 55.5h1.1v1.1h-1.1zM404.3 44.1h1.1v1.1h-1.1zM409.6 48.5h1.1v1.1h-1.1zM402.5 57.0h1.1v1.1h-1.1zM405.3 44.1h1.1v1.1h-1.1zM399.4 60.3h1.1v1.1h-1.1zM404.3 43.8h1.1v1.1h-1.1zM407.9 51.4h1.1v1.1h-1.1zM397.0 57.8h1.1v1.1h-1.1zM403.7 56.3h1.1v1.1h-1.1zM402.7 51.0h1.1v1.1h-1.1zM397.1 58.4h1.1v1.1h-1.1zM407.6 46.2h1.1v1.1h-1.1zM397.7 58.0h1.1v1.1h-1.1zM401.2 59.4h1.1v1.1h-1.1zM409.2 47.1h1.1v1.1h-1.1zM397.3 58.6h1.1v1.1h-1.1zM409.7 48.8h1.1v1.1h-1.1zM396.0 58.9h1.1v1.1h-1.1zM397.2 57.9h1.1v1.1h-1.1zM405.4 43.7h1.1v1.1h-1.1zM396.6 61.3h1.1v1.1h-1.1zM398.6 55.2h1.1v1.1h-1.1zM398.8 61.9h1.1v1.1h-1.1zM401.9 52.4h1.1v1.1h-1.1zM409.6 48.1h1.1v1.1h-1.1zM396.1 59.0h1.1v1.1h-1.1zM398.2 54.7h1.1v1.1h-1.1zM400.2 52.8h1.1v1.1h-1.1zM407.6 46.7h1.1v1.1h-1.1zM398.2 62.6h1.1v1.1h-1.1zM397.1 62.8h1.1v1.1h-1.1zM397.1 59.2h1.1v1.1h-1.1zM398.1 62.3h1.1v1.1h-1.1zM401.8 58.8h1.1v1.1h-1.1zM405.7 48.4h1.1v1.1h-1.1zM396.7 61.8h1.1v1.1h-1.1zM398.8 61.9h1.1v1.1h-1.1zM406.5 52.7h1.1v1.1h-1.1zM406.2 52.7h1.1v1.1h-1.1z" fill="#2f6ff0" opacity="0.85"/>
<path d="M397.0 62.0h1.1v1.1h-1.1zM396.5 61.3h1.1v1.1h-1.1zM396.3 61.5h1.1v1.1h-1.1zM398.8 56.5h1.1v1.1h-1.1zM405.9 52.5h1.1v1.1h-1.1zM407.5 51.2h1.1v1.1h-1.1zM397.1 61.1h1.1v1.1h-1.1zM402.0 52.5h1.1v1.1h-1.1zM406.4 47.6h1.1v1.1h-1.1zM399.2 54.1h1.1v1.1h-1.1zM397.2 62.6h1.1v1.1h-1.1zM399.0 54.3h1.1v1.1h-1.1zM397.7 60.4h1.1v1.1h-1.1zM396.9 61.8h1.1v1.1h-1.1zM406.9 52.2h1.1v1.1h-1.1zM407.1 52.1h1.1v1.1h-1.1zM403.5 49.9h1.1v1.1h-1.1zM398.9 56.7h1.1v1.1h-1.1zM397.5 58.7h1.1v1.1h-1.1zM398.6 60.8h1.1v1.1h-1.1zM401.9 57.4h1.1v1.1h-1.1zM397.3 59.4h1.1v1.1h-1.1zM400.1 53.1h1.1v1.1h-1.1zM399.6 53.3h1.1v1.1h-1.1zM398.8 60.1h1.1v1.1h-1.1zM406.0 52.7h1.1v1.1h-1.1zM399.3 53.8h1.1v1.1h-1.1zM399.7 55.0h1.1v1.1h-1.1zM399.3 53.8h1.1v1.1h-1.1zM397.6 58.8h1.1v1.1h-1.1zM400.2 55.5h1.1v1.1h-1.1zM408.8 49.9h1.1v1.1h-1.1zM398.5 60.3h1.1v1.1h-1.1zM402.5 52.0h1.1v1.1h-1.1zM397.5 60.4h1.1v1.1h-1.1zM403.9 49.7h1.1v1.1h-1.1zM399.8 55.2h1.1v1.1h-1.1zM409.1 47.4h1.1v1.1h-1.1zM403.0 51.2h1.1v1.1h-1.1zM405.0 49.0h1.1v1.1h-1.1zM409.5 48.9h1.1v1.1h-1.1zM399.5 55.5h1.1v1.1h-1.1zM408.1 46.9h1.1v1.1h-1.1zM408.3 50.7h1.1v1.1h-1.1zM400.0 56.3h1.1v1.1h-1.1zM398.1 60.5h1.1v1.1h-1.1zM406.6 52.0h1.1v1.1h-1.1zM397.9 59.9h1.1v1.1h-1.1zM405.7 48.8h1.1v1.1h-1.1zM403.7 55.2h1.1v1.1h-1.1zM401.3 57.6h1.1v1.1h-1.1zM401.6 56.6h1.1v1.1h-1.1zM408.0 47.4h1.1v1.1h-1.1zM399.4 54.6h1.1v1.1h-1.1zM399.9 56.6h1.1v1.1h-1.1zM396.8 60.3h1.1v1.1h-1.1zM401.6 56.2h1.1v1.1h-1.1zM408.0 47.4h1.1v1.1h-1.1zM408.6 50.0h1.1v1.1h-1.1zM398.2 57.5h1.1v1.1h-1.1zM400.6 59.3h1.1v1.1h-1.1zM407.4 51.0h1.1v1.1h-1.1zM401.2 58.6h1.1v1.1h-1.1zM400.0 53.1h1.1v1.1h-1.1zM407.3 47.8h1.1v1.1h-1.1zM402.2 56.6h1.1v1.1h-1.1zM401.4 57.5h1.1v1.1h-1.1zM402.6 51.7h1.1v1.1h-1.1zM397.4 61.6h1.1v1.1h-1.1zM400.2 53.3h1.1v1.1h-1.1zM407.2 51.3h1.1v1.1h-1.1zM404.7 55.0h1.1v1.1h-1.1zM407.4 47.5h1.1v1.1h-1.1zM403.4 55.0h1.1v1.1h-1.1zM399.6 56.0h1.1v1.1h-1.1zM399.3 55.3h1.1v1.1h-1.1zM401.9 56.0h1.1v1.1h-1.1zM407.9 47.5h1.1v1.1h-1.1zM401.9 56.2h1.1v1.1h-1.1zM402.7 56.0h1.1v1.1h-1.1zM399.5 54.6h1.1v1.1h-1.1zM404.5 50.0h1.1v1.1h-1.1zM403.3 51.1h1.1v1.1h-1.1zM401.5 55.7h1.1v1.1h-1.1zM401.5 56.5h1.1v1.1h-1.1zM406.4 48.4h1.1v1.1h-1.1zM407.6 50.3h1.1v1.1h-1.1zM400.3 56.8h1.1v1.1h-1.1zM398.7 57.5h1.1v1.1h-1.1zM403.0 55.4h1.1v1.1h-1.1zM399.8 53.8h1.1v1.1h-1.1zM397.5 59.3h1.1v1.1h-1.1z" fill="#26b3e0" opacity="0.85"/>
<path d="M400.2 53.4h1.1v1.1h-1.1zM400.7 53.1h1.1v1.1h-1.1zM401.9 55.7h1.1v1.1h-1.1zM403.2 50.6h1.1v1.1h-1.1zM401.5 55.7h1.1v1.1h-1.1zM399.0 59.8h1.1v1.1h-1.1zM397.6 61.4h1.1v1.1h-1.1zM406.1 48.9h1.1v1.1h-1.1zM405.5 53.5h1.1v1.1h-1.1zM398.0 59.6h1.1v1.1h-1.1zM401.5 53.0h1.1v1.1h-1.1zM399.7 54.7h1.1v1.1h-1.1zM408.5 49.5h1.1v1.1h-1.1zM407.6 48.1h1.1v1.1h-1.1zM401.1 55.4h1.1v1.1h-1.1zM404.3 49.6h1.1v1.1h-1.1zM406.7 48.0h1.1v1.1h-1.1zM403.3 54.8h1.1v1.1h-1.1zM404.4 49.7h1.1v1.1h-1.1zM408.0 50.4h1.1v1.1h-1.1zM397.9 59.8h1.1v1.1h-1.1zM406.1 52.1h1.1v1.1h-1.1zM405.1 54.0h1.1v1.1h-1.1zM406.2 49.0h1.1v1.1h-1.1zM408.1 49.1h1.1v1.1h-1.1zM405.7 52.1h1.1v1.1h-1.1zM408.0 48.0h1.1v1.1h-1.1zM398.2 60.1h1.1v1.1h-1.1zM401.1 58.0h1.1v1.1h-1.1zM407.4 50.2h1.1v1.1h-1.1zM402.7 52.4h1.1v1.1h-1.1zM404.8 54.7h1.1v1.1h-1.1zM400.6 56.7h1.1v1.1h-1.1zM400.4 59.1h1.1v1.1h-1.1zM405.1 54.3h1.1v1.1h-1.1zM405.7 51.9h1.1v1.1h-1.1zM403.4 51.6h1.1v1.1h-1.1zM399.5 59.9h1.1v1.1h-1.1zM408.0 48.4h1.1v1.1h-1.1zM401.9 55.5h1.1v1.1h-1.1zM403.9 55.0h1.1v1.1h-1.1zM405.2 54.1h1.1v1.1h-1.1zM407.6 48.3h1.1v1.1h-1.1zM399.2 57.2h1.1v1.1h-1.1zM402.2 53.1h1.1v1.1h-1.1zM401.8 53.6h1.1v1.1h-1.1zM404.5 49.8h1.1v1.1h-1.1zM405.4 53.2h1.1v1.1h-1.1zM404.6 50.2h1.1v1.1h-1.1zM405.1 49.9h1.1v1.1h-1.1zM400.5 57.1h1.1v1.1h-1.1zM403.5 50.6h1.1v1.1h-1.1zM398.5 59.5h1.1v1.1h-1.1zM399.3 57.4h1.1v1.1h-1.1zM405.5 51.8h1.1v1.1h-1.1zM397.9 61.7h1.1v1.1h-1.1zM404.7 50.3h1.1v1.1h-1.1zM401.8 55.3h1.1v1.1h-1.1zM402.0 53.6h1.1v1.1h-1.1zM402.4 52.9h1.1v1.1h-1.1zM399.9 59.0h1.1v1.1h-1.1zM402.9 55.2h1.1v1.1h-1.1zM401.2 53.2h1.1v1.1h-1.1zM399.9 57.2h1.1v1.1h-1.1zM400.0 58.9h1.1v1.1h-1.1zM401.4 54.7h1.1v1.1h-1.1zM408.6 48.5h1.1v1.1h-1.1zM403.7 54.8h1.1v1.1h-1.1zM405.9 49.1h1.1v1.1h-1.1zM400.0 57.1h1.1v1.1h-1.1zM405.6 51.8h1.1v1.1h-1.1zM398.5 57.7h1.1v1.1h-1.1zM405.4 53.1h1.1v1.1h-1.1zM403.4 51.6h1.1v1.1h-1.1zM406.9 51.0h1.1v1.1h-1.1zM401.2 53.5h1.1v1.1h-1.1zM408.3 48.2h1.1v1.1h-1.1zM408.2 47.9h1.1v1.1h-1.1zM405.5 51.7h1.1v1.1h-1.1zM401.5 53.2h1.1v1.1h-1.1zM400.9 53.7h1.1v1.1h-1.1zM399.2 58.5h1.1v1.1h-1.1zM404.9 54.0h1.1v1.1h-1.1zM399.2 59.2h1.1v1.1h-1.1zM401.1 54.1h1.1v1.1h-1.1zM408.2 49.5h1.1v1.1h-1.1zM400.7 55.0h1.1v1.1h-1.1zM403.7 51.0h1.1v1.1h-1.1zM402.9 55.1h1.1v1.1h-1.1zM405.3 53.0h1.1v1.1h-1.1zM406.9 50.7h1.1v1.1h-1.1zM403.8 51.0h1.1v1.1h-1.1zM403.4 54.6h1.1v1.1h-1.1zM400.6 57.7h1.1v1.1h-1.1zM400.4 55.6h1.1v1.1h-1.1zM399.2 59.3h1.1v1.1h-1.1zM405.3 51.5h1.1v1.1h-1.1zM406.5 50.3h1.1v1.1h-1.1zM408.4 48.8h1.1v1.1h-1.1zM404.3 50.4h1.1v1.1h-1.1zM406.6 48.7h1.1v1.1h-1.1zM404.2 51.2h1.1v1.1h-1.1z" fill="#3fd06a" opacity="0.85"/>
<path d="M401.4 53.7h1.1v1.1h-1.1zM400.9 55.2h1.1v1.1h-1.1zM400.0 58.5h1.1v1.1h-1.1zM400.5 58.2h1.1v1.1h-1.1zM398.1 58.7h1.1v1.1h-1.1zM399.3 58.7h1.1v1.1h-1.1zM399.4 58.4h1.1v1.1h-1.1zM406.8 48.7h1.1v1.1h-1.1zM400.3 58.6h1.1v1.1h-1.1zM401.5 54.7h1.1v1.1h-1.1zM403.9 51.1h1.1v1.1h-1.1zM404.1 51.2h1.1v1.1h-1.1zM404.2 54.7h1.1v1.1h-1.1zM399.8 58.3h1.1v1.1h-1.1zM399.5 58.1h1.1v1.1h-1.1zM405.8 49.3h1.1v1.1h-1.1zM406.8 50.1h1.1v1.1h-1.1zM408.2 48.4h1.1v1.1h-1.1zM404.5 53.4h1.1v1.1h-1.1zM407.5 50.0h1.1v1.1h-1.1zM399.3 57.8h1.1v1.1h-1.1zM399.1 57.9h1.1v1.1h-1.1zM404.7 53.6h1.1v1.1h-1.1zM403.5 52.0h1.1v1.1h-1.1zM401.1 54.7h1.1v1.1h-1.1zM401.3 53.9h1.1v1.1h-1.1zM408.4 49.2h1.1v1.1h-1.1zM407.3 50.1h1.1v1.1h-1.1zM404.7 53.8h1.1v1.1h-1.1zM402.7 52.9h1.1v1.1h-1.1zM401.2 54.5h1.1v1.1h-1.1zM406.0 49.4h1.1v1.1h-1.1zM399.8 57.7h1.1v1.1h-1.1zM407.0 48.5h1.1v1.1h-1.1zM407.3 48.4h1.1v1.1h-1.1zM398.3 58.6h1.1v1.1h-1.1zM406.7 51.0h1.1v1.1h-1.1zM399.7 58.4h1.1v1.1h-1.1zM404.7 51.4h1.1v1.1h-1.1zM401.7 54.1h1.1v1.1h-1.1zM404.4 53.2h1.1v1.1h-1.1zM406.4 49.8h1.1v1.1h-1.1zM406.3 50.1h1.1v1.1h-1.1zM405.1 52.9h1.1v1.1h-1.1zM404.3 53.2h1.1v1.1h-1.1zM403.3 52.6h1.1v1.1h-1.1zM402.7 55.2h1.1v1.1h-1.1zM404.1 53.0h1.1v1.1h-1.1zM400.0 58.1h1.1v1.1h-1.1zM399.0 59.0h1.1v1.1h-1.1zM405.1 50.9h1.1v1.1h-1.1zM405.7 49.9h1.1v1.1h-1.1zM404.2 53.0h1.1v1.1h-1.1zM405.8 49.8h1.1v1.1h-1.1zM405.0 50.8h1.1v1.1h-1.1zM404.4 53.5h1.1v1.1h-1.1zM400.7 54.5h1.1v1.1h-1.1zM406.1 51.2h1.1v1.1h-1.1zM403.9 51.9h1.1v1.1h-1.1zM403.8 53.1h1.1v1.1h-1.1zM398.9 58.7h1.1v1.1h-1.1zM399.2 57.8h1.1v1.1h-1.1zM404.3 53.3h1.1v1.1h-1.1zM403.2 53.3h1.1v1.1h-1.1zM402.4 53.7h1.1v1.1h-1.1zM403.8 52.4h1.1v1.1h-1.1zM407.0 48.7h1.1v1.1h-1.1zM403.9 51.9h1.1v1.1h-1.1zM407.3 49.2h1.1v1.1h-1.1zM406.7 49.9h1.1v1.1h-1.1zM406.1 51.2h1.1v1.1h-1.1zM405.5 50.3h1.1v1.1h-1.1z" fill="#9ee03a" opacity="0.85"/>
<path d="M404.0 52.1h1.1v1.1h-1.1zM402.3 54.0h1.1v1.1h-1.1zM403.4 53.2h1.1v1.1h-1.1zM406.7 49.8h1.1v1.1h-1.1zM402.8 54.3h1.1v1.1h-1.1zM405.5 50.5h1.1v1.1h-1.1zM403.6 54.3h1.1v1.1h-1.1zM406.1 50.6h1.1v1.1h-1.1zM404.2 53.7h1.1v1.1h-1.1zM404.5 51.1h1.1v1.1h-1.1zM403.5 54.1h1.1v1.1h-1.1zM403.8 54.1h1.1v1.1h-1.1zM407.4 49.6h1.1v1.1h-1.1zM404.7 50.9h1.1v1.1h-1.1zM403.0 52.8h1.1v1.1h-1.1zM403.3 54.0h1.1v1.1h-1.1z" fill="#f2c21c" opacity="0.85"/>
<path d="M402.3 54.2h1.1v1.1h-1.1zM403.7 53.9h1.1v1.1h-1.1zM403.2 53.8h1.1v1.1h-1.1z" fill="#f07a1a" opacity="0.85"/>
<ellipse cx="407.30" cy="41.30" rx="6.95" ry="3.4" transform="rotate(-30 407.30 41.30)" fill="none" stroke="#333" stroke-width="0.7"/>
<ellipse cx="413.40" cy="50.30" rx="8.5" ry="3.1" transform="rotate(-40 413.40 50.30)" fill="none" stroke="#333" stroke-width="0.7"/>
<text x="395.80" y="29.30" font-size="2.8" text-anchor="start" fill="#111" stroke="#111" stroke-width="0.05">M1</text>
<text x="395.80" y="33.90" font-size="2.8" text-anchor="start" fill="#111" stroke="#111" stroke-width="0.05">3.02</text>
<text x="422.50" y="56.70" font-size="2.8" text-anchor="start" fill="#111" stroke="#111" stroke-width="0.05">M2</text>
<text x="422.50" y="61.30" font-size="2.8" text-anchor="start" fill="#111" stroke="#111" stroke-width="0.05">27.7</text>
<text x="327.40" y="104.40" font-size="7.9" text-anchor="middle" fill="#111" stroke="#111" stroke-width="0.08">BLM</text>
<text x="411.90" y="104.40" font-size="7.9" text-anchor="middle" fill="#111" stroke="#111" stroke-width="0.08">BLM + GL-V9</text>
<line x1="283.60" y1="55.50" x2="283.60" y2="110.50" stroke="#222" stroke-width="1.0"/>
<line x1="283.60" y1="110.50" x2="409.00" y2="110.50" stroke="#222" stroke-width="1.0"/>
<path d="M283.6,52.2 L281.5,57 L285.7,57 Z" fill="#222"/>
<path d="M412.5,110.5 L407.5,108.4 L407.5,112.6 Z" fill="#222"/>
<text x="287.00" y="34.50" font-size="7.5" text-anchor="middle" fill="#e8231c" stroke="#e8231c" stroke-width="0.08" transform="rotate(-90 287.00 34.50)">CD86-PE</text>
<text x="413.70" y="113.20" font-size="7.7" text-anchor="start" fill="#e8231c" stroke="#e8231c" stroke-width="0.08">CD206-FITC</text>
<line x1="493.90" y1="8.80" x2="493.90" y2="95.40" stroke="#2b2b2b" stroke-width="1.1"/>
<line x1="490.90" y1="9.30" x2="493.90" y2="9.30" stroke="#2b2b2b" stroke-width="1.0"/>
<text x="489.10" y="11.80" font-size="7.1" text-anchor="end" fill="#1a1a1a" stroke="#1a1a1a" stroke-width="0.08">5</text>
<line x1="490.90" y1="26.40" x2="493.90" y2="26.40" stroke="#2b2b2b" stroke-width="1.0"/>
<text x="489.10" y="28.90" font-size="7.1" text-anchor="end" fill="#1a1a1a" stroke="#1a1a1a" stroke-width="0.08">4</text>
<line x1="490.90" y1="43.50" x2="493.90" y2="43.50" stroke="#2b2b2b" stroke-width="1.0"/>
<text x="489.10" y="46.00" font-size="7.1" text-anchor="end" fill="#1a1a1a" stroke="#1a1a1a" stroke-width="0.08">3</text>
<line x1="490.90" y1="60.60" x2="493.90" y2="60.60" stroke="#2b2b2b" stroke-width="1.0"/>
<text x="489.10" y="63.10" font-size="7.1" text-anchor="end" fill="#1a1a1a" stroke="#1a1a1a" stroke-width="0.08">2</text>
<line x1="490.90" y1="77.70" x2="493.90" y2="77.70" stroke="#2b2b2b" stroke-width="1.0"/>
<text x="489.10" y="80.20" font-size="7.1" text-anchor="end" fill="#1a1a1a" stroke="#1a1a1a" stroke-width="0.08">1</text>
<line x1="490.90" y1="94.90" x2="493.90" y2="94.90" stroke="#2b2b2b" stroke-width="1.0"/>
<text x="489.10" y="97.40" font-size="7.1" text-anchor="end" fill="#1a1a1a" stroke="#1a1a1a" stroke-width="0.08">0</text>
<line x1="493.40" y1="94.90" x2="551.50" y2="94.90" stroke="#2b2b2b" stroke-width="1.1"/>
<line x1="510.50" y1="94.90" x2="510.50" y2="98.30" stroke="#2b2b2b" stroke-width="1.2"/>
<line x1="534.80" y1="94.90" x2="534.80" y2="98.30" stroke="#2b2b2b" stroke-width="1.2"/>
<rect x="502.20" y="53.10" width="16.50" height="41.80" fill="#1a0dff"/>
<line x1="510.45" y1="53.10" x2="510.45" y2="48.30" stroke="#1a0dff" stroke-width="1.0" opacity="0.75"/>
<line x1="506.33" y1="48.30" x2="514.58" y2="48.30" stroke="#1a0dff" stroke-width="1.0" opacity="0.75"/>
<rect x="527.00" y="40.40" width="15.90" height="54.50" fill="#ff1f10"/>
<line x1="534.95" y1="40.40" x2="534.95" y2="29.10" stroke="#ff1f10" stroke-width="1.0" opacity="0.75"/>
<line x1="530.98" y1="29.10" x2="538.93" y2="29.10" stroke="#ff1f10" stroke-width="1.0" opacity="0.75"/>
<line x1="510.50" y1="18.10" x2="534.80" y2="18.10" stroke="#333" stroke-width="1.5"/>
<text x="522.65" y="13.40" font-size="8.0" text-anchor="middle" fill="#333" stroke="#333" stroke-width="0.08">ns</text>
<text x="473.40" y="49.40" font-size="7.8" font-weight="bold" text-anchor="middle" fill="#111" stroke="#111" stroke-width="0.12" transform="rotate(-90 473.40 49.40)">The percentage of</text>
<text x="481.60" y="49.40" font-size="7.8" font-weight="bold" text-anchor="middle" fill="#111" stroke="#111" stroke-width="0.12" transform="rotate(-90 481.60 49.40)">M1 macrophages (%)</text>
<text x="514.20" y="105.40" font-size="7.8" text-anchor="end" fill="#111" stroke="#111" stroke-width="0.08" transform="rotate(-45 514.20 105.40)">BLM</text>
<text x="539.80" y="104.40" font-size="7.8" text-anchor="end" fill="#111" stroke="#111" stroke-width="0.08" transform="rotate(-45 539.80 104.40)">BLM + GL-V9</text>
<line x1="597.00" y1="11.70" x2="597.00" y2="94.80" stroke="#2b2b2b" stroke-width="1.1"/>
<line x1="594.00" y1="12.20" x2="597.00" y2="12.20" stroke="#2b2b2b" stroke-width="1.0"/>
<text x="592.00" y="14.70" font-size="7.1" text-anchor="end" fill="#1a1a1a" stroke="#1a1a1a" stroke-width="0.08">80</text>
<line x1="594.00" y1="32.70" x2="597.00" y2="32.70" stroke="#2b2b2b" stroke-width="1.0"/>
<text x="592.00" y="35.20" font-size="7.1" text-anchor="end" fill="#1a1a1a" stroke="#1a1a1a" stroke-width="0.08">60</text>
<line x1="594.00" y1="53.25" x2="597.00" y2="53.25" stroke="#2b2b2b" stroke-width="1.0"/>
<text x="592.00" y="55.75" font-size="7.1" text-anchor="end" fill="#1a1a1a" stroke="#1a1a1a" stroke-width="0.08">40</text>
<line x1="594.00" y1="73.80" x2="597.00" y2="73.80" stroke="#2b2b2b" stroke-width="1.0"/>
<text x="592.00" y="76.30" font-size="7.1" text-anchor="end" fill="#1a1a1a" stroke="#1a1a1a" stroke-width="0.08">20</text>
<line x1="594.00" y1="94.30" x2="597.00" y2="94.30" stroke="#2b2b2b" stroke-width="1.0"/>
<text x="592.00" y="96.80" font-size="7.1" text-anchor="end" fill="#1a1a1a" stroke="#1a1a1a" stroke-width="0.08">0</text>
<line x1="596.50" y1="94.30" x2="652.50" y2="94.30" stroke="#2b2b2b" stroke-width="1.1"/>
<line x1="612.80" y1="94.30" x2="612.80" y2="97.70" stroke="#2b2b2b" stroke-width="1.2"/>
<line x1="636.40" y1="94.30" x2="636.40" y2="97.70" stroke="#2b2b2b" stroke-width="1.2"/>
<rect x="605.30" y="41.90" width="15.30" height="52.40" fill="#1a0dff"/>
<line x1="612.95" y1="41.90" x2="612.95" y2="33.90" stroke="#1a0dff" stroke-width="1.0" opacity="0.75"/>
<line x1="609.12" y1="33.90" x2="616.78" y2="33.90" stroke="#1a0dff" stroke-width="1.0" opacity="0.75"/>
<rect x="628.90" y="62.00" width="15.40" height="32.30" fill="#ff1f10"/>
<line x1="636.60" y1="62.00" x2="636.60" y2="59.00" stroke="#ff1f10" stroke-width="1.0" opacity="0.75"/>
<line x1="632.75" y1="59.00" x2="640.45" y2="59.00" stroke="#ff1f10" stroke-width="1.0" opacity="0.75"/>
<line x1="612.80" y1="24.60" x2="635.80" y2="24.60" stroke="#000" stroke-width="1.5"/>
<polygon points="621.30,16.09 621.98,17.83 623.82,17.54 622.65,19.00 623.82,20.46 621.98,20.17 621.30,21.91 620.62,20.17 618.78,20.46 619.95,19.00 618.78,17.54 620.62,17.83" fill="#000"/>
<polygon points="627.30,16.09 627.98,17.83 629.82,17.54 628.65,19.00 629.82,20.46 627.98,20.17 627.30,21.91 626.62,20.17 624.78,20.46 625.95,19.00 624.78,17.54 626.62,17.83" fill="#000"/>
<text x="573.30" y="49.60" font-size="7.8" font-weight="bold" text-anchor="middle" fill="#111" stroke="#111" stroke-width="0.12" transform="rotate(-90 573.30 49.60)">The percentage of</text>
<text x="580.60" y="49.60" font-size="7.8" font-weight="bold" text-anchor="middle" fill="#111" stroke="#111" stroke-width="0.12" transform="rotate(-90 580.60 49.60)">M2 macrophages (%)</text>
<text x="615.80" y="104.60" font-size="7.8" text-anchor="end" fill="#111" stroke="#111" stroke-width="0.08" transform="rotate(-45 615.80 104.60)">BLM</text>
<text x="641.20" y="103.90" font-size="7.8" text-anchor="end" fill="#111" stroke="#111" stroke-width="0.08" transform="rotate(-45 641.20 103.90)">BLM + GL-V9</text>
<text x="3.00" y="146.00" font-size="11" text-anchor="start" fill="#111" stroke="#111" stroke-width="0.08">C</text>
<line x1="44.00" y1="164.10" x2="44.00" y2="257.90" stroke="#2b2b2b" stroke-width="1.1"/>
<line x1="41.00" y1="164.60" x2="44.00" y2="164.60" stroke="#2b2b2b" stroke-width="1.0"/>
<text x="39.50" y="167.10" font-size="7.1" text-anchor="end" fill="#1a1a1a" stroke="#1a1a1a" stroke-width="0.08">5</text>
<line x1="41.00" y1="183.15" x2="44.00" y2="183.15" stroke="#2b2b2b" stroke-width="1.0"/>
<text x="39.50" y="185.65" font-size="7.1" text-anchor="end" fill="#1a1a1a" stroke="#1a1a1a" stroke-width="0.08">4</text>
<line x1="41.00" y1="201.70" x2="44.00" y2="201.70" stroke="#2b2b2b" stroke-width="1.0"/>
<text x="39.50" y="204.20" font-size="7.1" text-anchor="end" fill="#1a1a1a" stroke="#1a1a1a" stroke-width="0.08">3</text>
<line x1="41.00" y1="220.25" x2="44.00" y2="220.25" stroke="#2b2b2b" stroke-width="1.0"/>
<text x="39.50" y="222.75" font-size="7.1" text-anchor="end" fill="#1a1a1a" stroke="#1a1a1a" stroke-width="0.08">2</text>
<line x1="41.00" y1="238.80" x2="44.00" y2="238.80" stroke="#2b2b2b" stroke-width="1.0"/>
<text x="39.50" y="241.30" font-size="7.1" text-anchor="end" fill="#1a1a1a" stroke="#1a1a1a" stroke-width="0.08">1</text>
<line x1="41.00" y1="257.40" x2="44.00" y2="257.40" stroke="#2b2b2b" stroke-width="1.0"/>
<text x="39.50" y="259.90" font-size="7.1" text-anchor="end" fill="#1a1a1a" stroke="#1a1a1a" stroke-width="0.08">0</text>
<line x1="43.50" y1="257.40" x2="184.00" y2="257.40" stroke="#2b2b2b" stroke-width="1.1"/>
<line x1="65.60" y1="257.40" x2="65.60" y2="260.80" stroke="#2b2b2b" stroke-width="1.2"/>
<text x="65.60" y="268.80" font-size="7.5" text-anchor="middle" fill="#111" stroke="#111" stroke-width="0.08">7</text>
<line x1="113.60" y1="257.40" x2="113.60" y2="260.80" stroke="#2b2b2b" stroke-width="1.2"/>
<text x="113.60" y="268.80" font-size="7.5" text-anchor="middle" fill="#111" stroke="#111" stroke-width="0.08">14</text>
<line x1="161.20" y1="257.40" x2="161.20" y2="260.80" stroke="#2b2b2b" stroke-width="1.2"/>
<text x="161.20" y="268.80" font-size="7.5" text-anchor="middle" fill="#111" stroke="#111" stroke-width="0.08">21</text>
<text x="31.20" y="210.60" font-size="7.7" font-weight="bold" text-anchor="middle" fill="#111" stroke="#111" stroke-width="0.12" transform="rotate(-90 31.20 210.60)">Relative MRC1 mRNA levels</text>
<text x="116.00" y="278.20" font-size="7.7" font-weight="bold" text-anchor="middle" fill="#111" stroke="#111" stroke-width="0.12">DAYs after treated</text>
<rect x="48.20" y="238.80" width="8.90" height="18.60" fill="#1a0dff"/>
<line x1="52.65" y1="238.80" x2="52.65" y2="235.70" stroke="#1a0dff" stroke-width="1.0" opacity="0.75"/>
<line x1="50.43" y1="235.70" x2="54.88" y2="235.70" stroke="#1a0dff" stroke-width="1.0" opacity="0.75"/>
<rect x="61.40" y="211.60" width="8.70" height="45.80" fill="#ff1f10"/>
<line x1="65.75" y1="211.60" x2="65.75" y2="207.60" stroke="#ff1f10" stroke-width="1.0" opacity="0.75"/>
<line x1="63.58" y1="207.60" x2="67.92" y2="207.60" stroke="#ff1f10" stroke-width="1.0" opacity="0.75"/>
<rect x="74.40" y="224.90" width="8.70" height="32.50" fill="#4ddc2a"/>
<line x1="78.75" y1="224.90" x2="78.75" y2="218.00" stroke="#4ddc2a" stroke-width="1.0" opacity="0.75"/>
<line x1="76.58" y1="218.00" x2="80.92" y2="218.00" stroke="#4ddc2a" stroke-width="1.0" opacity="0.75"/>
<rect x="95.90" y="239.00" width="8.90" height="18.40" fill="#1a0dff"/>
<line x1="100.35" y1="239.00" x2="100.35" y2="228.30" stroke="#1a0dff" stroke-width="1.0" opacity="0.75"/>
<line x1="98.12" y1="228.30" x2="102.57" y2="228.30" stroke="#1a0dff" stroke-width="1.0" opacity="0.75"/>
<rect x="109.10" y="193.70" width="8.90" height="63.70" fill="#ff1f10"/>
<line x1="113.55" y1="193.70" x2="113.55" y2="186.40" stroke="#ff1f10" stroke-width="1.0" opacity="0.75"/>
<line x1="111.32" y1="186.40" x2="115.78" y2="186.40" stroke="#ff1f10" stroke-width="1.0" opacity="0.75"/>
<rect x="122.10" y="235.20" width="8.80" height="22.20" fill="#4ddc2a"/>
<line x1="126.50" y1="235.20" x2="126.50" y2="229.30" stroke="#4ddc2a" stroke-width="1.0" opacity="0.75"/>
<line x1="124.30" y1="229.30" x2="128.70" y2="229.30" stroke="#4ddc2a" stroke-width="1.0" opacity="0.75"/>
<rect x="143.70" y="239.00" width="8.90" height="18.40" fill="#1a0dff"/>
<line x1="148.15" y1="239.00" x2="148.15" y2="236.20" stroke="#1a0dff" stroke-width="1.0" opacity="0.75"/>
<line x1="145.92" y1="236.20" x2="150.37" y2="236.20" stroke="#1a0dff" stroke-width="1.0" opacity="0.75"/>
<rect x="156.90" y="214.00" width="8.90" height="43.40" fill="#ff1f10"/>
<line x1="161.35" y1="214.00" x2="161.35" y2="206.50" stroke="#ff1f10" stroke-width="1.0" opacity="0.75"/>
<line x1="159.13" y1="206.50" x2="163.58" y2="206.50" stroke="#ff1f10" stroke-width="1.0" opacity="0.75"/>
<rect x="169.70" y="226.80" width="8.90" height="30.60" fill="#4ddc2a"/>
<line x1="174.15" y1="226.80" x2="174.15" y2="224.40" stroke="#4ddc2a" stroke-width="1.0" opacity="0.75"/>
<line x1="171.92" y1="224.40" x2="176.37" y2="224.40" stroke="#4ddc2a" stroke-width="1.0" opacity="0.75"/>
<line x1="52.80" y1="203.10" x2="65.60" y2="203.10" stroke="#000" stroke-width="1.5"/>
<polygon points="56.20,194.69 56.88,196.43 58.72,196.14 57.55,197.60 58.72,199.06 56.88,198.77 56.20,200.51 55.52,198.77 53.68,199.06 54.85,197.60 53.68,196.14 55.52,196.43" fill="#000"/>
<polygon points="62.20,194.69 62.88,196.43 64.72,196.14 63.55,197.60 64.72,199.06 62.88,198.77 62.20,200.51 61.52,198.77 59.68,199.06 60.85,197.60 59.68,196.14 61.52,196.43" fill="#000"/>
<line x1="66.50" y1="191.90" x2="78.70" y2="191.90" stroke="#000" stroke-width="1.5"/>
<polygon points="72.60,183.49 73.28,185.23 75.12,184.94 73.95,186.40 75.12,187.86 73.28,187.57 72.60,189.31 71.92,187.57 70.08,187.86 71.25,186.40 70.08,184.94 71.92,185.23" fill="#000"/>
<line x1="100.20" y1="182.10" x2="113.60" y2="182.10" stroke="#000" stroke-width="1.5"/>
<polygon points="100.90,173.69 101.58,175.43 103.42,175.14 102.25,176.60 103.42,178.06 101.58,177.77 100.90,179.51 100.22,177.77 98.38,178.06 99.55,176.60 98.38,175.14 100.22,175.43" fill="#000"/>
<polygon points="106.90,173.69 107.58,175.43 109.42,175.14 108.25,176.60 109.42,178.06 107.58,177.77 106.90,179.51 106.22,177.77 104.38,178.06 105.55,176.60 104.38,175.14 106.22,175.43" fill="#000"/>
<polygon points="112.90,173.69 113.58,175.43 115.42,175.14 114.25,176.60 115.42,178.06 113.58,177.77 112.90,179.51 112.22,177.77 110.38,178.06 111.55,176.60 110.38,175.14 112.22,175.43" fill="#000"/>
<line x1="113.60" y1="169.70" x2="126.60" y2="169.70" stroke="#000" stroke-width="1.5"/>
<polygon points="114.10,161.29 114.78,163.03 116.62,162.74 115.45,164.20 116.62,165.66 114.78,165.37 114.10,167.11 113.42,165.37 111.58,165.66 112.75,164.20 111.58,162.74 113.42,163.03" fill="#000"/>
<polygon points="120.10,161.29 120.78,163.03 122.62,162.74 121.45,164.20 122.62,165.66 120.78,165.37 120.10,167.11 119.42,165.37 117.58,165.66 118.75,164.20 117.58,162.74 119.42,163.03" fill="#000"/>
<polygon points="126.10,161.29 126.78,163.03 128.62,162.74 127.45,164.20 128.62,165.66 126.78,165.37 126.10,167.11 125.42,165.37 123.58,165.66 124.75,164.20 123.58,162.74 125.42,163.03" fill="#000"/>
<line x1="148.50" y1="201.80" x2="161.30" y2="201.80" stroke="#000" stroke-width="1.5"/>
<polygon points="151.90,193.39 152.58,195.13 154.42,194.84 153.25,196.30 154.42,197.76 152.58,197.47 151.90,199.21 151.22,197.47 149.38,197.76 150.55,196.30 149.38,194.84 151.22,195.13" fill="#000"/>
<polygon points="157.90,193.39 158.58,195.13 160.42,194.84 159.25,196.30 160.42,197.76 158.58,197.47 157.90,199.21 157.22,197.47 155.38,197.76 156.55,196.30 155.38,194.84 157.22,195.13" fill="#000"/>
<line x1="161.30" y1="190.00" x2="174.30" y2="190.00" stroke="#000" stroke-width="1.5"/>
<polygon points="167.80,181.59 168.48,183.33 170.32,183.04 169.15,184.50 170.32,185.96 168.48,185.67 167.80,187.41 167.12,185.67 165.28,185.96 166.45,184.50 165.28,183.04 167.12,183.33" fill="#000"/>
<line x1="224.00" y1="163.70" x2="224.00" y2="256.30" stroke="#2b2b2b" stroke-width="1.1"/>
<line x1="221.00" y1="164.20" x2="224.00" y2="164.20" stroke="#2b2b2b" stroke-width="1.0"/>
<text x="219.80" y="166.70" font-size="7.1" text-anchor="end" fill="#1a1a1a" stroke="#1a1a1a" stroke-width="0.08">100</text>
<line x1="221.00" y1="182.50" x2="224.00" y2="182.50" stroke="#2b2b2b" stroke-width="1.0"/>
<text x="219.80" y="185.00" font-size="7.1" text-anchor="end" fill="#1a1a1a" stroke="#1a1a1a" stroke-width="0.08">80</text>
<line x1="221.00" y1="200.80" x2="224.00" y2="200.80" stroke="#2b2b2b" stroke-width="1.0"/>
<text x="219.80" y="203.30" font-size="7.1" text-anchor="end" fill="#1a1a1a" stroke="#1a1a1a" stroke-width="0.08">60</text>
<line x1="221.00" y1="219.10" x2="224.00" y2="219.10" stroke="#2b2b2b" stroke-width="1.0"/>
<text x="219.80" y="221.60" font-size="7.1" text-anchor="end" fill="#1a1a1a" stroke="#1a1a1a" stroke-width="0.08">40</text>
<line x1="221.00" y1="237.45" x2="224.00" y2="237.45" stroke="#2b2b2b" stroke-width="1.0"/>
<text x="219.80" y="239.95" font-size="7.1" text-anchor="end" fill="#1a1a1a" stroke="#1a1a1a" stroke-width="0.08">20</text>
<line x1="221.00" y1="255.80" x2="224.00" y2="255.80" stroke="#2b2b2b" stroke-width="1.0"/>
<text x="219.80" y="258.30" font-size="7.1" text-anchor="end" fill="#1a1a1a" stroke="#1a1a1a" stroke-width="0.08">0</text>
<line x1="223.50" y1="255.80" x2="362.80" y2="255.80" stroke="#2b2b2b" stroke-width="1.1"/>
<line x1="245.60" y1="255.80" x2="245.60" y2="259.20" stroke="#2b2b2b" stroke-width="1.2"/>
<text x="245.60" y="267.80" font-size="7.5" text-anchor="middle" fill="#111" stroke="#111" stroke-width="0.08">7</text>
<line x1="293.30" y1="255.80" x2="293.30" y2="259.20" stroke="#2b2b2b" stroke-width="1.2"/>
<text x="293.30" y="267.80" font-size="7.5" text-anchor="middle" fill="#111" stroke="#111" stroke-width="0.08">14</text>
<line x1="339.90" y1="255.80" x2="339.90" y2="259.20" stroke="#2b2b2b" stroke-width="1.2"/>
<text x="339.90" y="267.80" font-size="7.5" text-anchor="middle" fill="#111" stroke="#111" stroke-width="0.08">21</text>
<text x="203.30" y="208.90" font-size="7.7" font-weight="bold" text-anchor="middle" fill="#111" stroke="#111" stroke-width="0.12" transform="rotate(-90 203.30 208.90)">Relative ARG1 mRNA levels</text>
<text x="291.50" y="275.30" font-size="7.6" font-weight="bold" text-anchor="middle" fill="#111" stroke="#111" stroke-width="0.12">DAYs after treated</text>
<rect x="228.30" y="255.00" width="8.70" height="0.80" fill="#1a0dff"/>
<rect x="241.20" y="216.00" width="8.40" height="39.80" fill="#ff1f10"/>
<line x1="245.40" y1="216.00" x2="245.40" y2="203.10" stroke="#ff1f10" stroke-width="1.0" opacity="0.75"/>
<line x1="243.30" y1="203.10" x2="247.50" y2="203.10" stroke="#ff1f10" stroke-width="1.0" opacity="0.75"/>
<rect x="253.90" y="249.60" width="8.80" height="6.20" fill="#4ddc2a"/>
<line x1="258.30" y1="249.60" x2="258.30" y2="249.00" stroke="#4ddc2a" stroke-width="1.0" opacity="0.75"/>
<line x1="256.10" y1="249.00" x2="260.50" y2="249.00" stroke="#4ddc2a" stroke-width="1.0" opacity="0.75"/>
<rect x="275.80" y="255.00" width="8.10" height="0.80" fill="#1a0dff"/>
<rect x="288.60" y="198.80" width="8.60" height="57.00" fill="#ff1f10"/>
<line x1="292.90" y1="198.80" x2="292.90" y2="183.50" stroke="#ff1f10" stroke-width="1.0" opacity="0.75"/>
<line x1="290.75" y1="183.50" x2="295.05" y2="183.50" stroke="#ff1f10" stroke-width="1.0" opacity="0.75"/>
<rect x="301.50" y="248.00" width="8.70" height="7.80" fill="#4ddc2a"/>
<line x1="305.85" y1="248.00" x2="305.85" y2="245.20" stroke="#4ddc2a" stroke-width="1.0" opacity="0.75"/>
<line x1="303.68" y1="245.20" x2="308.03" y2="245.20" stroke="#4ddc2a" stroke-width="1.0" opacity="0.75"/>
<rect x="322.90" y="254.60" width="8.80" height="1.20" fill="#1a0dff"/>
<rect x="336.00" y="232.40" width="8.80" height="23.40" fill="#ff1f10"/>
<line x1="340.40" y1="232.40" x2="340.40" y2="229.20" stroke="#ff1f10" stroke-width="1.0" opacity="0.75"/>
<line x1="338.20" y1="229.20" x2="342.60" y2="229.20" stroke="#ff1f10" stroke-width="1.0" opacity="0.75"/>
<rect x="349.20" y="251.10" width="8.30" height="4.70" fill="#4ddc2a"/>
<line x1="353.35" y1="251.10" x2="353.35" y2="248.00" stroke="#4ddc2a" stroke-width="1.0" opacity="0.75"/>
<line x1="351.28" y1="248.00" x2="355.43" y2="248.00" stroke="#4ddc2a" stroke-width="1.0" opacity="0.75"/>
<line x1="232.90" y1="196.70" x2="245.70" y2="196.70" stroke="#000" stroke-width="1.5"/>
<polygon points="236.30,188.29 236.98,190.03 238.82,189.74 237.65,191.20 238.82,192.66 236.98,192.37 236.30,194.11 235.62,192.37 233.78,192.66 234.95,191.20 233.78,189.74 235.62,190.03" fill="#000"/>
<polygon points="242.30,188.29 242.98,190.03 244.82,189.74 243.65,191.20 244.82,192.66 242.98,192.37 242.30,194.11 241.62,192.37 239.78,192.66 240.95,191.20 239.78,189.74 241.62,190.03" fill="#000"/>
<line x1="246.70" y1="185.40" x2="258.90" y2="185.40" stroke="#000" stroke-width="1.5"/>
<polygon points="249.80,176.99 250.48,178.73 252.32,178.44 251.15,179.90 252.32,181.36 250.48,181.07 249.80,182.81 249.12,181.07 247.28,181.36 248.45,179.90 247.28,178.44 249.12,178.73" fill="#000"/>
<polygon points="255.80,176.99 256.48,178.73 258.32,178.44 257.15,179.90 258.32,181.36 256.48,181.07 255.80,182.81 255.12,181.07 253.28,181.36 254.45,179.90 253.28,178.44 255.12,178.73" fill="#000"/>
<line x1="279.80" y1="177.00" x2="293.00" y2="177.00" stroke="#000" stroke-width="1.5"/>
<polygon points="280.40,168.59 281.08,170.33 282.92,170.04 281.75,171.50 282.92,172.96 281.08,172.67 280.40,174.41 279.72,172.67 277.88,172.96 279.05,171.50 277.88,170.04 279.72,170.33" fill="#000"/>
<polygon points="286.40,168.59 287.08,170.33 288.92,170.04 287.75,171.50 288.92,172.96 287.08,172.67 286.40,174.41 285.72,172.67 283.88,172.96 285.05,171.50 283.88,170.04 285.72,170.33" fill="#000"/>
<polygon points="292.40,168.59 293.08,170.33 294.92,170.04 293.75,171.50 294.92,172.96 293.08,172.67 292.40,174.41 291.72,172.67 289.88,172.96 291.05,171.50 289.88,170.04 291.72,170.33" fill="#000"/>
<line x1="293.00" y1="164.40" x2="305.80" y2="164.40" stroke="#000" stroke-width="1.5"/>
<polygon points="293.40,155.99 294.08,157.73 295.92,157.44 294.75,158.90 295.92,160.36 294.08,160.07 293.40,161.81 292.72,160.07 290.88,160.36 292.05,158.90 290.88,157.44 292.72,157.73" fill="#000"/>
<polygon points="299.40,155.99 300.08,157.73 301.92,157.44 300.75,158.90 301.92,160.36 300.08,160.07 299.40,161.81 298.72,160.07 296.88,160.36 298.05,158.90 296.88,157.44 298.72,157.73" fill="#000"/>
<polygon points="305.40,155.99 306.08,157.73 307.92,157.44 306.75,158.90 307.92,160.36 306.08,160.07 305.40,161.81 304.72,160.07 302.88,160.36 304.05,158.90 302.88,157.44 304.72,157.73" fill="#000"/>
<line x1="327.20" y1="222.20" x2="340.30" y2="222.20" stroke="#000" stroke-width="1.5"/>
<polygon points="326.15,212.89 326.83,214.63 328.67,214.34 327.50,215.80 328.67,217.26 326.83,216.97 326.15,218.71 325.47,216.97 323.63,217.26 324.80,215.80 323.63,214.34 325.47,214.63" fill="#000"/>
<polygon points="332.15,212.89 332.83,214.63 334.67,214.34 333.50,215.80 334.67,217.26 332.83,216.97 332.15,218.71 331.47,216.97 329.63,217.26 330.80,215.80 329.63,214.34 331.47,214.63" fill="#000"/>
<polygon points="338.15,212.89 338.83,214.63 340.67,214.34 339.50,215.80 340.67,217.26 338.83,216.97 338.15,218.71 337.47,216.97 335.63,217.26 336.80,215.80 335.63,214.34 337.47,214.63" fill="#000"/>
<polygon points="344.15,212.89 344.83,214.63 346.67,214.34 345.50,215.80 346.67,217.26 344.83,216.97 344.15,218.71 343.47,216.97 341.63,217.26 342.80,215.80 341.63,214.34 343.47,214.63" fill="#000"/>
<line x1="340.00" y1="209.90" x2="352.70" y2="209.90" stroke="#000" stroke-width="1.5"/>
<polygon points="338.35,200.89 339.03,202.63 340.87,202.34 339.70,203.80 340.87,205.26 339.03,204.97 338.35,206.71 337.67,204.97 335.83,205.26 337.00,203.80 335.83,202.34 337.67,202.63" fill="#000"/>
<polygon points="344.35,200.89 345.03,202.63 346.87,202.34 345.70,203.80 346.87,205.26 345.03,204.97 344.35,206.71 343.67,204.97 341.83,205.26 343.00,203.80 341.83,202.34 343.67,202.63" fill="#000"/>
<polygon points="350.35,200.89 351.03,202.63 352.87,202.34 351.70,203.80 352.87,205.26 351.03,204.97 350.35,206.71 349.67,204.97 347.83,205.26 349.00,203.80 347.83,202.34 349.67,202.63" fill="#000"/>
<polygon points="356.35,200.89 357.03,202.63 358.87,202.34 357.70,203.80 358.87,205.26 357.03,204.97 356.35,206.71 355.67,204.97 353.83,205.26 355.00,203.80 353.83,202.34 355.67,202.63" fill="#000"/>
<rect x="362.00" y="156.50" width="10.70" height="5.30" fill="#1a0dff"/>
<text x="378.50" y="162.10" font-size="7.6" text-anchor="start" fill="#111" stroke="#111" stroke-width="0.08">CONTROL</text>
<rect x="362.00" y="169.85" width="10.70" height="5.30" fill="#ff1f10"/>
<text x="378.50" y="175.45" font-size="7.6" text-anchor="start" fill="#111" stroke="#111" stroke-width="0.08">BLM</text>
<rect x="362.00" y="183.20" width="10.70" height="5.30" fill="#4ddc2a"/>
<text x="378.50" y="188.80" font-size="7.6" text-anchor="start" fill="#111" stroke="#111" stroke-width="0.08">BLM + GL-V9</text>
<text x="437.70" y="146.30" font-size="11" text-anchor="start" fill="#111" stroke="#111" stroke-width="0.08">D</text>
<line x1="472.60" y1="170.20" x2="472.60" y2="258.90" stroke="#2b2b2b" stroke-width="1.1"/>
<line x1="469.60" y1="170.70" x2="472.60" y2="170.70" stroke="#2b2b2b" stroke-width="1.0"/>
<text x="467.70" y="173.20" font-size="7.1" text-anchor="end" fill="#1a1a1a" stroke="#1a1a1a" stroke-width="0.08">400</text>
<line x1="469.60" y1="192.60" x2="472.60" y2="192.60" stroke="#2b2b2b" stroke-width="1.0"/>
<text x="467.70" y="195.10" font-size="7.1" text-anchor="end" fill="#1a1a1a" stroke="#1a1a1a" stroke-width="0.08">300</text>
<line x1="469.60" y1="214.55" x2="472.60" y2="214.55" stroke="#2b2b2b" stroke-width="1.0"/>
<text x="467.70" y="217.05" font-size="7.1" text-anchor="end" fill="#1a1a1a" stroke="#1a1a1a" stroke-width="0.08">200</text>
<line x1="469.60" y1="236.45" x2="472.60" y2="236.45" stroke="#2b2b2b" stroke-width="1.0"/>
<text x="467.70" y="238.95" font-size="7.1" text-anchor="end" fill="#1a1a1a" stroke="#1a1a1a" stroke-width="0.08">100</text>
<line x1="469.60" y1="258.40" x2="472.60" y2="258.40" stroke="#2b2b2b" stroke-width="1.0"/>
<text x="467.70" y="260.90" font-size="7.1" text-anchor="end" fill="#1a1a1a" stroke="#1a1a1a" stroke-width="0.08">0</text>
<line x1="472.10" y1="258.40" x2="604.60" y2="258.40" stroke="#2b2b2b" stroke-width="1.1"/>
<line x1="492.70" y1="258.40" x2="492.70" y2="261.80" stroke="#2b2b2b" stroke-width="1.2"/>
<text x="492.70" y="269.60" font-size="7.5" text-anchor="middle" fill="#111" stroke="#111" stroke-width="0.08">7</text>
<line x1="538.00" y1="258.40" x2="538.00" y2="261.80" stroke="#2b2b2b" stroke-width="1.2"/>
<text x="538.00" y="269.60" font-size="7.5" text-anchor="middle" fill="#111" stroke="#111" stroke-width="0.08">14</text>
<line x1="583.40" y1="258.40" x2="583.40" y2="261.80" stroke="#2b2b2b" stroke-width="1.2"/>
<text x="583.40" y="269.60" font-size="7.5" text-anchor="middle" fill="#111" stroke="#111" stroke-width="0.08">21</text>
<text x="449.30" y="214.60" font-size="7.4" font-weight="bold" text-anchor="middle" fill="#111" stroke="#111" stroke-width="0.12" transform="rotate(-90 449.30 214.60)">TGF-β1 Concentration(pg/mL)</text>
<text x="536.30" y="279.00" font-size="7.6" font-weight="bold" text-anchor="middle" fill="#111" stroke="#111" stroke-width="0.12">DAYs after treated</text>
<rect x="476.10" y="233.40" width="8.20" height="25.00" fill="#1a0dff"/>
<line x1="480.20" y1="233.40" x2="480.20" y2="231.20" stroke="#1a0dff" stroke-width="1.0" opacity="0.75"/>
<line x1="478.15" y1="231.20" x2="482.25" y2="231.20" stroke="#1a0dff" stroke-width="1.0" opacity="0.75"/>
<rect x="488.70" y="208.30" width="8.20" height="50.10" fill="#ff1f10"/>
<line x1="492.80" y1="208.30" x2="492.80" y2="203.10" stroke="#ff1f10" stroke-width="1.0" opacity="0.75"/>
<line x1="490.75" y1="203.10" x2="494.85" y2="203.10" stroke="#ff1f10" stroke-width="1.0" opacity="0.75"/>
<rect x="501.10" y="217.70" width="8.10" height="40.70" fill="#4ddc2a"/>
<line x1="505.15" y1="217.70" x2="505.15" y2="217.20" stroke="#4ddc2a" stroke-width="1.0" opacity="0.75"/>
<line x1="503.12" y1="217.20" x2="507.17" y2="217.20" stroke="#4ddc2a" stroke-width="1.0" opacity="0.75"/>
<rect x="521.50" y="238.00" width="8.20" height="20.40" fill="#1a0dff"/>
<line x1="525.60" y1="238.00" x2="525.60" y2="235.20" stroke="#1a0dff" stroke-width="1.0" opacity="0.75"/>
<line x1="523.55" y1="235.20" x2="527.65" y2="235.20" stroke="#1a0dff" stroke-width="1.0" opacity="0.75"/>
<rect x="534.00" y="191.90" width="8.10" height="66.50" fill="#ff1f10"/>
<line x1="538.05" y1="191.90" x2="538.05" y2="187.00" stroke="#ff1f10" stroke-width="1.0" opacity="0.75"/>
<line x1="536.02" y1="187.00" x2="540.07" y2="187.00" stroke="#ff1f10" stroke-width="1.0" opacity="0.75"/>
<rect x="546.40" y="213.00" width="8.30" height="45.40" fill="#4ddc2a"/>
<line x1="550.55" y1="213.00" x2="550.55" y2="204.10" stroke="#4ddc2a" stroke-width="1.0" opacity="0.75"/>
<line x1="548.47" y1="204.10" x2="552.62" y2="204.10" stroke="#4ddc2a" stroke-width="1.0" opacity="0.75"/>
<rect x="567.10" y="228.70" width="7.90" height="29.70" fill="#1a0dff"/>
<line x1="571.05" y1="228.70" x2="571.05" y2="224.40" stroke="#1a0dff" stroke-width="1.0" opacity="0.75"/>
<line x1="569.07" y1="224.40" x2="573.02" y2="224.40" stroke="#1a0dff" stroke-width="1.0" opacity="0.75"/>
<rect x="579.30" y="194.90" width="8.10" height="63.50" fill="#ff1f10"/>
<line x1="583.35" y1="194.90" x2="583.35" y2="189.00" stroke="#ff1f10" stroke-width="1.0" opacity="0.75"/>
<line x1="581.32" y1="189.00" x2="585.37" y2="189.00" stroke="#ff1f10" stroke-width="1.0" opacity="0.75"/>
<rect x="591.70" y="218.90" width="8.30" height="39.50" fill="#4ddc2a"/>
<line x1="595.85" y1="218.90" x2="595.85" y2="211.60" stroke="#4ddc2a" stroke-width="1.0" opacity="0.75"/>
<line x1="593.78" y1="211.60" x2="597.92" y2="211.60" stroke="#4ddc2a" stroke-width="1.0" opacity="0.75"/>
<line x1="480.20" y1="198.90" x2="493.00" y2="198.90" stroke="#000" stroke-width="1.5"/>
<polygon points="480.60,190.49 481.28,192.23 483.12,191.94 481.95,193.40 483.12,194.86 481.28,194.57 480.60,196.31 479.92,194.57 478.08,194.86 479.25,193.40 478.08,191.94 479.92,192.23" fill="#000"/>
<polygon points="486.60,190.49 487.28,192.23 489.12,191.94 487.95,193.40 489.12,194.86 487.28,194.57 486.60,196.31 485.92,194.57 484.08,194.86 485.25,193.40 484.08,191.94 485.92,192.23" fill="#000"/>
<polygon points="492.60,190.49 493.28,192.23 495.12,191.94 493.95,193.40 495.12,194.86 493.28,194.57 492.60,196.31 491.92,194.57 490.08,194.86 491.25,193.40 490.08,191.94 491.92,192.23" fill="#000"/>
<line x1="493.00" y1="187.70" x2="505.20" y2="187.70" stroke="#000" stroke-width="1.5"/>
<polygon points="499.10,179.29 499.78,181.03 501.62,180.74 500.45,182.20 501.62,183.66 499.78,183.37 499.10,185.11 498.42,183.37 496.58,183.66 497.75,182.20 496.58,180.74 498.42,181.03" fill="#000"/>
<line x1="525.70" y1="182.50" x2="538.10" y2="182.50" stroke="#000" stroke-width="1.5"/>
<polygon points="525.90,174.09 526.58,175.83 528.42,175.54 527.25,177.00 528.42,178.46 526.58,178.17 525.90,179.91 525.22,178.17 523.38,178.46 524.55,177.00 523.38,175.54 525.22,175.83" fill="#000"/>
<polygon points="531.90,174.09 532.58,175.83 534.42,175.54 533.25,177.00 534.42,178.46 532.58,178.17 531.90,179.91 531.22,178.17 529.38,178.46 530.55,177.00 529.38,175.54 531.22,175.83" fill="#000"/>
<polygon points="537.90,174.09 538.58,175.83 540.42,175.54 539.25,177.00 540.42,178.46 538.58,178.17 537.90,179.91 537.22,178.17 535.38,178.46 536.55,177.00 535.38,175.54 537.22,175.83" fill="#000"/>
<line x1="538.10" y1="171.70" x2="550.40" y2="171.70" stroke="#000" stroke-width="1.5"/>
<polygon points="544.25,163.29 544.93,165.03 546.77,164.74 545.60,166.20 546.77,167.66 544.93,167.37 544.25,169.11 543.57,167.37 541.73,167.66 542.90,166.20 541.73,164.74 543.57,165.03" fill="#000"/>
<line x1="571.00" y1="184.80" x2="583.40" y2="184.80" stroke="#000" stroke-width="1.5"/>
<polygon points="571.20,176.39 571.88,178.13 573.72,177.84 572.55,179.30 573.72,180.76 571.88,180.47 571.20,182.21 570.52,180.47 568.68,180.76 569.85,179.30 568.68,177.84 570.52,178.13" fill="#000"/>
<polygon points="577.20,176.39 577.88,178.13 579.72,177.84 578.55,179.30 579.72,180.76 577.88,180.47 577.20,182.21 576.52,180.47 574.68,180.76 575.85,179.30 574.68,177.84 576.52,178.13" fill="#000"/>
<polygon points="583.20,176.39 583.88,178.13 585.72,177.84 584.55,179.30 585.72,180.76 583.88,180.47 583.20,182.21 582.52,180.47 580.68,180.76 581.85,179.30 580.68,177.84 582.52,178.13" fill="#000"/>
<line x1="583.40" y1="173.20" x2="595.60" y2="173.20" stroke="#000" stroke-width="1.5"/>
<polygon points="586.50,164.79 587.18,166.53 589.02,166.24 587.85,167.70 589.02,169.16 587.18,168.87 586.50,170.61 585.82,168.87 583.98,169.16 585.15,167.70 583.98,166.24 585.82,166.53" fill="#000"/>
<polygon points="592.50,164.79 593.18,166.53 595.02,166.24 593.85,167.70 595.02,169.16 593.18,168.87 592.50,170.61 591.82,168.87 589.98,169.16 591.15,167.70 589.98,166.24 591.82,166.53" fill="#000"/>
<rect x="608.40" y="159.30" width="10.70" height="5.30" fill="#1a0dff"/>
<text x="625.10" y="164.90" font-size="7.6" text-anchor="start" fill="#111" stroke="#111" stroke-width="0.08">CONTROL</text>
<rect x="608.40" y="172.65" width="10.70" height="5.30" fill="#ff1f10"/>
<text x="625.10" y="178.25" font-size="7.6" text-anchor="start" fill="#111" stroke="#111" stroke-width="0.08">BLM</text>
<rect x="608.40" y="186.00" width="10.70" height="5.30" fill="#4ddc2a"/>
<text x="625.10" y="191.60" font-size="7.6" text-anchor="start" fill="#111" stroke="#111" stroke-width="0.08">BLM + GL-V9</text>
<line x1="492.70" y1="373.70" x2="492.70" y2="459.80" stroke="#2b2b2b" stroke-width="1.1"/>
<line x1="489.70" y1="374.20" x2="492.70" y2="374.20" stroke="#2b2b2b" stroke-width="1.0"/>
<text x="487.20" y="376.70" font-size="7.1" text-anchor="end" fill="#1a1a1a" stroke="#1a1a1a" stroke-width="0.08">500</text>
<line x1="489.70" y1="391.20" x2="492.70" y2="391.20" stroke="#2b2b2b" stroke-width="1.0"/>
<text x="487.20" y="393.70" font-size="7.1" text-anchor="end" fill="#1a1a1a" stroke="#1a1a1a" stroke-width="0.08">400</text>
<line x1="489.70" y1="408.20" x2="492.70" y2="408.20" stroke="#2b2b2b" stroke-width="1.0"/>
<text x="487.20" y="410.70" font-size="7.1" text-anchor="end" fill="#1a1a1a" stroke="#1a1a1a" stroke-width="0.08">300</text>
<line x1="489.70" y1="425.20" x2="492.70" y2="425.20" stroke="#2b2b2b" stroke-width="1.0"/>
<text x="487.20" y="427.70" font-size="7.1" text-anchor="end" fill="#1a1a1a" stroke="#1a1a1a" stroke-width="0.08">200</text>
<line x1="489.70" y1="442.25" x2="492.70" y2="442.25" stroke="#2b2b2b" stroke-width="1.0"/>
<text x="487.20" y="444.75" font-size="7.1" text-anchor="end" fill="#1a1a1a" stroke="#1a1a1a" stroke-width="0.08">100</text>
<line x1="489.70" y1="459.30" x2="492.70" y2="459.30" stroke="#2b2b2b" stroke-width="1.0"/>
<text x="487.20" y="461.80" font-size="7.1" text-anchor="end" fill="#1a1a1a" stroke="#1a1a1a" stroke-width="0.08">0</text>
<line x1="492.20" y1="459.30" x2="621.40" y2="459.30" stroke="#2b2b2b" stroke-width="1.1"/>
<line x1="512.80" y1="459.30" x2="512.80" y2="462.70" stroke="#2b2b2b" stroke-width="1.2"/>
<text x="512.80" y="470.60" font-size="7.5" text-anchor="middle" fill="#111" stroke="#111" stroke-width="0.08">7</text>
<line x1="556.90" y1="459.30" x2="556.90" y2="462.70" stroke="#2b2b2b" stroke-width="1.2"/>
<text x="556.90" y="470.60" font-size="7.5" text-anchor="middle" fill="#111" stroke="#111" stroke-width="0.08">14</text>
<line x1="600.90" y1="459.30" x2="600.90" y2="462.70" stroke="#2b2b2b" stroke-width="1.2"/>
<text x="600.90" y="470.60" font-size="7.5" text-anchor="middle" fill="#111" stroke="#111" stroke-width="0.08">21</text>
<text x="465.00" y="416.00" font-size="7.6" font-weight="bold" text-anchor="middle" fill="#111" stroke="#111" stroke-width="0.12" transform="rotate(-90 465.00 416.00)">Number of CD206</text>
<text x="473.00" y="416.00" font-size="7.6" font-weight="bold" text-anchor="middle" fill="#111" stroke="#111" stroke-width="0.12" transform="rotate(-90 473.00 416.00)">Positive Cells/mm²</text>
<text x="558.40" y="484.20" font-size="7.4" font-weight="bold" text-anchor="middle" fill="#111" stroke="#111" stroke-width="0.12">DAYs after treated</text>
<rect x="496.70" y="453.90" width="8.10" height="5.40" fill="#1a0dff"/>
<line x1="500.75" y1="453.90" x2="500.75" y2="450.60" stroke="#1a0dff" stroke-width="1.0" opacity="0.75"/>
<line x1="498.73" y1="450.60" x2="502.77" y2="450.60" stroke="#1a0dff" stroke-width="1.0" opacity="0.75"/>
<rect x="508.70" y="411.20" width="8.30" height="48.10" fill="#ff1f10"/>
<line x1="512.85" y1="411.20" x2="512.85" y2="401.30" stroke="#ff1f10" stroke-width="1.0" opacity="0.75"/>
<line x1="510.78" y1="401.30" x2="514.93" y2="401.30" stroke="#ff1f10" stroke-width="1.0" opacity="0.75"/>
<rect x="521.00" y="437.80" width="7.80" height="21.50" fill="#4ddc2a"/>
<line x1="524.90" y1="437.80" x2="524.90" y2="429.30" stroke="#4ddc2a" stroke-width="1.0" opacity="0.75"/>
<line x1="522.95" y1="429.30" x2="526.85" y2="429.30" stroke="#4ddc2a" stroke-width="1.0" opacity="0.75"/>
<rect x="540.80" y="454.20" width="8.10" height="5.10" fill="#1a0dff"/>
<line x1="544.85" y1="454.20" x2="544.85" y2="453.00" stroke="#1a0dff" stroke-width="1.0" opacity="0.75"/>
<line x1="542.82" y1="453.00" x2="546.87" y2="453.00" stroke="#1a0dff" stroke-width="1.0" opacity="0.75"/>
<rect x="553.00" y="393.10" width="7.90" height="66.20" fill="#ff1f10"/>
<line x1="556.95" y1="393.10" x2="556.95" y2="379.40" stroke="#ff1f10" stroke-width="1.0" opacity="0.75"/>
<line x1="554.98" y1="379.40" x2="558.93" y2="379.40" stroke="#ff1f10" stroke-width="1.0" opacity="0.75"/>
<rect x="565.00" y="428.20" width="7.90" height="31.10" fill="#4ddc2a"/>
<line x1="568.95" y1="428.20" x2="568.95" y2="422.70" stroke="#4ddc2a" stroke-width="1.0" opacity="0.75"/>
<line x1="566.98" y1="422.70" x2="570.93" y2="422.70" stroke="#4ddc2a" stroke-width="1.0" opacity="0.75"/>
<rect x="584.60" y="453.10" width="8.20" height="6.20" fill="#1a0dff"/>
<line x1="588.70" y1="453.10" x2="588.70" y2="449.90" stroke="#1a0dff" stroke-width="1.0" opacity="0.75"/>
<line x1="586.65" y1="449.90" x2="590.75" y2="449.90" stroke="#1a0dff" stroke-width="1.0" opacity="0.75"/>
<rect x="596.90" y="397.10" width="7.90" height="62.20" fill="#ff1f10"/>
<line x1="600.85" y1="397.10" x2="600.85" y2="385.90" stroke="#ff1f10" stroke-width="1.0" opacity="0.75"/>
<line x1="598.87" y1="385.90" x2="602.82" y2="385.90" stroke="#ff1f10" stroke-width="1.0" opacity="0.75"/>
<rect x="609.10" y="432.10" width="7.90" height="27.20" fill="#4ddc2a"/>
<line x1="613.05" y1="432.10" x2="613.05" y2="424.60" stroke="#4ddc2a" stroke-width="1.0" opacity="0.75"/>
<line x1="611.07" y1="424.60" x2="615.02" y2="424.60" stroke="#4ddc2a" stroke-width="1.0" opacity="0.75"/>
<line x1="500.90" y1="396.80" x2="512.70" y2="396.80" stroke="#000" stroke-width="1.5"/>
<polygon points="499.15,388.85 499.68,390.23 501.14,390.00 500.22,391.15 501.14,392.30 499.68,392.07 499.15,393.45 498.62,392.07 497.16,392.30 498.08,391.15 497.16,390.00 498.62,390.23" fill="#000"/>
<polygon points="504.25,388.85 504.78,390.23 506.24,390.00 505.32,391.15 506.24,392.30 504.78,392.07 504.25,393.45 503.72,392.07 502.26,392.30 503.18,391.15 502.26,390.00 503.72,390.23" fill="#000"/>
<polygon points="509.35,388.85 509.88,390.23 511.34,390.00 510.42,391.15 511.34,392.30 509.88,392.07 509.35,393.45 508.82,392.07 507.36,392.30 508.28,391.15 507.36,390.00 508.82,390.23" fill="#000"/>
<polygon points="514.45,388.85 514.98,390.23 516.44,390.00 515.52,391.15 516.44,392.30 514.98,392.07 514.45,393.45 513.92,392.07 512.46,392.30 513.38,391.15 512.46,390.00 513.92,390.23" fill="#000"/>
<line x1="513.10" y1="385.60" x2="524.90" y2="385.60" stroke="#000" stroke-width="1.5"/>
<polygon points="511.35,377.65 511.88,379.03 513.34,378.80 512.42,379.95 513.34,381.10 511.88,380.87 511.35,382.25 510.82,380.87 509.36,381.10 510.28,379.95 509.36,378.80 510.82,379.03" fill="#000"/>
<polygon points="516.45,377.65 516.98,379.03 518.44,378.80 517.52,379.95 518.44,381.10 516.98,380.87 516.45,382.25 515.92,380.87 514.46,381.10 515.38,379.95 514.46,378.80 515.92,379.03" fill="#000"/>
<polygon points="521.55,377.65 522.08,379.03 523.54,378.80 522.62,379.95 523.54,381.10 522.08,380.87 521.55,382.25 521.02,380.87 519.56,381.10 520.48,379.95 519.56,378.80 521.02,379.03" fill="#000"/>
<polygon points="526.65,377.65 527.18,379.03 528.64,378.80 527.72,379.95 528.64,381.10 527.18,380.87 526.65,382.25 526.12,380.87 524.66,381.10 525.58,379.95 524.66,378.80 526.12,379.03" fill="#000"/>
<line x1="545.40" y1="374.80" x2="557.00" y2="374.80" stroke="#000" stroke-width="1.5"/>
<polygon points="543.55,366.85 544.08,368.23 545.54,368.00 544.62,369.15 545.54,370.30 544.08,370.07 543.55,371.45 543.02,370.07 541.56,370.30 542.48,369.15 541.56,368.00 543.02,368.23" fill="#000"/>
<polygon points="548.65,366.85 549.18,368.23 550.64,368.00 549.72,369.15 550.64,370.30 549.18,370.07 548.65,371.45 548.12,370.07 546.66,370.30 547.58,369.15 546.66,368.00 548.12,368.23" fill="#000"/>
<polygon points="553.75,366.85 554.28,368.23 555.74,368.00 554.82,369.15 555.74,370.30 554.28,370.07 553.75,371.45 553.22,370.07 551.76,370.30 552.68,369.15 551.76,368.00 553.22,368.23" fill="#000"/>
<polygon points="558.85,366.85 559.38,368.23 560.84,368.00 559.92,369.15 560.84,370.30 559.38,370.07 558.85,371.45 558.32,370.07 556.86,370.30 557.78,369.15 556.86,368.00 558.32,368.23" fill="#000"/>
<line x1="557.00" y1="362.20" x2="568.80" y2="362.20" stroke="#000" stroke-width="1.5"/>
<polygon points="555.25,354.25 555.78,355.63 557.24,355.40 556.32,356.55 557.24,357.70 555.78,357.47 555.25,358.85 554.72,357.47 553.26,357.70 554.18,356.55 553.26,355.40 554.72,355.63" fill="#000"/>
<polygon points="560.35,354.25 560.88,355.63 562.34,355.40 561.42,356.55 562.34,357.70 560.88,357.47 560.35,358.85 559.82,357.47 558.36,357.70 559.28,356.55 558.36,355.40 559.82,355.63" fill="#000"/>
<polygon points="565.45,354.25 565.98,355.63 567.44,355.40 566.52,356.55 567.44,357.70 565.98,357.47 565.45,358.85 564.92,357.47 563.46,357.70 564.38,356.55 563.46,355.40 564.92,355.63" fill="#000"/>
<polygon points="570.55,354.25 571.08,355.63 572.54,355.40 571.62,356.55 572.54,357.70 571.08,357.47 570.55,358.85 570.02,357.47 568.56,357.70 569.48,356.55 568.56,355.40 570.02,355.63" fill="#000"/>
<line x1="589.40" y1="381.30" x2="600.90" y2="381.30" stroke="#000" stroke-width="1.5"/>
<polygon points="587.50,373.35 588.03,374.73 589.49,374.50 588.57,375.65 589.49,376.80 588.03,376.57 587.50,377.95 586.97,376.57 585.51,376.80 586.43,375.65 585.51,374.50 586.97,374.73" fill="#000"/>
<polygon points="592.60,373.35 593.13,374.73 594.59,374.50 593.67,375.65 594.59,376.80 593.13,376.57 592.60,377.95 592.07,376.57 590.61,376.80 591.53,375.65 590.61,374.50 592.07,374.73" fill="#000"/>
<polygon points="597.70,373.35 598.23,374.73 599.69,374.50 598.77,375.65 599.69,376.80 598.23,376.57 597.70,377.95 597.17,376.57 595.71,376.80 596.63,375.65 595.71,374.50 597.17,374.73" fill="#000"/>
<polygon points="602.80,373.35 603.33,374.73 604.79,374.50 603.87,375.65 604.79,376.80 603.33,376.57 602.80,377.95 602.27,376.57 600.81,376.80 601.73,375.65 600.81,374.50 602.27,374.73" fill="#000"/>
<line x1="601.30" y1="368.90" x2="612.70" y2="368.90" stroke="#000" stroke-width="1.5"/>
<polygon points="599.35,360.95 599.88,362.33 601.34,362.10 600.42,363.25 601.34,364.40 599.88,364.17 599.35,365.55 598.82,364.17 597.36,364.40 598.28,363.25 597.36,362.10 598.82,362.33" fill="#000"/>
<polygon points="604.45,360.95 604.98,362.33 606.44,362.10 605.52,363.25 606.44,364.40 604.98,364.17 604.45,365.55 603.92,364.17 602.46,364.40 603.38,363.25 602.46,362.10 603.92,362.33" fill="#000"/>
<polygon points="609.55,360.95 610.08,362.33 611.54,362.10 610.62,363.25 611.54,364.40 610.08,364.17 609.55,365.55 609.02,364.17 607.56,364.40 608.48,363.25 607.56,362.10 609.02,362.33" fill="#000"/>
<polygon points="614.65,360.95 615.18,362.33 616.64,362.10 615.72,363.25 616.64,364.40 615.18,364.17 614.65,365.55 614.12,364.17 612.66,364.40 613.58,363.25 612.66,362.10 614.12,362.33" fill="#000"/>
<rect x="623.60" y="348.20" width="10.70" height="5.30" fill="#1a0dff"/>
<text x="639.70" y="353.80" font-size="7.3" text-anchor="start" fill="#111" stroke="#111" stroke-width="0.08">CONTROL</text>
<rect x="623.60" y="360.95" width="10.70" height="5.30" fill="#ff1f10"/>
<text x="639.70" y="366.55" font-size="7.3" text-anchor="start" fill="#111" stroke="#111" stroke-width="0.08">BLM</text>
<rect x="623.60" y="373.70" width="10.70" height="5.30" fill="#4ddc2a"/>
<text x="639.70" y="379.30" font-size="7.3" text-anchor="start" fill="#111" stroke="#111" stroke-width="0.08">BLM + GL-V9</text>
<text x="3.30" y="311.40" font-size="11" text-anchor="start" fill="#111" stroke="#111" stroke-width="0.08">E</text>
<text x="34.20" y="306.00" font-size="8.4" font-weight="bold" text-anchor="start" fill="#111" stroke="#111" stroke-width="0.12">DAY (s)</text>
<text x="126.10" y="306.60" font-size="8.6" font-weight="bold" text-anchor="middle" fill="#111" stroke="#111" stroke-width="0.12">7</text>
<text x="257.10" y="307.30" font-size="8.6" font-weight="bold" text-anchor="middle" fill="#111" stroke="#111" stroke-width="0.12">14</text>
<text x="390.00" y="307.30" font-size="8.6" font-weight="bold" text-anchor="middle" fill="#111" stroke="#111" stroke-width="0.12">21</text>
<text x="53.20" y="351.40" font-size="8.4" font-weight="bold" text-anchor="end" fill="#111" stroke="#111" stroke-width="0.12">Control</text>
<text x="53.20" y="412.60" font-size="8.4" font-weight="bold" text-anchor="end" fill="#111" stroke="#111" stroke-width="0.12">BLM</text>
<text x="53.20" y="478.70" font-size="8.4" font-weight="bold" text-anchor="end" fill="#111" stroke="#111" stroke-width="0.12">BLM + GL-V9</text>
</svg></body></html>
